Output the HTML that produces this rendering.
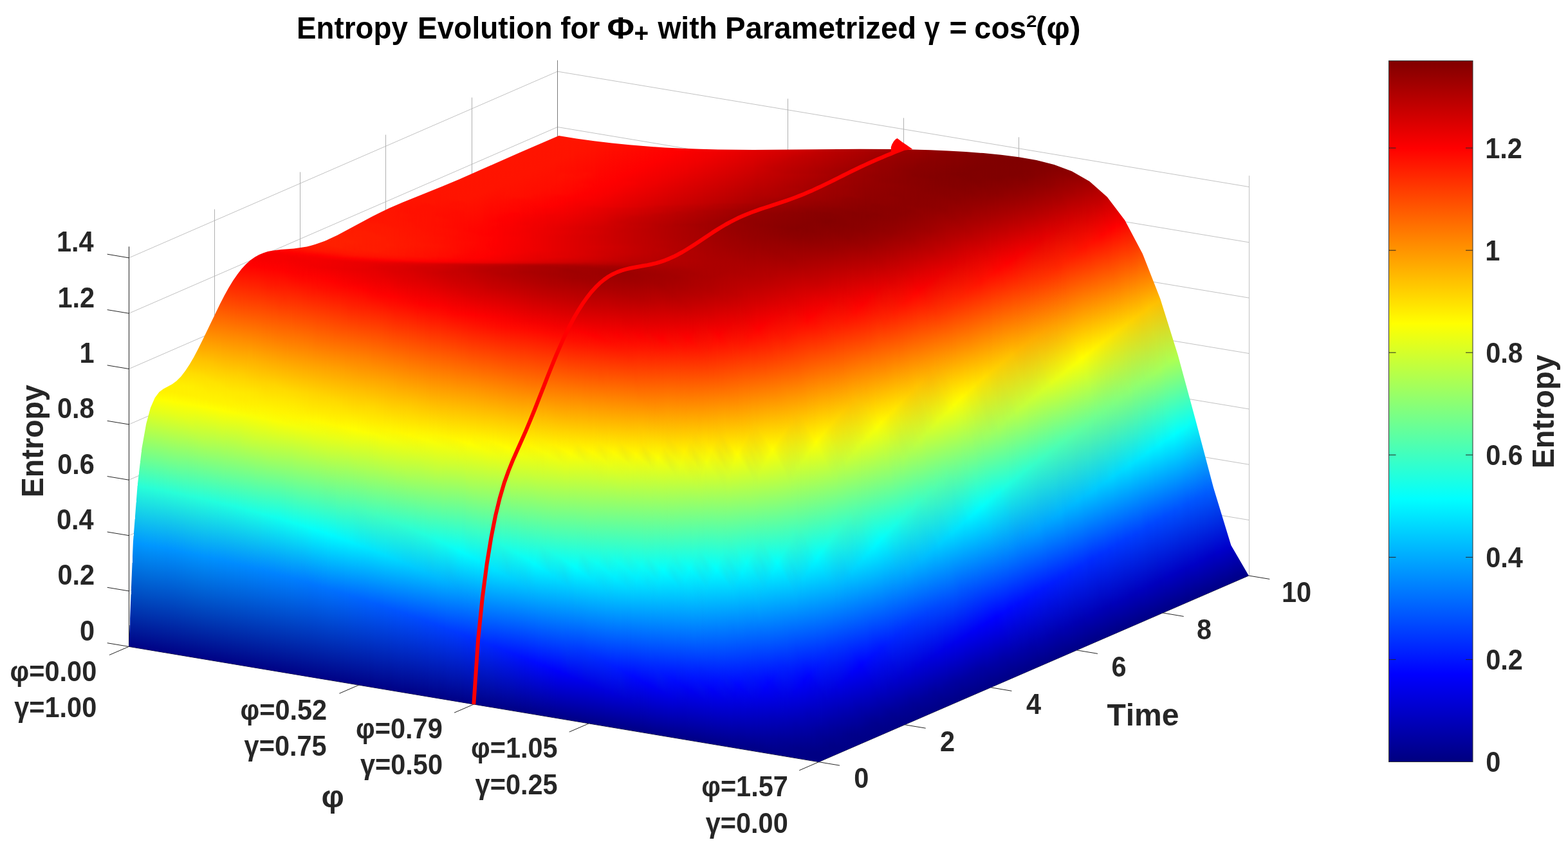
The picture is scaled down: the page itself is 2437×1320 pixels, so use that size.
<!DOCTYPE html>
<html lang="en"><head><meta charset="utf-8"><title>Entropy Evolution</title>
<style>
html,body{margin:0;padding:0;background:#fff;}
body{width:2437px;height:1320px;overflow:hidden;}
body{position:relative}
svg{position:absolute;left:0;top:0;font-family:"Liberation Sans",Arial,Helvetica,sans-serif;font-weight:bold;}
#surf{position:absolute;left:0;top:0;width:2437px;height:1320px}
#surf i{position:absolute;width:2px;background-repeat:no-repeat;background-position:0 .5px}
.g{stroke:#b0b0b0;stroke-width:1;fill:none}
.g2{stroke:#7a7a7a;stroke-width:1;fill:none}
.g3{stroke:#c2c2c2;stroke-width:1;fill:none}
.a{stroke:#262626;stroke-width:1;fill:none}
text{font-kerning:none}
.t{fill:#262626}
.ti{fill:#000}
</style></head>
<body>

<svg width="2437" height="1320" viewBox="0 0 2437 1320">
<rect width="2437" height="1320" fill="#fff"/>
<g><line x1="200.5" y1="918.9" x2="866.5" y2="629.2" class="g3"/><line x1="866.5" y1="629.2" x2="1941.5" y2="808.6" class="g3"/><line x1="200.5" y1="832.6" x2="866.5" y2="542.9" class="g3"/><line x1="866.5" y1="542.9" x2="1941.5" y2="722.3" class="g3"/><line x1="200.5" y1="746.2" x2="866.5" y2="456.5" class="g3"/><line x1="866.5" y1="456.5" x2="1941.5" y2="636" class="g3"/><line x1="200.5" y1="659.9" x2="866.5" y2="370.2" class="g3"/><line x1="866.5" y1="370.2" x2="1941.5" y2="549.6" class="g3"/><line x1="200.5" y1="573.5" x2="866.5" y2="283.8" class="g3"/><line x1="866.5" y1="283.8" x2="1941.5" y2="463.2" class="g3"/><line x1="200.5" y1="487.2" x2="866.5" y2="197.5" class="g3"/><line x1="866.5" y1="197.5" x2="1941.5" y2="376.9" class="g3"/><line x1="200.5" y1="400.9" x2="866.5" y2="111.1" class="g3"/><line x1="866.5" y1="111.1" x2="1941.5" y2="290.6" class="g3"/><line x1="333.5" y1="947.4" x2="333.5" y2="325.4" class="g"/><line x1="466.5" y1="889.4" x2="466.5" y2="267.5" class="g"/><line x1="599.5" y1="831.5" x2="599.5" y2="209.5" class="g"/><line x1="733.5" y1="773.5" x2="733.5" y2="151.6" class="g"/><line x1="866.5" y1="715.6" x2="866.5" y2="93.7" class="g2"/><line x1="1224.5" y1="775.4" x2="1224.5" y2="153.5" class="g"/><line x1="1404.5" y1="805.3" x2="1404.5" y2="183.4" class="g"/><line x1="1583.5" y1="835.2" x2="1583.5" y2="213.3" class="g"/><line x1="1941.5" y1="895" x2="1941.5" y2="273.1" class="g3"/></g>
<g><line x1="200.5" y1="1005.3" x2="200.5" y2="383.4" class="a"/><line x1="200.2" y1="1005.3" x2="1272.5" y2="1184.7" class="a"/><line x1="1272.5" y1="1184.7" x2="1940.8" y2="895" class="a"/><line x1="200.2" y1="1005.3" x2="166.7" y2="999.7" class="a"/><line x1="200.2" y1="918.9" x2="166.7" y2="913.3" class="a"/><line x1="200.2" y1="832.6" x2="166.7" y2="827" class="a"/><line x1="200.2" y1="746.2" x2="166.7" y2="740.6" class="a"/><line x1="200.2" y1="659.9" x2="166.7" y2="654.3" class="a"/><line x1="200.2" y1="573.5" x2="166.7" y2="567.9" class="a"/><line x1="200.2" y1="487.2" x2="166.7" y2="481.6" class="a"/><line x1="200.2" y1="400.9" x2="166.7" y2="395.2" class="a"/><line x1="200.2" y1="1005.3" x2="169.9" y2="1018.4" class="a"/><line x1="557.6" y1="1065.1" x2="527.4" y2="1078.2" class="a"/><line x1="736.3" y1="1095" x2="706.1" y2="1108.1" class="a"/><line x1="915.1" y1="1124.9" x2="884.8" y2="1138" class="a"/><line x1="1272.5" y1="1184.7" x2="1242.2" y2="1197.8" class="a"/><line x1="1272.5" y1="1184.7" x2="1305" y2="1190.1" class="a"/><line x1="1406.2" y1="1126.8" x2="1438.7" y2="1132.2" class="a"/><line x1="1539.8" y1="1068.8" x2="1572.4" y2="1074.3" class="a"/><line x1="1673.5" y1="1010.9" x2="1706" y2="1016.3" class="a"/><line x1="1807.1" y1="952.9" x2="1839.7" y2="958.4" class="a"/><line x1="1940.8" y1="895" x2="1973.3" y2="900.4" class="a"/></g>
</svg>
<div id="surf" style="clip-path:polygon(402.7px 396px,396px 399.7px,389.2px 404.6px,382.5px 410.6px,375.7px 417.8px,369px 426.4px,362.2px 436.2px,355.5px 447.3px,348.7px 459.4px,342px 472.4px,314.9px 528.6px,308.2px 542.1px,301.4px 554.9px,294.7px 566.6px,287.9px 576.8px,281.2px 585.4px,274.4px 592.2px,267.7px 597.2px,254.2px 604.5px,247.4px 609.5px,240.7px 618.5px,233.9px 633.9px,227.2px 658.9px,220.4px 697.2px,213.7px 754.6px,206.9px 842.4px,200.2px 1005.3px,1272.5px 1184.7px,1940.8px 895px,1913.3px 847.7px,1885.8px 757.6px,1858.3px 653.4px,1830.8px 552.2px,1803.3px 464.4px,1775.8px 394.4px,1748.3px 342.5px,1720.8px 306.2px,1693.4px 282px,1665.9px 266.2px,1638.4px 256px,1610.9px 249.1px,1583.4px 244.3px,1555.9px 240.8px,1528.4px 238.1px,1500.9px 236px,1473.4px 234.4px,1445.9px 233.3px,1418.4px 232.5px,1390.9px 232px,1335.9px 231.7px,1170.9px 233px,1116px 232.5px,1088.5px 231.8px,1061px 230.8px,1033.5px 229.4px,1006px 227.6px,978.5px 225.3px,951px 222.5px,923.5px 219.2px,896px 215.4px,868.5px 211.1px,807.7px 237.3px,713.2px 279px,686.2px 290.3px,625.5px 314.8px,605.2px 323.6px,591.7px 329.9px,578.2px 336.7px,524.2px 365.7px,510.7px 372.1px,504px 375px,490.5px 379.8px,483.7px 381.8px,477px 383.4px,463.5px 385.6px,456.7px 386.4px,436.5px 388px,423px 389.7px,416.2px 391.1px,409.5px 393.2px)"><i style="left:200px;top:971px;height:38px;background-image:linear-gradient(#001d9b,#001b99 5px,#000083 35px,#000083 37px)"></i><i style="left:202px;top:923px;height:86px;background-image:linear-gradient(#0049bf,#0047be 5px,#000084 83px,#000084 85px)"></i><i style="left:204px;top:874px;height:135px;background-image:linear-gradient(#0077e4,#0075e3 5px,#000184 132px,#000184 134px)"></i><i style="left:206px;top:832px;height:178px;background-image:linear-gradient(#03a0fc,#039efc 4px,#0096fe 11px,#000084 175px,#000084 177px)"></i><i style="left:208px;top:806px;height:204px;background-image:linear-gradient(#0fbef0,#0ebdf1 4px,#0097fe 37px,#000084 201px,#000084 203px)"></i><i style="left:210px;top:780px;height:230px;background-image:linear-gradient(#1bdde4,#1adce5 4px,#0097ff 63px,#000184 227px,#000184 229px)"></i><i style="left:212px;top:754px;height:257px;background-image:linear-gradient(#27fcd8,#26fad9 4px,#0097ff 89px,#000084 254px,#000084 256px)"></i><i style="left:214px;top:736px;height:275px;background-image:linear-gradient(#41ffbe,#41ffbe 3px,#28fed7 19px,#0097fe 108px,#000084 272px,#000084 274px)"></i><i style="left:216px;top:719px;height:292px;background-image:linear-gradient(#5dffa2,#5dffa2 3px,#28ffd7 36px,#0097ff 125px,#000184 289px,#000184 291px)"></i><i style="left:218px;top:702px;height:310px;background-image:linear-gradient(#7aff85,#7aff85 3px,#27fed8 54px,#0096fe 143px,#000084 307px,#000084 309px)"></i><i style="left:220px;top:688px;height:324px;background-image:linear-gradient(#90ff6f,#8fff70 4px,#28fed7 68px,#0097fe 157px,#000084 321px,#000084 323px)"></i><i style="left:222px;top:677px;height:335px;background-image:linear-gradient(#a2ff5d,#a0ff5f 4px,#52ffad 53px,#28ffd7 79px,#0097ff 168px,#000184 332px,#000184 334px)"></i><i style="left:224px;top:666px;height:347px;background-image:linear-gradient(#b3ff4c,#b1ff4e 4px,#6bff94 49px,#27fed8 91px,#0097fe 180px,#000084 344px,#000084 346px)"></i><i style="left:226px;top:655px;height:358px;background-image:linear-gradient(#c4ff3b,#c2ff3d 4px,#70ff8f 57px,#28fed7 102px,#0097ff 191px,#000084 355px,#000084 357px)"></i><i style="left:228px;top:647px;height:366px;background-image:linear-gradient(#d1ff2e,#cfff30 4px,#73ff8c 64px,#28ffd7 110px,#0097ff 199px,#000184 363px,#000184 365px)"></i><i style="left:230px;top:640px;height:374px;background-image:linear-gradient(#dcff23,#daff25 4px,#73ff8c 71px,#27fed8 118px,#0097fe 207px,#000084 371px,#000084 373px)"></i><i style="left:232px;top:633px;height:381px;background-image:linear-gradient(#e7ff18,#e5ff1a 4px,#74ff8b 78px,#28fed7 125px,#0097ff 214px,#000084 378px,#000084 380px)"></i><i style="left:234px;top:627px;height:387px;background-image:linear-gradient(#efff10,#ef1 4px,#76ff89 83px,#28ffd7 131px,#0097ff 220px,#000184 384px,#000184 386px)"></i><i style="left:236px;top:623px;height:392px;background-image:linear-gradient(#f5ff0a,#f4ff0b 4px,#df2 20px,#73ff8c 89px,#27fed8 136px,#0096fe 225px,#000084 389px,#000084 391px)"></i><i style="left:238px;top:618px;height:397px;background-image:linear-gradient(#fbff04,#faff05 4px,#e2ff1d 22px,#74ff8b 94px,#28fed7 141px,#0096ff 230px,#000084 394px,#000084 396px)"></i><i style="left:240px;top:614px;height:401px;background-image:linear-gradient(#fffe00,#feff01 5px,#e4ff1b 25px,#74ff8b 98px,#28ffd7 145px,#0096ff 234px,#000184 398px,#000184 400px)"></i><i style="left:242px;top:612px;height:404px;background-image:linear-gradient(#fffb00,#fffc00 4px,#fdff02 8px,#e3ff1c 28px,#73ff8c 101px,#28fed7 148px,#0095fe 237px,#000084 401px,#000084 403px)"></i><i style="left:244px;top:609px;height:407px;background-image:linear-gradient(#fff700,#fff800 4px,#fdff02 11px,#e4ff1b 31px,#74ff8b 104px,#28ffd7 151px,#0096ff 240px,#000084 404px,#000084 406px)"></i><i style="left:246px;top:607px;height:409px;background-image:linear-gradient(#fff400,#fff500 4px,#feff01 13px,#e4ff1b 33px,#74ff8b 106px,#27fed8 154px,#0095fe 243px,#000184 406px,#000184 408px)"></i><i style="left:248px;top:605px;height:412px;background-image:linear-gradient(#fff200,#fff400 5px,#feff01 15px,#e5ff1a 35px,#73ff8c 109px,#28fed7 156px,#0095ff 245px,#000084 409px,#000084 411px)"></i><i style="left:250px;top:604px;height:413px;background-image:linear-gradient(#fff100,#fff300 6px,#ff0 16px,#e4ff1b 37px,#74ff8b 110px,#28ffd7 157px,#0095ff 246px,#000084 410px,#000084 412px)"></i><i style="left:252px;top:602px;height:415px;background-image:linear-gradient(#fff000,#fff200 7px,#feff01 19px,#e5ff1a 39px,#73ff8c 113px,#27fed8 160px,#0094fe 249px,#000184 412px,#000184 414px)"></i><i style="left:254px;top:601px;height:417px;background-image:linear-gradient(#ffef00,#fff200 8px,#feff01 20px,#e5ff1a 40px,#74ff8b 114px,#28fed7 161px,#0094ff 250px,#000084 414px,#000084 416px)"></i><i style="left:256px;top:600px;height:418px;background-image:linear-gradient(#ffef00,#fff100 8px,#ff0 21px,#e4ff1b 42px,#74ff8b 115px,#28ffd7 162px,#0094ff 251px,#000084 415px,#000084 417px)"></i><i style="left:258px;top:599px;height:419px;background-image:linear-gradient(#ffef00,#fff000 8px,#fff900 17px,#feff01 23px,#e5ff1a 43px,#75ff8a 116px,#28fed7 164px,#0093fe 253px,#000184 416px,#000184 418px)"></i><i style="left:260px;top:598px;height:421px;background-image:linear-gradient(#ffef00,#fff000 9px,#fff900 18px,#feff01 24px,#e5ff1a 44px,#74ff8b 118px,#28ffd7 165px,#0093ff 254px,#000084 418px,#000084 420px)"></i><i style="left:262px;top:597px;height:422px;background-image:linear-gradient(#ffef00,#fff100 11px,#fffb00 21px,#feff01 26px,#e4ff1b 46px,#75ff8a 119px,#27fed8 167px,#0093fe 256px,#000084 419px,#000084 421px)"></i><i style="left:264px;top:595px;height:424px;background-image:linear-gradient(#ffef00,#fff000 13px,#fff900 22px,#feff01 28px,#e3ff1c 49px,#74ff8b 122px,#28fed7 169px,#0093ff 258px,#000184 421px,#000184 423px)"></i><i style="left:266px;top:594px;height:426px;background-image:linear-gradient(#ffef00,#fff000 14px,#fff900 23px,#feff01 29px,#e4ff1b 50px,#74ff8b 123px,#28ffd7 170px,#0093ff 259px,#000084 423px,#000084 425px)"></i><i style="left:268px;top:593px;height:427px;background-image:linear-gradient(#fe0,#fff000 15px,#fff800 24px,#feff01 31px,#e4ff1b 51px,#75ff8a 124px,#28fed7 172px,#0093fe 261px,#000084 424px,#000084 426px)"></i><i style="left:270px;top:591px;height:429px;background-image:linear-gradient(#ffed00,#fff000 18px,#fff900 27px,#feff01 33px,#e3ff1c 54px,#75ff8a 126px,#28ffd7 174px,#0093ff 263px,#000184 426px,#000184 428px)"></i><i style="left:272px;top:590px;height:431px;background-image:linear-gradient(#ffec00,#ffef00 13px,#fff100 20px,#fffc00 31px,#fcff03 36px,#e4ff1b 55px,#74ff8b 128px,#27fed8 176px,#0093ff 264px,#000084 428px,#000084 430px)"></i><i style="left:274px;top:588px;height:433px;background-image:linear-gradient(#ffea00,#ffed00 6px,#ffef00 13px,#fff100 22px,#fffa00 32px,#feff01 37px,#e4ff1b 57px,#75ff8a 130px,#28fed7 178px,#0093ff 267px,#000084 430px,#000084 432px)"></i><i style="left:276px;top:586px;height:435px;background-image:linear-gradient(#ffe800,#ffe900 4px,#ffef00 14px,#fff000 24px,#fff900 33px,#feff01 39px,#e5ff1a 59px,#71ff8e 135px,#28ffd7 180px,#0093ff 269px,#000184 432px,#000184 434px)"></i><i style="left:278px;top:584px;height:438px;background-image:linear-gradient(#ffe600,#ffe700 4px,#ffef00 15px,#fff000 26px,#fff800 35px,#feff01 41px,#e4ff1b 62px,#69ff96 142px,#28fed7 183px,#0093fe 272px,#000084 435px,#000084 437px)"></i><i style="left:280px;top:582px;height:440px;background-image:linear-gradient(#ffe300,#ffe400 4px,#ffef00 17px,#fff000 28px,#fff800 37px,#feff01 44px,#e5ff1a 64px,#64ff9b 148px,#28ffd7 185px,#0093ff 274px,#000084 437px,#000084 439px)"></i><i style="left:282px;top:580px;height:442px;background-image:linear-gradient(#ffe100,#ffe300 5px,#fe0 18px,#fff000 31px,#fff900 40px,#feff01 46px,#e5ff1a 66px,#5cffa3 155px,#27fed8 188px,#0093ff 276px,#000184 439px,#000184 441px)"></i><i style="left:284px;top:577px;height:446px;background-image:linear-gradient(#ffde00,#ffe000 5px,#ffef00 22px,#fff000 34px,#fffa00 44px,#fdff02 50px,#e4ff1b 70px,#5fa 163px,#28fed7 191px,#0093ff 280px,#000084 443px,#000084 445px)"></i><i style="left:286px;top:574px;height:449px;background-image:linear-gradient(#ffdc00,#fd0 5px,#ffef00 25px,#fff100 38px,#fffa00 48px,#feff01 53px,#e5ff1a 73px,#4dffb2 171px,#27fed8 195px,#0093ff 283px,#000084 446px,#000084 448px)"></i><i style="left:288px;top:571px;height:452px;background-image:linear-gradient(#ffd800,#ffd900 4px,#fe0 28px,#fff000 41px,#fff900 50px,#feff01 56px,#e4ff1b 77px,#42ffbd 181px,#28fed7 198px,#0093fe 287px,#000184 449px,#000184 451px)"></i><i style="left:290px;top:568px;height:456px;background-image:linear-gradient(#ffd300,#ffd400 4px,#ffde00 12px,#ffef00 32px,#fff000 44px,#fffa00 54px,#fdff02 60px,#e1ff1e 82px,#36ffc9 192px,#27fed8 202px,#0093ff 290px,#000084 453px,#000084 455px)"></i><i style="left:292px;top:565px;height:459px;background-image:linear-gradient(#ffce00,#ffd000 4px,#fd0 14px,#ffef00 35px,#fff100 48px,#fffa00 58px,#feff01 63px,#dfff20 87px,#27fed8 205px,#0093fe 294px,#000084 456px,#000084 458px)"></i><i style="left:294px;top:562px;height:462px;background-image:linear-gradient(#ffca00,#ffcb00 4px,#fd0 18px,#ffef00 39px,#fff000 51px,#fff900 60px,#feff01 66px,#dbff24 93px,#28ffd7 208px,#0093ff 297px,#000184 459px,#000184 461px)"></i><i style="left:296px;top:559px;height:466px;background-image:linear-gradient(#ffc700,#ffc900 5px,#fd0 21px,#ffef00 42px,#fff000 54px,#fff800 63px,#ff0 69px,#d9ff26 98px,#27fed8 212px,#0093ff 300px,#000084 463px,#000084 465px)"></i><i style="left:298px;top:555px;height:470px;background-image:linear-gradient(#ffc300,#ffc500 5px,#ffd100 16px,#ffde00 26px,#fe0 45px,#fff100 59px,#fffa00 69px,#feff01 74px,#d5ff2a 105px,#27fed8 216px,#0093fe 305px,#000084 467px,#000084 469px)"></i><i style="left:300px;top:552px;height:473px;background-image:linear-gradient(#ffc000,#ffc200 5px,#ffcf00 18px,#fd0 29px,#ffed00 47px,#fff100 63px,#feff01 77px,#ceff31 113px,#27ffd8 219px,#0093ff 308px,#000184 470px,#000184 472px)"></i><i style="left:302px;top:548px;height:478px;background-image:linear-gradient(#ffba00,#fb0 4px,#ffd000 23px,#fd0 33px,#ffec00 51px,#ffef00 60px,#fff100 67px,#fffc00 78px,#fdff02 82px,#c8ff37 121px,#27fed8 224px,#0093fe 313px,#000084 475px,#000084 477px)"></i><i style="left:304px;top:544px;height:482px;background-image:linear-gradient(#ffb400,#ffb500 4px,#ffc200 14px,#ffd000 27px,#fd0 37px,#ffec00 56px,#fff100 72px,#feff01 86px,#c1ff3e 130px,#26ffd9 228px,#0093ff 317px,#000084 479px,#000084 481px)"></i><i style="left:306px;top:540px;height:486px;background-image:linear-gradient(#ffad00,#ffaf00 4px,#ffc200 18px,#ffcf00 31px,#fd0 42px,#ffec00 60px,#ffef00 69px,#fff200 77px,#feff01 90px,#bdff42 137px,#26fed9 233px,#0093ff 321px,#000184 483px,#000184 485px)"></i><i style="left:308px;top:537px;height:490px;background-image:linear-gradient(#ffa900,#fa0 4px,#ffc100 21px,#ffcf00 34px,#fd0 45px,#ffec00 64px,#fff200 80px,#ff0 93px,#bf4 142px,#26ffd9 236px,#0093ff 325px,#000084 487px,#000084 489px)"></i><i style="left:310px;top:533px;height:494px;background-image:linear-gradient(#ffa500,#ffa600 4px,#ffc200 26px,#ffd000 39px,#fd0 49px,#ffec00 69px,#fff300 86px,#feff01 98px,#b8ff47 148px,#26ffd9 240px,#0093ff 329px,#000084 491px,#000084 493px)"></i><i style="left:312px;top:528px;height:499px;background-image:linear-gradient(#ff9f00,#ffa000 4px,#ffb300 20px,#ffc200 31px,#ffcf00 44px,#fd0 55px,#ffec00 74px,#fff200 91px,#feff01 103px,#b6ff49 155px,#25ffda 246px,#0093fe 335px,#000184 496px,#000184 498px)"></i><i style="left:314px;top:524px;height:504px;background-image:linear-gradient(#ff9a00,#ff9b00 4px,#ffb100 23px,#ffc200 36px,#ffd000 49px,#fd0 59px,#ffec00 79px,#fff300 96px,#ff0 107px,#b3ff4c 161px,#25ffda 250px,#0093ff 339px,#000084 501px,#000084 503px)"></i><i style="left:316px;top:520px;height:508px;background-image:linear-gradient(#ff9400,#ff9600 4px,#ffb200 28px,#ffc200 40px,#ffd000 53px,#ffde00 64px,#ffec00 85px,#fff300 101px,#feff01 112px,#b1ff4e 167px,#25feda 255px,#0093fe 344px,#000084 505px,#000084 507px)"></i><i style="left:318px;top:516px;height:512px;background-image:linear-gradient(#ff8f00,#ff9000 4px,#ffa900 25px,#ffc200 44px,#ffcf00 57px,#ffde00 69px,#ffef00 94px,#fff100 102px,#feff01 116px,#afff50 172px,#25ffda 259px,#0093ff 348px,#000184 509px,#000184 511px)"></i><i style="left:320px;top:512px;height:517px;background-image:linear-gradient(#ff8900,#ff8a00 4px,#ffa400 25px,#ffb600 39px,#ffc300 49px,#ffd000 62px,#ffe000 75px,#ffef00 99px,#fff200 107px,#ff0 120px,#aeff51 177px,#24fedb 264px,#0092fe 353px,#000084 514px,#000084 516px)"></i><i style="left:322px;top:508px;height:521px;background-image:linear-gradient(#ff8300,#ff8500 4px,#ffa300 28px,#ffb400 42px,#ffc200 53px,#ffd100 67px,#ffe000 80px,#ffef00 104px,#fff300 113px,#feff01 125px,#acff53 183px,#24ffdb 268px,#0092ff 357px,#000084 518px,#000084 520px)"></i><i style="left:324px;top:503px;height:526px;background-image:linear-gradient(#ff7c00,#ff7e00 4px,#ffa200 33px,#ffb400 47px,#ffc200 58px,#ffd200 73px,#ffe200 87px,#ffef00 110px,#fff300 119px,#ff0 130px,#af5 189px,#46ffb9 252px,#23fedc 274px,#0092ff 362px,#000184 523px,#000184 525px)"></i><i style="left:326px;top:499px;height:531px;background-image:linear-gradient(#f70,#ff7800 4px,#ffa200 37px,#ffb300 51px,#ffc300 63px,#ffd400 79px,#ffe300 93px,#ffef00 114px,#fff300 123px,#feff01 135px,#a8ff57 195px,#57ffa8 246px,#23ffdc 278px,#0091fe 367px,#000084 528px,#000084 530px)"></i><i style="left:328px;top:495px;height:535px;background-image:linear-gradient(#ff7100,#ff7200 4px,#ffa200 41px,#ffb300 55px,#ffc200 67px,#ffd400 84px,#ffe300 98px,#ffef00 118px,#fff300 127px,#feff01 139px,#a7ff58 200px,#63ff9c 243px,#23fedc 283px,#0091ff 371px,#000084 532px,#000084 534px)"></i><i style="left:330px;top:491px;height:539px;background-image:linear-gradient(#ff6b00,#ff6d00 4px,#ffa200 46px,#ffb400 60px,#ffc300 72px,#ffd600 90px,#ffe300 102px,#ffef00 123px,#fff300 132px,#ff0 143px,#a4ff5b 206px,#67ff98 245px,#23ffdc 287px,#0091fe 376px,#000184 536px,#000184 538px)"></i><i style="left:332px;top:487px;height:544px;background-image:linear-gradient(#f60,#ff6700 4px,#ffa200 50px,#ffb400 65px,#ffc500 79px,#ffd900 97px,#ffe400 108px,#ffef00 127px,#fff300 136px,#feff01 148px,#a4ff5b 210px,#69ff96 248px,#22fedd 292px,#0091ff 380px,#000084 541px,#000084 543px)"></i><i style="left:334px;top:483px;height:548px;background-image:linear-gradient(#ff6000,#ff6100 4px,#ffa200 54px,#ffb500 70px,#ffc600 84px,#ffe400 112px,#ffef00 131px,#fff300 140px,#feff01 152px,#afff50 207px,#6dff92 250px,#2fd 296px,#0090fe 385px,#000084 545px,#000084 547px)"></i><i style="left:336px;top:478px;height:553px;background-image:linear-gradient(#ff5a00,#ff5b00 4px,#ffa200 60px,#ffb700 77px,#ffc900 92px,#ffe400 118px,#ffef00 136px,#fff200 145px,#ff0 157px,#b9ff46 206px,#6fff90 254px,#22fedd 302px,#0090ff 390px,#000184 550px,#000184 552px)"></i><i style="left:338px;top:474px;height:558px;background-image:linear-gradient(#ff5600,#ff5700 4px,#ff7600 29px,#ffa200 64px,#ffc800 96px,#ffe400 122px,#ffef00 141px,#fff300 150px,#feff01 162px,#baff45 209px,#6fff90 258px,#21fede 306px,#008ffe 395px,#000084 555px,#000084 557px)"></i><i style="left:340px;top:470px;height:562px;background-image:linear-gradient(#ff5100,#ff5200 4px,#ff6c00 26px,#ffa200 68px,#ffca00 102px,#ffe500 127px,#ffef00 145px,#fff300 154px,#ff0 166px,#c2ff3d 208px,#70ff8f 262px,#21fede 311px,#008fff 399px,#000084 559px,#000084 561px)"></i><i style="left:342px;top:466px;height:566px;background-image:linear-gradient(#ff4b00,#ff4d00 4px,#ff6e00 32px,#ffa300 73px,#ffcd00 109px,#ffe500 132px,#ffef00 149px,#fff200 158px,#feff01 171px,#c7ff38 209px,#70ff8f 266px,#21fede 315px,#0090ff 403px,#000184 563px,#000184 565px)"></i><i style="left:344px;top:463px;height:570px;background-image:linear-gradient(#ff4600,#ff4800 4px,#f70 42px,#ffa500 79px,#ffd000 115px,#ffe500 136px,#ffef00 153px,#fff300 162px,#feff01 174px,#c8ff37 212px,#6fff90 270px,#20fedf 319px,#008ffe 407px,#000084 567px,#000084 569px)"></i><i style="left:346px;top:459px;height:574px;background-image:linear-gradient(#ff4000,#ff4200 4px,#ff5b00 24px,#ffa600 84px,#ffd400 123px,#ffe600 141px,#ffef00 158px,#fff400 168px,#ff0 178px,#bcff43 224px,#70ff8f 274px,#20fedf 323px,#008fff 411px,#000084 571px,#000084 573px)"></i><i style="left:348px;top:455px;height:578px;background-image:linear-gradient(#ff3b00,#ff3c00 4px,#ff5c00 29px,#ffa800 90px,#ffd700 130px,#ffe700 147px,#ffef00 163px,#fff500 173px,#feff01 183px,#a2ff5d 246px,#68ff97 283px,#20ffdf 327px,#008efe 416px,#000184 575px,#000184 577px)"></i><i style="left:350px;top:451px;height:583px;background-image:linear-gradient(#ff3500,#ff3700 4px,#fa0 96px,#ffd700 135px,#ffe700 153px,#ffef00 168px,#fff600 178px,#feff01 187px,#8f7 267px,#20fedf 332px,#008eff 420px,#000084 580px,#000084 582px)"></i><i style="left:352px;top:448px;height:586px;background-image:linear-gradient(#ff3100,#f30 4px,#ffab00 100px,#ffd700 138px,#ffe900 158px,#fff400 180px,#fdff02 191px,#81ff7e 275px,#20ffdf 335px,#008efe 424px,#000084 583px,#000084 585px)"></i><i style="left:354px;top:444px;height:590px;background-image:linear-gradient(#ff2c00,#ff2d00 4px,#ffac00 105px,#ffd700 142px,#ffea00 164px,#fff400 184px,#fdff02 195px,#8cff73 272px,#1ffee0 340px,#008eff 428px,#000184 587px,#000184 589px)"></i><i style="left:356px;top:441px;height:594px;background-image:linear-gradient(#ff2900,#ff2a00 4px,#ff5400 38px,#ffab00 108px,#ffd700 146px,#ffeb00 169px,#fff400 188px,#feff01 198px,#9aff65 266px,#63ff9c 301px,#1fffe0 343px,#008dfe 432px,#000084 591px,#000084 593px)"></i><i style="left:358px;top:438px;height:597px;background-image:linear-gradient(#ff2500,#ff2700 4px,#ff4f00 38px,#ff8d00 87px,#ffd200 144px,#ffea00 171px,#fff400 191px,#fdff02 202px,#97ff68 271px,#61ff9e 306px,#1ffee0 347px,#008dff 435px,#000084 594px,#000084 596px)"></i><i style="left:360px;top:434px;height:601px;background-image:linear-gradient(#ff2100,#f20 4px,#ff4500 35px,#ff8d00 91px,#ffd400 150px,#ffea00 176px,#fff400 195px,#fdff02 206px,#9fff60 270px,#68ff97 306px,#1fffe0 351px,#008cfe 440px,#000184 598px,#000184 600px)"></i><i style="left:362px;top:431px;height:605px;background-image:linear-gradient(#ff1e00,#ff1f00 4px,#ff3800 27px,#ff6400 62px,#ff8d00 95px,#ffd300 153px,#ffea00 179px,#fff200 195px,#fcff03 210px,#9bff64 276px,#67ff98 310px,#1efee1 355px,#008cff 443px,#000084 602px,#000084 604px)"></i><i style="left:364px;top:428px;height:608px;background-image:linear-gradient(#ff1a00,#ff1b00 4px,#ff3900 31px,#ff5e00 61px,#ff8d00 98px,#ffd300 156px,#ffea00 182px,#fff000 195px,#fef701 205px,#fcff03 213px,#9fff60 277px,#67ff98 313px,#1effe1 358px,#008cfe 447px,#000084 605px,#000084 607px)"></i><i style="left:366px;top:426px;height:610px;background-image:linear-gradient(#ff1800,#ff1900 4px,#ff3800 33px,#ff5900 60px,#ff8d00 100px,#ffa500 120px,#ffd400 159px,#ffea00 184px,#fe0 195px,#fef701 207px,#fcff03 215px,#a2ff5d 277px,#69ff96 314px,#1dfee2 361px,#008cff 449px,#000184 607px,#000184 609px)"></i><i style="left:368px;top:423px;height:614px;background-image:linear-gradient(#ff1400,#ff1500 4px,#ff3800 36px,#ff5800 62px,#ff8d00 103px,#ffa100 120px,#ffd200 160px,#ffea00 187px,#fe0 198px,#fef601 210px,#fbff04 219px,#a0ff5f 282px,#68ff97 318px,#1dffe2 364px,#008bfe 453px,#000084 611px,#000084 613px)"></i><i style="left:370px;top:420px;height:617px;background-image:linear-gradient(#ff1000,#f10 4px,#ff3a00 41px,#ff5700 65px,#ff8c00 106px,#ff9f00 122px,#ffcd00 159px,#ffe900 189px,#fe0 201px,#fef701 214px,#fbff04 222px,#abff54 278px,#6aff95 320px,#1dfee2 368px,#008bff 456px,#000084 614px,#000084 616px)"></i><i style="left:372px;top:418px;height:619px;background-image:linear-gradient(#ff0d00,#ff0e00 4px,#ff3f00 48px,#ff5b00 70px,#ff8d00 109px,#ffa000 125px,#ffd000 164px,#ffe900 192px,#ffed00 203px,#fef701 216px,#faff05 225px,#aeff51 278px,#68ff97 324px,#1dffe2 370px,#008afe 459px,#000184 616px,#000184 618px)"></i><i style="left:374px;top:415px;height:623px;background-image:linear-gradient(#ff0900,#ff0a00 4px,#ff4c00 62px,#ff8d00 112px,#ffa000 128px,#ffcf00 166px,#ffea00 196px,#ffed00 206px,#fef601 219px,#faff05 228px,#b5ff4a 277px,#65ff9a 329px,#1cfee3 374px,#008bff 462px,#000084 620px,#000084 622px)"></i><i style="left:376px;top:413px;height:625px;background-image:linear-gradient(#ff0600,#ff0700 4px,#ff2900 34px,#f50 71px,#ff8c00 114px,#ff9f00 130px,#ffcd00 167px,#ffea00 198px,#fe0 209px,#fef701 222px,#f9ff06 231px,#bf4 276px,#62ff9d 333px,#1cfee3 377px,#008afe 465px,#000084 622px,#000084 624px)"></i><i style="left:378px;top:411px;height:627px;background-image:linear-gradient(#ff0400,#ff0600 5px,#ff4500 61px,#ff8e00 118px,#ffa200 134px,#ffd000 172px,#ffea00 200px,#ffed00 211px,#fef701 224px,#faff05 233px,#beff41 276px,#63ff9c 335px,#1cfee3 379px,#008aff 467px,#000184 624px,#000184 626px)"></i><i style="left:380px;top:409px;height:630px;background-image:linear-gradient(#ff0200,#ff0400 5px,#ff3b00 54px,#ff5800 78px,#ff8f00 121px,#ffa300 137px,#ffd000 175px,#ffe900 202px,#ffed00 213px,#fef601 226px,#faff05 235px,#c1ff3e 277px,#62ff9d 338px,#1bfee4 382px,#0089fe 470px,#000084 627px,#000084 629px)"></i><i style="left:382px;top:407px;height:632px;background-image:linear-gradient(#f00,#ff0200 5px,#ff3800 54px,#ff5800 80px,#ff9000 124px,#ffa200 139px,#ffce00 176px,#ffe800 203px,#fe0 217px,#fef701 229px,#f9ff06 238px,#c0ff3f 280px,#5fffa0 342px,#1bffe4 384px,#0089ff 472px,#000084 629px,#000084 631px)"></i><i style="left:384px;top:405px;height:634px;background-image:linear-gradient(#fe0000,#ff0100 7px,#ff3900 57px,#ff5700 82px,#ff9300 129px,#fb0 161px,#ffd400 184px,#ffe800 205px,#fe0 219px,#fef701 231px,#faff05 240px,#c0ff3f 282px,#5bffa4 347px,#1bfee4 387px,#0089fe 475px,#000184 631px,#000184 633px)"></i><i style="left:386px;top:403px;height:637px;background-image:linear-gradient(#fc0000,#ff0100 9px,#ff3800 59px,#ff5800 85px,#ffa900 148px,#ffd000 183px,#ffe700 206px,#ffef00 222px,#fdf802 235px,#f9ff06 243px,#c1ff3e 284px,#58ffa7 351px,#1bffe4 389px,#0089ff 477px,#000084 634px,#000084 636px)"></i><i style="left:388px;top:401px;height:639px;background-image:linear-gradient(#fb0000,#fe0000 9px,#ff0c00 22px,#ff3c00 64px,#ff5800 87px,#ffa800 150px,#ffd100 186px,#ffe700 208px,#fff100 228px,#fcfd03 242px,#f7ff08 247px,#bcff43 290px,#48ffb7 363px,#1afee5 392px,#0088fe 480px,#000084 636px,#000084 638px)"></i><i style="left:390px;top:400px;height:640px;background-image:linear-gradient(#fa0000,#fe0000 9px,#ff0300 15px,#ff3a00 64px,#ff5700 88px,#ffa800 151px,#ffd100 188px,#ffe600 209px,#fff000 228px,#fcfd03 243px,#f8ff07 248px,#c0ff3f 289px,#4effb1 361px,#1affe5 393px,#08f 481px,#000184 637px,#000184 639px)"></i><i style="left:392px;top:399px;height:642px;background-image:linear-gradient(#f90000,#fc0000 8px,#ff0100 14px,#ff3a00 65px,#ff5800 90px,#ffb300 162px,#ffd200 190px,#ffe600 210px,#fff000 228px,#fdfa02 242px,#f9ff06 248px,#c5ff3a 287px,#5fa 358px,#1afee5 395px,#0087fe 483px,#000084 639px,#000084 641px)"></i><i style="left:394px;top:397px;height:644px;background-image:linear-gradient(#f80000,#fa0000 7px,#ff0100 16px,#ff3800 66px,#ff5c00 95px,#ffb200 164px,#ffd200 193px,#ffe500 212px,#fff000 231px,#fcfc03 246px,#f9ff06 251px,#c8ff37 287px,#5cffa3 356px,#19ffe6 397px,#08f 485px,#000084 641px,#000084 643px)"></i><i style="left:396px;top:396px;height:645px;background-image:linear-gradient(#f70000,#fa0000 8px,#ff0100 17px,#ff3900 68px,#ff6200 101px,#ffb200 165px,#ffd200 194px,#ffe500 213px,#fff000 232px,#fdfa02 246px,#f9ff06 252px,#cdff32 285px,#7dff82 337px,#19fee6 399px,#0087fe 487px,#000184 642px,#000184 644px)"></i><i style="left:398px;top:395px;height:647px;background-image:linear-gradient(#f70000,#f90000 7px,#ff0100 19px,#ff3a00 70px,#ff6200 103px,#ffb100 166px,#ffd300 197px,#ffe500 215px,#fff100 234px,#fcfc03 249px,#f8ff07 254px,#cfff30 285px,#8aff75 330px,#19ffe6 400px,#0087ff 488px,#000084 644px,#000084 646px)"></i><i style="left:400px;top:394px;height:648px;background-image:linear-gradient(#f70000,#f80000 8px,#ff0100 20px,#ff3500 67px,#ff6300 105px,#ffb200 168px,#ffd400 199px,#ffe500 216px,#fff000 235px,#fcfc03 250px,#f9ff06 255px,#cf3 288px,#79ff86 342px,#19fee6 402px,#0086fe 490px,#000084 645px,#000084 647px)"></i><i style="left:402px;top:393px;height:649px;background-image:linear-gradient(#f70000,#f80000 9px,#ff0100 21px,#ff3000 64px,#ff6400 107px,#ffb100 169px,#ffde00 210px,#ffe700 222px,#fef901 247px,#faff05 256px,#c7ff38 293px,#5effa1 360px,#18ffe7 403px,#0086ff 491px,#000184 646px,#000184 648px)"></i><i style="left:404px;top:392px;height:651px;background-image:linear-gradient(#f70000,#f90000 11px,#ff0100 23px,#ff2600 57px,#ff6200 107px,#ffb100 170px,#ffde00 211px,#ffe600 223px,#fef901 248px,#faff05 257px,#c0ff3f 299px,#52ffad 369px,#18fee7 405px,#0086fe 493px,#000084 648px,#000084 650px)"></i><i style="left:406px;top:391px;height:652px;background-image:linear-gradient(#f70000,#f80000 12px,#ff0100 24px,#ff2500 58px,#ff6500 111px,#ffb000 171px,#ffd500 204px,#ffe500 222px,#fff300 242px,#fbff04 258px,#b9ff46 305px,#42ffbd 380px,#17fee8 407px,#0086ff 494px,#000084 649px,#000084 651px)"></i><i style="left:408px;top:390px;height:653px;background-image:linear-gradient(#f70000,#f80000 13px,#ff0100 25px,#ff2400 58px,#ff6900 116px,#ffb100 173px,#ffd500 205px,#ffe500 224px,#fff300 243px,#fbff04 259px,#b7ff48 308px,#43ffbc 381px,#17ffe8 408px,#0085fe 496px,#000184 650px,#000184 652px)"></i><i style="left:410px;top:390px;height:654px;background-image:linear-gradient(#f70000,#f80000 13px,#ff0100 26px,#f20 57px,#ff6e00 120px,#ffb000 173px,#ffd500 205px,#ffe500 225px,#fff400 244px,#faff05 260px,#b1ff4e 312px,#46ffb9 379px,#16fee9 409px,#0085ff 496px,#000084 651px,#000084 653px)"></i><i style="left:412px;top:389px;height:655px;background-image:linear-gradient(#f70000,#f80000 15px,#ff0100 27px,#ff2000 57px,#ff7200 125px,#ffb000 174px,#ffd400 206px,#ffe600 228px,#fff400 246px,#f9ff06 262px,#adff52 316px,#4cffb3 377px,#16ffe9 410px,#0085fe 498px,#000084 652px,#000084 654px)"></i><i style="left:414px;top:388px;height:656px;background-image:linear-gradient(#f70000,#f80000 16px,#ff0100 28px,#ff1f00 58px,#ff7500 129px,#ffaf00 175px,#ffd500 208px,#ffe600 229px,#fff400 247px,#faff05 263px,#acff53 318px,#46ffb9 382px,#15feea 412px,#0395fc 487px,#0085ff 499px,#000184 653px,#000184 655px)"></i><i style="left:416px;top:388px;height:657px;background-image:linear-gradient(#f70000,#f80000 16px,#ff0100 28px,#ff1f00 58px,#ff7900 132px,#ffb000 176px,#ffd500 208px,#ffe600 229px,#fff400 247px,#fbff04 263px,#abff54 319px,#3affc5 389px,#15ffea 412px,#0290fd 491px,#0084fe 500px,#000084 654px,#000084 656px)"></i><i style="left:418px;top:387px;height:658px;background-image:linear-gradient(#f90000,#f90000 3px,#f70000 6px,#f80000 18px,#ff0100 30px,#ff1e00 59px,#f50 104px,#ffb000 178px,#ffd500 209px,#ffe600 230px,#fff400 249px,#faff05 265px,#af5 321px,#31ffce 396px,#14feeb 414px,#028cfd 495px,#0083fe 502px,#000084 655px,#000084 657px)"></i><i style="left:420px;top:387px;height:658px;background-image:linear-gradient(#f90000,#f70000 11px,#f90000 19px,#ff0100 30px,#ff1b00 57px,#ff5700 106px,#ffb000 178px,#ffd500 210px,#ffe600 230px,#fff400 249px,#faff05 265px,#a8ff57 322px,#2effd1 398px,#13feec 415px,#0084fe 502px,#000184 655px,#000184 657px)"></i><i style="left:422px;top:387px;height:659px;background-image:linear-gradient(#fa0000,#f70000 9px,#f90000 19px,#ff0100 30px,#ff1a00 56px,#ff5800 108px,#ffaf00 178px,#ffd500 210px,#ffe600 231px,#fff500 250px,#faff05 266px,#a7ff58 323px,#2effd1 398px,#13ffec 415px,#0084ff 502px,#000084 656px,#000084 658px)"></i><i style="left:424px;top:386px;height:660px;background-image:linear-gradient(#fc0000,#fc0000 3px,#f70000 7px,#f90000 20px,#ff0100 32px,#ff1900 56px,#ff4300 91px,#ff5c00 112px,#ffaf00 179px,#ffd600 212px,#ffe600 232px,#fff400 251px,#faff05 267px,#a4ff5b 326px,#28ffd7 403px,#12feed 417px,#0083fe 504px,#000084 657px,#000084 659px)"></i><i style="left:426px;top:386px;height:660px;background-image:linear-gradient(#fd0000,#fd0000 3px,#f70000 7px,#f80000 20px,#ff0100 32px,#ff1900 57px,#ff4100 90px,#ff5800 109px,#ff7c00 139px,#ffad00 178px,#ffd600 212px,#ffe600 232px,#fff400 251px,#fbff04 267px,#a1ff5e 328px,#24ffdb 406px,#12ffed 417px,#0083ff 504px,#000184 657px,#000184 659px)"></i><i style="left:428px;top:386px;height:661px;background-image:linear-gradient(#fd0000,#fd0000 3px,#f70000 7px,#f80000 20px,#ff0100 32px,#ff1900 57px,#ff3f00 89px,#ff5800 109px,#ff7800 136px,#ffae00 179px,#ffd600 213px,#ffe600 232px,#fff400 252px,#faff05 268px,#a0ff5f 329px,#26ffd9 405px,#11feee 418px,#0083fe 505px,#000084 658px,#000084 660px)"></i><i style="left:430px;top:385px;height:662px;background-image:linear-gradient(#ff0100,#fe0000 4px,#f70000 8px,#f80000 21px,#ff0100 33px,#ff1900 58px,#ff3d00 89px,#ff5900 111px,#f70 137px,#ffad00 180px,#ffd700 215px,#ffe600 234px,#fff400 253px,#fbff04 269px,#9cff63 333px,#19ffe6 414px,#11feee 420px,#0082fe 507px,#000084 659px,#000084 661px)"></i><i style="left:432px;top:385px;height:662px;background-image:linear-gradient(#ff0200,#fe0000 4px,#f70000 9px,#f80000 22px,#ff0100 34px,#ff1900 58px,#ff3b00 88px,#ff5900 112px,#ff7800 138px,#ffad00 180px,#ffd700 216px,#ffe600 234px,#fff400 253px,#faff05 270px,#9f6 335px,#16ffe9 416px,#10feef 420px,#0082fe 507px,#000184 659px,#000184 661px)"></i><i style="left:434px;top:385px;height:663px;background-image:linear-gradient(#ff0200,#ff0200 3px,#fd0000 5px,#f70000 9px,#f80000 22px,#ff0100 34px,#ff1a00 59px,#ff3900 87px,#ff5b00 114px,#ff7900 139px,#ffac00 180px,#ffd800 217px,#ffe600 234px,#fff400 254px,#faff05 270px,#96ff69 337px,#10ffef 420px,#0081fe 508px,#000084 660px,#000084 662px)"></i><i style="left:436px;top:385px;height:663px;background-image:linear-gradient(#ff0300,#ff0300 3px,#fe0000 5px,#f70000 9px,#f70000 21px,#ff0100 34px,#ff1900 59px,#ff3500 84px,#ff5d00 116px,#ff7b00 141px,#ffac00 180px,#ffd900 218px,#ffe600 234px,#fff400 254px,#faff05 270px,#96ff69 337px,#0ffff0 421px,#0082ff 508px,#000084 660px,#000084 662px)"></i><i style="left:438px;top:385px;height:663px;background-image:linear-gradient(#ff0400,#ff0400 3px,#fe0000 5px,#f70000 10px,#f70000 18px,#fb0000 27px,#ff0100 35px,#ff1b00 61px,#ff3400 83px,#ff5f00 118px,#ff7d00 143px,#ffac00 181px,#ffd900 219px,#ffe600 235px,#fff400 254px,#f9ff06 271px,#92ff6d 340px,#0ffef0 422px,#0081fe 509px,#000184 660px,#000184 662px)"></i><i style="left:440px;top:385px;height:664px;background-image:linear-gradient(#ff0400,#ff0400 3px,#f00 5px,#f70000 10px,#f70000 18px,#ff0100 35px,#ff2800 74px,#ff6000 119px,#ff7d00 144px,#ffac00 181px,#ffda00 220px,#ffe700 236px,#fff400 255px,#f8ff07 272px,#91ff6e 341px,#0ffff0 422px,#0081ff 509px,#000084 661px,#000084 663px)"></i><i style="left:442px;top:384px;height:665px;background-image:linear-gradient(#ff0800,#ff0800 3px,#ff0100 6px,#f70000 12px,#f60000 19px,#ff0100 37px,#ff2d00 79px,#ff6200 122px,#ff7f00 147px,#ffab00 182px,#ffdb00 222px,#ffe700 238px,#fff400 256px,#f9ff06 273px,#8eff71 344px,#0ffef0 424px,#0080fe 511px,#000084 662px,#000084 664px)"></i><i style="left:444px;top:384px;height:665px;background-image:linear-gradient(#ff0900,#ff0900 3px,#fe0000 7px,#f70000 12px,#f60000 19px,#ff0100 38px,#ff3000 82px,#ff6400 124px,#ff8100 149px,#ffab00 182px,#ffdc00 224px,#fff500 257px,#f8ff07 274px,#70ff8f 364px,#0efef1 425px,#0081ff 511px,#000184 662px,#000184 664px)"></i><i style="left:446px;top:384px;height:666px;background-image:linear-gradient(#ff0900,#ff0900 3px,#f00 7px,#f60000 12px,#f50000 19px,#ff0100 38px,#ff1600 58px,#ff3400 85px,#f60 126px,#ff8400 151px,#ffac00 183px,#ffdc00 224px,#ffe900 242px,#fef801 262px,#f8ff07 274px,#78ff87 359px,#0efff1 425px,#0080fe 512px,#000084 663px,#000084 665px)"></i><i style="left:448px;top:384px;height:666px;background-image:linear-gradient(#ff0a00,#ff0a00 3px,#f00 7px,#f60000 13px,#f50000 20px,#fe0100 38px,#ff0b00 49px,#ff3400 85px,#ff6800 128px,#ff8400 152px,#ffab00 183px,#ffdb00 224px,#ffe900 242px,#fef801 262px,#f7ff08 275px,#75ff8a 361px,#0efef1 426px,#0080ff 512px,#000084 663px,#000084 665px)"></i><i style="left:450px;top:384px;height:666px;background-image:linear-gradient(#ff0b00,#ff0b00 3px,#fe0000 8px,#f60000 13px,#f50000 20px,#fe0100 38px,#ff0a00 48px,#ff3600 87px,#ff6a00 130px,#ff8600 154px,#ffab00 183px,#ffdb00 224px,#ffea00 243px,#fef801 263px,#f7ff08 275px,#81ff7e 354px,#0efff1 426px,#007ffe 513px,#000184 663px,#000184 665px)"></i><i style="left:452px;top:384px;height:667px;background-image:linear-gradient(#ff0c00,#ff0c00 3px,#f00 8px,#f50000 14px,#f40000 20px,#fe0100 39px,#ff0900 48px,#ff3700 88px,#ff5b00 117px,#ff8400 153px,#fa0 183px,#ffdb00 225px,#ffea00 244px,#fef801 263px,#f6ff09 276px,#7eff81 356px,#0dfef2 427px,#007ffe 514px,#000084 664px,#000084 666px)"></i><i style="left:454px;top:383px;height:668px;background-image:linear-gradient(#ff0f00,#ff0f00 3px,#f00 9px,#f50000 15px,#f50000 22px,#fd0100 40px,#ff0700 48px,#ff4a00 106px,#ff6b00 132px,#ff8500 155px,#fa0 184px,#ffdb00 226px,#ffea00 245px,#fef801 265px,#f6ff09 277px,#8bff74 349px,#0dfef2 429px,#007ffe 515px,#000084 665px,#000084 667px)"></i><i style="left:456px;top:383px;height:668px;background-image:linear-gradient(#ff1000,#ff1000 3px,#fe0000 10px,#f40000 16px,#f40000 22px,#fd0100 40px,#ff0700 48px,#ff4f00 110px,#ff6e00 135px,#ff8900 158px,#ffa900 184px,#ffda00 226px,#ffea00 245px,#fef801 265px,#f5ff0a 278px,#91ff6e 346px,#3affc5 401px,#0dfff2 429px,#007efe 516px,#000184 665px,#000184 667px)"></i><i style="left:458px;top:383px;height:669px;background-image:linear-gradient(#ff1000,#ff1000 3px,#fe0000 10px,#f60000 15px,#f30000 21px,#fd0100 40px,#ff0600 48px,#ff4e00 110px,#ff6e00 136px,#f80 158px,#fa0 185px,#ffda00 226px,#ffe900 245px,#fef801 265px,#f6ff09 278px,#9aff65 340px,#47ffb8 393px,#0cfef3 430px,#007eff 516px,#000084 666px,#000084 668px)"></i><i style="left:460px;top:383px;height:669px;background-image:linear-gradient(#f10,#f10 3px,#fe0000 10px,#f90000 12px,#f30000 18px,#f50000 25px,#fd0100 41px,#ff0700 49px,#ff4d00 109px,#ff6f00 137px,#f80 158px,#ffa900 185px,#ffd900 226px,#ffe800 244px,#fef801 266px,#f5ff0a 279px,#9bff64 340px,#4affb5 392px,#0cfff3 430px,#007dfe 517px,#000084 666px,#000084 668px)"></i><i style="left:462px;top:383px;height:669px;background-image:linear-gradient(#ff1200,#ff1200 3px,#fe0100 10px,#f90000 13px,#f30000 19px,#f70000 29px,#fc0100 41px,#ff0800 50px,#ff4d00 110px,#ff7000 138px,#ff8600 157px,#ffa900 185px,#ffd900 226px,#ffe800 245px,#fef801 266px,#f5ff0a 279px,#9dff62 339px,#4cffb3 391px,#0bfef4 431px,#007dff 517px,#000184 666px,#000184 668px)"></i><i style="left:464px;top:382px;height:671px;background-image:linear-gradient(#ff1500,#ff1500 3px,#fe0100 11px,#f60000 17px,#f30000 20px,#f50000 28px,#fc0100 42px,#ff0800 52px,#ff2b00 82px,#ff5100 114px,#ff7100 140px,#ff8400 157px,#ffa800 186px,#ffd900 228px,#ffe800 246px,#fef801 267px,#f4ff0b 281px,#9dff62 340px,#4dffb2 392px,#0bfef4 433px,#007cfe 519px,#000084 668px,#000084 670px)"></i><i style="left:466px;top:382px;height:671px;background-image:linear-gradient(#ff1500,#ff1500 3px,#fe0200 11px,#fb0000 13px,#f30000 20px,#f50000 28px,#fd0200 43px,#ff0900 53px,#ff2600 78px,#ff5000 114px,#ff7100 141px,#ff8500 158px,#ffa800 186px,#ffd900 228px,#ffe700 246px,#fef801 268px,#f4ff0b 281px,#a1ff5e 338px,#52ffad 389px,#0afff5 433px,#0294fd 503px,#007bfe 520px,#000084 668px,#000084 670px)"></i><i style="left:468px;top:382px;height:671px;background-image:linear-gradient(#ff1600,#ff1600 3px,#fe0300 11px,#fb0000 13px,#f80000 15px,#f30000 21px,#f60000 30px,#fd0100 43px,#ff0700 52px,#ff2400 77px,#ff5100 115px,#ff7300 143px,#f80 161px,#ffa900 187px,#ffd800 228px,#ffe700 246px,#fff200 261px,#fdf802 269px,#f3ff0c 282px,#a2ff5d 338px,#52ffad 389px,#0afef5 434px,#039efc 496px,#007bfe 520px,#000184 668px,#000184 670px)"></i><i style="left:470px;top:381px;height:673px;background-image:linear-gradient(#ff1800,#ff1600 4px,#fe0300 12px,#f90000 15px,#f30000 22px,#f50000 30px,#fc0100 44px,#ff0800 54px,#f20 77px,#ff5000 116px,#ff7500 146px,#ff9700 174px,#ffd800 229px,#fef801 269px,#f4ff0b 283px,#a5ff5a 337px,#51ffae 391px,#09fff6 435px,#0293fd 505px,#007afe 522px,#000084 670px,#000084 672px)"></i><i style="left:472px;top:381px;height:673px;background-image:linear-gradient(#ff1800,#ff1700 4px,#ff0600 11px,#fd0200 13px,#f80000 16px,#f30000 22px,#f50000 31px,#fc0100 44px,#ff0800 54px,#ff2000 76px,#ff5100 117px,#ff7600 148px,#ffa900 189px,#ffd700 229px,#fff100 261px,#fef801 270px,#f3ff0c 284px,#a6ff59 337px,#50ffaf 392px,#09fff6 436px,#0291fd 506px,#007aff 522px,#000084 670px,#000084 672px)"></i><i style="left:474px;top:381px;height:673px;background-image:linear-gradient(#ff1800,#ff1800 4px,#ff0a00 10px,#ff0300 12px,#fa0000 15px,#f70000 17px,#f30000 22px,#f50000 32px,#fd0200 45px,#ff0900 55px,#ff2100 77px,#ff5100 117px,#ff8d00 167px,#ffa900 190px,#ffd700 229px,#ffe600 248px,#ffed00 257px,#fef901 270px,#f3ff0c 284px,#a9ff56 335px,#4fffb0 393px,#08fef7 437px,#0186fe 514px,#0079fe 523px,#000184 670px,#000184 672px)"></i><i style="left:476px;top:380px;height:675px;background-image:linear-gradient(#ff1800,#ff1800 5px,#ff0b00 11px,#fe0200 14px,#f70000 18px,#f30000 24px,#f50000 33px,#fd0200 46px,#ff0800 55px,#ff1e00 76px,#ff5000 118px,#ff8d00 168px,#ffa800 190px,#ffd700 230px,#ffe600 249px,#ffec00 258px,#fef901 271px,#f2ff0d 286px,#aeff51 333px,#4fffb0 394px,#08fff7 438px,#007aff 523px,#000084 672px,#000084 674px)"></i><i style="left:478px;top:380px;height:675px;background-image:linear-gradient(#ff1800,#ff1700 6px,#ff0c00 11px,#ff0200 14px,#f70000 18px,#f30000 25px,#f50000 34px,#fc0100 46px,#ff0700 55px,#ff1d00 76px,#ff5000 118px,#ff8c00 168px,#ffa700 190px,#ffd700 231px,#ffe600 250px,#ffed00 259px,#fef901 272px,#f1ff0e 287px,#b3ff4c 330px,#52ffad 393px,#07fff8 439px,#0079ff 524px,#000084 672px,#000084 674px)"></i><i style="left:480px;top:379px;height:676px;background-image:linear-gradient(#ff1a00,#ff1a00 3px,#ff1600 8px,#ff0c00 12px,#ff0200 15px,#f60000 19px,#f30000 26px,#f40000 35px,#fc0100 47px,#ff0800 57px,#ff1d00 77px,#ff8500 164px,#ffa600 190px,#ffd600 232px,#ffe500 251px,#ffec00 259px,#fef901 273px,#f1ff0e 288px,#baff45 327px,#52ffad 394px,#06fef9 441px,#0077fe 527px,#000184 673px,#000184 675px)"></i><i style="left:482px;top:379px;height:677px;background-image:linear-gradient(#ff1b00,#ff1900 4px,#ff1600 8px,#ff0d00 12px,#ff0300 15px,#f90000 18px,#f30000 24px,#f30000 34px,#fc0100 47px,#ff0800 57px,#ff1a00 75px,#ff8a00 168px,#ffa600 191px,#ffd600 232px,#ffe500 251px,#ffeb00 259px,#fefa01 273px,#f0ff0f 289px,#beff41 324px,#52ffad 394px,#06fff9 441px,#0077fe 527px,#000084 674px,#000084 676px)"></i><i style="left:484px;top:378px;height:678px;background-image:linear-gradient(#ff1c00,#ff1b00 4px,#ff1800 7px,#ff1500 10px,#ff0a00 14px,#fe0100 17px,#f60000 21px,#f20000 33px,#fc0100 48px,#ff0700 58px,#ff1900 76px,#ff5000 121px,#ff8b00 170px,#ffa600 192px,#ffd600 233px,#ffe500 253px,#fff000 265px,#fefa01 275px,#f1ff0e 290px,#c6ff39 320px,#53ffac 395px,#05fffa 443px,#0076fe 529px,#000084 675px,#000084 677px)"></i><i style="left:486px;top:378px;height:678px;background-image:linear-gradient(#ff1c00,#ff1a00 5px,#ff1600 10px,#ff0b00 14px,#ff0100 17px,#f50000 22px,#f20000 34px,#fd0200 49px,#ff0700 58px,#ff1900 76px,#ff4f00 121px,#ff8500 166px,#ffa500 192px,#ffd500 233px,#ffe600 255px,#fefa01 275px,#f0ff0f 291px,#caff35 318px,#53ffac 395px,#04fefb 444px,#0076ff 529px,#000184 675px,#000184 677px)"></i><i style="left:488px;top:377px;height:680px;background-image:linear-gradient(#ff1c00,#ff1b00 6px,#ff1800 9px,#ff1600 11px,#ff0c00 15px,#ff0100 18px,#f50000 23px,#f20000 36px,#fc0100 50px,#ff0700 59px,#ff1800 77px,#ff5000 123px,#ff7900 158px,#ffa400 192px,#ffd500 234px,#ffe600 256px,#fefb01 277px,#efff10 293px,#caff35 319px,#52ffad 397px,#04fffb 445px,#0076fe 531px,#000084 677px,#000084 679px)"></i><i style="left:490px;top:376px;height:681px;background-image:linear-gradient(#ff1c00,#ff1b00 7px,#ff1800 10px,#ff1500 13px,#fe0000 20px,#f50000 24px,#f20000 37px,#fd0200 52px,#ff0800 62px,#ff1c00 81px,#ff4e00 123px,#ff7600 157px,#ffa300 193px,#ffd500 236px,#ffe600 257px,#fefb01 278px,#efff10 294px,#cbff34 320px,#51ffae 399px,#04fefb 447px,#0075fe 533px,#000084 678px,#000084 680px)"></i><i style="left:492px;top:376px;height:681px;background-image:linear-gradient(#ff1d00,#ff1b00 7px,#ff1800 10px,#ff1500 13px,#fe0000 20px,#f40000 25px,#f10000 37px,#fd0200 53px,#ff0a00 66px,#f20 86px,#ff5c00 136px,#f70 158px,#ffa300 193px,#ffd500 236px,#ffe600 257px,#fff600 273px,#fefb01 279px,#ef1 295px,#caff35 321px,#50ffaf 400px,#03fdfc 448px,#0075fe 533px,#000184 678px,#000184 680px)"></i><i style="left:494px;top:375px;height:683px;background-image:linear-gradient(#ff1e00,#ff1c00 8px,#ff1600 14px,#f00 21px,#f40000 26px,#f20000 39px,#fe0200 55px,#ff0e00 71px,#ff5c00 137px,#ff7500 158px,#ffa400 195px,#ffd400 237px,#ffe500 258px,#fff300 272px,#fefb01 280px,#edff12 297px,#caff35 322px,#4affb5 405px,#03fefc 449px,#0075fe 535px,#000084 680px,#000084 682px)"></i><i style="left:496px;top:374px;height:684px;background-image:linear-gradient(#ff2000,#ff1f00 4px,#ff1900 11px,#ff1600 15px,#ff0100 22px,#f30000 28px,#f10000 40px,#fe0200 57px,#ff0f00 73px,#ff5c00 138px,#ff7500 159px,#ffa300 196px,#ffd400 238px,#ffe500 259px,#fff300 273px,#fefb01 281px,#ef1 298px,#c9ff36 324px,#43febc 411px,#03fdfc 451px,#0075ff 536px,#000084 681px,#000084 683px)"></i><i style="left:498px;top:374px;height:684px;background-image:linear-gradient(#ff2000,#ff1e00 5px,#ff1a00 11px,#ff1700 15px,#ff0100 22px,#f50000 27px,#f20000 32px,#f10000 41px,#fe0100 57px,#ff0e00 73px,#ff5b00 138px,#ff7400 159px,#ffa300 196px,#ffd300 238px,#ffef00 270px,#fefb01 282px,#edff12 299px,#caff35 324px,#3afec5 417px,#02fcfd 452px,#0074fe 537px,#000184 681px,#000184 683px)"></i><i style="left:500px;top:373px;height:686px;background-image:linear-gradient(#ff2000,#ff1e00 6px,#ff1a00 12px,#ff1700 16px,#fe0000 24px,#f30000 29px,#f00000 41px,#fe0100 59px,#ff0f00 75px,#ff5c00 140px,#f70 163px,#ffa200 197px,#ffd400 240px,#ffef00 272px,#fefb01 283px,#ecff13 301px,#c9ff36 326px,#33fecc 423px,#02fdfd 453px,#0074fe 539px,#000084 683px,#000084 685px)"></i><i style="left:502px;top:372px;height:687px;background-image:linear-gradient(#ff2000,#ff1f00 7px,#ff1900 14px,#ff1500 18px,#f00 25px,#f20000 31px,#f00000 42px,#f80000 52px,#ff0200 62px,#f10 79px,#ff4f00 130px,#ff6e00 157px,#ffa200 198px,#ffd400 242px,#ffe500 261px,#ffef00 273px,#fffb00 284px,#ecff13 302px,#caff35 327px,#2afdd5 430px,#02fcfd 455px,#0074fe 540px,#000084 684px,#000084 686px)"></i><i style="left:504px;top:371px;height:688px;background-image:linear-gradient(#ff2000,#ff1f00 8px,#ff1c00 12px,#ff1a00 15px,#ff1600 19px,#ff0100 26px,#f20000 32px,#f00000 44px,#ff0100 62px,#ff0f00 78px,#ff7300 162px,#ffa100 199px,#ffd500 244px,#ffe500 262px,#ffef00 274px,#fefb01 286px,#ebff14 304px,#caff35 328px,#3bfdc4 421px,#02fcfd 457px,#0073fe 542px,#000184 685px,#000184 687px)"></i><i style="left:506px;top:370px;height:690px;background-image:linear-gradient(#ff2000,#ff1f00 9px,#ff1c00 13px,#ff1a00 16px,#ff1600 20px,#ff0100 27px,#f20000 33px,#f00000 45px,#f80000 55px,#ff0100 64px,#ff0f00 80px,#ff7200 163px,#ffa100 200px,#ffd600 246px,#ffe500 264px,#fff000 277px,#fefb01 287px,#eaff15 306px,#c9ff36 330px,#3bfdc4 422px,#01fcfe 458px,#0073ff 543px,#000084 687px,#000084 689px)"></i><i style="left:508px;top:370px;height:690px;background-image:linear-gradient(#ff2000,#ff1f00 10px,#ff1900 17px,#ff1400 21px,#fe0000 28px,#f20000 33px,#ef0000 45px,#f80000 55px,#ff0100 64px,#ff0f00 80px,#ff7300 164px,#ffa100 200px,#ffd600 247px,#ffe500 264px,#ffef00 276px,#fefb01 288px,#e9ff16 307px,#caff35 330px,#3afdc5 423px,#01fcfe 459px,#0073fe 544px,#000084 687px,#000084 689px)"></i><i style="left:510px;top:369px;height:691px;background-image:linear-gradient(#ff2000,#ff1f00 11px,#ff1c00 15px,#ff1a00 18px,#ff1400 22px,#f00 29px,#f20000 34px,#ef0000 46px,#f70000 56px,#ff0100 66px,#ff1000 82px,#ff7400 166px,#ffa000 201px,#ffd700 249px,#ffe500 265px,#fe0 277px,#fefb01 289px,#e9ff16 309px,#c9ff36 332px,#39fdc6 425px,#01fbfe 461px,#0072fe 546px,#000184 688px,#000184 690px)"></i><i style="left:512px;top:368px;height:693px;background-image:linear-gradient(#ff2000,#ff1f00 12px,#ff1c00 16px,#ff1a00 19px,#ff1200 24px,#f00 30px,#f20000 35px,#ef0000 47px,#f70000 57px,#ff0100 67px,#ff1000 84px,#ff7300 167px,#ffa100 203px,#ffd800 251px,#ffe500 266px,#ffed00 277px,#fefb01 291px,#e9ff16 310px,#c7ff38 334px,#39fdc6 426px,#01fbfe 462px,#0072fe 547px,#000084 690px,#000084 692px)"></i><i style="left:514px;top:367px;height:694px;background-image:linear-gradient(#ff2000,#ff1f00 14px,#ff1900 21px,#ff1300 25px,#ff0100 31px,#f10000 37px,#e00 48px,#f60000 58px,#ff0100 69px,#f10 86px,#ff6f00 165px,#ffa000 204px,#ffd900 254px,#ffe500 268px,#ffef00 280px,#fefb01 292px,#e8ff17 312px,#c5ff3a 337px,#38fdc7 428px,#00fbff 464px,#0071fe 549px,#000084 691px,#000084 693px)"></i><i style="left:516px;top:366px;height:695px;background-image:linear-gradient(#ff2000,#ff1f00 15px,#ff1900 22px,#ff1300 26px,#fe0000 33px,#f20000 37px,#ef0000 41px,#e00 50px,#ff0100 70px,#ff1000 87px,#ff6a00 162px,#ffa000 205px,#ffda00 256px,#ffe500 270px,#fff300 285px,#fefb01 294px,#e8ff17 313px,#c5ff3a 338px,#37fdc8 430px,#00faff 466px,#0071ff 550px,#000184 692px,#000184 694px)"></i><i style="left:518px;top:365px;height:697px;background-image:linear-gradient(#ff2000,#ff1f00 16px,#ff1800 24px,#ff0e00 29px,#fe0000 34px,#f00000 39px,#e00 51px,#ff0100 72px,#f10 89px,#f60 161px,#ff9f00 206px,#ffdb00 258px,#ffe600 273px,#fefb01 295px,#e8ff17 314px,#c5ff3a 339px,#38fdc7 431px,#00faff 467px,#0070fe 552px,#000084 694px,#000084 696px)"></i><i style="left:520px;top:364px;height:698px;background-image:linear-gradient(#ff2000,#ff2000 17px,#ff1700 26px,#ff0c00 31px,#f00 35px,#f00000 40px,#e00 52px,#ff0100 74px,#ff1200 91px,#ff6200 159px,#ff9f00 207px,#ffdc00 261px,#ffef00 284px,#fefb01 296px,#e9ff16 315px,#c3ff3c 342px,#3bfdc4 430px,#00f9ff 469px,#006ffe 554px,#000084 695px,#000084 697px)"></i><i style="left:522px;top:363px;height:699px;background-image:linear-gradient(#ff2000,#ff1f00 19px,#ff1800 27px,#ff0a00 33px,#ff0100 36px,#f00000 41px,#ed0000 53px,#fe0100 75px,#ff0d00 88px,#ff5e00 157px,#ff9f00 208px,#ffdc00 262px,#fff000 287px,#fefb01 298px,#e8ff17 317px,#c1ff3e 344px,#46feb9 425px,#00f8ff 471px,#006ffe 555px,#000184 696px,#000184 698px)"></i><i style="left:524px;top:362px;height:701px;background-image:linear-gradient(#ff1f00,#ff1f00 20px,#ff1600 29px,#ff0800 35px,#fe0200 37px,#f30000 41px,#ef0000 44px,#ed0000 54px,#fe0100 76px,#ff0a00 87px,#ff5a00 155px,#ff9e00 209px,#ffdb00 263px,#fff100 289px,#fefb01 299px,#e8ff17 318px,#c0ff3f 346px,#51feae 419px,#00f7ff 473px,#006efe 557px,#000084 698px,#000084 700px)"></i><i style="left:526px;top:361px;height:702px;background-image:linear-gradient(#ff1e00,#ff1f00 21px,#ff1a00 27px,#ff1700 30px,#ff0900 36px,#fd0000 39px,#f10000 43px,#e00 47px,#ed0000 56px,#fd0100 77px,#ff0700 85px,#ff5700 154px,#ff9e00 210px,#ffdb00 264px,#fff200 291px,#fefc01 301px,#e7ff18 320px,#bdff42 349px,#52fead 420px,#00f8ff 474px,#006eff 558px,#000084 699px,#000084 701px)"></i><i style="left:528px;top:360px;height:703px;background-image:linear-gradient(#ff1d00,#ff2000 13px,#ff1f00 23px,#ff1900 29px,#ff1300 33px,#fe0300 39px,#fd0000 40px,#ef0000 45px,#ed0000 57px,#fc0100 77px,#ff0500 85px,#ff5400 153px,#ff9e00 212px,#ffda00 265px,#fff100 292px,#fefc01 302px,#e6ff19 322px,#bcff43 351px,#51feae 422px,#0cf8f3 468px,#00f7ff 476px,#006dfe 560px,#000184 700px,#000184 702px)"></i><i style="left:530px;top:359px;height:705px;background-image:linear-gradient(#ff1c00,#ff1f00 7px,#ff1f00 24px,#ff1900 30px,#ff1600 33px,#ff0700 39px,#fd0000 41px,#ef0000 46px,#ec0000 58px,#f70000 72px,#ff0300 84px,#ff1f00 110px,#ff5800 158px,#ff9f00 214px,#ffda00 266px,#fff200 294px,#fefc01 304px,#e5ff1a 324px,#b8ff47 355px,#4ffeb0 424px,#1cf9e3 459px,#00f6ff 478px,#006cfe 562px,#000084 702px,#000084 704px)"></i><i style="left:532px;top:358px;height:706px;background-image:linear-gradient(#ff1c00,#ff1e00 8px,#ff2000 19px,#ff1d00 27px,#ff1800 32px,#ff1200 36px,#ff0800 40px,#fd0100 42px,#ef0000 47px,#ec0000 59px,#f60000 73px,#fe0300 85px,#ff1b00 108px,#ff5900 160px,#ffa100 217px,#ffcd00 256px,#ffde00 273px,#fff400 297px,#fefd01 305px,#e4ff1b 326px,#b4ff4b 359px,#4efeb1 426px,#1af8e5 462px,#00f6ff 479px,#006cfe 563px,#000084 703px,#000084 705px)"></i><i style="left:534px;top:357px;height:707px;background-image:linear-gradient(#ff1c00,#ff1d00 8px,#ff2000 15px,#ff1d00 28px,#ff1500 36px,#ff0800 41px,#fd0200 43px,#f10000 47px,#ed0000 50px,#eb0000 60px,#f60000 74px,#fd0300 86px,#ff0a00 94px,#ff3200 129px,#ff5b00 163px,#ffa300 220px,#fc0 257px,#ffde00 274px,#fff500 299px,#fdfd02 307px,#e4ff1b 328px,#abff54 366px,#4efeb1 427px,#14f7eb 468px,#00f5ff 481px,#006bfe 565px,#000184 704px,#000184 706px)"></i><i style="left:536px;top:356px;height:709px;background-image:linear-gradient(#ff1c00,#ff1d00 10px,#ff2000 17px,#ff1c00 30px,#ff1700 35px,#f10 39px,#ff0900 42px,#fd0200 44px,#f70000 46px,#ed0000 50px,#eb0000 61px,#f60000 75px,#fe0300 88px,#ff2100 116px,#ff4600 147px,#ffa400 223px,#fc0 258px,#fd0 275px,#fff600 301px,#fefd01 308px,#e3ff1c 330px,#9aff65 378px,#4dfeb2 429px,#0df6f2 474px,#00f4ff 483px,#006bfe 567px,#000084 706px,#000084 708px)"></i><i style="left:538px;top:355px;height:710px;background-image:linear-gradient(#ff1c00,#ff1d00 12px,#ff2000 19px,#ff1d00 31px,#ff1400 39px,#ff0900 43px,#fe0200 45px,#f50000 48px,#ed0000 51px,#eb0000 62px,#f50000 76px,#fe0300 89px,#ff2000 117px,#ff6100 170px,#ffa500 225px,#fc0 259px,#fd0 276px,#fff700 303px,#fdfd02 310px,#e2ff1d 332px,#90ff6f 386px,#4cfeb3 431px,#05f5fa 481px,#00f3ff 485px,#006afe 568px,#000084 707px,#000084 709px)"></i><i style="left:540px;top:353px;height:712px;background-image:linear-gradient(#ff1c00,#ff1d00 14px,#ff2000 21px,#ff1c00 34px,#ff1700 39px,#ff1000 43px,#ff0200 47px,#ef0000 52px,#ed0000 54px,#eb0000 65px,#f50000 78px,#fa0100 87px,#ff0500 94px,#ff2900 128px,#ff4600 151px,#ffa200 225px,#ffcb00 261px,#fd0 279px,#fff900 307px,#fefe01 312px,#dfff20 336px,#81ff7e 398px,#4afeb5 434px,#00f4ff 487px,#006afe 571px,#000184 709px,#000184 711px)"></i><i style="left:542px;top:352px;height:714px;background-image:linear-gradient(#ff1c00,#ff1d00 16px,#ff2000 22px,#ff1b00 36px,#ff1300 43px,#ff0a00 46px,#ff0200 48px,#ed0000 54px,#eb0000 66px,#f50000 80px,#fb0100 89px,#ff0400 95px,#ff2900 129px,#ff4700 153px,#ffa200 226px,#fc0 263px,#fd0 280px,#fffa00 309px,#fdfe02 314px,#e0ff1f 337px,#83ff7c 398px,#49feb6 436px,#00f3ff 489px,#0069ff 572px,#000084 711px,#000084 713px)"></i><i style="left:544px;top:351px;height:715px;background-image:linear-gradient(#ff1b00,#ff1d00 18px,#ff1f00 24px,#ff1b00 37px,#ff1600 41px,#ff1300 44px,#ff0b00 47px,#ff0200 49px,#f20000 53px,#ec0000 56px,#ea0000 67px,#f50000 81px,#fa0100 89px,#ff0400 96px,#ff2600 128px,#ffa100 227px,#ffcb00 264px,#fff600 307px,#fefe01 315px,#df2 340px,#7dff82 403px,#48feb7 438px,#00f1ff 491px,#0069fe 574px,#000084 712px,#000084 714px)"></i><i style="left:546px;top:350px;height:716px;background-image:linear-gradient(#ff1a00,#ff1d00 20px,#ff1f00 25px,#ff1a00 39px,#ff1400 45px,#ff0b00 48px,#fd0000 51px,#f00000 55px,#eb0000 58px,#ea0000 68px,#f40000 82px,#f90000 89px,#ff0400 97px,#ff2300 127px,#ff8700 207px,#ffc700 261px,#ffde00 285px,#feff01 316px,#d8ff27 345px,#6fff90 413px,#45fdba 441px,#00f2ff 492px,#0068fe 576px,#000184 713px,#000184 715px)"></i><i style="left:548px;top:349px;height:718px;background-image:linear-gradient(#ff1900,#ff1c00 11px,#ff1d00 21px,#ff1f00 26px,#ff1a00 40px,#ff1500 44px,#ff1200 47px,#fe0000 52px,#f00000 56px,#eb0000 59px,#e90000 69px,#f40000 83px,#f90000 90px,#ff0300 98px,#f20 127px,#ff8700 208px,#ffc700 263px,#ffe100 289px,#feff01 318px,#cf3 354px,#48feb7 440px,#00f0ff 494px,#0068ff 577px,#000084 715px,#000084 717px)"></i><i style="left:550px;top:348px;height:719px;background-image:linear-gradient(#ff1800,#ff1a00 5px,#ff1c00 12px,#ff1d00 23px,#ff1e00 28px,#ff1900 42px,#ff1300 48px,#f00 53px,#f00000 57px,#eb0000 59px,#e90000 70px,#f40000 86px,#f90000 92px,#ff0300 99px,#ff2100 128px,#ff8600 209px,#ffc700 264px,#ffe100 290px,#feff01 319px,#c7ff38 359px,#4bfeb4 439px,#00efff 496px,#0067fe 579px,#000084 716px,#000084 718px)"></i><i style="left:552px;top:347px;height:720px;background-image:linear-gradient(#ff1800,#ff1a00 6px,#ff1c00 12px,#ff1d00 25px,#ff1e00 30px,#ff1a00 43px,#ff1300 49px,#f00 54px,#f00000 58px,#eb0000 60px,#e90000 71px,#f80000 92px,#ff0200 100px,#ff2100 129px,#f50 171px,#ff8600 210px,#ff9b00 228px,#ffc700 266px,#ffdf00 290px,#ffef00 305px,#ff0 320px,#c4ff3b 362px,#4cfeb3 440px,#0ef 498px,#0066fe 581px,#000184 717px,#000184 719px)"></i><i style="left:554px;top:346px;height:722px;background-image:linear-gradient(#ff1800,#ff1900 7px,#ff1c00 12px,#ff1d00 26px,#ff1e00 32px,#ff1900 45px,#ff1300 50px,#ff0100 55px,#f00000 59px,#eb0000 61px,#e80000 72px,#f70000 93px,#ff0200 101px,#f20 131px,#ff4d00 166px,#ff8500 211px,#ff9800 227px,#ffc200 262px,#ffde00 290px,#fe0 305px,#feff01 322px,#bdff42 368px,#4bfeb4 442px,#0cf0f3 490px,#00ecff 500px,#0066fe 582px,#000084 719px,#000084 721px)"></i><i style="left:556px;top:345px;height:723px;background-image:linear-gradient(#ff1800,#ff1900 8px,#ff1c00 14px,#ff1d00 28px,#ff1c00 41px,#ff1700 47px,#ff1300 51px,#ff0200 56px,#f00000 60px,#eb0000 62px,#e80000 73px,#f70000 94px,#ff0100 102px,#ff2100 132px,#ff4600 162px,#ff8500 212px,#ff9700 228px,#ffc000 262px,#fd0 290px,#ffed00 306px,#fdff02 324px,#b9ff46 372px,#4afeb5 444px,#1ef3e1 478px,#00edff 501px,#0065fe 584px,#000084 720px,#000084 722px)"></i><i style="left:558px;top:344px;height:724px;background-image:linear-gradient(#ff1800,#ff1900 9px,#ff1c00 15px,#ff1d00 30px,#ff1a00 44px,#ff1800 48px,#f10 53px,#ff0200 57px,#f80000 59px,#eb0000 63px,#e80000 74px,#f60000 95px,#ff0100 103px,#ff2100 133px,#ff4300 161px,#ff8500 213px,#ff9700 229px,#ffc000 263px,#fd0 291px,#ffed00 307px,#fdff02 325px,#b6ff49 375px,#49feb6 446px,#1df2e2 481px,#00ecff 503px,#0064fe 586px,#000184 721px,#000184 723px)"></i><i style="left:560px;top:343px;height:726px;background-image:linear-gradient(#ff1800,#ff1900 10px,#ff1c00 16px,#ff1d00 31px,#ff1b00 44px,#ff1700 50px,#f10 54px,#ff0300 58px,#fd0000 59px,#f10000 62px,#ea0000 65px,#e80000 76px,#f60000 96px,#ff0100 104px,#ff2100 135px,#ff3f00 160px,#ff8400 214px,#ff9600 230px,#ffc000 265px,#fd0 292px,#fe0 309px,#fcff03 327px,#b4ff4b 378px,#4afeb5 447px,#17f0e8 487px,#00eaff 505px,#0064fe 587px,#000084 723px,#000084 725px)"></i><i style="left:562px;top:341px;height:728px;background-image:linear-gradient(#ff1800,#ff1900 13px,#ff1c00 19px,#ff1c00 39px,#ff1b00 46px,#ff1700 52px,#f10 56px,#fd0000 61px,#e00 65px,#e90000 68px,#e70000 78px,#f40000 97px,#ff0100 107px,#f20 138px,#ff3f00 162px,#ff8400 216px,#ff9600 232px,#ffc000 267px,#ffdc00 293px,#ffed00 311px,#fdff02 329px,#aeff51 384px,#49feb6 450px,#1ee 494px,#00eaff 507px,#0063fe 590px,#000084 725px,#000084 727px)"></i><i style="left:564px;top:340px;height:729px;background-image:linear-gradient(#ff1800,#ff1900 14px,#ff1c00 20px,#ff1c00 47px,#ff1600 54px,#ff1200 57px,#ff0300 61px,#fd0000 62px,#e00 66px,#e90000 68px,#e70000 79px,#f40000 98px,#ff0100 109px,#ff2c00 148px,#ff8400 218px,#ff9700 234px,#ffc400 272px,#ffdb00 294px,#fe0 313px,#fcff03 331px,#af5 388px,#48feb7 452px,#0aecf5 501px,#00e9ff 509px,#0063ff 591px,#000184 726px,#000184 728px)"></i><i style="left:566px;top:339px;height:731px;background-image:linear-gradient(#ff1600,#ff1900 16px,#ff1c00 21px,#ff1c00 48px,#ff1600 55px,#ff0f00 59px,#ff0400 62px,#f90000 64px,#eb0000 68px,#e90000 70px,#e70000 80px,#f20000 97px,#ff0100 110px,#ff1d00 136px,#ff3e00 164px,#ff8400 219px,#ff9600 235px,#ffc600 275px,#ffdc00 296px,#ffed00 314px,#fcff03 332px,#a8ff57 391px,#47feb8 454px,#03eafc 508px,#00e6ff 512px,#0062fe 593px,#000084 728px,#000084 730px)"></i><i style="left:568px;top:338px;height:732px;background-image:linear-gradient(#ff1500,#ff1800 11px,#ff1900 17px,#ff1c00 23px,#ff1b00 50px,#ff1500 57px,#ff0f00 60px,#ff0400 63px,#fa0000 65px,#eb0000 69px,#e80000 71px,#e60000 81px,#f10000 97px,#ff0100 112px,#ff1b00 136px,#ff3e00 165px,#ff8500 221px,#ff9700 237px,#ffd800 292px,#ffed00 315px,#fcff03 333px,#a8ff57 392px,#47feb8 455px,#00e7ff 513px,#0061fe 595px,#000084 729px,#000084 731px)"></i><i style="left:570px;top:337px;height:733px;background-image:linear-gradient(#ff1400,#ff1600 5px,#ff1800 12px,#ff1a00 19px,#ff1c00 25px,#ff1b00 51px,#ff1500 58px,#ff0d00 62px,#fd0200 65px,#f60000 67px,#e90000 71px,#e60000 82px,#f00000 98px,#fe0100 113px,#ff0d00 125px,#ff3c00 165px,#ff8400 222px,#ff9700 238px,#ffd700 293px,#ffec00 316px,#fbff04 335px,#a3ff5c 397px,#47feb8 457px,#00e7ff 514px,#0061ff 596px,#000184 730px,#000184 732px)"></i><i style="left:572px;top:336px;height:735px;background-image:linear-gradient(#ff1400,#ff1600 6px,#ff1800 12px,#ff1900 20px,#ff1c00 26px,#ff1c00 52px,#ff1300 60px,#ff0d00 63px,#fe0200 66px,#f60000 68px,#e90000 72px,#e50000 82px,#ef0000 98px,#fe0100 115px,#ff0c00 126px,#ff3c00 166px,#ff7f00 219px,#f90 241px,#ffd800 295px,#ffed00 318px,#fcff03 336px,#a3ff5c 398px,#46feb9 459px,#00e6ff 516px,#0061fe 598px,#000084 732px,#000084 734px)"></i><i style="left:574px;top:335px;height:736px;background-image:linear-gradient(#ff1400,#ff1500 7px,#ff1800 12px,#ff1900 21px,#ff1c00 28px,#ff1b00 54px,#ff1400 61px,#ff0d00 64px,#ff0200 67px,#f20000 70px,#e90000 73px,#e50000 80px,#e80000 88px,#ef0000 100px,#fd0100 116px,#ff0800 124px,#ff3d00 168px,#ff7e00 220px,#ffaf00 261px,#ffd900 297px,#ffec00 319px,#fbfe04 337px,#a7ff58 397px,#45feba 461px,#00e5ff 518px,#0060fe 600px,#000084 732px,#000084 735px)"></i><i style="left:576px;top:334px;height:737px;background-image:linear-gradient(#ff1400,#ff1500 8px,#ff1800 14px,#ff1a00 23px,#ff1c00 31px,#ff1b00 55px,#ff1600 60px,#ff1000 64px,#ff0200 68px,#ec0000 73px,#e70000 76px,#e50000 81px,#e90000 93px,#fd0100 117px,#ff0600 124px,#ff3d00 170px,#f80 230px,#ffad00 261px,#ffd800 298px,#ffed00 321px,#fbff04 339px,#9eff61 404px,#45feba 462px,#00e4ff 520px,#0060ff 601px,#000184 733px,#000184 736px)"></i><i style="left:578px;top:333px;height:739px;background-image:linear-gradient(#ff1400,#ff1500 9px,#ff1800 15px,#ff1900 24px,#ff1c00 31px,#ff1b00 56px,#ff1300 64px,#ff0b00 67px,#ff0200 69px,#f30000 72px,#e90000 75px,#e40000 82px,#eb0000 98px,#fc0100 118px,#ff0600 126px,#ff3e00 172px,#fa0 259px,#ffd800 299px,#ffed00 322px,#fbfe04 340px,#a6ff59 400px,#46feb9 463px,#00e3ff 522px,#005ffe 603px,#000084 735px,#000084 738px)"></i><i style="left:580px;top:332px;height:740px;background-image:linear-gradient(#ff1400,#ff1500 10px,#ff1800 16px,#ff1900 26px,#ff1c00 33px,#ff1c00 57px,#ff1300 65px,#ff0700 69px,#ff0300 70px,#fd0000 71px,#ef0000 74px,#e70000 77px,#e30000 83px,#ec0000 101px,#fb0100 119px,#ff0600 127px,#ff3f00 174px,#ffa900 260px,#ffd800 300px,#ffed00 324px,#fbfe04 341px,#deff21 363px,#7cff83 429px,#45feba 465px,#00e4ff 523px,#005efe 605px,#000084 737px,#000084 739px)"></i><i style="left:582px;top:331px;height:741px;background-image:linear-gradient(#ff1400,#ff1500 12px,#ff1800 17px,#ff1900 28px,#ff1c00 35px,#ff1b00 59px,#f10 67px,#ff0300 71px,#fd0000 72px,#ef0000 75px,#e70000 78px,#e30000 84px,#ed0000 103px,#fb0100 120px,#ff0500 128px,#ff4000 176px,#ffa900 261px,#ffd500 299px,#fe0 326px,#fafe05 343px,#b9ff46 390px,#65ff9a 445px,#44febb 467px,#14ebeb 508px,#00e3ff 525px,#005eff 606px,#000184 738px,#000184 740px)"></i><i style="left:584px;top:330px;height:743px;background-image:linear-gradient(#ff1400,#ff1500 13px,#ff1800 19px,#ff1900 29px,#ff1c00 37px,#ff1b00 60px,#ff1200 68px,#fe0000 73px,#ef0000 76px,#e60000 79px,#e20000 85px,#ec0000 104px,#fb0200 122px,#ff0600 130px,#ffa700 261px,#ffd300 299px,#ffef00 328px,#faff05 345px,#b0ff4f 397px,#63ff9c 448px,#42febd 469px,#1aece5 505px,#00e2ff 527px,#005dfe 608px,#000084 740px,#000084 742px)"></i><i style="left:586px;top:329px;height:744px;background-image:linear-gradient(#ff1400,#ff1500 14px,#ff1800 20px,#ff1900 31px,#ff1c00 38px,#ff1b00 61px,#ff1200 69px,#fe0000 74px,#ef0000 77px,#e50000 81px,#e20000 87px,#ec0000 105px,#fa0100 123px,#ff0500 131px,#ffa700 262px,#ffd300 300px,#fe0 329px,#fafe05 346px,#d2ff2d 375px,#73ff8c 439px,#41febe 471px,#17ebe8 509px,#00e1ff 529px,#005cfe 610px,#000084 741px,#000084 743px)"></i><i style="left:588px;top:328px;height:745px;background-image:linear-gradient(#ff1400,#ff1500 16px,#ff1800 21px,#ff1900 33px,#ff1c00 40px,#ff1a00 62px,#ff1200 70px,#ff0500 74px,#f00 75px,#f00000 78px,#e40000 82px,#e10000 88px,#eb0000 105px,#fb0100 125px,#ff0500 132px,#ffa600 263px,#ffd300 302px,#fe0 330px,#fcf803 340px,#f9ff06 349px,#b0ff4f 400px,#54ffab 460px,#40febf 473px,#13e9ec 514px,#00e2ff 530px,#005cfe 611px,#000184 742px,#000184 744px)"></i><i style="left:590px;top:327px;height:747px;background-image:linear-gradient(#ff1400,#ff1500 17px,#ff1800 23px,#ff1900 34px,#ff1c00 41px,#ff1b00 62px,#ff1400 70px,#ff0c00 73px,#ff0100 76px,#ec0000 80px,#e30000 84px,#e10000 89px,#ea0000 106px,#fc0100 127px,#ff0500 134px,#ff2b00 165px,#ffa600 264px,#ffd300 303px,#fe0 331px,#fdf602 340px,#f8ff07 351px,#b8ff47 396px,#5affa5 457px,#3ffec0 475px,#0de6f2 521px,#00e1ff 532px,#005bfe 613px,#000084 744px,#000084 746px)"></i><i style="left:592px;top:326px;height:748px;background-image:linear-gradient(#ff1400,#ff1500 18px,#ff1800 24px,#ff1900 36px,#ff1b00 42px,#ff1b00 62px,#ff1800 67px,#ff1200 72px,#ff0500 76px,#fe0100 77px,#ec0000 81px,#e20000 85px,#e00000 90px,#e90000 106px,#fc0100 129px,#ff0600 136px,#ff2900 164px,#ff8e00 246px,#ffa600 266px,#ffd200 304px,#ffef00 333px,#fdf702 342px,#f7ff08 353px,#beff41 393px,#59ffa6 459px,#3ffec0 476px,#07e3f8 528px,#00e0ff 534px,#005afe 615px,#000084 745px,#000084 747px)"></i><i style="left:594px;top:325px;height:749px;background-image:linear-gradient(#ff1400,#ff1400 19px,#ff1800 26px,#ff1900 38px,#ff1b00 44px,#ff1b00 62px,#ff1800 68px,#ff1300 73px,#fe0200 78px,#f00000 81px,#e60000 84px,#e10000 87px,#e00000 92px,#e60000 103px,#fd0100 131px,#ff0600 138px,#ff1a00 153px,#ff4e00 196px,#ffa500 266px,#ffd200 305px,#fff100 336px,#f8ff07 353px,#c8ff37 388px,#5bffa4 459px,#3efec1 478px,#00dfff 536px,#005afe 616px,#000184 746px,#000184 748px)"></i><i style="left:596px;top:324px;height:751px;background-image:linear-gradient(#ff1400,#ff1500 21px,#ff1800 28px,#ff1900 40px,#ff1b00 45px,#ff1b00 62px,#ff1700 70px,#ff1300 73px,#ff1000 75px,#fe0200 79px,#fb0000 80px,#e80000 84px,#e10000 88px,#df0000 93px,#e60000 104px,#fe0100 133px,#ff0e00 146px,#ff2400 163px,#ff3d00 184px,#ffa500 267px,#ffd100 306px,#fef601 343px,#f6ff09 356px,#c7ff38 390px,#54ffab 465px,#3dfec2 480px,#00deff 538px,#005afe 618px,#000084 748px,#000084 750px)"></i><i style="left:598px;top:323px;height:752px;background-image:linear-gradient(#ff1400,#ff1500 23px,#ff1800 30px,#ff1900 41px,#ff1b00 46px,#ff1b00 61px,#ff1700 71px,#ff1300 74px,#ff1000 76px,#fe0300 80px,#fc0000 81px,#e80000 85px,#df0000 90px,#e00000 96px,#e50000 105px,#fe0100 135px,#ff1000 149px,#ff2400 164px,#ff3c00 185px,#ffa400 268px,#ffd100 308px,#fef601 344px,#f7ff08 357px,#c9ff36 390px,#4effb1 470px,#3cfec3 482px,#00dfff 539px,#0059fe 620px,#000084 749px,#000084 751px)"></i><i style="left:600px;top:322px;height:753px;background-image:linear-gradient(#ff1400,#ff1500 24px,#ff1800 32px,#ff1a00 50px,#ff1c00 57px,#ff1700 72px,#ff1300 75px,#ff0e00 78px,#fe0300 81px,#fc0000 82px,#e70000 86px,#df0000 91px,#e00000 98px,#e50000 107px,#fe0100 136px,#ff0f00 150px,#ff2300 165px,#ff3c00 186px,#ffa400 269px,#ffd100 309px,#fef701 346px,#f6ff09 359px,#c2ff3d 396px,#3cfec3 483px,#0df 541px,#0059ff 621px,#000184 749px,#000184 752px)"></i><i style="left:602px;top:321px;height:755px;background-image:linear-gradient(#ff1400,#ff1500 26px,#ff1800 34px,#ff1a00 52px,#ff1c00 59px,#ff1800 73px,#ff0e00 79px,#ff0300 82px,#fd0000 83px,#e70000 87px,#df0000 92px,#df0000 98px,#e40000 107px,#ff0100 138px,#ff1000 152px,#f20 166px,#ff3b00 187px,#ffa200 269px,#ffd000 310px,#fef701 347px,#f5ff0a 361px,#bf4 402px,#3bfec4 485px,#00dcff 543px,#0058fe 623px,#000084 751px,#000084 754px)"></i><i style="left:604px;top:321px;height:755px;background-image:linear-gradient(#ff1400,#ff1500 27px,#ff1800 34px,#ff1a00 53px,#ff1b00 59px,#ff1700 73px,#ff1200 77px,#ff0e00 79px,#ff0300 82px,#fd0000 83px,#e70000 87px,#df0000 92px,#de0000 99px,#e40000 108px,#ff0100 138px,#ff1000 153px,#f20 166px,#ff3b00 188px,#ffa300 270px,#ffd100 311px,#fef701 347px,#f5ff0a 361px,#b8ff47 404px,#3afec5 486px,#00dbff 544px,#0057fe 624px,#000084 751px,#000084 754px)"></i><i style="left:606px;top:320px;height:756px;background-image:linear-gradient(#ff1400,#ff1500 28px,#ff1800 36px,#ff1b00 60px,#ff1600 75px,#f10 78px,#ff0e00 80px,#ff0300 83px,#f80000 85px,#eb0000 87px,#e70000 88px,#de0000 93px,#de0000 100px,#e30000 109px,#f00 139px,#f10 155px,#ff2100 167px,#ff3b00 189px,#ffa300 272px,#ffe500 330px,#fef801 349px,#f4ff0b 363px,#b6ff49 407px,#3afec5 487px,#00daff 546px,#0057ff 625px,#000184 752px,#000184 755px)"></i><i style="left:608px;top:319px;height:758px;background-image:linear-gradient(#ff1400,#ff1500 30px,#ff1800 38px,#ff1a00 56px,#ff1b00 61px,#ff1600 76px,#f10 79px,#ff0e00 81px,#ff0400 84px,#f80000 86px,#eb0000 88px,#e40000 90px,#de0000 95px,#de0000 103px,#ec0000 121px,#ff0100 141px,#ff1200 157px,#ff2100 169px,#ff3d00 192px,#ffa400 274px,#ffe600 333px,#fef801 351px,#f3ff0c 365px,#b5ff4a 409px,#39fec6 489px,#00d9ff 548px,#0056fe 627px,#000084 754px,#000084 757px)"></i><i style="left:610px;top:318px;height:759px;background-image:linear-gradient(#ff1400,#ff1500 32px,#ff1800 39px,#ff1a00 57px,#ff1b00 62px,#ff1600 77px,#f10 80px,#ff0f00 82px,#ff0400 85px,#fd0100 86px,#f90000 87px,#eb0000 89px,#e40000 91px,#d00 96px,#d00 103px,#e40000 113px,#f70000 134px,#ff0100 142px,#ff1300 159px,#f20 171px,#ff3d00 194px,#ffa500 276px,#ffe700 335px,#fef801 352px,#f2ff0d 367px,#b5ff4a 410px,#38fec7 491px,#19e8e6 524px,#00d9ff 549px,#0055fe 629px,#000084 756px,#000084 758px)"></i><i style="left:612px;top:317px;height:760px;background-image:linear-gradient(#ff1400,#ff1500 33px,#ff1700 40px,#ff1900 58px,#ff1a00 64px,#ff1600 78px,#f10 81px,#ff0f00 83px,#fe0100 87px,#f90000 88px,#eb0000 90px,#e30000 92px,#d00 97px,#d00 105px,#eb0000 124px,#ff0100 144px,#ff1300 161px,#ff2300 174px,#ff4b00 206px,#ffa700 280px,#ffe200 332px,#fef801 353px,#f2ff0d 368px,#b6ff49 411px,#37fec8 493px,#18e7e7 527px,#00d8ff 551px,#05f 630px,#000184 757px,#000184 759px)"></i><i style="left:614px;top:316px;height:762px;background-image:linear-gradient(#ff1400,#ff1300 10px,#ff1500 35px,#ff1700 41px,#ff1a00 65px,#ff1600 79px,#ff0f00 84px,#fe0100 88px,#f90000 89px,#eb0000 91px,#e30000 93px,#d00 98px,#dc0000 106px,#eb0000 125px,#fe0100 145px,#ff1300 162px,#ff2300 176px,#ffa500 279px,#ffd800 324px,#fef801 354px,#f1ff0e 370px,#b5ff4a 413px,#37fec8 494px,#14e4eb 532px,#00d7ff 553px,#0054fe 632px,#000084 759px,#000084 761px)"></i><i style="left:616px;top:315px;height:763px;background-image:linear-gradient(#ff1400,#ff1300 11px,#ff1500 37px,#ff1700 43px,#ff1900 61px,#ff1900 67px,#ff1600 80px,#ff0f00 85px,#ff0100 89px,#e60000 93px,#e20000 94px,#d00 99px,#dc0000 107px,#e90000 125px,#fe0100 146px,#f10 162px,#f30 190px,#ff9500 268px,#ffd100 319px,#fff800 355px,#f0ff0f 372px,#b6ff49 414px,#36fec9 496px,#10e1ef 538px,#00d6ff 555px,#0054fe 634px,#000084 760px,#000084 762px)"></i><i style="left:618px;top:314px;height:764px;background-image:linear-gradient(#ff1400,#ff1200 12px,#ff1300 22px,#ff1500 39px,#ff1700 44px,#ff1900 63px,#ff1500 81px,#ff0c00 87px,#ff0100 90px,#e60000 94px,#e20000 95px,#dc0000 100px,#dc0000 108px,#e70000 125px,#fd0100 147px,#ff0a00 157px,#ff3200 191px,#ff8700 258px,#fc0 316px,#fef801 357px,#efff10 374px,#b6ff49 415px,#35feca 498px,#0bddf4 545px,#00d4ff 557px,#0054ff 635px,#000184 761px,#000184 763px)"></i><i style="left:620px;top:314px;height:765px;background-image:linear-gradient(#ff1400,#ff1300 13px,#ff1500 40px,#ff1800 58px,#ff1900 68px,#ff1400 82px,#ff0c00 87px,#ff0100 90px,#fa0000 91px,#eb0000 93px,#e20000 95px,#dc0000 100px,#db0000 108px,#e80000 126px,#fc0100 147px,#ff0800 156px,#ff3100 190px,#ff7e00 251px,#ffcd00 317px,#fff800 357px,#ef1 375px,#b9ff46 413px,#34fecb 499px,#06d9f9 551px,#00d3ff 558px,#0053fe 636px,#000084 762px,#000084 764px)"></i><i style="left:622px;top:313px;height:766px;background-image:linear-gradient(#ff1400,#ff1200 14px,#ff1400 20px,#ff1300 27px,#ff1500 41px,#ff1900 66px,#ff1400 83px,#ff0c00 88px,#ff0100 91px,#fa0000 92px,#eb0000 94px,#e20000 96px,#dc0000 101px,#db0000 109px,#e50000 125px,#fc0100 148px,#ff0900 158px,#ff3200 192px,#ff7800 248px,#ffcd00 318px,#fef901 359px,#ef1 376px,#bfff40 410px,#33fecc 501px,#00d4ff 559px,#0052fe 638px,#000084 763px,#000084 765px)"></i><i style="left:624px;top:312px;height:767px;background-image:linear-gradient(#ff1400,#ff1200 15px,#ff1400 20px,#ff1300 28px,#ff1500 43px,#ff1900 68px,#ff1400 84px,#ff0a00 90px,#ff0200 92px,#fa0000 93px,#eb0000 95px,#e20000 97px,#dc0000 101px,#db0000 110px,#e50000 126px,#fb0100 149px,#ff0900 159px,#ff3100 193px,#ff7300 245px,#ffcd00 319px,#fff900 360px,#edff12 378px,#c1ff3e 410px,#32fecd 503px,#00d2ff 561px,#0052ff 639px,#000184 764px,#000184 766px)"></i><i style="left:626px;top:311px;height:769px;background-image:linear-gradient(#ff1400,#ff1200 17px,#ff1300 22px,#ff1200 29px,#ff1800 62px,#ff1800 73px,#ff1400 85px,#ff0a00 91px,#ff0200 93px,#fa0000 94px,#eb0000 96px,#e20000 98px,#de0000 100px,#da0000 108px,#e10000 123px,#fb0100 150px,#ff0900 161px,#ff3100 194px,#ff6d00 242px,#fc0 320px,#fef901 362px,#ebff14 381px,#bdff42 414px,#31fece 505px,#00d1ff 563px,#0051fe 641px,#000084 766px,#000084 768px)"></i><i style="left:628px;top:310px;height:770px;background-image:linear-gradient(#ff1400,#f10 18px,#ff1300 23px,#ff1300 31px,#ff1500 50px,#ff1700 58px,#ff1800 73px,#ff1400 86px,#ff0a00 92px,#fe0300 94px,#fa0000 95px,#eb0000 97px,#e20000 99px,#d00 101px,#da0000 108px,#db0000 114px,#e30000 127px,#fa0100 151px,#ff0a00 163px,#ff3100 195px,#ff6900 240px,#fc0 321px,#fefa01 364px,#ebff14 382px,#b9ff46 418px,#31fece 506px,#00d0ff 565px,#0050fe 643px,#000084 766px,#000084 769px)"></i><i style="left:630px;top:309px;height:771px;background-image:linear-gradient(#ff1400,#f10 19px,#ff1300 24px,#ff1200 32px,#ff1500 48px,#ff1600 55px,#ff1800 73px,#ff1200 88px,#ff0700 94px,#fb0000 96px,#ec0000 98px,#e20000 100px,#d00 102px,#d90000 108px,#dc0000 117px,#e30000 128px,#f90100 152px,#ff0b00 165px,#ff3100 197px,#ff6800 241px,#ffa600 291px,#ffcd00 323px,#fefa01 365px,#eaff15 384px,#b2ff4d 424px,#30fecf 508px,#00cfff 567px,#0050ff 644px,#000184 767px,#000184 770px)"></i><i style="left:632px;top:309px;height:772px;background-image:linear-gradient(#ff1400,#ff1000 19px,#ff1300 24px,#ff1200 32px,#ff1400 37px,#ff1500 55px,#ff1800 72px,#ff1200 88px,#ff0700 94px,#fb0000 96px,#e60000 99px,#dc0000 102px,#d90000 109px,#d00 120px,#ea0000 137px,#f90100 152px,#ff0a00 165px,#ff3400 199px,#ff8000 261px,#ffca00 320px,#ffe600 346px,#fefa01 366px,#e9ff16 385px,#aeff51 427px,#2ffed0 509px,#00ceff 568px,#004ffe 645px,#000084 768px,#000084 771px)"></i><i style="left:634px;top:308px;height:773px;background-image:linear-gradient(#ff1400,#f10 21px,#ff1200 26px,#f10 33px,#ff1300 39px,#ff1500 56px,#ff1600 61px,#ff1700 73px,#ff1200 89px,#ff0700 95px,#ff0300 96px,#fb0000 97px,#e60000 100px,#dc0000 103px,#d80000 110px,#df0000 126px,#f80100 153px,#ff0800 165px,#ff3100 198px,#ffa100 289px,#ffcb00 323px,#ffe400 346px,#fefb01 367px,#e7ff18 387px,#abff54 430px,#2efed1 511px,#00ceff 569px,#004ffe 647px,#000084 769px,#000084 772px)"></i><i style="left:636px;top:307px;height:774px;background-image:linear-gradient(#ff1400,#ff1000 22px,#ff1200 27px,#f10 35px,#ff1300 40px,#ff1500 58px,#ff1800 72px,#ff1200 90px,#ff0800 95px,#ff0700 96px,#ff0300 97px,#fb0000 98px,#e60000 101px,#dc0000 104px,#d70000 110px,#e10000 129px,#f80100 155px,#ff0800 166px,#ff2c00 196px,#ff7900 259px,#ffc900 322px,#ffe500 348px,#fffb00 368px,#e6ff19 389px,#af5 432px,#2effd1 512px,#11dfee 549px,#00cdff 571px,#004efe 649px,#000184 770px,#000184 773px)"></i><i style="left:638px;top:306px;height:776px;background-image:linear-gradient(#ff1400,#ff1000 24px,#f10 30px,#f10 36px,#ff1300 41px,#ff1700 73px,#ff1200 91px,#ff0800 96px,#ff0300 98px,#f40000 100px,#e60000 102px,#dc0000 105px,#d60000 111px,#e10000 130px,#f90100 157px,#ff0800 168px,#ff2c00 197px,#ff9e00 289px,#ffc800 322px,#ffe400 349px,#fffb00 369px,#e6ff19 390px,#a6ff59 436px,#2dffd2 514px,#15e2ea 546px,#0cf 573px,#004eff 650px,#000084 773px,#000084 775px)"></i><i style="left:640px;top:305px;height:777px;background-image:linear-gradient(#ff1400,#ff1000 25px,#f10 30px,#ff1000 37px,#ff1200 42px,#ff1700 74px,#ff1200 92px,#ff0300 99px,#f40000 101px,#e60000 103px,#db0000 106px,#d70000 110px,#d70000 114px,#e00000 131px,#f50000 154px,#fe0500 166px,#ff1c00 186px,#ff6500 245px,#ffa800 298px,#ffca00 326px,#ffe400 350px,#fff700 367px,#fefb01 372px,#e4ff1b 393px,#a0ff5f 441px,#2cffd3 516px,#14e0eb 550px,#00cbff 575px,#004dfe 652px,#000084 774px,#000084 776px)"></i><i style="left:642px;top:304px;height:778px;background-image:linear-gradient(#ff1400,#ff1000 26px,#f10 32px,#f10 39px,#ff1500 64px,#ff1600 70px,#ff1700 76px,#ff1200 93px,#ff0400 100px,#f40000 102px,#e70000 104px,#db0000 107px,#d70000 110px,#d60000 114px,#e00000 132px,#f40000 154px,#fc0200 164px,#ff0800 171px,#ff2700 196px,#ff9e00 292px,#ffc300 321px,#ffe500 352px,#fff600 367px,#fdfc02 374px,#e3ff1c 395px,#9cff63 445px,#2bfed4 518px,#10dcef 556px,#00caff 577px,#004cfe 654px,#000184 775px,#000184 777px)"></i><i style="left:644px;top:304px;height:779px;background-image:linear-gradient(#ff1400,#ff1000 26px,#f10 40px,#ff1500 64px,#ff1600 70px,#ff1600 76px,#ff1000 94px,#ff0400 100px,#fb0100 101px,#e70000 104px,#db0000 107px,#d70000 110px,#d50000 114px,#df0000 131px,#f20000 153px,#fc0200 164px,#ff0700 171px,#ff2500 195px,#ff9f00 293px,#ffc000 319px,#ffe600 353px,#fff500 366px,#fdfc02 374px,#e2ff1d 396px,#9f6 447px,#2afed5 519px,#0cd7f3 562px,#00c9ff 578px,#004cff 654px,#000084 776px,#000084 778px)"></i><i style="left:646px;top:303px;height:780px;background-image:linear-gradient(#ff1400,#ff1300 8px,#ff1000 25px,#f10 48px,#ff1300 54px,#ff1500 71px,#ff1600 76px,#ff1000 95px,#ff0400 101px,#fc0100 102px,#e70000 105px,#de0000 107px,#d70000 110px,#d50000 115px,#d00 131px,#f20000 154px,#fd0200 166px,#ff0800 173px,#ffa300 298px,#ffc100 321px,#ffe500 354px,#fef501 367px,#fcfc03 376px,#e1ff1e 398px,#95ff6a 451px,#29fed6 521px,#08d2f7 569px,#00c8ff 580px,#004bfe 656px,#000084 777px,#000084 779px)"></i><i style="left:648px;top:302px;height:781px;background-image:linear-gradient(#ff1400,#ff1300 9px,#ff1000 23px,#ff1200 50px,#ff1300 55px,#ff1500 72px,#ff1600 77px,#ff1000 96px,#ff0300 102px,#fd0100 103px,#e70000 106px,#d00 108px,#d50000 112px,#d40000 117px,#d00 132px,#f20000 155px,#fe0200 168px,#f10 183px,#ff5300 235px,#fa0 304px,#ffc600 327px,#ffe500 355px,#fef301 367px,#fdfc02 377px,#deff21 401px,#94ff6b 453px,#28fed7 523px,#04cdfb 576px,#00c6ff 582px,#004bfe 658px,#000184 778px,#000184 780px)"></i><i style="left:650px;top:301px;height:783px;background-image:linear-gradient(#ff1400,#ff1300 11px,#ff1000 25px,#f10 51px,#ff1300 56px,#ff1500 74px,#ff1600 79px,#ff1000 97px,#fe0100 104px,#e70000 107px,#d00 109px,#d50000 113px,#d40000 118px,#da0000 129px,#f00000 155px,#fe0100 170px,#ff1900 190px,#ffa900 305px,#ffc400 327px,#ffe500 357px,#fef401 369px,#fcfd03 379px,#df2 403px,#91ff6e 456px,#27fed8 525px,#00c7ff 583px,#004aff 659px,#000084 780px,#000084 782px)"></i><i style="left:652px;top:300px;height:784px;background-image:linear-gradient(#ff1400,#ff1300 12px,#ff1000 22px,#f10 52px,#ff1300 57px,#ff1400 74px,#ff1600 79px,#ff1000 98px,#f00 105px,#e00 107px,#dc0000 110px,#d40000 115px,#d40000 120px,#d90000 130px,#f00000 156px,#ff0100 172px,#ff1d00 195px,#ffc000 325px,#ffe500 358px,#fef401 370px,#fcfd03 380px,#dcff23 405px,#90ff6f 458px,#26fed9 527px,#00c6ff 585px,#004afe 661px,#000084 781px,#000084 783px)"></i><i style="left:654px;top:300px;height:784px;background-image:linear-gradient(#ff1400,#ff1300 12px,#ff1000 19px,#f10 53px,#ff1400 69px,#ff1400 75px,#ff1500 81px,#ff1000 98px,#f00 105px,#e70000 108px,#dc0000 110px,#d30000 115px,#d40000 121px,#d90000 130px,#f00000 157px,#ff0100 172px,#ff1f00 197px,#ffbf00 325px,#ffe600 359px,#fef401 371px,#fcfd03 381px,#daff25 407px,#8fff70 459px,#25feda 528px,#00c5ff 586px,#0049fe 662px,#000184 780px,#000184 783px)"></i><i style="left:656px;top:299px;height:786px;background-image:linear-gradient(#ff1400,#ff1400 13px,#ff1000 18px,#f10 54px,#ff1200 59px,#ff1400 70px,#ff1400 76px,#ff1500 82px,#ff1000 99px,#f00 106px,#e00000 110px,#db0000 111px,#d30000 116px,#d30000 122px,#d80000 131px,#f10000 159px,#ff0100 174px,#ffa500 305px,#ffc000 327px,#ffe700 361px,#fef401 372px,#fbfe04 383px,#d5ff2a 412px,#8bff74 463px,#25ffda 529px,#00c4ff 588px,#0048fe 664px,#000084 782px,#000084 785px)"></i><i style="left:658px;top:298px;height:787px;background-image:linear-gradient(#ff1400,#ff1300 15px,#ff1000 20px,#f10 56px,#ff1400 70px,#ff1300 77px,#ff1500 82px,#ff0e00 101px,#f00 107px,#e00000 111px,#db0000 112px,#d30000 117px,#d30000 124px,#d80000 133px,#f20000 161px,#ff0100 175px,#ff7e00 276px,#ffbd00 326px,#ffe800 363px,#fef501 374px,#fbfe04 384px,#ceff31 418px,#85ff7a 468px,#24ffdb 531px,#00c3ff 590px,#0048ff 665px,#000084 783px,#000084 786px)"></i><i style="left:660px;top:297px;height:788px;background-image:linear-gradient(#ff1400,#ff1300 16px,#ff1000 20px,#f10 58px,#ff1300 71px,#ff1300 78px,#ff1400 83px,#ff0e00 102px,#ff0100 107px,#fe0000 108px,#e00000 112px,#db0000 113px,#d20000 118px,#d20000 125px,#d80000 134px,#f20000 162px,#ff0100 176px,#ff2700 208px,#ffb200 318px,#ffea00 366px,#fef601 376px,#fafe05 386px,#c8ff37 424px,#7bff84 476px,#23fedc 533px,#00c2ff 592px,#0047fe 667px,#000184 784px,#000184 787px)"></i><i style="left:662px;top:297px;height:789px;background-image:linear-gradient(#ff1400,#ff1300 16px,#ff1000 21px,#f10 64px,#ff1300 70px,#ff1300 78px,#ff1400 83px,#ff0e00 101px,#ff0a00 104px,#ff0100 107px,#fe0000 108px,#f00000 110px,#e00000 112px,#da0000 113px,#d20000 118px,#d20000 125px,#d70000 134px,#ef0000 160px,#fe0000 176px,#ff2400 206px,#ffbe00 329px,#ffeb00 367px,#fdf702 378px,#faff05 387px,#c4ff3b 427px,#74ff8b 481px,#22fedd 534px,#00c0ff 593px,#0046fe 668px,#000084 785px,#000084 788px)"></i><i style="left:664px;top:296px;height:790px;background-image:linear-gradient(#ff1400,#ff1300 18px,#ff1000 23px,#ff1000 59px,#ff1200 67px,#ff1300 73px,#ff1200 79px,#ff1400 84px,#ff0e00 102px,#ff0a00 105px,#ff0100 108px,#fd0000 109px,#f80000 110px,#df0000 113px,#da0000 114px,#d20000 119px,#d10000 127px,#d70000 136px,#ed0000 159px,#fe0100 178px,#ff2500 208px,#ffbe00 330px,#fe0 370px,#fbff04 387px,#c4ff3b 428px,#6aff95 489px,#21fede 536px,#13e1ec 563px,#00bfff 595px,#0046ff 669px,#000084 786px,#000084 789px)"></i><i style="left:666px;top:295px;height:791px;background-image:linear-gradient(#ff1400,#ff1300 19px,#ff1000 23px,#ff1000 60px,#f10 68px,#ff1200 74px,#ff1200 80px,#ff1400 85px,#ff0e00 102px,#ff0a00 106px,#ff0100 109px,#f90000 111px,#df0000 114px,#da0000 115px,#d20000 120px,#d10000 128px,#d70000 137px,#ea0000 158px,#fe0100 179px,#ff2500 210px,#ffbd00 331px,#fef601 379px,#f9ff06 390px,#bfff40 433px,#5effa1 498px,#20fedf 538px,#13e0ec 565px,#00beff 597px,#0046fe 671px,#000184 788px,#000184 790px)"></i><i style="left:668px;top:294px;height:793px;background-image:linear-gradient(#ff1400,#ff1300 20px,#ff1000 25px,#ff1000 40px,#ff1000 62px,#ff1200 75px,#ff1200 82px,#ff1300 87px,#ff0e00 103px,#ff0a00 107px,#fe0200 110px,#f90000 112px,#df0000 115px,#da0000 116px,#d10000 121px,#d10000 130px,#df0000 149px,#fd0000 179px,#ff2300 210px,#ffbc00 332px,#fef601 380px,#f9ff06 391px,#c0ff3f 434px,#59ffa6 502px,#1ffee0 540px,#0fdaf0 572px,#00bdff 599px,#0045fe 673px,#000084 790px,#000084 792px)"></i><i style="left:670px;top:293px;height:794px;background-image:linear-gradient(#ff1400,#ff1300 22px,#ff1000 27px,#ff1000 41px,#ff0f00 57px,#f10 70px,#ff1200 75px,#ff1200 83px,#ff1300 88px,#ff0e00 104px,#ff0700 109px,#fc0000 112px,#f90000 113px,#df0000 116px,#d90000 117px,#d20000 121px,#d00000 130px,#d50000 139px,#e40000 155px,#fd0100 181px,#ff1f00 208px,#ff7900 279px,#ffc100 337px,#fef701 382px,#f8ff07 393px,#bfff40 436px,#50ffaf 509px,#1dfee2 542px,#0dd5f2 578px,#00bcff 601px,#0044fe 675px,#000084 791px,#000084 793px)"></i><i style="left:672px;top:292px;height:795px;background-image:linear-gradient(#ff1400,#ff1300 23px,#ff1000 28px,#ff0f00 42px,#ff0f00 58px,#f10 72px,#ff1200 77px,#f10 84px,#ff1300 89px,#ff0e00 105px,#ff0700 110px,#fc0000 113px,#f90000 114px,#f10000 115px,#df0000 117px,#d90000 118px,#d50000 120px,#d00000 124px,#cf0000 132px,#d00 150px,#fd0100 182px,#ff1900 204px,#ffbe00 336px,#fef501 382px,#f7ff08 395px,#beff41 438px,#45ffba 517px,#1cfee3 544px,#0acff5 585px,#0bf 603px,#04f 676px,#000184 792px,#000184 794px)"></i><i style="left:674px;top:292px;height:796px;background-image:linear-gradient(#ff1400,#ff1300 23px,#ff1000 28px,#ff0f00 42px,#ff0f00 51px,#ff0f00 58px,#ff0f00 68px,#f10 77px,#f10 84px,#ff1200 89px,#ff0e00 105px,#ff0700 110px,#fc0000 113px,#f90000 114px,#f10000 115px,#de0000 117px,#d90000 118px,#d40000 120px,#d00000 125px,#cf0000 132px,#dc0000 150px,#fd0100 182px,#ff1700 203px,#ffc000 338px,#fef401 381px,#f8ff07 395px,#bfff40 438px,#2bffd4 534px,#1bfee4 545px,#07c9f8 591px,#00baff 604px,#0043fe 677px,#000084 793px,#000084 795px)"></i><i style="left:676px;top:291px;height:797px;background-image:linear-gradient(#ff1400,#ff1200 24px,#ff1000 32px,#ff0e00 43px,#ff1000 49px,#ff0e00 59px,#ff1000 66px,#ff0f00 72px,#f10 77px,#ff1000 85px,#ff1200 90px,#ff0e00 106px,#ff0700 111px,#fc0000 114px,#f90000 115px,#f10000 116px,#de0000 118px,#d80000 119px,#d40000 121px,#d00000 126px,#ce0000 133px,#dc0000 151px,#fc0100 183px,#ff1600 203px,#ffc100 340px,#fef401 382px,#f7ff08 397px,#beff41 440px,#1affe5 546px,#03c2fc 599px,#00b7ff 607px,#0042fe 679px,#000084 794px,#000084 796px)"></i><i style="left:678px;top:290px;height:798px;background-image:linear-gradient(#ff1400,#ff1200 24px,#ff0d00 43px,#ff1000 49px,#ff0e00 60px,#ff1000 66px,#ff0f00 73px,#f10 79px,#ff1000 86px,#ff1200 91px,#ff0d00 107px,#ff0400 113px,#fc0000 115px,#f80000 116px,#f10000 117px,#de0000 119px,#d80000 120px,#d30000 122px,#ce0000 129px,#ce0000 134px,#db0000 152px,#fc0100 184px,#ff1500 204px,#ffc000 341px,#fef501 384px,#f6ff09 399px,#beff41 441px,#19ffe6 548px,#00b8ff 608px,#0042ff 680px,#000184 795px,#000184 797px)"></i><i style="left:680px;top:289px;height:800px;background-image:linear-gradient(#ff1400,#ff1200 24px,#ff0d00 45px,#ff1000 50px,#ff0e00 62px,#ff1000 67px,#ff0f00 75px,#f10 80px,#ff1000 87px,#ff1200 92px,#ff0d00 108px,#fe0200 115px,#fc0000 116px,#f80000 117px,#f10000 118px,#de0000 120px,#d70000 121px,#d40000 122px,#ce0000 130px,#cd0000 136px,#df0000 157px,#fc0100 185px,#ff1400 204px,#ffad00 326px,#fef501 386px,#f5ff0a 401px,#bfff40 442px,#18ffe7 550px,#00b7ff 610px,#0042ff 682px,#000084 796px,#000084 799px)"></i><i style="left:682px;top:288px;height:801px;background-image:linear-gradient(#ff1400,#ff1200 24px,#ff0d00 47px,#ff0f00 52px,#ff0e00 63px,#ff0f00 68px,#ff0f00 76px,#ff1000 81px,#ff1000 89px,#f10 94px,#ff0b00 110px,#fe0200 116px,#f80000 118px,#f10000 119px,#de0000 121px,#d70000 122px,#d30000 123px,#c00 134px,#d10000 143px,#e10000 161px,#fc0100 186px,#ff0f00 201px,#ff2a00 223px,#ffab00 326px,#fef501 387px,#f5ff0a 402px,#c3ff3c 440px,#17ffe8 552px,#00b7ff 611px,#0041fe 684px,#000084 797px,#000084 800px)"></i><i style="left:684px;top:288px;height:801px;background-image:linear-gradient(#ff1400,#ff1200 24px,#ff0d00 47px,#ff0f00 51px,#ff0d00 63px,#ff0f00 68px,#ff0e00 76px,#ff1000 81px,#ff1000 89px,#f10 94px,#ff0b00 110px,#fe0200 116px,#f80000 118px,#f10000 119px,#d00 121px,#d70000 122px,#d30000 123px,#cb0000 134px,#d00000 143px,#e10000 161px,#f80000 183px,#fc0300 189px,#ff0e00 201px,#f30 230px,#ffa600 323px,#ffc100 345px,#fef601 388px,#f4ff0b 403px,#c9ff36 436px,#3fc 534px,#15ffea 553px,#00b7ff 611px,#0040fe 685px,#000184 797px,#000184 800px)"></i><i style="left:686px;top:287px;height:803px;background-image:linear-gradient(#ff1400,#ff1300 23px,#ff0d00 48px,#ff0f00 53px,#ff0d00 64px,#ff0f00 69px,#ff0e00 77px,#ff1000 82px,#ff0f00 90px,#f10 95px,#ff0b00 111px,#ff0100 117px,#f80000 119px,#f10000 120px,#d00 122px,#d60000 123px,#d20000 124px,#cb0000 135px,#d00000 144px,#e00000 162px,#f80000 184px,#fc0200 190px,#ff0c00 201px,#ffa700 325px,#ffc200 347px,#fef501 389px,#f3ff0c 405px,#cfff30 433px,#5effa1 508px,#14ffeb 555px,#00b3ff 615px,#0040ff 686px,#000084 799px,#000084 802px)"></i><i style="left:688px;top:286px;height:804px;background-image:linear-gradient(#ff1400,#ff1300 23px,#ff0c00 49px,#ff0e00 54px,#ff0c00 65px,#ff0e00 71px,#ff0e00 78px,#ff0f00 84px,#ff0f00 91px,#ff1000 96px,#ff0b00 112px,#ff0100 118px,#f80000 120px,#f10000 121px,#d00 123px,#d60000 124px,#d20000 125px,#ca0000 136px,#cf0000 145px,#df0000 163px,#f70000 185px,#fc0300 192px,#ff0d00 203px,#ff7d00 293px,#ffbc00 343px,#fef601 391px,#f2ff0d 407px,#cfff30 434px,#64ff9b 505px,#13feec 557px,#00b2ff 617px,#003ffe 688px,#000084 800px,#000084 803px)"></i><i style="left:690px;top:285px;height:805px;background-image:linear-gradient(#ff1400,#ff1300 23px,#ff0c00 51px,#ff0e00 56px,#ff0d00 67px,#ff0e00 72px,#ff0d00 79px,#ff0f00 85px,#ff0e00 92px,#ff1000 97px,#ff0b00 113px,#ff0100 119px,#f80000 121px,#f10000 122px,#dc0000 124px,#d50000 125px,#d10000 126px,#ca0000 137px,#ce0000 146px,#df0000 164px,#f60000 186px,#fd0300 194px,#ff0c00 204px,#ff7300 286px,#ffbd00 345px,#fff600 392px,#f2ff0d 408px,#d0ff2f 434px,#7f8 494px,#12feed 559px,#0adbf5 586px,#00b0ff 619px,#003efe 690px,#000184 801px,#000184 804px)"></i><i style="left:692px;top:284px;height:807px;background-image:linear-gradient(#ff1400,#ff1300 23px,#ff0c00 52px,#ff0e00 57px,#ff0c00 68px,#ff0e00 73px,#ff0d00 81px,#ff0e00 88px,#ff0f00 94px,#ff0f00 99px,#ff0b00 114px,#ff0100 120px,#fd0000 121px,#f10000 123px,#dc0000 125px,#d50000 126px,#d00000 127px,#c90000 138px,#ce0000 147px,#de0000 165px,#f70000 188px,#fd0400 197px,#ff0d00 206px,#ffbd00 346px,#fef701 394px,#f1ff0e 410px,#d1ff2e 434px,#83ff7c 487px,#11feee 561px,#0cdef3 584px,#00afff 621px,#003efe 692px,#000084 803px,#000084 806px)"></i><i style="left:694px;top:283px;height:808px;background-image:linear-gradient(#ff1400,#ff1300 24px,#ff0c00 53px,#ff0d00 58px,#ff0c00 69px,#ff0e00 74px,#ff0d00 83px,#ff0e00 90px,#ff0e00 95px,#ff0f00 99px,#ff0a00 115px,#ff0100 121px,#f70000 123px,#f00000 124px,#dc0000 126px,#d00000 128px,#c80000 139px,#ce0000 149px,#de0000 167px,#fc0100 195px,#ff0900 205px,#fb0 346px,#fef701 396px,#f0ff0f 412px,#d2ff2d 435px,#7f8 496px,#10feef 563px,#0ad8f5 590px,#00aeff 623px,#003eff 693px,#000084 805px,#000084 807px)"></i><i style="left:696px;top:283px;height:809px;background-image:linear-gradient(#ff1400,#ff1300 24px,#ff0c00 51px,#ff0d00 60px,#ff0b00 69px,#ff0d00 74px,#ff0d00 83px,#ff0e00 90px,#ff0e00 95px,#ff0f00 99px,#ff0a00 115px,#f00 121px,#f70000 123px,#f00000 124px,#db0000 126px,#cf0000 128px,#c80000 139px,#ce0000 150px,#de0000 167px,#fb0100 195px,#ff0900 205px,#ffab00 333px,#fef701 396px,#efff10 413px,#d1ff2e 436px,#54ffab 519px,#0ffef0 564px,#09d2f6 595px,#00acff 624px,#003dfe 694px,#000083 806px,#000083 808px)"></i><i style="left:698px;top:282px;height:810px;background-image:linear-gradient(#ff1400,#ff1400 25px,#ff1000 33px,#ff0f00 40px,#ff0c00 52px,#ff0c00 62px,#ff0b00 70px,#ff0d00 75px,#ff0c00 84px,#ff0d00 91px,#ff0e00 97px,#ff0b00 113px,#ff0700 118px,#f00 122px,#f70000 124px,#f00000 125px,#e70000 126px,#db0000 127px,#d40000 128px,#cf0000 129px,#c70000 140px,#ce0000 152px,#d00 168px,#fa0100 196px,#ff0700 205px,#ff6500 279px,#ffa800 332px,#fef801 398px,#ef1 415px,#cfff30 438px,#4affb5 527px,#0dfef2 566px,#07caf8 602px,#00abff 626px,#003cfe 696px,#000084 807px,#000084 809px)"></i><i style="left:700px;top:281px;height:811px;background-image:linear-gradient(#ff1400,#ff1300 27px,#ff1000 36px,#ff0f00 41px,#ff0c00 49px,#ff0c00 64px,#ff0b00 72px,#ff0d00 77px,#ff0c00 86px,#ff0d00 93px,#ff0d00 102px,#ff0b00 114px,#ff0700 119px,#fe0000 123px,#f60000 125px,#f00000 126px,#e70000 127px,#db0000 128px,#d30000 129px,#cf0000 130px,#c80000 139px,#c90000 145px,#d50000 162px,#fa0100 197px,#ff0600 206px,#ff6300 279px,#ff9d00 325px,#ffc400 356px,#fef701 399px,#ef1 416px,#cdff32 441px,#3fffc0 535px,#0cfef3 568px,#05c3fa 609px,#0af 628px,#003bfe 698px,#000084 808px,#000084 810px)"></i><i style="left:702px;top:280px;height:813px;background-image:linear-gradient(#ff1400,#ff1300 28px,#ff1000 34px,#ff0f00 42px,#ff0c00 48px,#ff0b00 65px,#ff0b00 73px,#ff0c00 78px,#ff0c00 88px,#ff0c00 95px,#ff0d00 108px,#ff0700 120px,#f00 123px,#fb0000 125px,#f00000 127px,#e60000 128px,#db0000 129px,#d30000 130px,#ce0000 131px,#c80000 138px,#c70000 144px,#d20000 160px,#f90100 198px,#ff0500 207px,#ff6200 280px,#ff8100 304px,#ffc300 357px,#fff800 400px,#edff12 418px,#caff35 444px,#3cffc3 538px,#0bfef4 570px,#04bbfb 616px,#00a7ff 631px,#003bff 699px,#000083 810px,#000083 812px)"></i><i style="left:704px;top:279px;height:814px;background-image:linear-gradient(#ff1400,#ff1300 29px,#ff1000 34px,#ff0f00 44px,#ff0c00 49px,#ff0b00 67px,#ff0a00 74px,#ff0c00 79px,#ff0b00 89px,#ff0c00 96px,#ff0c00 112px,#ff0400 122px,#f00 124px,#fb0000 126px,#f00000 128px,#da0000 130px,#d30000 131px,#c00 133px,#c60000 143px,#cf0000 158px,#d00 173px,#f80100 199px,#ff0500 208px,#ff4600 259px,#ff8000 305px,#ffc400 359px,#fef801 402px,#ecff13 420px,#c9ff36 446px,#3affc5 541px,#0afef5 572px,#00a1ff 636px,#003afe 701px,#000084 811px,#000084 813px)"></i><i style="left:706px;top:278px;height:815px;background-image:linear-gradient(#ff1400,#ff1300 31px,#ff1000 36px,#ff0f00 45px,#ff0c00 50px,#ff0a00 70px,#ff0a00 75px,#ff0c00 80px,#ff0b00 91px,#ff0c00 98px,#ff0c00 105px,#ff0b00 114px,#ff0400 123px,#fe0000 125px,#fa0000 127px,#f00000 129px,#da0000 131px,#d20000 132px,#cb0000 134px,#c60000 143px,#cd0000 157px,#dc0000 173px,#f70100 199px,#ff0500 210px,#ff4600 260px,#ff6700 287px,#ff8100 307px,#ffc700 362px,#fef901 404px,#ebff14 422px,#c6ff39 449px,#39ffc6 543px,#09fef6 574px,#009eff 639px,#0039fe 703px,#000084 812px,#000084 814px)"></i><i style="left:708px;top:278px;height:816px;background-image:linear-gradient(#ff1400,#ff1300 31px,#ff1000 35px,#ff0f00 45px,#ff0c00 49px,#ff0a00 69px,#ff0a00 75px,#ff0c00 80px,#ff0a00 91px,#ff0b00 98px,#ff0b00 109px,#ff0b00 114px,#ff0400 123px,#fe0000 125px,#fa0000 127px,#f00000 129px,#da0000 131px,#d20000 132px,#cb0000 134px,#c60000 142px,#c70000 148px,#d00000 162px,#f60100 199px,#ff0500 210px,#ff4500 260px,#ff6400 285px,#ff7f00 306px,#ffc800 363px,#fff900 404px,#f1fe0e 417px,#dcff23 434px,#4cffb3 531px,#08fef7 575px,#009dff 640px,#0039ff 703px,#000ea0 786px,#000083 813px,#000083 815px)"></i><i style="left:710px;top:277px;height:817px;background-image:linear-gradient(#ff1400,#ff1300 32px,#ff1000 36px,#ff0f00 46px,#ff0c00 50px,#ff0a00 69px,#ff0900 76px,#ff0b00 82px,#ff0a00 93px,#ff0b00 99px,#ff0a00 110px,#ff0b00 114px,#fe0200 125px,#fc0000 127px,#fa0000 128px,#ef0000 130px,#e60000 131px,#da0000 132px,#d10000 133px,#cb0000 135px,#c60000 142px,#c70000 149px,#d00000 163px,#df0000 178px,#f60100 200px,#ff0400 211px,#f40 261px,#ff6300 285px,#ff7e00 307px,#ffca00 366px,#fefa01 406px,#f0fe0f 419px,#caff35 448px,#36ffc9 546px,#06fef9 577px,#00a0ff 639px,#0038ff 705px,#000ea1 787px,#000084 814px,#000084 816px)"></i><i style="left:712px;top:276px;height:818px;background-image:linear-gradient(#ff1400,#ff1400 33px,#ff1000 37px,#ff0e00 48px,#ff0c00 52px,#ff0a00 71px,#ff0900 78px,#ff0a00 85px,#ff0900 94px,#ff0b00 100px,#ff0a00 116px,#fe0200 126px,#fa0000 129px,#ef0000 131px,#da0000 133px,#d10000 134px,#c90000 137px,#c50000 143px,#c70000 151px,#cf0000 163px,#d00 178px,#e00 193px,#ff0400 212px,#ff4300 262px,#ff6200 286px,#ff7e00 308px,#ffc500 363px,#fefb01 408px,#effe10 422px,#c1ff3e 455px,#30ffcf 551px,#05fefa 579px,#0095ff 647px,#0037fe 707px,#000b9b 794px,#000084 815px,#000084 817px)"></i><i style="left:714px;top:275px;height:820px;background-image:linear-gradient(#ff1400,#ff1300 35px,#ff1000 40px,#ff0f00 49px,#ff0c00 53px,#ff0900 72px,#ff0900 80px,#ff0a00 87px,#ff0900 95px,#ff0b00 100px,#ff0900 112px,#ff0900 117px,#fe0200 127px,#f90000 130px,#ef0000 132px,#e60000 133px,#d90000 134px,#d00000 135px,#c80000 138px,#c50000 144px,#c90000 156px,#d50000 172px,#ed0000 193px,#ff0300 212px,#f40 264px,#ff6300 288px,#ff7f00 310px,#ffc200 362px,#fffb00 409px,#e4ff1b 432px,#9eff61 480px,#2bffd4 556px,#04fefb 581px,#0090ff 652px,#0036fe 709px,#000792 803px,#000083 817px,#000083 819px)"></i><i style="left:716px;top:274px;height:821px;background-image:linear-gradient(#ff1400,#ff1300 36px,#ff1000 40px,#ff0f00 50px,#ff0c00 55px,#ff0800 76px,#ff0900 82px,#ff0900 92px,#ff0900 97px,#ff0a00 102px,#ff0800 118px,#fe0300 128px,#f90000 131px,#ef0000 133px,#e60000 134px,#d90000 135px,#d00000 136px,#c80000 139px,#c40000 146px,#cb0000 162px,#db0000 179px,#eb0000 193px,#ff0200 213px,#ff3f00 262px,#ff6200 289px,#ff7d00 310px,#ff9b00 333px,#ffd400 378px,#fefc01 411px,#e1ff1e 435px,#9bff64 483px,#29ffd6 558px,#04fdfb 583px,#008dff 655px,#0035ff 710px,#000287 814px,#000084 818px,#000084 820px)"></i><i style="left:718px;top:273px;height:822px;background-image:linear-gradient(#ff1400,#ff1300 37px,#ff1000 41px,#ff0f00 51px,#ff0c00 55px,#ff0900 75px,#ff0900 83px,#ff0900 90px,#ff0900 98px,#ff0a00 103px,#ff0800 119px,#fd0200 129px,#f90000 132px,#ef0000 134px,#e70000 135px,#d90000 136px,#d00000 137px,#c70000 140px,#c40000 147px,#cd0000 165px,#db0000 181px,#eb0000 194px,#ff0200 214px,#ff2100 240px,#ff4b00 272px,#ff6b00 298px,#ffa000 338px,#ffeb00 398px,#fefc01 413px,#dcff23 440px,#9f6 486px,#04fdfb 584px,#008fff 655px,#0034ff 712px,#000084 818px,#000084 821px)"></i><i style="left:720px;top:272px;height:824px;background-image:linear-gradient(#ff1400,#ff1300 38px,#ff1000 43px,#ff0e00 53px,#ff0c00 57px,#ff0700 83px,#ff0900 90px,#ff0800 99px,#ff0a00 104px,#ff0700 121px,#fe0300 129px,#fb0000 132px,#f40000 134px,#ef0000 135px,#e70000 136px,#d80000 137px,#cf0000 138px,#c60000 141px,#c30000 148px,#c00 166px,#da0000 182px,#eb0000 196px,#ff0200 215px,#ff1d00 238px,#ff4d00 275px,#ff7000 303px,#ff9800 333px,#ffef00 402px,#fffd00 414px,#d8ff27 444px,#98ff67 488px,#11fdee 577px,#03fcfc 587px,#08f 661px,#0033fe 714px,#000084 820px,#000084 823px)"></i><i style="left:722px;top:272px;height:824px;background-image:linear-gradient(#ff1400,#ff1300 38px,#ff1000 45px,#ff0c00 60px,#ff0700 84px,#ff0900 90px,#ff0800 99px,#ff0900 104px,#ff0600 121px,#fe0300 128px,#fb0000 132px,#ef0000 135px,#e70000 136px,#d80000 137px,#cf0000 138px,#c60000 141px,#c30000 148px,#cd0000 167px,#da0000 182px,#ec0000 197px,#fe0100 215px,#ff1b00 237px,#ff5000 278px,#ff7e00 314px,#ff9a00 335px,#fff000 403px,#fefe01 415px,#cfff30 451px,#8dff72 495px,#28fdd7 563px,#03fbfc 588px,#0087ff 662px,#0032fe 715px,#000084 821px,#000084 823px)"></i><i style="left:724px;top:271px;height:825px;background-image:linear-gradient(#ff1400,#ff1300 38px,#ff1000 46px,#ff0c00 61px,#ff0700 85px,#ff0800 92px,#ff0800 100px,#ff0900 105px,#ff0600 122px,#fe0300 129px,#fb0000 133px,#ef0000 136px,#e80000 137px,#d80000 138px,#ce0000 139px,#c50000 142px,#c20000 149px,#c00 168px,#da0000 184px,#ed0000 200px,#ff0200 217px,#ff2000 242px,#ff5200 281px,#ff7e00 315px,#ff9a00 336px,#fff200 406px,#fefe01 417px,#bcff43 466px,#41febe 548px,#03fafc 590px,#0084ff 665px,#0032ff 716px,#000084 822px,#000084 824px)"></i><i style="left:726px;top:270px;height:827px;background-image:linear-gradient(#ff1400,#ff1300 38px,#ff0900 73px,#ff0700 87px,#ff0800 94px,#ff0700 101px,#ff0900 106px,#ff0500 123px,#fe0200 130px,#fb0000 134px,#ef0000 137px,#e80000 138px,#d70000 139px,#ce0000 140px,#c50000 143px,#c10000 150px,#cb0000 168px,#da0000 185px,#e00 202px,#ff0100 218px,#ff1e00 242px,#ff7800 312px,#ff9600 334px,#fff400 409px,#feff01 419px,#afff50 476px,#40febf 550px,#02f9fd 592px,#0081ff 668px,#0031ff 718px,#000084 823px,#000084 826px)"></i><i style="left:728px;top:269px;height:828px;background-image:linear-gradient(#ff1400,#ff1300 39px,#ff0500 87px,#ff0800 95px,#ff0700 102px,#ff0900 107px,#ff0500 124px,#fe0200 131px,#fa0000 135px,#ef0000 138px,#e80000 139px,#d70000 140px,#ce0000 141px,#c40000 144px,#c10000 151px,#ca0000 168px,#da0000 187px,#ef0000 204px,#ff0100 219px,#ff1d00 243px,#ff5400 286px,#ff8300 321px,#ffd100 382px,#ff0 419px,#b1ff4e 476px,#3ffec0 552px,#18fae7 579px,#02f8fd 594px,#007fff 671px,#0030fe 720px,#000084 825px,#000084 827px)"></i><i style="left:730px;top:268px;height:829px;background-image:linear-gradient(#ff1400,#ff1300 39px,#ff0500 89px,#ff0700 96px,#ff0600 103px,#ff0800 108px,#ff0200 130px,#fa0000 136px,#ef0000 139px,#e80000 140px,#d70000 141px,#cd0000 142px,#c40000 145px,#c00000 152px,#c90000 168px,#db0000 189px,#fe0000 219px,#ff1800 240px,#f50 288px,#f90 339px,#ffd000 383px,#fffc00 418px,#fdff02 422px,#a9ff56 483px,#41ffbe 551px,#1bf9e4 579px,#02f8fd 596px,#007cff 674px,#002ffe 722px,#000084 826px,#000084 828px)"></i><i style="left:732px;top:267px;height:831px;background-image:linear-gradient(#ff1400,#ff1300 39px,#ff0500 91px,#ff0700 98px,#ff0600 104px,#ff0800 109px,#fe0100 133px,#fa0000 137px,#ef0000 140px,#e80000 141px,#d60000 142px,#cd0000 143px,#c30000 146px,#c00000 153px,#c60000 165px,#da0000 190px,#f00 221px,#ff1b00 244px,#ff5400 289px,#ff9800 340px,#ffd100 385px,#fff700 415px,#fcff03 424px,#a6ff59 486px,#40ffbf 553px,#16f8e9 584px,#01f7fe 598px,#007aff 677px,#002fff 723px,#000084 827px,#000084 830px)"></i><i style="left:734px;top:266px;height:832px;background-image:linear-gradient(#ff1400,#ff1300 39px,#ff0500 93px,#ff0600 99px,#ff0600 106px,#ff0700 111px,#fe0100 134px,#f90000 138px,#e00 141px,#e80000 142px,#d60000 143px,#c00 144px,#c30000 147px,#bf0000 154px,#c50000 166px,#db0000 192px,#f00 222px,#ff1800 243px,#f50 291px,#ff9800 341px,#ffd100 386px,#ffe800 404px,#fef801 418px,#fdff02 425px,#a4ff5b 489px,#41ffbe 554px,#10f7ef 590px,#01f6fe 600px,#0075ff 681px,#002eff 725px,#000084 828px,#000084 831px)"></i><i style="left:736px;top:265px;height:833px;background-image:linear-gradient(#ff1400,#ff1300 39px,#ff0400 94px,#ff0600 101px,#ff0600 107px,#ff0700 111px,#fe0100 135px,#f90000 139px,#e00 142px,#e70000 143px,#d60000 144px,#c00 145px,#c20000 148px,#be0000 155px,#c50000 167px,#dc0000 194px,#ff0100 224px,#ff1900 245px,#ff5700 294px,#ff9800 342px,#ffd200 388px,#fef101 413px,#fcff03 427px,#a3ff5c 491px,#40ffbf 556px,#09f6f6 596px,#01f5fe 602px,#006cff 688px,#002dfe 727px,#000084 829px,#000084 832px)"></i><i style="left:738px;top:265px;height:834px;background-image:linear-gradient(#ff1400,#ff1300 39px,#ff0400 95px,#ff0600 101px,#ff0600 107px,#ff0600 112px,#fe0100 135px,#f90000 139px,#e00 142px,#e70000 143px,#d60000 144px,#c00 145px,#c20000 148px,#be0000 155px,#c40000 167px,#dc0000 195px,#fe0000 224px,#ff1700 244px,#ff5a00 296px,#ff9600 341px,#ffd200 388px,#ffe600 404px,#fef101 413px,#fbff04 428px,#a1ff5e 492px,#3dffc2 558px,#03f5fc 601px,#01f3fe 604px,#0056ff 702px,#002dfe 728px,#000289 825px,#000084 831px,#000084 833px)"></i><i style="left:740px;top:264px;height:835px;background-image:linear-gradient(#ff1400,#ff1300 39px,#ff0400 96px,#ff0500 103px,#ff0600 109px,#ff0300 128px,#f00 136px,#f80000 140px,#e00 143px,#e60000 144px,#d50000 145px,#c00 146px,#c10000 149px,#bd0000 156px,#c30000 168px,#d00 197px,#fe0000 225px,#ff1500 244px,#ff5c00 299px,#ff9500 342px,#ffd100 389px,#ffe500 405px,#fff100 414px,#faff05 430px,#a0ff5f 494px,#3cffc3 560px,#00f3ff 605px,#0042ff 716px,#002cfe 730px,#000187 828px,#000084 832px,#000084 834px)"></i><i style="left:742px;top:263px;height:836px;background-image:linear-gradient(#ff1400,#ff1300 39px,#ff0300 98px,#ff0500 105px,#ff0500 114px,#ff0100 134px,#f00 137px,#f80000 141px,#e00 144px,#e60000 145px,#d50000 146px,#c00 147px,#c10000 150px,#bd0000 157px,#c30000 169px,#db0000 197px,#fe0100 227px,#ff1500 245px,#ff5e00 302px,#ff9400 342px,#ffd200 391px,#ffe600 407px,#fef201 416px,#faff05 431px,#9eff61 497px,#3affc5 563px,#00f3ff 607px,#002cff 731px,#000084 832px,#000084 835px)"></i><i style="left:744px;top:262px;height:838px;background-image:linear-gradient(#ff1400,#ff1300 39px,#ff0300 99px,#ff0400 106px,#ff0400 123px,#f00 138px,#f70000 142px,#e00 145px,#e60000 146px,#d50000 147px,#c00 148px,#c40000 150px,#bf0000 152px,#bc0000 158px,#c20000 170px,#da0000 197px,#fe0100 228px,#ff1200 244px,#ff6100 306px,#ff9300 343px,#ffd200 392px,#ffe700 409px,#fef301 418px,#fafd05 430px,#f8ff07 434px,#9bff64 500px,#39ffc6 565px,#00f1ff 609px,#002bfe 733px,#000084 834px,#000084 837px)"></i><i style="left:746px;top:261px;height:839px;background-image:linear-gradient(#ff1400,#ff1300 39px,#ff0200 100px,#ff0400 107px,#ff0300 127px,#fe0000 139px,#f30000 144px,#e00 146px,#e50000 147px,#d50000 148px,#cb0000 149px,#c30000 151px,#be0000 153px,#b00 159px,#c20000 172px,#d70000 196px,#fd0100 229px,#f10 245px,#ff6500 310px,#ff9300 344px,#ffd300 394px,#ffea00 412px,#fef401 420px,#fafd05 432px,#f8ff07 435px,#97ff68 504px,#36fec9 568px,#00f0ff 611px,#002afe 735px,#000084 835px,#000084 838px)"></i><i style="left:748px;top:260px;height:840px;background-image:linear-gradient(#ff1400,#ff1300 39px,#ff0200 101px,#ff0400 109px,#ff0300 128px,#fe0000 140px,#f30000 145px,#ed0000 147px,#e50000 148px,#d60000 149px,#cb0000 150px,#bf0000 153px,#b00 160px,#c30000 174px,#d60000 196px,#fd0100 230px,#ff1000 245px,#ff6700 313px,#ff9200 345px,#ffab00 364px,#ffd500 397px,#fef401 421px,#f7ff08 437px,#94ff6b 507px,#34fecb 571px,#00efff 613px,#002aff 736px,#000084 836px,#000084 839px)"></i><i style="left:750px;top:259px;height:842px;background-image:linear-gradient(#ff1400,#ff1300 40px,#ff0600 83px,#ff0200 104px,#ff0300 110px,#ff0300 123px,#fe0000 140px,#fa0000 143px,#ed0000 148px,#e50000 149px,#d60000 150px,#cb0000 151px,#bf0000 154px,#ba0000 161px,#c30000 176px,#d10000 192px,#e80000 213px,#fd0100 231px,#ff1000 247px,#ff6900 316px,#ff9200 346px,#ffab00 365px,#ffd600 399px,#fef501 423px,#f6ff09 439px,#91ff6e 510px,#36fec9 571px,#00edff 616px,#0029ff 738px,#000084 838px,#000084 841px)"></i><i style="left:752px;top:258px;height:843px;background-image:linear-gradient(#ff1400,#ff1300 40px,#ff0600 81px,#ff0200 106px,#ff0300 111px,#ff0300 124px,#fe0300 130px,#fe0000 140px,#fa0000 144px,#ec0000 149px,#e40000 150px,#d60000 151px,#ca0000 152px,#be0000 155px,#ba0000 162px,#c30000 178px,#d00000 193px,#e70000 214px,#fc0100 232px,#ff1000 248px,#ff6a00 318px,#ff9300 348px,#ffab00 367px,#ffd800 402px,#fff500 424px,#f7ff08 440px,#8fff70 513px,#34fecb 573px,#1ff6e0 592px,#00ecff 618px,#0029fe 740px,#000084 839px,#000084 842px)"></i><i style="left:754px;top:257px;height:844px;background-image:linear-gradient(#ff1400,#ff1300 40px,#ff0500 84px,#ff0100 107px,#ff0300 112px,#ff0200 124px,#fe0300 129px,#fe0000 140px,#f90000 145px,#ec0000 150px,#e40000 151px,#d60000 152px,#ca0000 153px,#be0000 156px,#b90000 163px,#c30000 180px,#d00000 195px,#e90000 217px,#fc0000 233px,#f10 250px,#ff6a00 319px,#ff9200 349px,#ffab00 368px,#ffd700 402px,#fef601 426px,#f6ff09 442px,#8cff73 516px,#32fecd 576px,#20f5df 593px,#00ebff 620px,#0028fe 742px,#000084 840px,#000084 843px)"></i><i style="left:756px;top:257px;height:845px;background-image:linear-gradient(#ff1400,#ff1300 39px,#ff0600 80px,#ff0500 85px,#ff0100 107px,#ff0300 112px,#ff0100 124px,#fe0200 129px,#fe0000 139px,#f90000 145px,#ec0000 150px,#e40000 151px,#c90000 153px,#be0000 156px,#b80000 163px,#c40000 182px,#d00000 195px,#e90000 217px,#fc0100 234px,#ff1000 250px,#ff6b00 320px,#ff9300 350px,#ffac00 369px,#ffd800 403px,#fef601 427px,#f5ff0a 443px,#8bff74 517px,#31fece 577px,#1df3e2 597px,#00eaff 621px,#0028ff 742px,#000084 841px,#000084 844px)"></i><i style="left:758px;top:256px;height:846px;background-image:linear-gradient(#ff1400,#ff1300 39px,#ff0600 80px,#ff0400 86px,#ff0200 97px,#f00 108px,#ff0200 113px,#fe0100 125px,#fd0200 130px,#fe0000 139px,#f90000 146px,#eb0000 151px,#e30000 152px,#c90000 154px,#bd0000 157px,#b80000 163px,#c30000 183px,#ce0000 195px,#e90000 218px,#fc0100 235px,#ff1000 251px,#ff6c00 322px,#ff9300 351px,#fa0 369px,#ffd000 398px,#fff300 425px,#fcfa03 433px,#f4ff0b 445px,#8aff75 519px,#2ffed0 579px,#19f1e6 602px,#00e9ff 623px,#0027ff 744px,#000084 842px,#000084 845px)"></i><i style="left:760px;top:255px;height:847px;background-image:linear-gradient(#ff1400,#ff1300 39px,#ff0300 87px,#ff0200 98px,#fe0100 110px,#ff0200 116px,#fe0000 126px,#fd0200 131px,#f00 139px,#f90000 147px,#eb0000 152px,#e30000 153px,#c80000 155px,#bd0000 158px,#b70000 164px,#c30000 184px,#cd0000 195px,#e90000 220px,#fb0100 236px,#ff0f00 252px,#ff3e00 288px,#ff6e00 325px,#ff9300 353px,#ffa900 370px,#ffcb00 395px,#fef701 430px,#f3ff0c 447px,#89ff76 521px,#2efed1 581px,#14eeeb 608px,#00e8ff 625px,#0026fe 746px,#000084 843px,#000084 846px)"></i><i style="left:762px;top:254px;height:849px;background-image:linear-gradient(#ff1400,#ff1300 40px,#ff0500 81px,#ff0300 88px,#fe0300 95px,#fe0000 110px,#ff0200 116px,#fe0100 128px,#fc0100 133px,#f00 139px,#f60000 149px,#ea0000 153px,#e30000 154px,#c70000 156px,#bc0000 159px,#b70000 164px,#b90000 171px,#c80000 192px,#e90000 221px,#fb0100 237px,#ff0d00 252px,#ff3d00 289px,#ff7000 328px,#ff9400 355px,#fa0 372px,#ffcd00 398px,#fff700 431px,#f2ff0d 449px,#89ff76 522px,#2dfed2 583px,#0fecf0 614px,#00e6ff 627px,#0025fe 748px,#000ba5 818px,#000084 845px,#000084 848px)"></i><i style="left:764px;top:253px;height:850px;background-image:linear-gradient(#ff1400,#ff1300 40px,#ff0500 81px,#ff0200 89px,#fe0300 95px,#fe0100 100px,#fe0000 110px,#fe0200 116px,#fe0000 128px,#fc0100 133px,#fe0000 140px,#f60000 150px,#ea0000 154px,#e20000 155px,#c70000 157px,#bc0000 160px,#b70000 164px,#b80000 171px,#c70000 193px,#e80000 222px,#fb0100 239px,#ff0e00 254px,#f60 322px,#ff9300 355px,#fa0 373px,#ffca00 397px,#fef801 433px,#f0ff0f 451px,#86ff79 525px,#2bfed4 585px,#09e9f6 621px,#00e5ff 629px,#0025ff 749px,#000aa3 821px,#000084 846px,#000084 849px)"></i><i style="left:766px;top:252px;height:851px;background-image:linear-gradient(#ff1400,#ff1300 40px,#ff0600 81px,#ff0200 90px,#fe0300 95px,#fd0100 101px,#fe0000 107px,#fe0100 117px,#fe0000 125px,#fc0100 135px,#fe0000 140px,#f60000 151px,#e90000 155px,#e20000 156px,#c60000 158px,#b00 161px,#b70000 164px,#b70000 171px,#be0000 183px,#ca0000 197px,#e80000 223px,#fb0100 240px,#ff0e00 255px,#ff6400 322px,#ff9300 357px,#ffac00 376px,#ffd000 403px,#fef801 435px,#efff10 453px,#85ff7a 527px,#2afed5 587px,#04e6fb 627px,#00e3ff 632px,#0023ff 751px,#000aa1 824px,#000084 848px,#000084 850px)"></i><i style="left:768px;top:251px;height:853px;background-image:linear-gradient(#ff1400,#ff1300 40px,#ff0600 81px,#ff0100 91px,#fe0300 96px,#fd0100 102px,#fe0000 107px,#fd0100 118px,#f00 123px,#fc0000 137px,#fd0000 141px,#f50000 152px,#e80000 156px,#e20000 157px,#c60000 159px,#b00 162px,#b70000 165px,#b70000 173px,#bd0000 182px,#c70000 195px,#e80000 224px,#fb0100 241px,#ff0d00 256px,#ff6200 322px,#ff9500 360px,#ffaf00 379px,#fff900 436px,#f5fc0a 447px,#ef1 455px,#82ff7d 530px,#29fed6 589px,#00e2ff 634px,#02f 753px,#00079a 831px,#000084 849px,#000084 852px)"></i><i style="left:770px;top:250px;height:854px;background-image:linear-gradient(#ff1400,#ff1300 40px,#ff0600 81px,#ff0100 92px,#fe0300 96px,#fd0100 103px,#fe0000 107px,#fd0100 119px,#f00 123px,#fc0000 139px,#fc0000 144px,#f50000 153px,#ed0000 156px,#e80000 157px,#e10000 158px,#c50000 160px,#ba0000 163px,#b70000 165px,#b60000 174px,#bd0000 183px,#c60000 196px,#e80000 226px,#fa0100 242px,#ff0c00 257px,#ff6100 322px,#ff9800 363px,#ffce00 404px,#fffa00 438px,#f4fc0b 449px,#edff12 457px,#7fff80 533px,#27fed8 591px,#00e2ff 635px,#02f 754px,#00028a 845px,#000084 851px,#000084 853px)"></i><i style="left:772px;top:249px;height:855px;background-image:linear-gradient(#ff1400,#ff1300 40px,#ff0600 81px,#fe0000 93px,#fd0200 97px,#fc0000 104px,#fe0000 108px,#fd0000 120px,#fe0000 124px,#fb0000 140px,#fb0000 145px,#f40000 154px,#ec0000 157px,#e80000 158px,#e10000 159px,#c50000 161px,#ba0000 164px,#b70000 166px,#b50000 175px,#bd0000 184px,#c60000 197px,#e80000 227px,#fa0100 244px,#ff0c00 258px,#ff6000 323px,#ff9a00 366px,#ffcb00 403px,#fefa01 440px,#f3fd0c 452px,#ecff13 459px,#7eff81 535px,#25feda 594px,#00e1ff 637px,#0021ff 756px,#000084 851px,#000084 854px)"></i><i style="left:774px;top:249px;height:856px;background-image:linear-gradient(#ff1400,#ff1300 40px,#ff0700 78px,#fe0000 92px,#fd0200 98px,#fc0000 104px,#fd0000 108px,#fc0000 120px,#fd0000 125px,#fb0000 145px,#f40000 154px,#ec0000 157px,#e80000 158px,#e00000 159px,#c50000 161px,#b90000 164px,#b60000 167px,#b50000 176px,#bd0000 185px,#c60000 198px,#e90000 228px,#fa0100 244px,#ff0a00 257px,#ff5e00 322px,#ffc900 402px,#fefb01 441px,#f1fd0e 454px,#ebff14 460px,#7bff84 537px,#24fedb 595px,#00deff 639px,#0020ff 757px,#000084 852px,#000084 855px)"></i><i style="left:776px;top:248px;height:857px;background-image:linear-gradient(#ff1400,#ff1300 40px,#ff0e00 56px,#ff0500 81px,#fe0000 92px,#fc0100 99px,#fc0000 106px,#fc0000 132px,#fb0000 142px,#fa0000 147px,#f30000 155px,#ec0000 158px,#e70000 159px,#e00000 160px,#c50000 162px,#b90000 165px,#b60000 168px,#b50000 177px,#bc0000 186px,#c60000 199px,#e80000 229px,#fa0100 245px,#ff0a00 258px,#ff5e00 323px,#ffca00 404px,#fffb00 442px,#effe10 457px,#e4ff1b 466px,#78ff87 540px,#23fedc 596px,#0df 641px,#001fff 759px,#000084 853px,#000084 856px)"></i><i style="left:778px;top:247px;height:858px;background-image:linear-gradient(#ff1400,#ff1300 40px,#ff0f00 56px,#ff0500 82px,#fe0000 93px,#fc0100 101px,#fc0000 108px,#fc0000 115px,#fb0000 136px,#f90000 148px,#f30000 156px,#eb0000 159px,#e70000 160px,#df0000 161px,#c40000 163px,#b90000 166px,#b60000 169px,#b40000 178px,#bc0000 188px,#c90000 203px,#e80000 230px,#f90100 246px,#ff0a00 260px,#ff5200 315px,#ffb500 389px,#fffc00 444px,#e7ff18 465px,#7f8 542px,#22fedd 598px,#00dcff 643px,#001efe 761px,#000084 854px,#000084 857px)"></i><i style="left:780px;top:246px;height:860px;background-image:linear-gradient(#ff1400,#ff1300 40px,#ff0f00 57px,#ff0500 82px,#fe0000 93px,#fb0000 103px,#fb0000 116px,#fb0000 137px,#f80000 149px,#f20000 157px,#eb0000 160px,#e60000 161px,#df0000 162px,#c40000 164px,#b00 166px,#b60000 168px,#b30000 179px,#bc0000 190px,#c90000 204px,#e70000 231px,#f90100 247px,#ff0a00 261px,#f50 319px,#ffcf00 410px,#fefc01 446px,#e6ff19 467px,#74ff8b 545px,#21ffde 600px,#17f0e8 616px,#00daff 645px,#001dfe 763px,#000084 856px,#000084 859px)"></i><i style="left:782px;top:245px;height:861px;background-image:linear-gradient(#ff1400,#ff1300 40px,#ff0e00 59px,#ff0600 81px,#f00 92px,#fb0000 110px,#fa0000 117px,#fa0000 138px,#f80000 150px,#f20000 158px,#ea0000 161px,#e60000 162px,#df0000 163px,#c40000 165px,#ba0000 167px,#b60000 169px,#b40000 181px,#bd0000 192px,#c90000 206px,#e50000 231px,#f80100 248px,#ff0a00 262px,#ff5900 323px,#ffd000 412px,#fefd01 448px,#e4ff1b 470px,#74ff8b 546px,#20ffdf 602px,#15edea 620px,#00d9ff 647px,#001cfe 765px,#000084 857px,#000084 860px)"></i><i style="left:784px;top:244px;height:862px;background-image:linear-gradient(#ff1400,#ff1300 40px,#ff0f00 60px,#ff0900 75px,#ff0500 83px,#fe0000 93px,#f90000 117px,#fa0000 124px,#fa0000 135px,#f80000 150px,#f10000 159px,#ea0000 162px,#e50000 163px,#de0000 164px,#c40000 166px,#ba0000 168px,#b50000 171px,#b30000 182px,#c80000 206px,#e50000 232px,#f90100 250px,#ff0900 263px,#ff5800 324px,#ffd200 415px,#fefe01 450px,#e2ff1d 472px,#79ff86 544px,#1efee1 605px,#13eaec 625px,#00d8ff 649px,#001cff 766px,#000084 858px,#000084 861px)"></i><i style="left:786px;top:243px;height:864px;background-image:linear-gradient(#ff1400,#ff1300 40px,#ff1000 59px,#ff0b00 68px,#ff0600 83px,#f00 91px,#f90000 118px,#fa0000 124px,#f90000 146px,#f50000 154px,#f10000 160px,#e90000 163px,#e50000 164px,#de0000 165px,#c40000 167px,#b90000 169px,#b50000 172px,#b30000 183px,#c80000 208px,#e40000 233px,#f80100 251px,#ff0a00 265px,#ff5600 324px,#ffd400 418px,#fffe00 451px,#deff21 476px,#7cff83 543px,#1cfee3 607px,#10e5ef 631px,#00d5ff 652px,#001bfe 768px,#000084 860px,#000084 863px)"></i><i style="left:788px;top:242px;height:865px;background-image:linear-gradient(#ff1400,#ff1300 41px,#ff1000 59px,#ff0a00 72px,#ff0500 85px,#fe0000 93px,#f80000 119px,#fa0000 125px,#f80000 150px,#f00000 161px,#e90000 164px,#e40000 165px,#d00 166px,#c30000 168px,#b90000 170px,#b50000 173px,#b30000 185px,#c80000 209px,#e50000 235px,#f80100 252px,#ff0a00 266px,#ff5700 326px,#ffd600 421px,#feff01 453px,#c9ff36 492px,#6dff92 554px,#1bfee4 609px,#0de1f2 637px,#00d4ff 654px,#001afe 770px,#000494 849px,#000084 861px,#000084 864px)"></i><i style="left:790px;top:241px;height:866px;background-image:linear-gradient(#ff1400,#ff1300 41px,#ff1000 59px,#ff0e00 64px,#ff0b00 69px,#ff0400 86px,#f00 92px,#f80000 121px,#f90000 128px,#f80000 138px,#f70000 152px,#f00000 162px,#e80000 165px,#e40000 166px,#d00 167px,#c30000 169px,#b90000 171px,#b40000 174px,#b30000 186px,#c70000 210px,#e50000 236px,#f80100 254px,#ff0a00 267px,#ff5800 328px,#ffda00 425px,#feff01 455px,#acff53 514px,#1afee5 611px,#09dcf6 644px,#00d2ff 656px,#0019fe 772px,#0009ac 832px,#000084 862px,#000084 865px)"></i><i style="left:792px;top:241px;height:867px;background-image:linear-gradient(#ff1400,#ff1300 40px,#ff0e00 64px,#ff0b00 68px,#ff0400 86px,#f00 91px,#f70000 121px,#f90000 127px,#f70000 144px,#f70000 151px,#ef0000 162px,#e80000 165px,#e30000 166px,#dc0000 167px,#c30000 169px,#b80000 171px,#b40000 174px,#b20000 185px,#c70000 210px,#e40000 236px,#f80100 254px,#ff0900 267px,#ff5a00 330px,#ffdc00 427px,#fdff02 455px,#beff41 501px,#1cffe3 609px,#17fce8 614px,#06d8f9 649px,#00d1ff 657px,#0018ff 772px,#0008a9 835px,#000084 863px,#000084 866px)"></i><i style="left:794px;top:240px;height:868px;background-image:linear-gradient(#ff1400,#ff1300 40px,#ff1000 58px,#ff0f00 65px,#ff0b00 69px,#ff0400 87px,#f00 91px,#f70000 122px,#f80000 129px,#f70000 146px,#f60000 152px,#ef0000 163px,#e70000 166px,#e30000 167px,#dc0000 168px,#c30000 170px,#b80000 172px,#b40000 176px,#b10000 185px,#ba0000 197px,#c90000 213px,#e40000 237px,#f80100 255px,#ff0a00 269px,#ff5e00 334px,#ffde00 430px,#fdfb02 454px,#fbff04 458px,#af5 517px,#17ffe8 614px,#02d3fd 655px,#00cdff 661px,#0017ff 774px,#0007a4 840px,#000084 864px,#000084 867px)"></i><i style="left:796px;top:239px;height:869px;background-image:linear-gradient(#ff1400,#ff1300 40px,#ff1000 59px,#ff0e00 66px,#ff0a00 70px,#ff0400 88px,#f00 92px,#f60000 123px,#f80000 130px,#f60000 147px,#f60000 152px,#e00 164px,#e60000 167px,#e20000 168px,#db0000 169px,#c20000 171px,#b70000 173px,#b30000 178px,#b10000 186px,#b70000 196px,#c90000 215px,#e30000 238px,#f70100 256px,#ff0a00 270px,#ff6200 339px,#ffe100 433px,#fbfd04 457px,#f8ff07 461px,#a5ff5a 521px,#15feea 617px,#00cdff 662px,#0016fe 776px,#00059a 849px,#000084 865px,#000084 868px)"></i><i style="left:798px;top:238px;height:871px;background-image:linear-gradient(#ff1400,#ff1300 40px,#ff1000 59px,#ff0e00 67px,#ff0a00 71px,#ff0400 89px,#fe0000 93px,#f80000 113px,#f60000 125px,#f80000 132px,#f60000 148px,#f60000 153px,#ed0000 165px,#e20000 169px,#db0000 170px,#c20000 172px,#b70000 174px,#b00000 182px,#b30000 192px,#c80000 215px,#e40000 240px,#f70100 258px,#ff0a00 271px,#f60 343px,#ffe200 435px,#feed01 445px,#f8ff07 462px,#af5 519px,#14feeb 619px,#00cdff 663px,#0015fe 778px,#00038f 858px,#000084 868px,#000084 870px)"></i><i style="left:800px;top:237px;height:872px;background-image:linear-gradient(#ff1400,#ff1300 40px,#ff1000 59px,#ff0e00 68px,#ff0a00 72px,#ff0400 90px,#fe0000 94px,#f90000 110px,#f60000 127px,#f70000 133px,#f50000 149px,#f50000 154px,#ed0000 166px,#e10000 170px,#da0000 171px,#c10000 173px,#b60000 175px,#b00000 182px,#b10000 191px,#c40000 213px,#e40000 242px,#f70100 259px,#ff0900 272px,#ff6b00 348px,#ffdb00 431px,#feed01 446px,#fafa05 458px,#f7ff08 464px,#adff52 518px,#12feed 621px,#0cf 665px,#0015ff 779px,#000084 868px,#000084 871px)"></i><i style="left:802px;top:236px;height:873px;background-image:linear-gradient(#ff1400,#ff1300 40px,#ff1000 59px,#ff0e00 69px,#ff0a00 73px,#ff0300 92px,#fe0000 95px,#f80000 111px,#f50000 128px,#f70000 134px,#f40000 150px,#f50000 155px,#ec0000 167px,#e10000 171px,#da0000 172px,#c10000 174px,#b60000 176px,#b00000 182px,#b00000 187px,#b50000 198px,#c90000 219px,#e50000 244px,#f60100 260px,#ff0900 273px,#ff6e00 352px,#ffb000 400px,#fe0 447px,#faf405 455px,#f7ff08 465px,#b4ff4b 514px,#11feee 623px,#00c8ff 669px,#0014ff 781px,#000084 869px,#000084 872px)"></i><i style="left:804px;top:235px;height:875px;background-image:linear-gradient(#ff1400,#ff1300 40px,#ff1000 59px,#ff0e00 70px,#ff0900 74px,#ff0300 93px,#fe0000 96px,#f70000 112px,#f50000 130px,#f70000 135px,#f40000 151px,#f40000 156px,#ec0000 168px,#e00000 172px,#d90000 173px,#c10000 175px,#ba0000 176px,#b30000 178px,#af0000 187px,#b50000 199px,#c90000 220px,#e30000 244px,#f60100 261px,#ff0a00 275px,#ff7000 355px,#ffaf00 401px,#ffef00 449px,#f8f507 458px,#f6ff09 467px,#b6ff49 514px,#38ffc7 598px,#10ffef 625px,#00c5ff 672px,#0013ff 783px,#000084 871px,#000084 874px)"></i><i style="left:806px;top:234px;height:876px;background-image:linear-gradient(#ff1400,#ff1300 41px,#ff1000 60px,#ff0e00 71px,#ff0900 75px,#fe0300 94px,#fd0000 97px,#f70000 113px,#f70000 119px,#f40000 129px,#f60000 136px,#f40000 153px,#f30000 158px,#eb0000 169px,#e00000 173px,#d90000 174px,#c00000 176px,#b90000 177px,#b30000 179px,#ae0000 188px,#b50000 201px,#c80000 221px,#e30000 245px,#f60100 263px,#ff0a00 276px,#ff7100 357px,#ffaf00 402px,#ffcf00 426px,#fff000 451px,#f7f808 462px,#f4ff0b 469px,#b8ff47 514px,#51ffae 583px,#0ffef0 627px,#00c4ff 674px,#0012fe 785px,#000084 872px,#000084 875px)"></i><i style="left:808px;top:234px;height:876px;background-image:linear-gradient(#ff1400,#ff1300 40px,#ff1000 59px,#ff0e00 71px,#ff0900 76px,#fe0200 95px,#fb0000 103px,#f60000 113px,#f70000 118px,#f40000 124px,#f50000 133px,#f30000 157px,#eb0000 169px,#df0000 173px,#d80000 174px,#c00000 176px,#b90000 177px,#b20000 179px,#ad0000 188px,#b50000 201px,#c80000 221px,#e20000 245px,#f60100 263px,#ff0900 276px,#f50 336px,#ffb200 404px,#fc0 424px,#fff000 451px,#f5f90a 464px,#f3ff0c 470px,#b8ff47 514px,#59ffa6 578px,#0dfdf2 629px,#09e5f6 647px,#00c2ff 675px,#0011fe 786px,#000084 872px,#000084 875px)"></i><i style="left:810px;top:233px;height:878px;background-image:linear-gradient(#ff1400,#ff1300 40px,#ff0e00 72px,#ff0800 77px,#fd0200 96px,#fc0000 102px,#f60000 114px,#f70000 118px,#f40000 125px,#f40000 138px,#f20000 158px,#ea0000 170px,#df0000 174px,#d80000 175px,#c00000 177px,#b90000 178px,#b20000 180px,#ad0000 189px,#b50000 203px,#c80000 223px,#e10000 246px,#f50100 264px,#ff0a00 278px,#f50 337px,#ff7f00 368px,#ffb100 405px,#ffca00 424px,#ffeb00 448px,#fdf202 455px,#f4fa0b 467px,#f2ff0d 472px,#bdff42 511px,#71ff8e 563px,#0cfdf3 631px,#09e3f6 650px,#00c1ff 677px,#0010ff 787px,#000084 874px,#000084 877px)"></i><i style="left:812px;top:232px;height:879px;background-image:linear-gradient(#ff1400,#ff1300 40px,#ff0e00 73px,#ff0800 78px,#fd0200 96px,#fc0000 101px,#f50000 115px,#f60000 119px,#f30000 126px,#f40000 139px,#f20000 159px,#ea0000 171px,#de0000 175px,#d70000 176px,#bf0000 178px,#b80000 179px,#b10000 181px,#ac0000 190px,#b50000 204px,#c80000 224px,#e10000 247px,#f50100 265px,#ff0a00 279px,#f50 338px,#ff7d00 368px,#ffb100 406px,#ffcb00 426px,#ffea00 449px,#fef301 456px,#f2fd0d 471px,#efff10 475px,#c3ff3c 508px,#78ff87 560px,#0bfdf4 633px,#07ddf8 656px,#00beff 680px,#0010ff 789px,#000084 875px,#000084 878px)"></i><i style="left:814px;top:231px;height:880px;background-image:linear-gradient(#ff1400,#ff1300 40px,#ff0d00 74px,#ff0800 79px,#fd0200 97px,#fb0000 103px,#f40000 116px,#f50000 120px,#f30000 127px,#f30000 140px,#f10000 160px,#e90000 172px,#de0000 176px,#d70000 177px,#bf0000 179px,#b80000 180px,#b10000 182px,#ac0000 191px,#b50000 206px,#c80000 226px,#e00000 248px,#f40100 266px,#ff0900 280px,#ff4000 322px,#ff7000 360px,#ffaf00 405px,#ffcd00 428px,#ffec00 451px,#fef401 458px,#ef1 477px,#caff35 504px,#7bff84 559px,#0afdf5 635px,#06d7f9 662px,#00bdff 682px,#000ffe 791px,#000084 876px,#000084 879px)"></i><i style="left:816px;top:230px;height:882px;background-image:linear-gradient(#ff1400,#ff1300 40px,#ff0d00 75px,#ff0700 81px,#fd0200 97px,#fa0000 105px,#f40000 117px,#f50000 121px,#f20000 128px,#f30000 133px,#f20000 150px,#f00000 162px,#e80000 173px,#d00 177px,#d60000 178px,#be0000 180px,#b70000 181px,#b00000 183px,#ab0000 192px,#b50000 207px,#c70000 226px,#e00000 249px,#f50100 268px,#ff0900 281px,#ff3f00 323px,#ff7200 363px,#ffac00 404px,#fc0 429px,#ffea00 451px,#fef501 460px,#edff12 479px,#ceff31 502px,#7dff82 559px,#09fdf6 637px,#05d0fa 668px,#00bcff 684px,#000efe 793px,#000086 876px,#000084 879px,#000084 881px)"></i><i style="left:818px;top:229px;height:883px;background-image:linear-gradient(#ff1400,#ff1300 40px,#ff0d00 75px,#ff0700 83px,#fd0200 98px,#f90000 107px,#f30000 118px,#f40000 122px,#f10000 129px,#f20000 134px,#f20000 151px,#f00000 163px,#e80000 174px,#d00 178px,#d60000 179px,#be0000 181px,#b70000 182px,#b00000 184px,#ab0000 193px,#b40000 208px,#c70000 228px,#e00000 251px,#f50100 269px,#ff0a00 283px,#ff4000 325px,#ff7400 366px,#ffa800 402px,#ffcf00 432px,#ffed00 454px,#fef601 462px,#edff12 480px,#cdff32 504px,#79ff86 563px,#08fdf7 639px,#03cafc 674px,#00b9ff 687px,#000eff 794px,#000294 868px,#000084 879px,#000084 882px)"></i><i style="left:820px;top:228px;height:884px;background-image:linear-gradient(#ff1400,#ff1300 40px,#ff1000 59px,#ff0d00 77px,#ff0700 83px,#fd0200 98px,#f80000 109px,#f30000 119px,#f40000 123px,#f10000 130px,#f20000 135px,#f10000 156px,#e00 166px,#e70000 175px,#dc0000 179px,#d50000 180px,#be0000 182px,#b70000 183px,#af0000 185px,#ab0000 194px,#b40000 209px,#c70000 229px,#e00000 252px,#f40100 270px,#ff0900 284px,#ff4200 328px,#ff7500 368px,#ffa400 400px,#ffd200 435px,#fff100 459px,#fdf702 465px,#eaff15 483px,#cf3 506px,#6fff90 571px,#07fdf8 641px,#01c3fe 681px,#00a7ff 700px,#000dff 796px,#00039e 862px,#000084 880px,#000084 883px)"></i><i style="left:822px;top:227px;height:886px;background-image:linear-gradient(#ff1400,#ff1300 41px,#ff0d00 75px,#ff0b00 80px,#ff0700 84px,#fd0200 99px,#f60000 113px,#f30000 121px,#f30000 125px,#f00000 131px,#f10000 136px,#f10000 158px,#ec0000 169px,#e70000 176px,#dc0000 180px,#d50000 181px,#bd0000 183px,#b20000 185px,#af0000 186px,#a00 195px,#b40000 210px,#c60000 230px,#df0000 253px,#f50100 272px,#ff0900 285px,#ff7800 371px,#ffa200 400px,#ffd400 438px,#fff600 464px,#e9ff16 485px,#cbff34 508px,#6f9 578px,#06fcf9 643px,#00adff 697px,#000dff 798px,#00039c 865px,#000084 882px,#000084 885px)"></i><i style="left:824px;top:227px;height:886px;background-image:linear-gradient(#ff1400,#ff1300 40px,#ff0d00 74px,#ff0b00 80px,#ff0600 84px,#fd0200 98px,#f50000 114px,#f10000 128px,#f00000 160px,#e60000 176px,#db0000 180px,#d40000 181px,#bd0000 183px,#b20000 185px,#ae0000 186px,#a00 195px,#b30000 210px,#c60000 230px,#df0000 253px,#f50100 272px,#ff0a00 286px,#ff7900 372px,#ffa200 400px,#ffd700 440px,#fff700 465px,#e7ff18 487px,#caff35 509px,#5fffa0 583px,#1cfde3 629px,#04fcfb 645px,#00a3ff 704px,#000cfe 799px,#000292 872px,#000084 882px,#000084 885px)"></i><i style="left:826px;top:226px;height:887px;background-image:linear-gradient(#ff1400,#ff1300 40px,#ff0d00 74px,#ff0900 82px,#ff0600 86px,#fd0200 98px,#f50000 114px,#ef0000 133px,#f00000 161px,#e60000 177px,#db0000 181px,#d40000 182px,#bd0000 184px,#b10000 186px,#ae0000 187px,#a00 196px,#b30000 211px,#c50000 231px,#d00 253px,#f40100 273px,#ff0a00 287px,#ff7800 373px,#ffa000 400px,#ffda00 443px,#fef801 467px,#e6ff19 489px,#c9ff36 511px,#5cffa3 586px,#1afde5 631px,#03fbfc 648px,#00a2ff 706px,#000bfe 801px,#000189 880px,#000084 884px,#000084 886px)"></i><i style="left:828px;top:225px;height:889px;background-image:linear-gradient(#ff1400,#ff1300 40px,#ff0d00 74px,#ff0900 83px,#ff0600 87px,#fd0200 97px,#f60000 112px,#f10000 124px,#e00 140px,#ef0000 146px,#e00 164px,#e50000 178px,#da0000 182px,#d30000 183px,#bc0000 185px,#b10000 187px,#ad0000 188px,#a00 198px,#b30000 213px,#c50000 232px,#db0000 253px,#f50100 275px,#ff0900 288px,#ff7800 374px,#ffa000 401px,#ffde00 447px,#fdf802 469px,#e3ff1c 492px,#c8ff37 513px,#5affa5 589px,#18fde7 634px,#02fbfd 650px,#008cff 721px,#000bff 802px,#000084 885px,#000084 888px)"></i><i style="left:830px;top:224px;height:890px;background-image:linear-gradient(#ff1400,#ff1300 40px,#ff0d00 75px,#ff0400 91px,#fb0000 104px,#f10000 122px,#ef0000 136px,#e00 164px,#e50000 179px,#da0000 183px,#d30000 184px,#bc0000 186px,#b00000 188px,#ad0000 189px,#a90000 199px,#b30000 214px,#c50000 234px,#dc0000 255px,#f50100 276px,#ff0a00 290px,#ff7600 374px,#ffa000 403px,#ffe000 450px,#fdf902 471px,#e2ff1d 494px,#c7ff38 515px,#57ffa8 592px,#16fde9 637px,#01fbfe 652px,#000aff 804px,#000084 886px,#000084 889px)"></i><i style="left:832px;top:223px;height:891px;background-image:linear-gradient(#ff1400,#ff1300 40px,#ff0d00 75px,#ff0300 94px,#f70000 110px,#f10000 124px,#ed0000 143px,#e00 148px,#e00 165px,#e40000 180px,#d90000 184px,#d20000 185px,#bc0000 187px,#b00000 189px,#ac0000 190px,#a00 201px,#b20000 215px,#c50000 235px,#dc0000 256px,#f50100 277px,#ff0a00 291px,#ff7000 371px,#ffa300 406px,#fee801 458px,#fcfa03 473px,#e0ff1f 497px,#c6ff39 517px,#5fa 595px,#13fdec 640px,#00faff 654px,#000aff 806px,#000084 887px,#000084 890px)"></i><i style="left:834px;top:222px;height:893px;background-image:linear-gradient(#ff1400,#ff1300 40px,#ff0d00 75px,#ff0700 87px,#ff0400 94px,#fb0000 106px,#f20000 121px,#ed0000 144px,#e00 149px,#ed0000 166px,#e30000 181px,#d90000 185px,#d20000 186px,#bc0000 188px,#b00000 190px,#ac0000 191px,#a90000 202px,#b20000 216px,#c40000 236px,#de0000 259px,#f50100 279px,#ff0900 292px,#ff6c00 369px,#ffa500 409px,#fee801 459px,#fcfa03 475px,#e8fe17 491px,#c6ff39 518px,#9aff65 549px,#20fedf 632px,#00f7ff 657px,#0009fe 808px,#000084 889px,#000084 892px)"></i><i style="left:836px;top:221px;height:894px;background-image:linear-gradient(#ff1400,#ff1300 40px,#ff1000 59px,#ff0d00 77px,#ff0300 96px,#f80000 110px,#f10000 124px,#ed0000 139px,#ed0000 167px,#e30000 182px,#d80000 186px,#d10000 187px,#b00 189px,#af0000 191px,#ac0000 192px,#a90000 203px,#b20000 218px,#c40000 237px,#df0000 261px,#f50100 280px,#ff0a00 294px,#ff6800 367px,#ff8d00 393px,#fee701 459px,#fbfb04 477px,#e6fe19 494px,#c5ff3a 520px,#9aff65 550px,#3fffc0 612px,#19fce6 639px,#00f6ff 659px,#0009fe 810px,#000084 890px,#000084 893px)"></i><i style="left:838px;top:221px;height:894px;background-image:linear-gradient(#ff1400,#ff1300 39px,#ff1000 58px,#ff0d00 76px,#ff0300 96px,#f90000 108px,#f20000 120px,#ed0000 139px,#ec0000 167px,#e30000 181px,#e00000 183px,#d80000 186px,#d10000 187px,#b00 189px,#af0000 191px,#ab0000 193px,#a80000 203px,#b20000 218px,#c30000 237px,#df0000 261px,#f50100 280px,#ff0a00 294px,#ff6500 365px,#ff8b00 392px,#ffb000 419px,#fee901 461px,#fafb05 478px,#dbff24 503px,#c2ff3d 522px,#9f6 551px,#3effc1 613px,#26fdd9 630px,#00f5ff 660px,#0008ff 810px,#000085 890px,#000085 893px)"></i><i style="left:840px;top:220px;height:896px;background-image:linear-gradient(#ff1400,#ff1300 40px,#ff0d00 74px,#ff0200 99px,#f30000 116px,#ed0000 135px,#eb0000 147px,#ec0000 168px,#e40000 180px,#e00000 184px,#d70000 187px,#d00000 188px,#b00 190px,#ae0000 192px,#a00 194px,#a80000 204px,#b10000 219px,#c20000 237px,#e00000 263px,#f40100 281px,#ff0900 295px,#ff6000 363px,#ff8a00 393px,#ffab00 416px,#feea01 463px,#fafc05 480px,#d4ff2b 510px,#bdff42 527px,#93ff6c 556px,#35ffca 620px,#2cfdd3 627px,#00f2ff 663px,#0008ff 812px,#000084 892px,#000084 895px)"></i><i style="left:842px;top:219px;height:897px;background-image:linear-gradient(#ff1400,#ff1300 40px,#ff0d00 74px,#ff0100 101px,#fb0000 106px,#f20000 121px,#ed0000 136px,#eb0000 148px,#eb0000 169px,#e60000 180px,#df0000 185px,#d70000 188px,#d00000 189px,#ba0000 191px,#b30000 192px,#ab0000 194px,#a70000 204px,#b10000 220px,#c10000 238px,#e00000 265px,#f50100 283px,#ff0a00 297px,#ff5d00 362px,#ff8a00 394px,#fa0 417px,#feeb01 465px,#f9fc06 482px,#cdff32 517px,#57ffa8 599px,#2bfed4 628px,#1ff8e0 640px,#00f1ff 665px,#0007fe 814px,#000084 893px,#000084 896px)"></i><i style="left:844px;top:218px;height:898px;background-image:linear-gradient(#ff1400,#ff1300 40px,#ff0d00 75px,#ff0100 102px,#fa0000 107px,#f70000 112px,#f10000 122px,#ec0000 137px,#ea0000 149px,#ea0000 170px,#e50000 181px,#df0000 186px,#d60000 189px,#cf0000 190px,#ba0000 192px,#b30000 193px,#ab0000 195px,#a80000 202px,#a80000 208px,#b00000 221px,#c10000 239px,#e00000 266px,#f50100 284px,#ff0900 298px,#ff5c00 362px,#ff8a00 395px,#ffab00 419px,#feec01 467px,#f8fd07 484px,#bcff43 530px,#94ff6b 558px,#41ffbe 615px,#29fed6 631px,#1df6e2 644px,#00efff 667px,#0006fd 816px,#000085 894px,#000085 897px)"></i><i style="left:846px;top:217px;height:900px;background-image:linear-gradient(#ff1400,#ff1300 40px,#ff0d00 75px,#ff0700 88px,#fe0000 104px,#fa0000 108px,#f70000 113px,#f20000 121px,#eb0000 138px,#ea0000 150px,#ea0000 171px,#e50000 182px,#de0000 187px,#d60000 190px,#cf0000 191px,#b90000 193px,#b20000 194px,#a90000 197px,#a80000 208px,#b10000 223px,#c20000 241px,#e00000 267px,#f50100 286px,#ff0a00 300px,#ff6000 366px,#ff8b00 397px,#ffad00 421px,#feed01 469px,#f8fe07 486px,#c9ff36 522px,#56ffa9 602px,#28fed7 633px,#19f3e6 649px,#0ef 669px,#0006fe 817px,#000084 896px,#000084 899px)"></i><i style="left:848px;top:216px;height:901px;background-image:linear-gradient(#ff1400,#ff1300 40px,#ff0d00 75px,#ff0800 86px,#f00 104px,#fa0000 108px,#f60000 114px,#f20000 119px,#eb0000 139px,#eb0000 145px,#e90000 151px,#e90000 172px,#e50000 183px,#de0000 188px,#d50000 191px,#ce0000 192px,#b90000 194px,#b20000 195px,#a90000 198px,#a70000 209px,#b00000 224px,#c30000 243px,#e10000 269px,#f50100 287px,#ff0900 301px,#ff6200 369px,#ff8c00 399px,#ffb200 426px,#feee01 471px,#f7fe08 488px,#c9ff36 523px,#5affa5 601px,#26fed9 635px,#15f1ea 655px,#00ebff 672px,#0005fe 819px,#000089 894px,#000084 898px,#000084 900px)"></i><i style="left:850px;top:215px;height:902px;background-image:linear-gradient(#ff1400,#ff1300 40px,#ff0d00 75px,#ff0a00 84px,#ff0200 99px,#fe0000 106px,#fa0000 109px,#f60000 115px,#f20000 119px,#ea0000 138px,#ea0000 146px,#e90000 152px,#e90000 173px,#e50000 184px,#de0000 189px,#d50000 192px,#ce0000 193px,#b90000 195px,#b20000 196px,#a90000 199px,#a70000 210px,#b00000 225px,#c20000 244px,#e00000 270px,#f40100 288px,#ff0900 302px,#ff2f00 331px,#ff6000 369px,#ff8b00 400px,#ffb400 429px,#feef01 473px,#f6ff09 490px,#b4ff4b 539px,#8f7 570px,#2fffd0 630px,#24fedb 638px,#10eeef 661px,#00eaff 674px,#0005fd 821px,#00018c 893px,#000085 898px,#000085 901px)"></i><i style="left:852px;top:215px;height:903px;background-image:linear-gradient(#ff1400,#ff1300 39px,#ff1000 58px,#ff0d00 77px,#ff0a00 84px,#ff0300 97px,#fe0000 106px,#fa0000 109px,#f60000 115px,#f30000 118px,#ea0000 137px,#ea0000 145px,#e80000 152px,#e80000 173px,#e40000 184px,#db0000 190px,#d40000 192px,#cd0000 193px,#b90000 195px,#b20000 196px,#a90000 199px,#a60000 210px,#af0000 225px,#c30000 245px,#e00000 270px,#f50100 289px,#ff0a00 303px,#ff3000 332px,#f60 373px,#ff8d00 401px,#ffbd00 436px,#fef001 474px,#f6ff09 491px,#b3ff4c 540px,#87ff78 571px,#2effd1 631px,#22fddd 640px,#0debf2 665px,#00e8ff 675px,#0019fd 808px,#0004fc 822px,#000087 897px,#000084 900px,#000084 902px)"></i><i style="left:854px;top:214px;height:904px;background-image:linear-gradient(#ff1400,#ff1300 39px,#ff1000 58px,#ff0d00 77px,#ff0a00 85px,#ff0300 95px,#fe0000 107px,#f90000 111px,#f60000 116px,#f20000 119px,#ea0000 137px,#e90000 141px,#ea0000 145px,#e70000 153px,#e80000 174px,#e40000 185px,#da0000 191px,#d40000 193px,#cd0000 194px,#b80000 196px,#b10000 197px,#a80000 200px,#a60000 211px,#ae0000 225px,#c40000 247px,#f50100 290px,#ff0900 304px,#ff2d00 331px,#ff8200 395px,#ffb200 429px,#fef101 476px,#f5ff0a 493px,#b0ff4f 543px,#57ffa8 605px,#21fede 641px,#08e9f7 671px,#00e6ff 678px,#003cfe 787px,#0003fc 824px,#000084 900px,#000084 903px)"></i><i style="left:856px;top:213px;height:905px;background-image:linear-gradient(#ff1400,#ff1300 39px,#ff1000 57px,#ff0d00 75px,#ff0800 87px,#ff0200 98px,#fe0000 107px,#f80000 113px,#f60000 117px,#f20000 120px,#ea0000 138px,#e80000 142px,#e90000 146px,#e70000 154px,#e70000 175px,#e50000 181px,#e40000 186px,#da0000 192px,#d30000 194px,#cd0000 195px,#b80000 197px,#b10000 198px,#a80000 201px,#a60000 213px,#ae0000 226px,#c40000 248px,#f40100 291px,#ff0a00 306px,#ff2e00 333px,#ff8700 400px,#ffba00 436px,#fef101 477px,#f2ff0d 496px,#adff52 546px,#56ffa9 607px,#1ffee0 644px,#03e6fc 677px,#00e3ff 681px,#003bfe 789px,#0003fb 826px,#000085 901px,#000085 904px)"></i><i style="left:858px;top:212px;height:907px;background-image:linear-gradient(#ff1400,#ff1300 40px,#ff1000 57px,#ff0d00 75px,#ff0800 88px,#ff0300 96px,#fe0000 107px,#f80000 114px,#f60000 118px,#f20000 121px,#e90000 139px,#e80000 143px,#e90000 147px,#e60000 155px,#e60000 176px,#e40000 182px,#e30000 187px,#da0000 193px,#d30000 195px,#c00 196px,#b80000 198px,#b10000 199px,#a80000 202px,#a60000 214px,#af0000 228px,#c30000 249px,#e20000 276px,#f50100 293px,#ff0900 307px,#ff2d00 334px,#ff8e00 406px,#ffc000 442px,#fef001 478px,#f1ff0e 498px,#acff53 548px,#54ffab 610px,#1dfee2 646px,#00e1ff 683px,#003afe 791px,#0002fc 827px,#000084 903px,#000084 906px)"></i><i style="left:860px;top:211px;height:908px;background-image:linear-gradient(#ff1400,#ff1300 40px,#ff1000 56px,#ff0e00 73px,#ff0800 89px,#ff0400 94px,#fe0000 107px,#f70000 116px,#f10000 123px,#e70000 144px,#e80000 148px,#e60000 156px,#e60000 169px,#e60000 177px,#e40000 183px,#e30000 188px,#dc0000 192px,#da0000 194px,#d20000 196px,#c00 197px,#b80000 199px,#b10000 200px,#a80000 203px,#a50000 214px,#ae0000 229px,#c40000 251px,#e10000 277px,#f50100 295px,#ff0a00 309px,#ff3100 338px,#ff9200 410px,#ffc500 447px,#fff000 479px,#f0ff0f 500px,#af5 551px,#51ffae 613px,#1cfee3 648px,#00e2ff 684px,#0039fe 793px,#0002fc 829px,#000084 904px,#000084 907px)"></i><i style="left:862px;top:210px;height:909px;background-image:linear-gradient(#ff1400,#ff1300 40px,#ff1000 55px,#ff0e00 73px,#ff0800 90px,#ff0300 95px,#fe0000 108px,#f30000 121px,#f00000 127px,#e70000 145px,#e80000 149px,#e50000 157px,#e50000 170px,#e50000 178px,#e30000 184px,#e30000 189px,#db0000 193px,#d90000 195px,#d20000 197px,#cb0000 198px,#b80000 200px,#b00000 201px,#a70000 205px,#a50000 216px,#af0000 231px,#c40000 252px,#e00000 277px,#f50100 296px,#ff0a00 310px,#ff3200 340px,#ff9500 414px,#ffca00 452px,#fff200 481px,#f7f608 490px,#efff10 502px,#a8ff57 553px,#50ffaf 615px,#1afee5 651px,#01e1fe 685px,#003cfe 792px,#0001fb 831px,#000085 905px,#000085 908px)"></i><i style="left:864px;top:209px;height:911px;background-image:linear-gradient(#ff1400,#ff1300 40px,#ff0f00 56px,#ff0e00 71px,#ff0800 91px,#ff0400 95px,#fe0000 108px,#f30000 122px,#ef0000 129px,#e60000 146px,#e70000 150px,#e40000 158px,#e50000 171px,#e50000 179px,#e30000 185px,#e30000 189px,#da0000 195px,#d60000 197px,#cb0000 199px,#b80000 201px,#b00000 202px,#a60000 206px,#a50000 217px,#af0000 232px,#c30000 253px,#df0000 278px,#f50100 297px,#ff0900 311px,#f30 342px,#f90 418px,#ffce00 456px,#fff300 483px,#f5f70a 493px,#ef1 504px,#a7ff58 555px,#4dffb2 618px,#18fee7 653px,#00dcff 690px,#0037fe 797px,#0001fa 833px,#000084 907px,#000084 910px)"></i><i style="left:866px;top:209px;height:911px;background-image:linear-gradient(#ff1400,#ff1300 39px,#ff0f00 56px,#ff0f00 69px,#ff0800 91px,#ff0300 95px,#fe0000 107px,#f30000 122px,#e50000 146px,#e60000 150px,#e40000 158px,#e40000 171px,#e40000 179px,#e20000 185px,#e20000 189px,#d90000 195px,#d50000 197px,#ca0000 199px,#b80000 201px,#b00000 202px,#a60000 206px,#a50000 209px,#a50000 218px,#af0000 233px,#c40000 254px,#e00000 279px,#f50100 298px,#ff0a00 312px,#ff3400 343px,#ff9d00 421px,#ffd300 460px,#fef401 485px,#f4f80b 495px,#ecff13 506px,#a4ff5b 557px,#4dffb2 618px,#17fee8 654px,#00daff 692px,#0034fe 799px,#0000fa 834px,#000084 907px,#000084 910px)"></i><i style="left:868px;top:208px;height:912px;background-image:linear-gradient(#ff1400,#ff1300 39px,#ff0f00 57px,#ff1000 66px,#ff0800 92px,#ff0300 96px,#fe0000 107px,#ef0000 128px,#e50000 147px,#e60000 151px,#e30000 159px,#e40000 172px,#e40000 180px,#e10000 186px,#e20000 190px,#d90000 196px,#d50000 198px,#ca0000 200px,#b00000 203px,#a50000 208px,#a40000 219px,#b00000 235px,#c60000 257px,#e00000 280px,#f50100 299px,#ff0a00 313px,#f30 344px,#ffa100 425px,#ffdb00 467px,#fef501 487px,#f1f90e 499px,#ebff14 508px,#a0ff5f 561px,#4dffb2 619px,#16fee9 656px,#10f1ef 668px,#00d8ff 694px,#0033fe 801px,#0000fa 835px,#000085 908px,#000085 911px)"></i><i style="left:870px;top:208px;height:913px;background-image:linear-gradient(#ff1400,#ff1300 38px,#ff0e00 57px,#ff1000 64px,#ff0800 92px,#ff0300 96px,#fd0000 107px,#eb0000 134px,#e40000 147px,#e50000 151px,#e30000 159px,#e30000 172px,#e30000 180px,#e10000 186px,#e10000 190px,#d40000 198px,#c90000 200px,#b00000 203px,#a60000 207px,#a30000 210px,#a50000 221px,#b30000 238px,#c60000 257px,#df0000 280px,#f40100 299px,#ff0b00 314px,#ff3600 346px,#ffa500 428px,#ffe300 473px,#fef601 488px,#f0fa0f 501px,#e9ff16 509px,#9cff63 564px,#4fffb0 618px,#14ffeb 657px,#10f0ef 669px,#00d7ff 695px,#0034fe 801px,#0000f9 836px,#000084 909px,#000084 912px)"></i><i style="left:872px;top:209px;height:912px;background-image:linear-gradient(#ff1400,#ff1200 37px,#ff0e00 57px,#ff1000 63px,#ff0700 91px,#ff0300 95px,#fe0000 105px,#e60000 140px,#e40000 146px,#e50000 150px,#e20000 158px,#e20000 171px,#e20000 179px,#e00000 185px,#e10000 189px,#d40000 197px,#c90000 199px,#af0000 202px,#ac0000 203px,#a30000 208px,#a50000 220px,#b50000 240px,#d30000 270px,#f40100 298px,#ff0b00 314px,#ff3500 345px,#fa0 431px,#ffe400 473px,#fef801 488px,#edfc12 503px,#e8ff17 509px,#98ff67 566px,#4fffb0 617px,#12feed 658px,#0eecf1 672px,#00d4ff 696px,#003efe 794px,#0000f8 836px,#000084 908px,#000084 911px)"></i><i style="left:874px;top:209px;height:912px;background-image:linear-gradient(#ff1400,#ff1300 36px,#ff0e00 57px,#ff1000 62px,#ff0600 92px,#ff0200 96px,#fe0000 104px,#e30000 145px,#e40000 150px,#e20000 158px,#e20000 171px,#e20000 179px,#e00000 185px,#e00000 189px,#d30000 197px,#c90000 199px,#af0000 202px,#ab0000 203px,#a20000 208px,#a40000 220px,#bc0000 248px,#df0000 280px,#f40100 298px,#ff0b00 314px,#ff3600 346px,#ffae00 434px,#ffda00 466px,#fef901 489px,#e3ff1c 513px,#4bffb4 620px,#10ffef 659px,#0ce6f3 677px,#00d3ff 697px,#0049fe 787px,#0000f7 837px,#000085 908px,#000085 911px)"></i><i style="left:876px;top:209px;height:913px;background-image:linear-gradient(#ff1400,#ff1300 35px,#ff0e00 57px,#ff1000 61px,#ff0600 92px,#ff0200 96px,#fd0000 104px,#e20000 145px,#e40000 150px,#e10000 158px,#e10000 171px,#e10000 179px,#df0000 185px,#df0000 189px,#d30000 197px,#c80000 199px,#af0000 202px,#ab0000 203px,#a10000 209px,#a30000 216px,#a70000 225px,#c20000 254px,#e00000 281px,#f50100 299px,#ff0c00 315px,#ff3700 347px,#ffb000 436px,#ffd900 465px,#fefa01 490px,#e1ff1e 515px,#4bffb4 620px,#0efef1 661px,#0ae2f5 681px,#00d2ff 698px,#0049fe 787px,#0000f5 838px,#000084 909px,#000084 912px)"></i><i style="left:878px;top:210px;height:912px;background-image:linear-gradient(#ff1400,#ff1300 33px,#ff0d00 56px,#ff0f00 60px,#ff0600 90px,#ff0100 96px,#fc0000 104px,#e20000 144px,#e30000 149px,#e00000 157px,#e10000 170px,#e10000 178px,#df0000 185px,#de0000 189px,#d70000 193px,#d20000 196px,#c80000 198px,#af0000 201px,#a00 202px,#a10000 208px,#a30000 214px,#a50000 222px,#c30000 254px,#de0000 279px,#f60000 298px,#ff0d00 315px,#ff3c00 350px,#ffb000 435px,#ffd600 462px,#fefb01 490px,#deff21 516px,#4dffb2 618px,#0dfef2 661px,#08ddf7 685px,#00cfff 699px,#0058ff 776px,#0043fd 791px,#0000f6 837px,#000084 908px,#000084 911px)"></i><i style="left:880px;top:210px;height:912px;background-image:linear-gradient(#ff1400,#ff1300 32px,#ff0d00 56px,#ff0f00 61px,#ff0500 90px,#ff0100 97px,#e10000 144px,#e20000 149px,#e00000 157px,#e00000 170px,#e00000 178px,#df0000 185px,#de0000 189px,#d60000 193px,#d20000 196px,#c70000 198px,#ae0000 201px,#a00 202px,#a00000 208px,#a20000 214px,#a40000 221px,#c20000 254px,#de0000 279px,#f60100 299px,#ff0c00 315px,#ff3500 345px,#ff8f00 411px,#ffb200 437px,#ffda00 465px,#fefc01 491px,#e1ff1e 514px,#4dffb2 618px,#0bfff4 662px,#05d8fa 690px,#00ceff 700px,#005fff 772px,#0044fd 790px,#0022f8 815px,#0000f5 838px,#000085 908px,#000085 911px)"></i><i style="left:882px;top:210px;height:913px;background-image:linear-gradient(#ff1400,#ff1300 31px,#ff0d00 57px,#ff0e00 62px,#ff0600 89px,#f00 97px,#e10000 144px,#e20000 149px,#df0000 157px,#e00000 170px,#e00000 178px,#d00 189px,#d60000 193px,#d10000 196px,#c70000 198px,#ae0000 201px,#a80000 203px,#a00000 208px,#a20000 214px,#a40000 221px,#c20000 254px,#de0000 279px,#f70000 299px,#ff0d00 316px,#ff3500 346px,#ff8c00 409px,#ffb400 438px,#ffda00 465px,#fefd01 492px,#e0ff1f 515px,#4cffb3 619px,#09fef6 664px,#03d3fc 695px,#00caff 703px,#05f 778px,#0040fd 793px,#001df7 819px,#0000f3 839px,#000084 909px,#000084 912px)"></i><i style="left:884px;top:211px;height:912px;background-image:linear-gradient(#ff1400,#ff1200 30px,#ff0d00 56px,#ff0e00 61px,#ff0600 87px,#f00 96px,#e00000 143px,#e10000 148px,#df0000 156px,#df0000 169px,#df0000 177px,#dc0000 188px,#d50000 192px,#d10000 195px,#c60000 197px,#af0000 200px,#a80000 202px,#a00000 208px,#a20000 213px,#a30000 220px,#c30000 254px,#dc0000 277px,#f70100 299px,#ff0e00 316px,#ff3500 345px,#f80 405px,#ffb500 438px,#ffd900 464px,#fefe01 492px,#4cffb3 618px,#08fff7 664px,#01cffe 698px,#07f 756px,#0042fe 790px,#0018f5 822px,#0000f2 839px,#000084 908px,#000084 911px)"></i><i style="left:886px;top:211px;height:912px;background-image:linear-gradient(#ff1400,#ff1200 29px,#ff0c00 56px,#ff0e00 60px,#ff0600 86px,#f00 96px,#df0000 143px,#e10000 148px,#de0000 156px,#de0000 169px,#de0000 177px,#dc0000 188px,#d40000 193px,#d00000 195px,#c60000 197px,#af0000 200px,#a70000 202px,#9f0000 208px,#a10000 214px,#a40000 222px,#c40000 256px,#de0000 279px,#f80000 299px,#ff0e00 316px,#ff5400 368px,#ff7e00 398px,#ffb400 438px,#ffd900 464px,#feff01 493px,#47ffb8 621px,#06fef9 666px,#00beff 710px,#0041fe 791px,#0012f4 827px,#0000f1 840px,#000085 908px,#000085 911px)"></i><i style="left:888px;top:211px;height:913px;background-image:linear-gradient(#ff1400,#ff1300 28px,#ff0c00 56px,#ff0e00 60px,#ff0600 85px,#f00 96px,#df0000 143px,#e00000 148px,#d00 156px,#de0000 169px,#de0000 177px,#db0000 188px,#d00000 195px,#c60000 197px,#af0000 200px,#a70000 202px,#9f0000 209px,#a10000 214px,#a30000 222px,#c40000 256px,#df0000 280px,#f90100 300px,#ff0f00 317px,#ff5b00 373px,#ff8400 402px,#ffb600 439px,#ffda00 465px,#fefb01 490px,#fbff04 495px,#46ffb9 622px,#04fefb 667px,#00c7ff 704px,#0040fe 792px,#000af2 833px,#0000f0 841px,#000084 909px,#000084 912px)"></i><i style="left:890px;top:212px;height:912px;background-image:linear-gradient(#ff1400,#ff1300 26px,#ff0c00 55px,#ff0d00 60px,#ff0500 84px,#fe0000 95px,#de0000 142px,#e00000 147px,#d00 155px,#d00 168px,#d00 180px,#db0000 187px,#cf0000 194px,#c50000 196px,#af0000 199px,#a70000 201px,#9f0000 208px,#a10000 213px,#a20000 220px,#c40000 255px,#e00000 280px,#f90000 299px,#ff0e00 316px,#ff5f00 375px,#ff8700 404px,#ffb700 439px,#fd0 466px,#fdf602 486px,#f9ff06 495px,#45ffba 622px,#03fffc 667px,#00d1ff 697px,#003efe 792px,#0003f1 838px,#0000ef 841px,#000084 908px,#000084 911px)"></i><i style="left:892px;top:212px;height:912px;background-image:linear-gradient(#ff1400,#ff1200 26px,#ff0c00 55px,#ff0d00 62px,#ff0500 83px,#fe0000 94px,#de0000 142px,#df0000 147px,#dc0000 155px,#d00 168px,#d00 181px,#d90000 188px,#cf0000 194px,#c50000 196px,#b50000 198px,#ab0000 200px,#a50000 202px,#9f0000 209px,#a20000 220px,#c30000 255px,#e10000 281px,#fa0100 300px,#ff0e00 316px,#ff5d00 374px,#ff8600 403px,#ffb800 440px,#ffde00 467px,#fcf103 483px,#f8ff07 496px,#43ffbc 623px,#01fefe 669px,#003dfe 793px,#0000ef 841px,#000085 908px,#000085 911px)"></i><i style="left:894px;top:212px;height:913px;background-image:linear-gradient(#ff1400,#ff1200 25px,#ff0c00 54px,#ff0c00 63px,#ff0900 70px,#ff0500 83px,#fe0000 93px,#d00 142px,#de0000 147px,#dc0000 155px,#dc0000 168px,#dc0000 182px,#d70000 189px,#ce0000 194px,#c40000 196px,#af0000 199px,#a40000 202px,#9f0000 209px,#a20000 220px,#c30000 255px,#e20000 282px,#fa0000 300px,#ff0f00 317px,#ff5f00 376px,#ff8a00 406px,#ffb900 441px,#ffe100 469px,#fee901 476px,#f6ff09 497px,#48ffb7 620px,#01fefe 669px,#003cfe 794px,#00e 842px,#000084 909px,#000084 912px)"></i><i style="left:896px;top:212px;height:913px;background-image:linear-gradient(#ff1400,#ff1200 24px,#ff0b00 52px,#ff0c00 62px,#ff0900 70px,#ff0500 81px,#fe0000 92px,#fc0000 96px,#de0000 140px,#d00 148px,#db0000 155px,#dc0000 168px,#db0000 183px,#d70000 189px,#ce0000 194px,#c40000 196px,#b00000 199px,#a40000 202px,#9f0000 210px,#a10000 219px,#c10000 254px,#e10000 282px,#fb0100 301px,#ff1000 318px,#ff6200 378px,#ff8e00 409px,#ffba00 442px,#ffe300 471px,#feea01 477px,#f9f006 484px,#f5ff0a 498px,#6fff90 593px,#0bfef4 662px,#00fbff 672px,#003afe 795px,#00e 842px,#000084 909px,#000084 912px)"></i><i style="left:898px;top:213px;height:912px;background-image:linear-gradient(#ff1400,#ff1200 22px,#ff0b00 51px,#ff0c00 61px,#ff0800 69px,#ff0700 76px,#fe0000 90px,#fc0000 95px,#f70000 102px,#dc0000 141px,#d00 146px,#db0000 154px,#db0000 168px,#db0000 175px,#da0000 183px,#d60000 188px,#cd0000 193px,#c40000 195px,#b00000 198px,#a40000 201px,#9f0000 209px,#a10000 218px,#c10000 253px,#e20000 282px,#fb0000 300px,#ff1000 317px,#ff6400 379px,#ff9200 411px,#ffbc00 442px,#ffe600 472px,#fdec02 478px,#f7f108 485px,#f2ff0d 499px,#6fff90 592px,#17fee8 653px,#00f9ff 672px,#0039fe 795px,#0000eb 843px,#000085 908px,#000085 911px)"></i><i style="left:900px;top:213px;height:913px;background-image:linear-gradient(#ff1400,#ff1200 22px,#ff0b00 51px,#ff0c00 60px,#ff0700 69px,#ff0800 74px,#f00 89px,#fc0000 95px,#f70000 100px,#db0000 141px,#d00 146px,#da0000 154px,#da0000 169px,#da0000 175px,#da0000 182px,#d40000 189px,#cd0000 193px,#c30000 195px,#b00000 198px,#a40000 201px,#9f0000 209px,#a10000 218px,#bf0000 251px,#e30000 283px,#fb0100 301px,#f10 318px,#ff6700 381px,#ff9600 414px,#ffbd00 443px,#ffe700 473px,#fdee02 479px,#f5f30a 488px,#f1ff0e 500px,#6fff90 592px,#24fedb 644px,#00f6ff 674px,#0039fe 795px,#0000ec 843px,#000084 909px,#000084 912px)"></i><i style="left:902px;top:213px;height:913px;background-image:linear-gradient(#ff1400,#ff1200 21px,#ff0b00 52px,#ff0b00 61px,#ff0700 69px,#ff0700 74px,#fe0000 89px,#fc0000 95px,#f70000 99px,#f40000 104px,#db0000 140px,#dc0000 147px,#d90000 154px,#da0000 164px,#da0000 175px,#da0000 182px,#d40000 189px,#c00 193px,#c30000 195px,#ab0000 199px,#a20000 202px,#9f0000 211px,#a10000 219px,#c20000 254px,#e40000 284px,#fc0000 301px,#ff1200 319px,#ff3900 348px,#ff9b00 418px,#ffc000 445px,#ffeb00 476px,#fdef02 481px,#f3f50c 491px,#efff10 501px,#70ff8f 592px,#25ffda 643px,#1bfae4 653px,#00f5ff 675px,#0039fe 795px,#0000eb 844px,#000084 909px,#000084 912px)"></i><i style="left:904px;top:214px;height:912px;background-image:linear-gradient(#ff1400,#ff1200 20px,#ff0b00 51px,#ff0b00 58px,#ff0600 68px,#ff0800 72px,#fe0000 87px,#fc0000 94px,#f70000 98px,#f40000 103px,#dc0000 136px,#db0000 141px,#db0000 146px,#d90000 153px,#da0000 173px,#d90000 182px,#d40000 188px,#c00 192px,#bc0000 195px,#ab0000 198px,#a20000 201px,#9f0000 211px,#a10000 219px,#c30000 254px,#e30000 282px,#fc0100 301px,#ff1300 319px,#ff3500 344px,#ff7300 389px,#ffa100 422px,#ffc400 447px,#fff000 479px,#f1f70e 493px,#ef1 501px,#70ff8f 591px,#23fedc 644px,#1bf8e4 653px,#00f2ff 676px,#0038fe 795px,#0011f0 829px,#0000e9 844px,#000085 908px,#000085 911px)"></i><i style="left:906px;top:214px;height:913px;background-image:linear-gradient(#ff1400,#ff1200 19px,#ff0a00 51px,#ff0c00 56px,#ff0600 69px,#ff0600 73px,#fe0000 86px,#fb0000 94px,#f60000 98px,#f40000 103px,#e80000 117px,#da0000 141px,#da0000 146px,#d80000 153px,#d90000 169px,#d90000 181px,#d30000 188px,#cb0000 192px,#bc0000 195px,#ab0000 198px,#a20000 201px,#9f0000 212px,#a10000 219px,#c30000 255px,#e40000 283px,#fc0100 302px,#ff1400 320px,#ff3400 343px,#ff6a00 383px,#ff9d00 419px,#ffc200 446px,#ffec00 476px,#fef201 481px,#eef911 496px,#ebff14 503px,#71ff8e 591px,#21ffde 645px,#18f6e7 657px,#00f1ff 677px,#0037fe 796px,#001cf2 821px,#0000e8 845px,#000084 909px,#000084 912px)"></i><i style="left:908px;top:214px;height:913px;background-image:linear-gradient(#ff1400,#ff1200 19px,#ff0a00 51px,#ff0c00 56px,#ff0500 69px,#ff0600 73px,#fe0000 85px,#fb0000 94px,#f60000 98px,#f40000 103px,#e00 109px,#d90000 140px,#da0000 145px,#d80000 153px,#d90000 169px,#d80000 182px,#d30000 188px,#c00 191px,#cb0000 192px,#ab0000 198px,#a20000 201px,#9f0000 211px,#a10000 219px,#c20000 254px,#e20000 282px,#fd0000 302px,#fe0f00 316px,#ff3700 346px,#ff6c00 385px,#ffa100 422px,#ffc600 449px,#fff200 481px,#ecfb13 499px,#e9ff16 504px,#71ff8e 591px,#1ffee0 647px,#15f3ea 661px,#0ef 679px,#0036fe 797px,#001af1 823px,#0000e7 846px,#000084 909px,#000084 912px)"></i><i style="left:910px;top:214px;height:913px;background-image:linear-gradient(#ff1400,#ff1200 18px,#ff0900 51px,#ff0c00 55px,#ff0500 69px,#ff0500 74px,#fe0000 84px,#fb0000 94px,#f60000 98px,#f40000 103px,#ef0000 107px,#d80000 140px,#da0000 145px,#d70000 153px,#d90000 169px,#d70000 177px,#d80000 181px,#d30000 188px,#c00 191px,#ca0000 192px,#ab0000 198px,#a20000 201px,#9f0000 211px,#a10000 220px,#c50000 257px,#e30000 283px,#fd0100 303px,#f10 318px,#ff3400 343px,#ff4b00 361px,#ffa900 428px,#ffcf00 455px,#fff400 483px,#e5ff1a 507px,#71ff8e 591px,#1cfee3 649px,#12f1ed 665px,#00edff 680px,#0034fe 799px,#0015ee 828px,#0000e7 846px,#000085 909px,#000085 912px)"></i><i style="left:912px;top:215px;height:913px;background-image:linear-gradient(#ff1400,#f10 19px,#ff0900 50px,#ff0b00 54px,#ff0400 68px,#ff0500 72px,#fe0000 83px,#fb0000 93px,#f60000 97px,#f30000 102px,#ed0000 107px,#d80000 139px,#d90000 144px,#d70000 152px,#d70000 162px,#d80000 168px,#d70000 176px,#d70000 180px,#d20000 187px,#cb0000 190px,#ca0000 191px,#ab0000 197px,#a20000 200px,#9f0000 208px,#a10000 218px,#ab0000 230px,#c60000 257px,#e30000 282px,#fd0100 303px,#ff1700 322px,#f30 342px,#ff4b00 360px,#ffad00 430px,#fe0 477px,#fef601 484px,#e4ff1b 507px,#70ff8f 591px,#1bfee4 649px,#0eeef1 669px,#00eaff 681px,#0033fe 799px,#0010ec 832px,#0000e6 846px,#000084 909px,#000084 912px)"></i><i style="left:914px;top:215px;height:913px;background-image:linear-gradient(#ff1400,#f10 20px,#ff0900 51px,#ff0a00 55px,#ff0400 68px,#ff0400 72px,#fe0000 82px,#f90000 94px,#f50000 97px,#f30000 102px,#ed0000 107px,#d70000 139px,#d90000 144px,#d60000 152px,#d70000 162px,#d80000 169px,#d60000 176px,#d70000 180px,#d20000 187px,#cb0000 190px,#c90000 191px,#b60000 195px,#a80000 198px,#a10000 201px,#9f0000 214px,#a50000 224px,#c80000 259px,#e40000 283px,#fd0000 303px,#ff1900 323px,#f30 342px,#ff4c00 361px,#ffb000 433px,#ffed00 476px,#fef801 485px,#e4ff1b 507px,#70ff8f 591px,#18fee7 651px,#0aebf5 673px,#00e9ff 682px,#0032fe 800px,#000bea 837px,#0000e5 847px,#000084 909px,#000084 912px)"></i><i style="left:916px;top:215px;height:913px;background-image:linear-gradient(#ff1400,#ff1000 23px,#ff0900 51px,#ff0a00 55px,#ff0300 68px,#ff0400 72px,#fe0000 81px,#f90000 94px,#f50000 97px,#f30000 102px,#ed0000 106px,#d70000 139px,#d80000 144px,#d50000 152px,#d60000 162px,#d80000 168px,#d60000 176px,#d60000 180px,#d10000 187px,#ca0000 190px,#c90000 191px,#b60000 195px,#a80000 198px,#a00000 201px,#9f0000 212px,#a10000 220px,#c70000 258px,#e50000 284px,#fe0100 304px,#ff1b00 325px,#ff3400 343px,#ff4b00 361px,#ffef00 478px,#fef901 486px,#e4ff1b 507px,#74ff8b 589px,#17fee8 652px,#06e9f9 678px,#00e6ff 684px,#0031fe 801px,#0006e7 842px,#0000e4 848px,#000085 909px,#000085 912px)"></i><i style="left:918px;top:216px;height:913px;background-image:linear-gradient(#ff1400,#ff0800 50px,#ff0900 54px,#ff0300 68px,#ff0300 72px,#fe0000 80px,#f90000 93px,#f50000 96px,#f30000 101px,#ec0000 105px,#d60000 138px,#d70000 143px,#d50000 151px,#d60000 161px,#d70000 168px,#d50000 175px,#d50000 179px,#d10000 186px,#ca0000 189px,#c90000 190px,#b60000 194px,#a90000 197px,#a00000 200px,#9f0000 207px,#a10000 218px,#a00 228px,#c80000 258px,#e60000 284px,#fe0100 304px,#ff1c00 325px,#ff3500 343px,#ff4c00 361px,#fff000 478px,#fefa01 486px,#d9ff26 514px,#76ff89 586px,#14feeb 653px,#00e3ff 685px,#0030fe 801px,#0000e3 848px,#000084 909px,#000084 912px)"></i><i style="left:920px;top:216px;height:913px;background-image:linear-gradient(#ff1400,#ff0800 51px,#ff0800 55px,#ff0200 68px,#ff0200 72px,#fe0000 80px,#f80000 93px,#f40000 97px,#f10000 102px,#ea0000 107px,#d50000 138px,#d70000 143px,#d40000 151px,#d50000 161px,#d70000 168px,#d40000 175px,#d50000 179px,#d00000 186px,#c90000 189px,#c80000 190px,#b60000 194px,#a90000 197px,#a00000 200px,#9e0000 207px,#a10000 219px,#c70000 258px,#e80000 286px,#fe0000 304px,#ff1f00 327px,#ff3600 344px,#ff4e00 362px,#ff7800 392px,#fff200 479px,#fefb01 487px,#d3ff2c 519px,#78ff87 585px,#13feec 654px,#00e2ff 686px,#002efe 802px,#0000e2 849px,#000084 909px,#000084 912px)"></i><i style="left:922px;top:216px;height:913px;background-image:linear-gradient(#ff1400,#ff0700 56px,#ff0200 69px,#fd0000 83px,#f70000 94px,#f00000 102px,#ea0000 106px,#d50000 138px,#d60000 143px,#d40000 151px,#d50000 161px,#d70000 167px,#d40000 175px,#d40000 179px,#cf0000 186px,#c90000 189px,#c70000 190px,#bc0000 193px,#ad0000 196px,#a00000 200px,#9f0000 208px,#a10000 219px,#c60000 257px,#e90000 287px,#ff0100 305px,#ff2400 331px,#ff3a00 347px,#ff4f00 363px,#ff7500 390px,#ffd800 460px,#fef801 485px,#fbfb04 489px,#d0ff2f 521px,#76ff89 586px,#10feef 656px,#00e2ff 686px,#002dfe 803px,#0000e2 849px,#000085 909px,#000085 912px)"></i><i style="left:924px;top:216px;height:914px;background-image:linear-gradient(#ff1400,#ff0600 57px,#fe0000 78px,#f80000 92px,#f00000 102px,#ea0000 106px,#d40000 138px,#d60000 143px,#d30000 151px,#d40000 161px,#d60000 167px,#d30000 175px,#d40000 179px,#cf0000 186px,#c80000 189px,#c70000 190px,#bc0000 193px,#ad0000 196px,#a00000 200px,#9e0000 208px,#a10000 219px,#c60000 257px,#e90000 287px,#ff0100 306px,#ff3800 346px,#ff5000 364px,#ff7500 390px,#ffd400 458px,#feef01 478px,#fbfc04 490px,#cf3 524px,#72ff8d 589px,#0ffef0 657px,#02e6fd 682px,#00d6ff 694px,#002cfe 804px,#0000e1 850px,#000084 910px,#000084 913px)"></i><i style="left:926px;top:217px;height:913px;background-image:linear-gradient(#ff1300,#ff0500 56px,#fe0000 77px,#f70000 91px,#f00000 101px,#e90000 106px,#d40000 137px,#d50000 142px,#d30000 150px,#d30000 160px,#d50000 166px,#d30000 174px,#d20000 179px,#ce0000 185px,#c70000 188px,#c60000 189px,#bc0000 192px,#ac0000 195px,#a00000 199px,#9e0000 207px,#a20000 219px,#c70000 257px,#ea0000 287px,#ff0100 305px,#ff3900 346px,#ff5100 364px,#ff7600 390px,#ffb200 433px,#fee701 471px,#fafc05 490px,#c8ff37 526px,#6eff91 591px,#0cfef3 658px,#00d9ff 691px,#002bfe 804px,#0000e0 850px,#000084 909px,#000084 912px)"></i><i style="left:928px;top:217px;height:913px;background-image:linear-gradient(#ff1300,#ff0500 56px,#fe0000 76px,#f70000 90px,#e00 102px,#e70000 107px,#d30000 137px,#d40000 142px,#d20000 150px,#d30000 160px,#d50000 166px,#d20000 174px,#d20000 179px,#ce0000 185px,#c60000 189px,#bc0000 192px,#ac0000 195px,#9f0000 200px,#9e0000 208px,#a20000 220px,#c80000 258px,#eb0000 288px,#ff0200 306px,#ff3b00 347px,#ff5200 365px,#ff7a00 393px,#ffb500 435px,#ffe500 469px,#f7fc08 492px,#c1ff3e 531px,#69ff96 594px,#0cfef3 658px,#00d7ff 693px,#002afe 805px,#0000df 851px,#000085 909px,#000085 912px)"></i><i style="left:930px;top:217px;height:914px;background-image:linear-gradient(#ff1300,#ff0300 60px,#fd0000 77px,#f60000 91px,#e00 102px,#e70000 106px,#d30000 137px,#d40000 142px,#d10000 150px,#d20000 160px,#d40000 166px,#d10000 174px,#d10000 179px,#cd0000 185px,#c20000 190px,#bc0000 192px,#ab0000 195px,#9f0000 200px,#9d0000 208px,#a30000 221px,#c90000 259px,#eb0000 288px,#ff0300 307px,#ff3a00 347px,#ff5100 365px,#ff7e00 396px,#ffb700 437px,#fee701 471px,#faef05 480px,#f6fd09 493px,#bf4 536px,#65ff9a 597px,#0dfef2 658px,#0afaf5 662px,#00d4ff 695px,#0029fe 806px,#0000de 852px,#000084 910px,#000084 913px)"></i><i style="left:932px;top:217px;height:914px;background-image:linear-gradient(#ff1300,#fe0000 73px,#f80000 88px,#ed0000 102px,#e70000 106px,#d20000 137px,#d30000 142px,#d10000 150px,#d20000 160px,#d40000 166px,#d10000 174px,#d10000 179px,#cd0000 185px,#c20000 190px,#bc0000 192px,#ab0000 195px,#9f0000 200px,#9d0000 208px,#a50000 224px,#cb0000 261px,#f70100 299px,#ff0400 308px,#ff3b00 348px,#ff5200 366px,#ff8200 399px,#ffb900 439px,#fee901 472px,#f9ef06 481px,#f5fd0a 494px,#afff50 545px,#59ffa6 605px,#15fdea 653px,#0afbf5 662px,#05e7fa 679px,#00d1ff 697px,#0028fe 807px,#000ce8 839px,#0000de 853px,#000084 910px,#000084 913px)"></i><i style="left:934px;top:218px;height:913px;background-image:linear-gradient(#ff1200,#fe0000 71px,#f80000 86px,#ed0000 101px,#e60000 106px,#d10000 136px,#d30000 141px,#d00000 149px,#d10000 159px,#d30000 165px,#d00000 173px,#d00000 178px,#c00 184px,#c10000 189px,#bc0000 191px,#ab0000 194px,#9e0000 200px,#9c0000 207px,#a60000 224px,#c00 261px,#f10100 293px,#ff0500 308px,#ff3c00 348px,#ff5600 368px,#f80 402px,#ffbd00 441px,#ffea00 472px,#f7f008 482px,#f3fd0c 495px,#a2ff5d 553px,#2fffd0 634px,#09faf6 663px,#05e4fa 680px,#00d0ff 697px,#0027fe 807px,#0012ec 832px,#0000de 852px,#000085 909px,#000085 912px)"></i><i style="left:936px;top:218px;height:914px;background-image:linear-gradient(#ff1200,#fe0000 71px,#f70000 86px,#eb0000 102px,#e50000 106px,#d10000 136px,#d20000 141px,#d00000 149px,#d10000 159px,#d30000 165px,#d00000 173px,#d00000 178px,#ca0000 185px,#b00 191px,#ac0000 194px,#9e0000 200px,#9d0000 208px,#a70000 225px,#cd0000 262px,#eb0000 288px,#f20100 294px,#ff0600 309px,#ff3e00 349px,#ff5a00 371px,#ff8c00 405px,#ffbd00 441px,#feec01 474px,#f5f30a 486px,#f2fd0d 496px,#b2ff4d 542px,#5fffa0 600px,#2cfed3 637px,#08f9f7 664px,#05e0fa 683px,#00cdff 699px,#0026fe 808px,#0011ea 834px,#00d 853px,#000084 910px,#000084 913px)"></i><i style="left:938px;top:218px;height:914px;background-image:linear-gradient(#ff1200,#fe0000 70px,#f70000 85px,#eb0000 102px,#e50000 105px,#d10000 134px,#d00000 143px,#cf0000 149px,#d00000 159px,#d20000 165px,#cf0000 173px,#cf0000 178px,#c90000 185px,#b00 191px,#ab0000 194px,#9d0000 200px,#9c0000 208px,#a80000 226px,#ce0000 263px,#eb0000 288px,#f30200 295px,#ff0700 310px,#ff4000 351px,#ff6000 375px,#ff9100 409px,#ffbe00 442px,#feee01 475px,#f3f50c 489px,#f1fe0e 497px,#afff50 544px,#63ff9c 597px,#2bffd4 637px,#1ffbe0 648px,#07f8f8 666px,#04dcfb 687px,#00caff 701px,#0025fe 809px,#000ee8 838px,#0000dc 854px,#000084 910px,#000084 913px)"></i><i style="left:940px;top:218px;height:914px;background-image:linear-gradient(#f10,#fe0000 69px,#f70000 84px,#ea0000 102px,#e50000 105px,#d20000 131px,#d00000 137px,#cf0000 144px,#ce0000 149px,#cf0000 159px,#d10000 165px,#cf0000 174px,#ce0000 179px,#c90000 185px,#b00 191px,#a80000 195px,#9d0000 201px,#9c0000 208px,#a90000 227px,#cf0000 264px,#ec0000 289px,#f40200 296px,#fa0600 305px,#ff0800 311px,#f40 354px,#f60 379px,#ff9500 412px,#ffbe00 442px,#ffef00 476px,#f1f70e 492px,#effe10 499px,#afff50 544px,#6cff93 591px,#3fc 631px,#26fed9 641px,#1afae5 652px,#06f7f9 667px,#03d7fc 691px,#00c8ff 703px,#0024fe 810px,#000ae4 843px,#0000dc 855px,#000085 910px,#000085 913px)"></i><i style="left:942px;top:218px;height:915px;background-image:linear-gradient(#f10,#fe0000 68px,#f70000 83px,#ea0000 102px,#e40000 105px,#d40000 128px,#cf0000 137px,#cf0000 143px,#ce0000 149px,#cf0000 159px,#d10000 165px,#ce0000 174px,#cd0000 179px,#c90000 185px,#ba0000 191px,#a70000 195px,#a20000 198px,#9d0000 201px,#9d0000 209px,#a00 228px,#cf0000 264px,#f40100 296px,#fb0700 306px,#ff0800 311px,#ff4800 357px,#ff6b00 383px,#ff9a00 416px,#ffc200 445px,#fef101 478px,#effa10 496px,#ecfe13 501px,#b3ff4c 541px,#7dff82 579px,#2fffd0 634px,#24fddb 643px,#18f8e7 655px,#05f6fa 669px,#02d2fd 695px,#00beff 710px,#0023fe 811px,#0007e2 847px,#0000db 856px,#000084 911px,#000084 914px)"></i><i style="left:944px;top:219px;height:914px;background-image:linear-gradient(#f10,#fe0000 66px,#f80000 81px,#e90000 101px,#e30000 104px,#d30000 126px,#ce0000 136px,#cf0000 142px,#cd0000 148px,#ce0000 158px,#d00000 164px,#cd0000 178px,#c70000 185px,#b60000 191px,#a70000 194px,#9c0000 200px,#9c0000 208px,#a00 228px,#c00 260px,#f00000 291px,#f50200 297px,#fc0800 307px,#ff0900 311px,#ff4c00 359px,#ff7100 386px,#ff9f00 419px,#ffcb00 450px,#fef301 478px,#eaff15 502px,#b6ff49 538px,#7eff81 578px,#2affd5 636px,#20fddf 645px,#14f7eb 658px,#05f4fa 670px,#0cf 699px,#006bff 763px,#0022fe 811px,#0000db 855px,#000084 910px,#000084 913px)"></i><i style="left:946px;top:219px;height:914px;background-image:linear-gradient(#ff1000,#fe0000 65px,#f70000 81px,#e90000 101px,#e30000 104px,#d20000 125px,#ce0000 137px,#cd0000 144px,#cd0000 157px,#d00000 164px,#c00 178px,#c60000 185px,#b60000 191px,#a70000 194px,#a20000 197px,#9c0000 200px,#9c0000 208px,#ab0000 229px,#c90000 258px,#f10000 292px,#f60200 298px,#fd0900 309px,#ff0c00 313px,#ff4f00 362px,#ff7b00 393px,#ffa600 424px,#fff100 476px,#fdf502 481px,#e9ff16 503px,#b9ff46 536px,#7cff83 579px,#25ffda 640px,#0ff5f0 662px,#04f4fb 671px,#00b3ff 716px,#0021fe 812px,#0000da 856px,#000085 910px,#000085 913px)"></i><i style="left:948px;top:219px;height:915px;background-image:linear-gradient(#ff1000,#fe0000 64px,#f70000 80px,#e80000 101px,#e20000 104px,#d10000 125px,#cf0000 132px,#cd0000 138px,#cd0000 144px,#cd0000 157px,#cf0000 164px,#c00 178px,#c60000 185px,#b60000 191px,#a70000 194px,#a30000 197px,#9c0000 200px,#9c0000 209px,#ac0000 230px,#c80000 257px,#f70100 297px,#ff0b00 313px,#ff5300 365px,#ff8700 402px,#ffca00 450px,#fef701 481px,#e9ff16 503px,#b7ff48 537px,#7aff85 581px,#21ffde 643px,#0bf4f4 666px,#03f2fc 673px,#00a6ff 725px,#0020fe 813px,#0000d9 857px,#000084 911px,#000084 914px)"></i><i style="left:950px;top:219px;height:915px;background-image:linear-gradient(#ff1000,#fe0000 63px,#f70000 79px,#e80000 101px,#e20000 104px,#d00000 125px,#cf0000 130px,#c00 138px,#c00 144px,#c00 157px,#cf0000 164px,#cb0000 178px,#c60000 185px,#b50000 191px,#a70000 194px,#a30000 197px,#9b0000 201px,#9d0000 210px,#ad0000 231px,#c30000 253px,#f20000 293px,#f80200 299px,#ff0e00 315px,#ff5700 368px,#ffac00 429px,#fef801 482px,#eaff15 502px,#afff50 543px,#7f8 583px,#1dffe2 646px,#07f2f8 670px,#02f0fd 675px,#0097ff 735px,#001eff 814px,#0000da 857px,#000084 911px,#000084 914px)"></i><i style="left:952px;top:220px;height:914px;background-image:linear-gradient(#ff0f00,#fe0000 61px,#f70000 77px,#e70000 100px,#e10000 103px,#d00000 124px,#ce0000 130px,#c00 137px,#cb0000 144px,#cb0000 156px,#ce0000 163px,#cb0000 177px,#c30000 185px,#b50000 190px,#a80000 193px,#a00000 197px,#9b0000 200px,#9d0000 209px,#ac0000 230px,#c40000 253px,#f80100 298px,#ff0f00 315px,#ffcb00 450px,#fffa00 482px,#e2ff1d 507px,#b2ff4d 540px,#76ff89 583px,#1affe5 647px,#01eefe 676px,#001dff 814px,#0000d9 857px,#000085 910px,#000085 913px)"></i><i style="left:954px;top:220px;height:915px;background-image:linear-gradient(#ff0f00,#fe0000 61px,#f70000 76px,#e60000 100px,#e10000 103px,#d00000 122px,#cb0000 134px,#ca0000 147px,#cb0000 157px,#cd0000 163px,#ca0000 177px,#c30000 185px,#b50000 190px,#a80000 193px,#9b0000 200px,#9c0000 209px,#ad0000 231px,#c40000 253px,#f90100 299px,#ff0f00 315px,#ffce00 452px,#fefb01 483px,#deff21 510px,#afff50 542px,#75ff8a 584px,#18ffe7 648px,#0ef 677px,#001cff 815px,#0000d6 859px,#000084 911px,#000084 914px)"></i><i style="left:956px;top:220px;height:915px;background-image:linear-gradient(#ff0f00,#fe0000 60px,#f70000 75px,#e60000 100px,#e00000 103px,#d00000 121px,#ce0000 125px,#c00 131px,#ca0000 138px,#ca0000 148px,#ca0000 156px,#cd0000 163px,#c90000 177px,#c30000 185px,#b50000 190px,#a80000 193px,#9c0000 200px,#9c0000 209px,#ae0000 232px,#c30000 253px,#fa0100 299px,#ff1000 316px,#ffce00 452px,#fef801 482px,#fafc05 487px,#df2 511px,#aeff51 543px,#73ff8c 585px,#52ffad 608px,#15feea 651px,#0ef 677px,#001bff 816px,#0000d5 860px,#000084 911px,#000084 914px)"></i><i style="left:958px;top:220px;height:915px;background-image:linear-gradient(#ff0f00,#fe0000 57px,#f90000 72px,#e50000 100px,#df0000 103px,#cf0000 121px,#cd0000 125px,#c00 131px,#c90000 138px,#c90000 144px,#ca0000 156px,#c00 163px,#c00 168px,#c90000 177px,#c30000 185px,#b50000 190px,#a50000 194px,#a10000 197px,#9b0000 201px,#9d0000 210px,#ae0000 233px,#c30000 253px,#f80000 297px,#fc0300 303px,#ff1500 320px,#ffcf00 453px,#fdf202 478px,#fafc05 487px,#daff25 513px,#acff53 545px,#70ff8f 587px,#4fffb0 610px,#13ffec 652px,#04f0fb 673px,#00e8ff 681px,#001aff 817px,#000de9 839px,#0000d5 860px,#000085 911px,#000085 914px)"></i><i style="left:960px;top:220px;height:916px;background-image:linear-gradient(#ff0f00,#fe0000 56px,#f80000 72px,#e50000 100px,#df0000 103px,#d00000 119px,#c00 124px,#c00 130px,#c80000 138px,#c90000 143px,#c90000 156px,#c00 163px,#cb0000 168px,#c90000 175px,#c20000 185px,#b40000 190px,#a50000 194px,#9b0000 201px,#9c0000 210px,#ae0000 233px,#c50000 255px,#f40000 294px,#fb0100 301px,#ff1500 320px,#ffcd00 452px,#fdea02 473px,#f9fc06 488px,#d7ff28 515px,#a9ff56 547px,#6eff91 589px,#4dffb2 612px,#10feef 654px,#00e7ff 682px,#0018ff 818px,#0010ed 835px,#0000d4 861px,#000084 912px,#000084 915px)"></i><i style="left:962px;top:221px;height:915px;background-image:linear-gradient(#ff0e00,#fe0000 54px,#f80000 70px,#e40000 99px,#de0000 102px,#d10000 117px,#cb0000 123px,#cb0000 129px,#c80000 137px,#c80000 142px,#c80000 155px,#cb0000 162px,#ca0000 167px,#ca0000 172px,#c20000 184px,#b40000 189px,#a60000 193px,#9b0000 201px,#9d0000 210px,#af0000 233px,#c80000 257px,#ef0000 289px,#fb0200 301px,#ff1600 320px,#fc0 450px,#fee201 466px,#f7fc08 489px,#d5ff2a 516px,#a8ff57 547px,#6bff94 590px,#4affb5 613px,#0ffef0 654px,#00e4ff 683px,#008eff 740px,#0017ff 818px,#000fea 837px,#0000d3 861px,#000084 911px,#000084 914px)"></i><i style="left:964px;top:221px;height:915px;background-image:linear-gradient(#ff0e00,#fe0000 53px,#fc0000 58px,#f80000 69px,#e40000 99px,#de0000 102px,#d20000 115px,#ca0000 123px,#cb0000 129px,#c70000 137px,#c80000 142px,#c80000 155px,#cb0000 162px,#ca0000 167px,#c90000 172px,#c10000 184px,#b40000 189px,#a60000 193px,#9b0000 201px,#9d0000 210px,#b00000 234px,#cf0000 263px,#fa0200 299px,#fc0500 304px,#ff1800 322px,#ffca00 449px,#fee301 467px,#faeb05 475px,#f5fd0a 490px,#d2ff2d 518px,#a4ff5b 550px,#6aff95 591px,#48ffb7 614px,#0ffdf0 655px,#00e1ff 685px,#0094ff 736px,#0016ff 819px,#000de6 841px,#0000d1 862px,#000085 911px,#000085 914px)"></i><i style="left:966px;top:221px;height:916px;background-image:linear-gradient(#ff0e00,#fe0000 52px,#fb0000 58px,#f90000 67px,#e30000 99px,#d00 102px,#d30000 113px,#ca0000 123px,#ca0000 129px,#c60000 137px,#c70000 142px,#c70000 155px,#ca0000 162px,#c90000 167px,#c90000 172px,#c10000 184px,#b40000 189px,#a40000 194px,#9b0000 202px,#9d0000 210px,#af0000 234px,#da0000 273px,#f70200 297px,#fc0400 303px,#ff1a00 323px,#ffc800 448px,#ffe500 468px,#f8ea07 476px,#f3fd0c 492px,#d1ff2e 519px,#a1ff5e 552px,#67ff98 593px,#46ffb9 616px,#14fdeb 652px,#0dfbf2 658px,#08eef7 670px,#00e0ff 686px,#0095ff 735px,#0014ff 820px,#000ae2 845px,#0000d0 863px,#000084 912px,#000084 915px)"></i><i style="left:968px;top:221px;height:916px;background-image:linear-gradient(#ff0d00,#fe0000 51px,#fb0000 58px,#fa0000 64px,#e20000 99px,#dc0000 102px,#d30000 112px,#c90000 123px,#c90000 130px,#c60000 137px,#c70000 142px,#c70000 155px,#c90000 162px,#c90000 167px,#c80000 172px,#c00000 184px,#b40000 189px,#a40000 194px,#9b0000 202px,#9d0000 211px,#b00000 235px,#dc0000 275px,#ee0100 290px,#fc0500 304px,#ff1c00 325px,#ffc800 448px,#fee701 470px,#f6ee09 480px,#f2fd0d 493px,#ceff31 521px,#9eff61 554px,#64ff9b 595px,#4fb 617px,#1bfde4 648px,#0cfbf3 659px,#08ecf7 672px,#0df 688px,#0095ff 735px,#0012fe 822px,#0008dd 850px,#0000cf 864px,#000084 912px,#000084 915px)"></i><i style="left:970px;top:221px;height:916px;background-image:linear-gradient(#ff0d00,#fe0000 50px,#fa0000 58px,#fa0000 63px,#e20000 99px,#dc0000 102px,#d30000 112px,#c90000 122px,#c80000 130px,#c50000 137px,#c60000 142px,#c60000 155px,#c90000 162px,#c80000 167px,#c80000 172px,#c00000 184px,#b40000 189px,#a40000 194px,#9b0000 202px,#9d0000 211px,#b00000 235px,#de0000 277px,#ee0100 290px,#fd0600 305px,#ff1d00 326px,#ff9600 413px,#ffe900 471px,#f4f00b 483px,#f0fd0f 495px,#cbff34 523px,#9bff64 556px,#61ff9e 597px,#41ffbe 619px,#2bfed4 637px,#0bf9f4 661px,#07e8f8 675px,#00daff 690px,#0095ff 735px,#0011fe 823px,#0005d9 855px,#0000ce 865px,#000085 912px,#000085 915px)"></i><i style="left:972px;top:222px;height:916px;background-image:linear-gradient(#ff0d00,#fe0000 48px,#fa0000 57px,#fa0000 61px,#e10000 98px,#db0000 101px,#d20000 111px,#c90000 120px,#c80000 125px,#c60000 132px,#c50000 137px,#c60000 154px,#c80000 161px,#c70000 166px,#c70000 171px,#bf0000 183px,#b40000 188px,#a40000 193px,#9f0000 198px,#9b0000 202px,#9e0000 211px,#b00000 234px,#df0000 277px,#ef0100 290px,#fd0700 305px,#ff2000 327px,#ff9800 413px,#feeb01 472px,#f1f30e 486px,#edfe12 496px,#c8ff37 524px,#9f6 557px,#60ff9f 597px,#3fffc0 620px,#29fed6 637px,#16fae9 652px,#0af8f5 662px,#06e4f9 678px,#00d8ff 691px,#0094ff 735px,#000ffe 823px,#0003d5 858px,#0000cd 865px,#000084 912px,#000084 915px)"></i><i style="left:974px;top:222px;height:916px;background-image:linear-gradient(#ff0c00,#fe0000 47px,#f90000 57px,#fa0000 61px,#e10000 98px,#db0000 101px,#d20000 111px,#c90000 119px,#c70000 125px,#c60000 131px,#c40000 136px,#c50000 141px,#c50000 154px,#c80000 161px,#c70000 166px,#c70000 171px,#bf0000 183px,#b10000 189px,#a40000 193px,#9b0000 202px,#9f0000 212px,#b10000 235px,#df0000 277px,#f00000 290px,#f70500 299px,#fd0800 306px,#ff2100 328px,#ff9a00 415px,#ffed00 473px,#eff610 490px,#ecfe13 497px,#c6ff39 526px,#96ff69 559px,#5dffa2 599px,#3affc5 623px,#26fed9 639px,#1bfae4 649px,#09f7f6 663px,#04dffb 683px,#00d6ff 692px,#0095ff 734px,#000efe 824px,#0000cb 866px,#000084 912px,#000084 915px)"></i><i style="left:976px;top:222px;height:916px;background-image:linear-gradient(#ff0c00,#fe0000 46px,#f80000 57px,#f90000 61px,#e00000 98px,#da0000 101px,#d10000 111px,#ca0000 117px,#c60000 125px,#c60000 130px,#c40000 136px,#c40000 141px,#c40000 154px,#c70000 161px,#c60000 166px,#c60000 171px,#be0000 183px,#b10000 189px,#a50000 193px,#9b0000 202px,#9e0000 212px,#b20000 236px,#e00000 278px,#f10000 291px,#f80600 301px,#fd0800 307px,#ff2300 330px,#ff9c00 416px,#feef01 475px,#edf812 493px,#eafe15 499px,#c1ff3e 529px,#92ff6d 562px,#5affa5 601px,#35ffca 627px,#24fddb 641px,#19f8e6 652px,#07f6f8 665px,#03dbfc 687px,#00d3ff 694px,#0094ff 735px,#000dfe 825px,#0000ca 867px,#000085 912px,#000085 915px)"></i><i style="left:978px;top:222px;height:917px;background-image:linear-gradient(#ff0c00,#fe0000 46px,#f80000 57px,#f90000 61px,#df0000 98px,#da0000 101px,#d00000 111px,#ca0000 116px,#c50000 125px,#c50000 130px,#c30000 136px,#c40000 141px,#c40000 154px,#c60000 161px,#c60000 166px,#c60000 171px,#bc0000 184px,#b60000 187px,#b10000 189px,#a50000 193px,#9b0000 202px,#9f0000 213px,#b20000 237px,#c90000 258px,#e40000 281px,#f30100 293px,#f90700 303px,#fe0900 308px,#ff2500 331px,#ffa500 423px,#fff100 476px,#eafc15 497px,#e8ff17 501px,#b9ff46 535px,#56ffa9 604px,#2dffd2 633px,#21fdde 643px,#14f7eb 656px,#06f4f9 667px,#02d6fd 691px,#00cdff 698px,#008bff 741px,#000bfe 826px,#00c 866px,#000084 913px,#000084 916px)"></i><i style="left:980px;top:222px;height:917px;background-image:linear-gradient(#ff0c00,#fe0000 45px,#f70000 57px,#f80000 61px,#df0000 98px,#d90000 101px,#d20000 110px,#cb0000 114px,#c40000 125px,#c50000 130px,#c30000 136px,#c30000 141px,#c30000 154px,#c50000 162px,#c50000 171px,#b00 184px,#b50000 187px,#b10000 189px,#a60000 193px,#a10000 196px,#9c0000 203px,#9f0000 213px,#b30000 238px,#c90000 258px,#e10000 279px,#f30100 293px,#fb0800 305px,#fe0b00 310px,#ff2600 332px,#ffd400 456px,#fef301 478px,#e4ff1b 504px,#53ffac 606px,#27ffd8 637px,#1efde1 645px,#11f6ee 659px,#05f3fa 669px,#00cbff 700px,#0081ff 748px,#000afe 827px,#0000cb 867px,#000084 913px,#000084 916px)"></i><i style="left:982px;top:223px;height:916px;background-image:linear-gradient(#ff0b00,#fe0000 43px,#f70000 56px,#f80000 60px,#de0000 97px,#d80000 100px,#d10000 109px,#ca0000 113px,#c40000 124px,#c50000 128px,#c20000 135px,#c30000 140px,#c30000 153px,#c50000 161px,#c40000 170px,#b00 183px,#b50000 186px,#ae0000 189px,#a40000 193px,#9c0000 202px,#a00000 213px,#b30000 237px,#cb0000 258px,#e30000 280px,#f50100 293px,#fe0c00 310px,#ff2a00 334px,#ff8200 397px,#ffea00 470px,#fef601 479px,#e5ff1a 502px,#4fffb0 608px,#21ffde 640px,#18fbe7 650px,#0cf4f3 663px,#04f1fb 670px,#00c8ff 701px,#0079ff 753px,#0008ff 827px,#0000c4 871px,#000085 912px,#000085 915px)"></i><i style="left:984px;top:223px;height:917px;background-image:linear-gradient(#ff0b00,#fe0000 42px,#f60000 57px,#f70000 60px,#de0000 97px,#d80000 100px,#d10000 109px,#ca0000 113px,#c30000 124px,#c40000 128px,#c10000 135px,#c20000 140px,#c20000 153px,#c40000 161px,#c40000 170px,#b00 183px,#ae0000 189px,#a40000 193px,#a00000 196px,#9c0000 203px,#a00000 213px,#b40000 238px,#c00 259px,#e60000 282px,#f60100 294px,#ff0d00 311px,#ff3100 339px,#ff8200 397px,#ffaf00 429px,#fef701 480px,#e8fe17 500px,#4affb5 612px,#1cffe3 644px,#07f2f8 667px,#03f0fc 672px,#00c7ff 702px,#01f 821px,#0008fe 828px,#0000c1 873px,#000084 913px,#000084 916px)"></i><i style="left:986px;top:223px;height:917px;background-image:linear-gradient(#ff0b00,#fe0000 41px,#f60000 57px,#f70000 60px,#d00 97px,#d70000 100px,#d00000 109px,#c90000 113px,#c30000 124px,#c30000 128px,#c10000 135px,#c10000 140px,#c10000 153px,#c40000 161px,#c30000 170px,#b00 183px,#ae0000 189px,#a50000 193px,#a00000 196px,#9d0000 204px,#a00000 214px,#b50000 239px,#cd0000 260px,#e70000 283px,#f70100 295px,#ff0f00 313px,#ff5400 365px,#ff8600 400px,#ffb400 432px,#fff200 476px,#fefa01 482px,#e0ff1f 506px,#4fb 616px,#19ffe6 646px,#01eefe 674px,#00bcff 709px,#000ffe 823px,#0007fe 829px,#0000c0 874px,#000084 913px,#000084 916px)"></i><i style="left:988px;top:223px;height:917px;background-image:linear-gradient(#ff0a00,#fe0000 40px,#f50000 57px,#f50000 61px,#d00 97px,#d70000 100px,#cf0000 109px,#c80000 113px,#c20000 124px,#c30000 128px,#c00000 135px,#c10000 140px,#c10000 153px,#c30000 161px,#c30000 170px,#b00 183px,#af0000 189px,#a60000 192px,#a00000 197px,#9d0000 205px,#a00000 214px,#b60000 240px,#cf0000 262px,#eb0000 286px,#f80100 296px,#ff0f00 313px,#f50 366px,#ff8700 401px,#ffb700 434px,#fff000 475px,#fefb01 483px,#d0ff2f 517px,#3effc1 620px,#15feea 649px,#00edff 676px,#00a2ff 726px,#0017fe 818px,#0006fd 830px,#0000bd 876px,#000085 913px,#000085 916px)"></i><i style="left:990px;top:223px;height:918px;background-image:linear-gradient(#ff0a00,#fe0000 39px,#f50000 57px,#f40000 62px,#dc0000 97px,#d60000 100px,#cf0000 109px,#c80000 113px,#c20000 124px,#c20000 129px,#c00000 135px,#c00000 140px,#c00000 153px,#c30000 161px,#c20000 170px,#ba0000 183px,#a50000 193px,#9f0000 197px,#9d0000 205px,#a10000 215px,#b70000 241px,#d10000 264px,#e00 288px,#fa0100 298px,#f10 314px,#ff6c00 383px,#ffb800 435px,#fef601 480px,#fbfb04 485px,#d1ff2e 516px,#39ffc6 624px,#12feed 651px,#0ef 675px,#009eff 729px,#0025fe 809px,#0006fd 831px,#0002d5 859px,#0000b0 885px,#000084 914px,#000084 917px)"></i><i style="left:992px;top:223px;height:918px;background-image:linear-gradient(#ff0a00,#fe0000 38px,#f50000 56px,#f20000 64px,#db0000 97px,#d50000 100px,#c00 110px,#c60000 114px,#c10000 124px,#c10000 129px,#bf0000 135px,#c00000 140px,#c00000 154px,#c20000 161px,#c20000 170px,#ba0000 183px,#b00000 188px,#a50000 193px,#9f0000 198px,#9e0000 207px,#a10000 215px,#b80000 242px,#d30000 266px,#f00000 290px,#fb0100 299px,#ff1500 317px,#ff7300 388px,#ffbd00 438px,#feef01 475px,#f9fc06 487px,#cfff30 518px,#32ffcd 629px,#10feef 653px,#03f1fc 671px,#00e5ff 681px,#0095ff 735px,#002dfe 804px,#0005fc 832px,#0002d4 860px,#0000b0 885px,#000084 914px,#000084 917px)"></i><i style="left:994px;top:224px;height:917px;background-image:linear-gradient(#ff0900,#fe0000 37px,#f50000 54px,#f10000 64px,#db0000 96px,#d50000 99px,#cb0000 109px,#c60000 113px,#c00000 123px,#c10000 128px,#bf0000 134px,#bf0000 139px,#c00000 154px,#c10000 160px,#c10000 169px,#ba0000 182px,#b00000 187px,#ac0000 189px,#a50000 192px,#9f0000 197px,#9e0000 206px,#a20000 215px,#b70000 241px,#d60000 267px,#f30000 291px,#fb0100 298px,#ff1600 317px,#ff7600 389px,#ffc100 440px,#fde702 469px,#f7fc08 487px,#cf3 519px,#29ffd6 634px,#0dfef2 654px,#00e8ff 678px,#008cff 740px,#002ffe 802px,#0005fc 832px,#0001d0 862px,#00008e 907px,#000085 913px,#000085 916px)"></i><i style="left:996px;top:224px;height:918px;background-image:linear-gradient(#ff0900,#fe0000 36px,#f50000 53px,#f00000 65px,#da0000 96px,#d40000 99px,#ca0000 109px,#c50000 113px,#c00000 123px,#c00000 128px,#be0000 134px,#be0000 139px,#bf0000 154px,#c10000 160px,#c00000 169px,#b80000 183px,#af0000 187px,#ad0000 189px,#a50000 192px,#9f0000 198px,#9f0000 209px,#a40000 217px,#b70000 241px,#d80000 269px,#fb0100 298px,#ff1800 319px,#ff7900 391px,#ffc500 443px,#fee101 465px,#f5fc0a 489px,#c9ff36 521px,#2fd 639px,#0bfef4 655px,#00e3ff 682px,#007dff 750px,#002dfe 804px,#0004fa 834px,#0001cd 865px,#000084 914px,#000084 917px)"></i><i style="left:998px;top:224px;height:918px;background-image:linear-gradient(#ff0900,#fe0000 35px,#f50000 52px,#ef0000 66px,#d90000 96px,#d40000 99px,#ca0000 109px,#c50000 113px,#bf0000 123px,#bf0000 128px,#bd0000 134px,#be0000 139px,#bf0000 155px,#c00000 161px,#c00000 169px,#b80000 183px,#af0000 187px,#a00 190px,#a50000 192px,#9f0000 198px,#9f0000 209px,#a50000 218px,#b70000 241px,#f70100 295px,#fc0400 301px,#ff1900 320px,#ff7d00 394px,#ffcb00 447px,#fee301 466px,#f9e806 473px,#f2fd0d 491px,#c6ff39 523px,#10feef 652px,#0bfcf4 657px,#00e0ff 684px,#0073ff 757px,#002cfe 805px,#0003f9 835px,#0000a8 890px,#000084 914px,#000084 917px)"></i><i style="left:1000px;top:224px;height:918px;background-image:linear-gradient(#ff0900,#fe0000 34px,#f50000 52px,#ed0000 68px,#d90000 96px,#d30000 99px,#ca0000 108px,#c30000 114px,#bf0000 123px,#bf0000 128px,#bd0000 134px,#bd0000 139px,#be0000 144px,#bf0000 155px,#bf0000 161px,#bf0000 169px,#b80000 183px,#af0000 187px,#a00 190px,#a40000 193px,#9f0000 198px,#a00000 210px,#a60000 219px,#b70000 241px,#f10100 291px,#fc0500 302px,#ff1c00 322px,#ff7f00 396px,#ffce00 449px,#fde602 468px,#f6ea09 476px,#effd10 493px,#c4ff3b 525px,#18fee7 647px,#0afaf5 659px,#02e4fd 680px,#00d8ff 689px,#0070ff 759px,#0029fe 807px,#0003f9 836px,#00009e 897px,#000085 914px,#000085 917px)"></i><i style="left:1002px;top:224px;height:919px;background-image:linear-gradient(#ff0800,#fe0000 33px,#f50000 51px,#ed0000 67px,#d90000 95px,#d20000 100px,#ca0000 107px,#c30000 114px,#be0000 123px,#be0000 128px,#bc0000 134px,#bd0000 139px,#bd0000 144px,#bf0000 168px,#b80000 183px,#af0000 187px,#ad0000 189px,#a40000 193px,#9f0000 199px,#a10000 211px,#a70000 220px,#b90000 242px,#ed0100 288px,#fc0600 303px,#ff1f00 324px,#ff8200 398px,#ffd000 451px,#fde802 470px,#f3ec0c 479px,#eefd11 494px,#c2ff3d 526px,#8cff73 564px,#20fedf 642px,#09f8f6 661px,#05e8fa 675px,#00daff 688px,#004aff 785px,#0027fe 809px,#0002f8 837px,#00008a 911px,#000084 916px,#000084 918px)"></i><i style="left:1004px;top:224px;height:919px;background-image:linear-gradient(#ff0800,#fe0000 32px,#f50000 50px,#ed0000 66px,#d90000 94px,#d10000 100px,#cb0000 106px,#c20000 114px,#be0000 123px,#be0000 128px,#bc0000 134px,#bc0000 139px,#bd0000 145px,#bf0000 168px,#b80000 183px,#ae0000 187px,#ad0000 189px,#a30000 193px,#a20000 196px,#9f0000 199px,#a10000 211px,#a70000 221px,#ba0000 243px,#ee0100 289px,#fd0700 304px,#ff2000 325px,#ff8500 400px,#fed301 453px,#fcea03 472px,#f0ef0f 483px,#ebfd14 496px,#c0ff3f 528px,#8bff74 565px,#25feda 638px,#08f7f7 662px,#05e5fa 677px,#00d7ff 690px,#003dff 794px,#0022fd 813px,#0002f8 838px,#000084 915px,#000084 918px)"></i><i style="left:1006px;top:225px;height:918px;background-image:linear-gradient(#ff0800,#fe0000 30px,#f50000 48px,#e00 63px,#da0000 92px,#d00000 99px,#ca0000 105px,#c20000 113px,#bd0000 122px,#bd0000 127px,#b00 133px,#bc0000 138px,#bc0000 144px,#be0000 161px,#bd0000 169px,#b80000 182px,#ae0000 186px,#ab0000 189px,#a30000 192px,#a10000 196px,#9f0000 201px,#a30000 213px,#ba0000 242px,#ef0100 289px,#f50500 296px,#fd0800 304px,#f20 326px,#ff8900 402px,#fed601 454px,#fdec02 472px,#edf212 486px,#e9fe16 497px,#bdff42 529px,#8f7 566px,#22fedd 639px,#1cfae3 646px,#07f5f8 663px,#04e0fb 680px,#00d4ff 691px,#0027fe 808px,#0001f7 838px,#000085 914px,#000085 917px)"></i><i style="left:1008px;top:225px;height:919px;background-image:linear-gradient(#ff0700,#fe0000 29px,#f50000 47px,#e00 62px,#d90000 92px,#d00000 99px,#ca0000 105px,#c10000 113px,#bc0000 122px,#bc0000 128px,#ba0000 133px,#b00 138px,#bc0000 144px,#bc0000 151px,#be0000 162px,#bd0000 169px,#b80000 182px,#ae0000 187px,#ab0000 189px,#a40000 192px,#9f0000 200px,#a20000 212px,#ad0000 227px,#bf0000 246px,#f10100 290px,#f50600 297px,#fd0a00 306px,#ff2500 328px,#ff8a00 403px,#fed801 456px,#fcef03 474px,#eaf515 490px,#e6fe19 499px,#bcff43 530px,#87ff78 567px,#1ffee0 641px,#1af8e5 649px,#06f3f9 665px,#03dcfc 684px,#00d1ff 693px,#0028fe 808px,#0001f7 839px,#000084 915px,#000084 918px)"></i><i style="left:1010px;top:225px;height:919px;background-image:linear-gradient(#ff0700,#fe0000 29px,#f50000 46px,#e00 61px,#d90000 92px,#cf0000 99px,#c90000 105px,#c10000 112px,#bc0000 122px,#b00 128px,#ba0000 133px,#ba0000 138px,#b00 144px,#bd0000 157px,#bd0000 168px,#b70000 182px,#ad0000 187px,#a90000 190px,#a30000 193px,#a20000 196px,#9f0000 199px,#a20000 212px,#b80000 240px,#df0000 274px,#f20100 291px,#f60800 299px,#fd0b00 307px,#ff2700 330px,#ff8f00 406px,#fed901 457px,#fcf103 476px,#e7f818 494px,#e3fe1c 501px,#b6ff49 534px,#73ff8c 581px,#1cfee3 643px,#16f6e9 653px,#06f2f9 667px,#02d7fd 688px,#00caff 698px,#0027ff 809px,#0000f6 840px,#000087 913px,#000084 916px,#000084 918px)"></i><i style="left:1012px;top:225px;height:919px;background-image:linear-gradient(#ff0700,#fe0000 28px,#f50000 45px,#e00 60px,#d80000 92px,#cf0000 99px,#c80000 105px,#c20000 110px,#b00 122px,#b00 128px,#b90000 133px,#ba0000 138px,#b00 144px,#bc0000 151px,#bd0000 163px,#b70000 182px,#ad0000 187px,#a90000 190px,#a30000 193px,#a10000 197px,#9f0000 202px,#a30000 213px,#bc0000 243px,#df0000 274px,#f40000 292px,#f80900 302px,#fe0c00 308px,#ff2800 331px,#ff9100 408px,#fedc01 459px,#fbf404 478px,#e4fc1b 499px,#dfff20 504px,#adff52 540px,#19fee6 645px,#13f3ec 657px,#05f0fa 669px,#01d2fe 692px,#0064ff 767px,#0020fe 814px,#0000f5 841px,#000085 915px,#000085 918px)"></i><i style="left:1014px;top:225px;height:920px;background-image:linear-gradient(#ff0700,#fe0000 27px,#f50000 44px,#e00 59px,#d80000 92px,#cf0000 98px,#ca0000 104px,#c30000 108px,#ba0000 122px,#ba0000 128px,#b90000 133px,#b90000 138px,#ba0000 144px,#b00 151px,#bc0000 158px,#ba0000 172px,#b50000 183px,#ad0000 187px,#ab0000 189px,#a40000 193px,#9f0000 201px,#a40000 214px,#bd0000 244px,#df0000 274px,#f50100 294px,#fa0b00 305px,#fe0e00 310px,#ff2a00 332px,#ff9300 409px,#fedf01 461px,#fcf603 479px,#daff25 508px,#16fee9 647px,#0ff1f0 661px,#04eefb 671px,#00c2ff 703px,#0034ff 800px,#0019fc 820px,#0000f4 842px,#000084 916px,#000084 919px)"></i><i style="left:1016px;top:225px;height:920px;background-image:linear-gradient(#ff0600,#fe0000 26px,#f50000 43px,#e00 59px,#d70000 92px,#d00000 96px,#c90000 104px,#c20000 108px,#b90000 123px,#b90000 129px,#b90000 134px,#b90000 143px,#b00 151px,#b00 157px,#bc0000 164px,#b50000 183px,#ad0000 187px,#ac0000 189px,#a30000 194px,#a20000 197px,#9f0000 200px,#a30000 214px,#bd0000 244px,#e00000 275px,#f70100 295px,#fb0c00 307px,#fe1000 312px,#ff2e00 335px,#ff9500 411px,#fee101 463px,#fbf804 481px,#dbff24 507px,#3affc5 621px,#14feeb 649px,#0ceff3 665px,#03ecfc 673px,#0bf 708px,#0031ff 802px,#001cfd 818px,#0000f3 843px,#000084 916px,#000084 919px)"></i><i style="left:1018px;top:225px;height:920px;background-image:linear-gradient(#ff0600,#fe0000 25px,#f50000 42px,#e00 58px,#d60000 92px,#cf0000 96px,#c90000 104px,#c20000 107px,#b80000 123px,#b80000 129px,#b80000 134px,#b80000 143px,#b00 150px,#ba0000 156px,#bc0000 163px,#b50000 183px,#ac0000 188px,#a30000 194px,#a10000 198px,#a00000 202px,#a40000 215px,#bf0000 245px,#e10000 276px,#f80100 296px,#ff1300 315px,#ff3e00 346px,#ff8e00 406px,#fee401 465px,#fbfb04 483px,#e1ff1e 503px,#1fe 650px,#08edf7 669px,#02eafd 675px,#00b4ff 713px,#0030ff 803px,#0022fe 814px,#0000f2 844px,#000085 916px,#000085 919px)"></i><i style="left:1020px;top:226px;height:920px;background-image:linear-gradient(#ff0600,#fe0000 23px,#f50000 41px,#ed0000 58px,#d60000 91px,#cf0000 95px,#c80000 103px,#c20000 106px,#b80000 122px,#b80000 128px,#b80000 133px,#b80000 142px,#ba0000 149px,#ba0000 155px,#bc0000 162px,#b50000 181px,#ac0000 187px,#a30000 194px,#a00000 200px,#a40000 214px,#ba0000 239px,#e10000 275px,#fa0100 296px,#ff1600 316px,#ff9300 408px,#fee701 466px,#fafd05 484px,#e0ff1f 503px,#0efff1 651px,#05eafa 672px,#01e7fe 677px,#0029ff 807px,#0020fd 815px,#0000f0 845px,#000084 916px,#000084 919px)"></i><i style="left:1022px;top:226px;height:920px;background-image:linear-gradient(#ff0500,#fe0000 22px,#f50000 40px,#ed0000 56px,#d50000 91px,#ce0000 95px,#c70000 103px,#c10000 106px,#b70000 123px,#b60000 130px,#b70000 137px,#b80000 143px,#ba0000 149px,#b90000 155px,#b00 163px,#b60000 180px,#b10000 184px,#ac0000 187px,#a90000 190px,#a30000 194px,#a20000 197px,#a00000 200px,#a40000 215px,#ba0000 239px,#e20000 276px,#fb0000 297px,#ff1600 316px,#ff9100 407px,#fee901 468px,#faff05 485px,#a9ff56 542px,#0bfff4 653px,#00e3ff 680px,#002dff 804px,#001ffe 815px,#0016f7 826px,#00e 846px,#000084 916px,#000084 919px)"></i><i style="left:1024px;top:226px;height:920px;background-image:linear-gradient(#ff0500,#fe0000 22px,#f50000 39px,#ed0000 55px,#d50000 91px,#cd0000 95px,#c70000 103px,#c00000 106px,#b60000 123px,#b60000 129px,#b70000 142px,#b90000 149px,#b90000 155px,#b00 162px,#b50000 180px,#b10000 184px,#ab0000 187px,#a30000 195px,#a00000 201px,#a40000 215px,#ba0000 239px,#e50000 278px,#fd0100 299px,#ff1300 314px,#ff9300 408px,#feec01 470px,#f9fd06 485px,#ecff13 495px,#8f7 565px,#08fef7 655px,#00e6ff 678px,#002bff 806px,#001dfe 817px,#0013f5 829px,#0000ed 847px,#000085 916px,#000085 919px)"></i><i style="left:1026px;top:226px;height:921px;background-image:linear-gradient(#ff0500,#fe0000 21px,#f50000 38px,#ed0000 54px,#d40000 91px,#ce0000 94px,#c60000 103px,#c00000 106px,#b50000 123px,#b60000 129px,#b60000 142px,#b80000 149px,#b80000 155px,#ba0000 163px,#b50000 180px,#af0000 185px,#ab0000 188px,#a80000 191px,#a30000 195px,#a10000 202px,#a50000 216px,#ba0000 239px,#e70000 280px,#fe0100 300px,#ff3f00 346px,#ff9700 411px,#feef01 472px,#f5ff0a 489px,#85ff7a 567px,#05fefa 657px,#00ecff 674px,#0026ff 809px,#001bfe 818px,#0011f3 832px,#0000ec 848px,#000084 917px,#000084 920px)"></i><i style="left:1028px;top:226px;height:921px;background-image:linear-gradient(#ff0500,#fe0000 20px,#f50000 37px,#ed0000 53px,#d40000 91px,#cd0000 94px,#c50000 103px,#be0000 107px,#b50000 124px,#b50000 129px,#b50000 142px,#b80000 149px,#b70000 155px,#ba0000 163px,#b50000 180px,#af0000 185px,#ab0000 188px,#a70000 192px,#a30000 195px,#a10000 203px,#a50000 216px,#b50000 234px,#e60000 279px,#f00 300px,#ff9a00 413px,#feeb01 470px,#f2ff0d 491px,#83ff7c 569px,#02fefd 659px,#00edff 673px,#005cff 772px,#001bff 817px,#000df1 837px,#0000eb 849px,#000084 917px,#000084 920px)"></i><i style="left:1030px;top:226px;height:921px;background-image:linear-gradient(#ff0400,#fe0000 19px,#f50000 36px,#ed0000 52px,#d30000 91px,#cd0000 94px,#c20000 104px,#bd0000 108px,#b40000 124px,#b40000 129px,#b50000 142px,#b70000 149px,#b70000 155px,#b90000 163px,#b50000 180px,#a00 189px,#a60000 193px,#a10000 201px,#a60000 217px,#b60000 235px,#e70000 280px,#fe0100 300px,#ff0c00 309px,#ff9e00 416px,#fee801 468px,#ef1 494px,#81ff7e 570px,#01fefe 660px,#009bff 730px,#0029ff 807px,#0018fe 820px,#000aef 840px,#0000ea 850px,#000085 917px,#000085 920px)"></i><i style="left:1032px;top:226px;height:922px;background-image:linear-gradient(#ff0400,#fe0000 18px,#f50000 35px,#e00 50px,#d20000 91px,#c00 94px,#c20000 104px,#bd0000 108px,#b30000 124px,#b40000 129px,#b40000 142px,#b60000 150px,#b60000 155px,#b90000 163px,#b60000 179px,#a30000 195px,#a20000 205px,#a70000 219px,#b70000 236px,#e90000 281px,#fa0200 297px,#ff0600 304px,#ffa300 419px,#fee701 467px,#faea05 472px,#ebff14 496px,#06fef9 656px,#00fbff 663px,#0079ff 753px,#0028ff 808px,#0016fe 822px,#0007ed 844px,#0000e9 851px,#000084 918px,#000084 921px)"></i><i style="left:1034px;top:226px;height:922px;background-image:linear-gradient(#ff0400,#fe0000 17px,#f50000 34px,#e00 49px,#d20000 91px,#cb0000 94px,#c20000 103px,#bc0000 108px,#b30000 124px,#b30000 129px,#b40000 142px,#b60000 150px,#b60000 155px,#b80000 163px,#b50000 179px,#a90000 190px,#a30000 196px,#a20000 205px,#a90000 221px,#b70000 237px,#e90000 281px,#f70200 294px,#ff0800 306px,#ffa600 421px,#fde002 463px,#fbec04 472px,#f2f00d 481px,#e9ff16 497px,#0cfef3 652px,#00f8ff 665px,#0075ff 756px,#0027ff 809px,#0014fe 823px,#0004ea 848px,#0000e6 853px,#000084 918px,#000084 921px)"></i><i style="left:1036px;top:227px;height:921px;background-image:linear-gradient(#ff0300,#fe0000 15px,#f50000 32px,#e00 48px,#d10000 90px,#cb0000 93px,#c20000 101px,#b00 108px,#b20000 123px,#b30000 128px,#b30000 141px,#b50000 149px,#b50000 154px,#b70000 162px,#b70000 167px,#b50000 179px,#a00 188px,#a30000 196px,#a30000 206px,#ac0000 223px,#b80000 237px,#e90000 280px,#f40200 291px,#ff0a00 306px,#ffa900 422px,#fdd702 456px,#faed05 473px,#eff110 483px,#e6ff19 498px,#14feeb 646px,#00f5ff 666px,#0072ff 757px,#0024ff 810px,#0013fe 823px,#0000e5 853px,#000085 917px,#000085 920px)"></i><i style="left:1038px;top:227px;height:922px;background-image:linear-gradient(#ff0300,#fe0000 15px,#f50000 32px,#ec0000 49px,#d00000 90px,#ca0000 93px,#c30000 100px,#b00 107px,#b20000 123px,#b20000 128px,#b30000 141px,#b50000 149px,#b40000 154px,#b70000 162px,#b70000 167px,#b40000 179px,#af0000 183px,#a30000 196px,#a30000 207px,#ad0000 225px,#b80000 237px,#e80000 279px,#f50300 292px,#ff0b00 307px,#ffa900 422px,#fed001 451px,#f9ef06 475px,#ebf314 487px,#e3ff1c 500px,#adff52 538px,#17fee8 644px,#00f2ff 668px,#006fff 759px,#0023ff 811px,#0010fe 825px,#0000e6 853px,#000084 918px,#000084 921px)"></i><i style="left:1040px;top:227px;height:922px;background-image:linear-gradient(#ff0300,#fe0000 14px,#f50000 31px,#ed0000 47px,#d00000 90px,#ca0000 93px,#c20000 100px,#ba0000 107px,#b10000 123px,#b20000 128px,#b20000 141px,#b40000 149px,#b40000 155px,#b60000 162px,#b60000 167px,#b50000 175px,#b30000 180px,#af0000 183px,#a40000 196px,#a30000 207px,#af0000 227px,#b80000 237px,#f00100 287px,#f60300 293px,#f90900 300px,#ff0e00 309px,#ffa300 418px,#fed301 453px,#fae405 467px,#f8f107 477px,#e6f619 492px,#dfff20 503px,#af5 540px,#1bfee4 641px,#15fcea 647px,#0df6f2 656px,#00efff 670px,#006bff 762px,#0020ff 813px,#000ffe 826px,#0000e6 853px,#000084 918px,#000084 921px)"></i><i style="left:1042px;top:227px;height:922px;background-image:linear-gradient(#ff0200,#fe0000 13px,#f50000 30px,#ed0000 46px,#cf0000 90px,#c90000 93px,#c20000 100px,#ba0000 107px,#b10000 123px,#b10000 128px,#b10000 141px,#b40000 149px,#b40000 156px,#b60000 162px,#b50000 167px,#b50000 174px,#b30000 180px,#ab0000 188px,#a30000 198px,#a50000 209px,#b10000 230px,#e30000 275px,#f60400 294px,#f90b00 302px,#ff0f00 310px,#ff9f00 415px,#fed601 455px,#f9e306 467px,#f7f308 479px,#e2f81d 496px,#dcff23 505px,#a9ff56 541px,#21fede 637px,#13fbec 649px,#0ef3f1 657px,#00ecff 672px,#0068ff 764px,#001dff 815px,#000dfe 827px,#0000e3 855px,#000085 918px,#000085 921px)"></i><i style="left:1044px;top:227px;height:923px;background-image:linear-gradient(#ff0200,#fe0000 12px,#f50000 29px,#ed0000 45px,#cf0000 90px,#c80000 93px,#c10000 100px,#ba0000 106px,#b00000 123px,#b00000 128px,#b10000 141px,#b30000 149px,#b30000 156px,#b50000 162px,#b50000 167px,#b60000 173px,#b30000 180px,#ae0000 185px,#a70000 191px,#a30000 201px,#a70000 214px,#b30000 233px,#e40000 276px,#f70400 295px,#fa0d00 304px,#ff1200 312px,#ff9500 408px,#fed901 457px,#f8e607 470px,#f5f40a 481px,#defa21 500px,#d9ff26 507px,#a5ff5a 544px,#2afed5 631px,#11f9ee 651px,#0df0f2 660px,#00e9ff 674px,#0067ff 765px,#001aff 817px,#000cfe 828px,#0000df 858px,#000084 919px,#000084 922px)"></i><i style="left:1046px;top:227px;height:923px;background-image:linear-gradient(#ff0200,#fe0000 11px,#f50000 28px,#e00 43px,#cf0000 89px,#c70000 94px,#c00000 100px,#ba0000 105px,#af0000 123px,#b00000 128px,#b00000 141px,#b30000 150px,#b30000 157px,#b50000 162px,#b40000 167px,#b50000 174px,#b10000 181px,#a00 189px,#a70000 192px,#a30000 202px,#a90000 216px,#b30000 232px,#e40000 276px,#ec0100 283px,#f80700 298px,#fb1000 307px,#ff1500 314px,#ff8700 398px,#fedc01 459px,#f7e908 473px,#f4f60b 483px,#dafc25 504px,#d5ff2a 510px,#9eff61 549px,#2bfed4 630px,#0ff8f0 653px,#0becf4 664px,#00e6ff 676px,#0068ff 764px,#0019ff 818px,#000bfd 829px,#00d 859px,#000084 919px,#000084 922px)"></i><i style="left:1048px;top:227px;height:923px;background-image:linear-gradient(#ff0200,#fd0000 11px,#ed0000 43px,#ce0000 89px,#c60000 94px,#c00000 100px,#ba0000 104px,#ae0000 122px,#b00000 127px,#af0000 132px,#b00000 142px,#b20000 150px,#b30000 157px,#b40000 162px,#b40000 168px,#b50000 174px,#b20000 181px,#a90000 190px,#a50000 197px,#a30000 203px,#a00 217px,#b30000 232px,#e20000 275px,#ed0100 284px,#f40500 293px,#f90700 299px,#fc1300 310px,#ff1800 316px,#ff8700 398px,#fede01 461px,#f5ee0a 477px,#f3f80c 485px,#ceff31 515px,#35ffca 622px,#28fed7 632px,#1ffbe0 641px,#0ef7f1 655px,#09e8f6 668px,#00e4ff 678px,#006cff 762px,#001bff 817px,#000afd 830px,#0000dc 860px,#000085 919px,#000085 922px)"></i><i style="left:1050px;top:227px;height:924px;background-image:linear-gradient(#ff0100,#fd0000 10px,#ed0000 43px,#ce0000 89px,#c70000 93px,#c10000 99px,#ba0000 103px,#ae0000 122px,#af0000 127px,#af0000 132px,#af0000 142px,#b20000 151px,#b30000 158px,#b30000 164px,#b40000 175px,#b10000 182px,#a70000 192px,#a50000 198px,#a30000 203px,#ab0000 218px,#b50000 234px,#e50000 277px,#ef0100 286px,#f50600 295px,#fa0900 301px,#fd1600 313px,#ff1d00 320px,#ff8500 397px,#ffe000 462px,#f3f30c 482px,#f1fa0e 488px,#cbff34 517px,#38ffc7 620px,#25feda 634px,#1cf9e3 644px,#0cf6f3 657px,#07e5f8 672px,#00e1ff 680px,#0076ff 755px,#0021fe 813px,#0009fb 832px,#0004e8 849px,#0000d9 862px,#000084 920px,#000084 923px)"></i><i style="left:1052px;top:227px;height:924px;background-image:linear-gradient(#ff0100,#fe0000 9px,#ed0000 42px,#cd0000 89px,#c60000 93px,#c10000 99px,#ba0000 102px,#ad0000 122px,#af0000 127px,#ae0000 132px,#af0000 142px,#b20000 151px,#b20000 158px,#b20000 165px,#b40000 174px,#b10000 182px,#a70000 192px,#a60000 198px,#a40000 203px,#ab0000 218px,#b80000 237px,#e70000 279px,#f10100 287px,#f60700 296px,#fb0900 302px,#ff2000 322px,#ff8500 397px,#ffe300 464px,#f2f80d 486px,#eefc11 491px,#cfff30 514px,#4fb 612px,#21fede 636px,#19f8e6 647px,#0af5f5 659px,#04e1fb 677px,#00dcff 683px,#0080ff 748px,#0025fe 810px,#0009fb 833px,#0004e7 849px,#0000d7 863px,#000084 920px,#000084 923px)"></i><i style="left:1054px;top:227px;height:924px;background-image:linear-gradient(#ff0100,#fd0000 9px,#ed0000 41px,#cd0000 89px,#c50000 93px,#c00000 99px,#ba0000 102px,#ad0000 122px,#ae0000 127px,#ae0000 132px,#ae0000 142px,#b10000 152px,#b20000 159px,#b30000 176px,#b00000 183px,#a70000 193px,#a60000 199px,#a40000 203px,#ab0000 219px,#ba0000 239px,#eb0000 282px,#f30100 289px,#f80800 299px,#fc0b00 304px,#ff2700 327px,#ff8500 397px,#ffe600 466px,#eefd11 492px,#c1ff3e 524px,#2fffd0 626px,#1efee1 639px,#15f6ea 651px,#09f4f6 661px,#02ddfd 681px,#00d7ff 687px,#0089ff 742px,#0027fe 809px,#0008fa 834px,#0004e5 851px,#0000d6 864px,#000085 920px,#000085 923px)"></i><i style="left:1056px;top:228px;height:924px;background-image:linear-gradient(#f00,#fd0000 8px,#f50000 24px,#ea0000 43px,#c00 88px,#c50000 92px,#c00000 98px,#b90000 101px,#ac0000 121px,#ad0000 126px,#ad0000 131px,#ae0000 141px,#b10000 151px,#b10000 158px,#b20000 164px,#b40000 171px,#b00000 182px,#ab0000 187px,#a70000 193px,#a50000 199px,#a50000 203px,#ac0000 219px,#bc0000 240px,#e00 283px,#f50200 290px,#fb0900 301px,#fe1100 309px,#ff5600 362px,#ff9b00 411px,#feea01 468px,#edff12 493px,#b4ff4b 532px,#25ffda 632px,#1bfee4 640px,#10f5ef 654px,#07f3f8 662px,#00d2ff 689px,#0087ff 742px,#0026fe 809px,#000afa 831px,#0007f8 835px,#0003e0 854px,#0000d3 865px,#000084 920px,#000084 923px)"></i><i style="left:1058px;top:228px;height:924px;background-image:linear-gradient(#f00,#fc0000 8px,#f40000 24px,#e30000 54px,#ca0000 89px,#c40000 92px,#bf0000 98px,#b90000 101px,#ab0000 121px,#ad0000 126px,#ac0000 131px,#ad0000 141px,#b00000 152px,#b10000 158px,#b20000 164px,#b20000 170px,#b20000 177px,#af0000 183px,#a70000 192px,#a60000 199px,#a60000 204px,#ac0000 219px,#be0000 242px,#f60100 290px,#fe0e00 307px,#ff6700 374px,#ff9d00 413px,#feed01 470px,#effe10 491px,#a5ff5a 543px,#17fee8 642px,#0bf3f4 659px,#05f1fa 665px,#00d1ff 690px,#0083ff 745px,#0024fe 811px,#0013fa 825px,#0006f8 836px,#0002dd 857px,#0000cf 868px,#000084 920px,#000084 923px)"></i><i style="left:1060px;top:228px;height:924px;background-image:linear-gradient(#f00,#fb0000 8px,#e00 36px,#cb0000 88px,#c40000 92px,#bc0000 99px,#b60000 103px,#ab0000 121px,#ac0000 126px,#ac0000 131px,#ac0000 141px,#b00000 152px,#b00000 158px,#b10000 164px,#b20000 170px,#b20000 176px,#af0000 183px,#ab0000 187px,#a00 190px,#a70000 193px,#a60000 204px,#ad0000 220px,#c10000 244px,#f80100 292px,#ff0f00 309px,#ff9000 404px,#ffef00 471px,#f4fa0b 486px,#e4ff1b 499px,#acff53 538px,#2fd 634px,#14feeb 644px,#07f2f8 663px,#03eefc 668px,#00d2ff 689px,#0082ff 746px,#0022fe 812px,#0011f9 827px,#0005f7 837px,#0000cd 869px,#000085 920px,#000085 923px)"></i><i style="left:1062px;top:228px;height:925px;background-image:linear-gradient(#fe0000,#fb0000 8px,#e00 34px,#ca0000 88px,#c30000 92px,#b00 99px,#b60000 103px,#a00 121px,#ac0000 126px,#ab0000 131px,#ac0000 142px,#b00000 153px,#b00000 158px,#b10000 164px,#b20000 171px,#b20000 176px,#b00000 183px,#ab0000 187px,#a70000 195px,#a70000 205px,#ae0000 221px,#c20000 245px,#f90100 293px,#ff0f00 309px,#ff9600 408px,#fff200 473px,#e9fe16 495px,#c9ff36 517px,#23ffdc 633px,#11feee 646px,#01edfe 670px,#007fff 748px,#0020fe 814px,#000ef8 830px,#0004f7 838px,#0000c9 872px,#000084 921px,#000084 924px)"></i><i style="left:1064px;top:228px;height:925px;background-image:linear-gradient(#fd0000,#fa0000 8px,#ef0000 33px,#ca0000 87px,#c60000 90px,#c10000 93px,#b00 99px,#b50000 103px,#a00 121px,#ab0000 126px,#ab0000 131px,#ac0000 142px,#af0000 153px,#b00000 159px,#b10000 171px,#b20000 176px,#ae0000 184px,#a70000 194px,#a80000 207px,#af0000 222px,#c40000 247px,#f80000 291px,#fc0300 297px,#ff0f00 309px,#ff9600 408px,#fff000 472px,#f9f506 479px,#dfff20 503px,#a6ff59 542px,#1dffe2 637px,#0efef1 648px,#00edff 671px,#0079ff 752px,#001ffe 815px,#000bf7 833px,#0003f5 840px,#0000bf 879px,#000084 921px,#000084 924px)"></i><i style="left:1066px;top:228px;height:925px;background-image:linear-gradient(#fd0000,#fa0000 8px,#ef0000 32px,#ca0000 87px,#c50000 90px,#c10000 93px,#b50000 103px,#a90000 121px,#ab0000 126px,#a00 131px,#ac0000 143px,#b10000 160px,#b00000 170px,#b20000 175px,#af0000 184px,#a70000 194px,#a80000 207px,#b00000 223px,#c50000 248px,#fd0100 296px,#ff0f00 309px,#ff9400 407px,#feeb01 468px,#faf405 478px,#dcff23 505px,#a4ff5b 543px,#1bffe4 639px,#0bfef4 650px,#01f0fe 668px,#007aff 752px,#001fff 815px,#0007f6 837px,#0002f4 841px,#0000b6 886px,#000085 921px,#000085 924px)"></i><i style="left:1068px;top:228px;height:926px;background-image:linear-gradient(#fc0000,#f90000 8px,#ef0000 31px,#c90000 87px,#c50000 90px,#c00000 93px,#b40000 103px,#a80000 121px,#a00 126px,#a00 131px,#ab0000 144px,#b10000 162px,#b00000 171px,#b10000 176px,#ae0000 185px,#ab0000 189px,#a70000 195px,#a90000 209px,#b10000 224px,#c70000 249px,#ff0100 297px,#ff2100 322px,#ff7200 382px,#ffb400 429px,#fee501 464px,#f8f507 480px,#e3fc1c 499px,#d6ff29 509px,#a0ff5f 546px,#15ffea 643px,#07fef8 653px,#02f3fd 665px,#00dcff 683px,#0075ff 755px,#03f 801px,#001afe 819px,#0003f5 840px,#0001ee 846px,#000084 922px,#000084 925px)"></i><i style="left:1070px;top:228px;height:926px;background-image:linear-gradient(#fc0000,#f90000 8px,#ef0000 29px,#c90000 87px,#c40000 90px,#c00000 93px,#b30000 103px,#a80000 121px,#a90000 126px,#a90000 131px,#ab0000 145px,#ae0000 155px,#b00000 163px,#b00000 171px,#b10000 176px,#ad0000 186px,#a80000 193px,#a00 209px,#b20000 225px,#c80000 250px,#fe0100 297px,#f20 323px,#ff7300 383px,#ffb700 431px,#fede01 459px,#f4f60b 483px,#e2fb1d 499px,#d3ff2c 511px,#9eff61 547px,#12ffed 645px,#04fefb 655px,#0df 682px,#0070ff 759px,#0032ff 802px,#0019fe 820px,#0001f2 844px,#000084 922px,#000084 925px)"></i><i style="left:1072px;top:228px;height:926px;background-image:linear-gradient(#fb0000,#f10000 25px,#c80000 87px,#c30000 90px,#bf0000 93px,#b30000 103px,#a70000 121px,#a90000 126px,#a80000 131px,#a90000 138px,#ab0000 146px,#b00000 163px,#af0000 171px,#b10000 176px,#ad0000 186px,#a90000 193px,#a80000 199px,#ab0000 212px,#b30000 226px,#c90000 251px,#fb0100 294px,#ff0600 301px,#ff2c00 330px,#ff7500 384px,#ffba00 433px,#fede01 459px,#f6ed09 475px,#f2f70d 485px,#dffb20 501px,#d0ff2f 513px,#9bff64 549px,#05fefa 654px,#0df 682px,#006dff 761px,#0031ff 802px,#0017fe 822px,#0000f1 845px,#000085 922px,#000085 925px)"></i><i style="left:1074px;top:228px;height:927px;background-image:linear-gradient(#fb0000,#f10000 24px,#c80000 87px,#c30000 90px,#be0000 93px,#b20000 103px,#a70000 121px,#a80000 126px,#a80000 132px,#a00 146px,#b00000 163px,#af0000 171px,#b10000 176px,#a00 192px,#a80000 195px,#ad0000 214px,#b40000 227px,#c00 253px,#f70100 291px,#ff0800 303px,#ff2f00 332px,#ff7900 387px,#fedd01 458px,#fae205 464px,#f2f40d 483px,#edf812 489px,#dafc25 505px,#cf3 516px,#97ff68 552px,#0dfef2 649px,#03f9fc 659px,#00d5ff 688px,#006cff 762px,#0030ff 803px,#0015fe 823px,#0000f1 845px,#000084 923px,#000084 926px)"></i><i style="left:1076px;top:228px;height:927px;background-image:linear-gradient(#fa0000,#f10000 24px,#c70000 87px,#c20000 90px,#be0000 93px,#b20000 103px,#a60000 121px,#a80000 126px,#a80000 132px,#a90000 139px,#a00 146px,#b00000 163px,#af0000 171px,#b00000 176px,#ab0000 192px,#a80000 196px,#ad0000 214px,#b50000 228px,#cf0000 255px,#f30000 288px,#ff0a00 304px,#ff3000 333px,#ff7d00 390px,#ffc000 437px,#fce303 464px,#f4e80b 473px,#edf912 489px,#d5fd2a 509px,#c6ff39 520px,#91ff6e 556px,#28ffd7 630px,#12fded 646px,#03f6fc 661px,#00cfff 692px,#006eff 761px,#0030ff 803px,#0013fe 825px,#0000ef 847px,#000084 923px,#000084 926px)"></i><i style="left:1078px;top:228px;height:927px;background-image:linear-gradient(#fa0000,#f00000 24px,#c60000 87px,#c10000 90px,#ba0000 96px,#b30000 101px,#a60000 121px,#a70000 127px,#a80000 134px,#a90000 145px,#af0000 164px,#ae0000 171px,#b00000 176px,#a00 193px,#a80000 197px,#ae0000 215px,#b60000 229px,#d00000 256px,#f20100 286px,#ff0d00 306px,#f30 335px,#ff8200 393px,#ffc100 438px,#fbe604 466px,#f0ec0f 478px,#eafa15 492px,#d0fe2f 513px,#b1ff4e 534px,#27ffd8 630px,#19fde6 642px,#03f3fc 663px,#00c9ff 696px,#006eff 761px,#002dff 805px,#0013fe 825px,#0000ec 849px,#000085 923px,#000085 926px)"></i><i style="left:1080px;top:229px;height:927px;background-image:linear-gradient(#f90000,#f00000 22px,#c60000 86px,#c10000 89px,#b90000 95px,#b30000 99px,#a50000 120px,#a70000 126px,#a70000 133px,#a90000 144px,#af0000 163px,#af0000 171px,#b00000 176px,#a90000 197px,#af0000 215px,#b70000 229px,#d30000 257px,#f00100 283px,#f50500 292px,#ff0f00 307px,#ff3600 336px,#ff8600 395px,#ffc100 437px,#f9e906 468px,#edef12 481px,#e8fb17 493px,#c1ff3e 523px,#8aff75 560px,#24ffdb 631px,#19fbe6 642px,#03f1fc 664px,#00c3ff 699px,#0063ff 768px,#002aff 806px,#0013fd 825px,#0000eb 849px,#000084 923px,#000084 926px)"></i><i style="left:1082px;top:229px;height:927px;background-image:linear-gradient(#f80000,#f10000 21px,#c60000 85px,#c30000 88px,#bd0000 91px,#b90000 95px,#b30000 98px,#a40000 120px,#a60000 127px,#a70000 134px,#a80000 144px,#af0000 163px,#ae0000 171px,#af0000 176px,#a90000 197px,#af0000 215px,#b80000 230px,#d50000 259px,#ee0100 281px,#f60600 293px,#ff1200 309px,#ff3800 338px,#ff8a00 398px,#ffc100 437px,#fdd002 448px,#f9eb06 470px,#e9f216 486px,#e4fb1b 496px,#beff41 525px,#85ff7a 563px,#28ffd7 628px,#17fae8 644px,#11f5ee 652px,#02eefd 666px,#0bf 705px,#0052ff 779px,#0026ff 809px,#0011fd 826px,#000af4 837px,#0000ea 850px,#000084 923px,#000084 926px)"></i><i style="left:1084px;top:229px;height:927px;background-image:linear-gradient(#f80000,#f10000 20px,#c50000 85px,#c20000 88px,#bc0000 91px,#b80000 95px,#b20000 98px,#a40000 120px,#a60000 127px,#a70000 134px,#a80000 144px,#ae0000 164px,#ae0000 171px,#af0000 176px,#a90000 198px,#b00000 216px,#b90000 231px,#d70000 260px,#ed0100 280px,#f70800 295px,#ff1500 311px,#ff3a00 339px,#ffae00 424px,#fed201 449px,#fae405 464px,#f7ee08 473px,#e6f519 490px,#e2fc1d 498px,#b9ff46 528px,#80ff7f 567px,#2bfed4 626px,#15f9ea 646px,#11f2ee 654px,#02eafd 669px,#00b2ff 711px,#004dff 783px,#0025ff 810px,#0010fc 828px,#000bf4 837px,#0000e9 851px,#00008a 919px,#000085 924px,#000085 926px)"></i><i style="left:1086px;top:229px;height:928px;background-image:linear-gradient(#f70000,#f10000 19px,#c50000 85px,#c20000 88px,#bc0000 91px,#b70000 95px,#b20000 98px,#a30000 120px,#a50000 128px,#a60000 135px,#a80000 144px,#ae0000 164px,#ad0000 171px,#af0000 176px,#a00 195px,#af0000 215px,#ba0000 232px,#d80000 261px,#ee0200 281px,#f80a00 297px,#fc1200 306px,#ff1700 313px,#ff3b00 340px,#ffaf00 425px,#fed601 452px,#f9e706 467px,#f7f108 475px,#e2f91d 495px,#defd21 501px,#b5ff4a 531px,#7aff85 571px,#2cfed3 625px,#13f8ec 648px,#0feef0 658px,#02e8fd 671px,#009fff 725px,#0047ff 787px,#0026fe 809px,#000efc 829px,#000af2 839px,#0000e7 853px,#00009a 908px,#000084 924px,#000084 927px)"></i><i style="left:1088px;top:229px;height:928px;background-image:linear-gradient(#f70000,#f10000 18px,#c40000 85px,#be0000 89px,#b70000 95px,#b10000 98px,#a30000 120px,#a50000 128px,#a60000 135px,#a90000 153px,#ad0000 165px,#ad0000 171px,#af0000 176px,#a00 199px,#b00000 217px,#ba0000 232px,#d70000 260px,#ee0200 281px,#f90b00 298px,#fc1400 308px,#ff1900 314px,#ff3b00 340px,#ffae00 424px,#fed901 454px,#f8eb07 470px,#f5f30a 478px,#dffd20 500px,#c2ff3d 522px,#70ff8f 578px,#29fed6 627px,#1ffae0 637px,#11f6ee 651px,#0beaf4 663px,#01e5fe 673px,#0083ff 745px,#0041ff 791px,#0025fe 810px,#000dfc 830px,#0009ef 842px,#0000e5 854px,#0000a8 898px,#000084 924px,#000084 927px)"></i><i style="left:1090px;top:229px;height:928px;background-image:linear-gradient(#f60000,#f10000 17px,#c40000 85px,#ba0000 92px,#b60000 95px,#b10000 98px,#a30000 119px,#a70000 144px,#a80000 149px,#ad0000 166px,#ad0000 172px,#ae0000 178px,#a00 200px,#b10000 218px,#b00 233px,#d70000 260px,#eb0200 278px,#f20600 287px,#fa0c00 300px,#ff1e00 318px,#ff3f00 343px,#ff9c00 411px,#fedd01 456px,#f5f60a 480px,#d6ff29 508px,#26fed9 629px,#1ff9e0 638px,#0ff5f0 653px,#09e6f6 667px,#01e1fe 676px,#0043ff 790px,#0024fe 811px,#000bfb 832px,#0007eb 846px,#0000e4 855px,#0000ab 896px,#000085 924px,#000085 927px)"></i><i style="left:1092px;top:229px;height:929px;background-image:linear-gradient(#f60000,#f10000 16px,#c30000 85px,#b90000 92px,#b50000 95px,#b00000 98px,#a30000 119px,#a70000 144px,#a80000 149px,#ad0000 166px,#ad0000 172px,#ae0000 177px,#ab0000 200px,#b20000 219px,#be0000 235px,#d40000 257px,#e70100 274px,#f30600 288px,#fb0e00 302px,#f20 321px,#ff9500 406px,#ffd800 452px,#fce403 462px,#f4f80b 482px,#dbff24 504px,#22fedd 632px,#1bf7e4 642px,#0df3f2 655px,#07e3f8 671px,#01dffe 678px,#003aff 796px,#0022fe 813px,#000afb 833px,#0005e9 849px,#0000e2 857px,#0000ad 895px,#000084 925px,#000084 928px)"></i><i style="left:1094px;top:229px;height:929px;background-image:linear-gradient(#f60000,#f10000 15px,#c20000 85px,#b90000 92px,#b50000 95px,#af0000 98px,#a30000 118px,#a30000 124px,#a40000 131px,#a70000 145px,#a90000 155px,#ac0000 167px,#ad0000 173px,#ad0000 179px,#ab0000 201px,#b30000 220px,#c10000 238px,#d60000 258px,#e90100 275px,#f40700 290px,#fc1000 304px,#ff2600 324px,#ff9700 407px,#ffdb00 454px,#fce703 464px,#f2fb0d 485px,#dfff20 501px,#1efee1 634px,#17f5e8 646px,#0bf1f4 658px,#05dffa 675px,#01dbfe 681px,#0036ff 799px,#0020fe 814px,#0009f9 835px,#0004e6 852px,#0000e1 858px,#00a 897px,#000084 925px,#000084 928px)"></i><i style="left:1096px;top:229px;height:929px;background-image:linear-gradient(#f60000,#f00000 15px,#c20000 85px,#b80000 92px,#b40000 95px,#af0000 98px,#a30000 117px,#a20000 124px,#a30000 131px,#a70000 146px,#a80000 154px,#ac0000 167px,#ad0000 173px,#ad0000 178px,#ab0000 200px,#b40000 221px,#c40000 241px,#d70000 259px,#ea0100 276px,#f00500 284px,#f60800 292px,#fc1200 306px,#ff2e00 330px,#ff9a00 409px,#ffde00 456px,#fdea02 466px,#f2fe0d 487px,#8dff72 558px,#1bffe4 636px,#13f3ec 650px,#09f0f6 660px,#00d4ff 686px,#004aff 785px,#001efe 816px,#0007f9 836px,#0001e3 856px,#0000d1 869px,#000085 925px,#000085 928px)"></i><i style="left:1098px;top:229px;height:930px;background-image:linear-gradient(#f50000,#f10000 14px,#c10000 85px,#b70000 92px,#b40000 95px,#ae0000 98px,#a20000 117px,#a30000 135px,#a70000 149px,#a80000 155px,#ab0000 169px,#ad0000 178px,#ab0000 200px,#b40000 222px,#cd0000 250px,#ed0100 278px,#f20600 286px,#f80900 294px,#fd1400 308px,#ff3e00 342px,#ffa300 415px,#ffe100 458px,#fded02 468px,#f3ff0c 487px,#2cffd3 624px,#17fee8 639px,#0ef1f1 655px,#07eef8 663px,#00d3ff 687px,#004aff 785px,#001cfe 818px,#0006f8 838px,#0000d9 864px,#000084 926px,#000084 929px)"></i><i style="left:1100px;top:229px;height:930px;background-image:linear-gradient(#f50000,#f10000 13px,#c10000 85px,#b70000 92px,#b30000 95px,#ae0000 98px,#a10000 117px,#a20000 133px,#ab0000 168px,#ad0000 179px,#ac0000 202px,#b40000 222px,#bf0000 234px,#d70000 259px,#e00 279px,#f40700 288px,#f90b00 296px,#fe1500 310px,#ff4900 350px,#ffaf00 424px,#feee01 468px,#f5fc0a 483px,#e9ff16 494px,#14feeb 641px,#0af0f5 659px,#05edfa 665px,#00d5ff 685px,#0048ff 786px,#0019fe 820px,#0004f8 839px,#0000d6 866px,#000084 926px,#000084 929px)"></i><i style="left:1102px;top:229px;height:930px;background-image:linear-gradient(#f50000,#f10000 12px,#c00000 85px,#b70000 91px,#b20000 95px,#ad0000 98px,#a10000 117px,#a30000 139px,#a70000 150px,#ad0000 178px,#ac0000 201px,#b50000 223px,#d70000 259px,#f10100 281px,#f70800 291px,#fc0f00 302px,#ff1800 312px,#ff5100 355px,#ffcd00 445px,#fef101 470px,#f5fa0a 482px,#e6ff19 496px,#1fe 643px,#05eefa 664px,#00e0ff 677px,#0048ff 786px,#0020ff 815px,#0003f8 840px,#0000db 863px,#000085 926px,#000085 929px)"></i><i style="left:1104px;top:229px;height:931px;background-image:linear-gradient(#f50000,#f10000 11px,#bf0000 85px,#b70000 90px,#b20000 95px,#ac0000 98px,#a00000 117px,#a30000 139px,#a90000 159px,#ac0000 178px,#ac0000 201px,#b50000 223px,#d80000 260px,#f30100 283px,#fa0900 294px,#ff1500 310px,#ff5200 356px,#ffd400 450px,#fef301 471px,#e3ff1c 498px,#15ffea 640px,#0dfdf2 647px,#00e7ff 672px,#0048ff 786px,#0015fe 823px,#0001f7 842px,#000084 927px,#000084 930px)"></i><i style="left:1106px;top:229px;height:931px;background-image:linear-gradient(#f40000,#f10000 10px,#bf0000 85px,#b80000 89px,#b10000 95px,#ac0000 98px,#a00000 117px,#a10000 134px,#a00 166px,#ac0000 179px,#ad0000 201px,#b60000 224px,#db0000 262px,#f50100 284px,#ff1000 305px,#ff4e00 353px,#ffdc00 455px,#fdf102 470px,#f4f60b 480px,#deff21 501px,#16ffe9 639px,#09fef6 649px,#00ebff 669px,#0048ff 786px,#0014fe 824px,#0000f7 843px,#000084 927px,#000084 930px)"></i><i style="left:1108px;top:229px;height:931px;background-image:linear-gradient(#f40000,#f00000 10px,#be0000 85px,#b80000 88px,#b00000 95px,#ab0000 98px,#9f0000 117px,#a20000 141px,#ab0000 173px,#ac0000 200px,#b70000 225px,#d00 264px,#f70100 286px,#ff1000 304px,#ff4800 349px,#fee801 464px,#f7f508 477px,#daff25 504px,#14ffeb 641px,#06fef9 651px,#00efff 666px,#0043ff 789px,#0011fe 826px,#0000f5 844px,#000085 927px,#000085 930px)"></i><i style="left:1110px;top:229px;height:932px;background-image:linear-gradient(#f40000,#f00000 9px,#be0000 85px,#b70000 88px,#b00000 95px,#ab0000 98px,#9e0000 117px,#9f0000 123px,#a10000 134px,#a20000 142px,#a70000 157px,#a90000 166px,#ab0000 174px,#ac0000 199px,#b80000 225px,#e00000 266px,#f90100 287px,#ff0f00 303px,#ff3000 330px,#ff5c00 363px,#fee101 459px,#f5f60a 479px,#e4fb1b 494px,#d6ff29 507px,#0ffff0 644px,#03fefc 653px,#00f2ff 664px,#003fff 792px,#000ffe 828px,#0000f3 846px,#000084 928px,#000084 931px)"></i><i style="left:1112px;top:229px;height:932px;background-image:linear-gradient(#f30000,#f10000 8px,#bd0000 85px,#b70000 88px,#b10000 94px,#a00 98px,#9e0000 117px,#9f0000 122px,#9f0000 128px,#a00000 135px,#a10000 141px,#ab0000 174px,#ad0000 199px,#b90000 226px,#e30000 268px,#fb0100 289px,#ff0d00 301px,#ff3600 334px,#ff5e00 364px,#ffb200 425px,#fedc01 456px,#f2f70d 482px,#e0fb1f 497px,#d3ff2c 509px,#0dfff2 646px,#00feff 655px,#007dff 747px,#000ffe 828px,#0000f0 848px,#000084 928px,#000084 931px)"></i><i style="left:1114px;top:229px;height:932px;background-image:linear-gradient(#f30000,#f00000 8px,#bd0000 85px,#b60000 88px,#b10000 94px,#a00 97px,#9d0000 117px,#9e0000 122px,#9e0000 127px,#a00000 135px,#a10000 141px,#a70000 162px,#ab0000 175px,#ad0000 198px,#b90000 226px,#e30000 268px,#fd0100 291px,#ff0f00 302px,#ff5400 357px,#ffb100 424px,#fddc02 456px,#f5eb0a 472px,#f0f70f 484px,#dcfb23 500px,#ceff31 512px,#06fef9 651px,#00faff 658px,#0075ff 753px,#000ffe 828px,#00e 850px,#000085 928px,#000085 931px)"></i><i style="left:1116px;top:230px;height:932px;background-image:linear-gradient(#f20000,#ef0000 7px,#bc0000 84px,#b50000 87px,#b00000 93px,#a00 96px,#9d0000 116px,#9e0000 121px,#9e0000 126px,#a00000 134px,#a10000 140px,#a70000 161px,#ab0000 175px,#ad0000 196px,#b90000 224px,#d20000 250px,#ea0000 273px,#ff0100 291px,#f20 317px,#ff5f00 364px,#ffb500 425px,#fdd802 452px,#fae205 462px,#f3e90c 471px,#ecf813 486px,#d7fc28 503px,#caff35 514px,#0ffff0 644px,#00f7ff 659px,#00a6ff 717px,#0053ff 777px,#0011fe 826px,#0000ed 850px,#000084 928px,#000084 931px)"></i><i style="left:1118px;top:230px;height:932px;background-image:linear-gradient(#f20000,#ef0000 7px,#b00 84px,#b50000 87px,#b00000 93px,#a90000 96px,#9c0000 116px,#9d0000 122px,#9e0000 129px,#a20000 147px,#a70000 162px,#ab0000 176px,#ac0000 195px,#b90000 221px,#c00000 232px,#eb0000 273px,#fe0100 291px,#ff2900 322px,#ff6400 367px,#ffb900 428px,#fdd202 448px,#f9e506 464px,#f0ea0f 474px,#e9f916 489px,#d0fd2f 508px,#c2ff3d 519px,#23ffdc 630px,#12fded 643px,#00f3ff 662px,#00a3ff 719px,#0050ff 779px,#0017fe 821px,#000dfb 831px,#0006f2 842px,#0000ea 852px,#000084 928px,#000084 931px)"></i><i style="left:1120px;top:230px;height:932px;background-image:linear-gradient(#f10000,#e00 7px,#b00 84px,#b40000 87px,#af0000 93px,#a90000 96px,#9b0000 116px,#9d0000 121px,#9c0000 126px,#9f0000 135px,#a00000 141px,#a50000 155px,#a70000 163px,#ab0000 176px,#ad0000 195px,#b90000 220px,#c10000 233px,#ed0000 275px,#fc0100 288px,#ff0900 297px,#ff2c00 324px,#f60 369px,#ffbd00 430px,#fecd01 443px,#f7e808 467px,#eded12 478px,#e7fa18 491px,#bf4 524px,#20ffdf 632px,#15fcea 642px,#00f0ff 664px,#00a1ff 720px,#004cff 782px,#001dfe 817px,#000cfa 832px,#0007f1 842px,#0000e9 853px,#000085 928px,#000085 931px)"></i><i style="left:1122px;top:230px;height:933px;background-image:linear-gradient(#f00000,#e00 7px,#ba0000 84px,#b40000 87px,#af0000 93px,#a80000 96px,#9b0000 116px,#9c0000 122px,#9d0000 128px,#a30000 153px,#a70000 163px,#ab0000 177px,#ad0000 194px,#b80000 219px,#c20000 234px,#f00000 277px,#fa0200 287px,#ff0a00 298px,#ff6900 371px,#ffab00 417px,#fed101 446px,#f9db06 456px,#f5ea0a 470px,#e9f016 483px,#e3fb1c 494px,#b5ff4a 528px,#21ffde 631px,#15f9ea 644px,#09f2f6 657px,#00ecff 667px,#009eff 722px,#0049ff 784px,#0020fe 814px,#000af9 834px,#0006ee 845px,#0000e6 855px,#000084 929px,#000084 932px)"></i><i style="left:1124px;top:230px;height:933px;background-image:linear-gradient(#f00000,#ed0000 7px,#ba0000 84px,#b30000 87px,#ae0000 93px,#a70000 96px,#9b0000 116px,#9b0000 122px,#9c0000 127px,#9e0000 136px,#a30000 153px,#a70000 163px,#a90000 170px,#ab0000 176px,#ad0000 193px,#b90000 219px,#c40000 235px,#f20000 279px,#f80300 286px,#ff0d00 300px,#ff6c00 373px,#ffae00 419px,#fed501 448px,#f8dd07 458px,#f4ed0b 472px,#e5f41a 488px,#e0fc1f 497px,#af5 536px,#25feda 628px,#13f8ec 646px,#0ff1f0 654px,#00e9ff 669px,#009bff 724px,#0045ff 787px,#001efe 816px,#0011fa 828px,#0009f7 836px,#0005ec 848px,#0000e5 856px,#000084 929px,#000084 932px)"></i><i style="left:1126px;top:230px;height:933px;background-image:linear-gradient(#ef0000,#ed0000 7px,#b90000 84px,#b30000 87px,#ad0000 93px,#a70000 96px,#9b0000 115px,#9b0000 126px,#a00000 145px,#a20000 152px,#a70000 164px,#a00 171px,#ab0000 180px,#ad0000 193px,#ba0000 220px,#c50000 236px,#f50100 282px,#ff1000 302px,#ff7100 376px,#ffb300 422px,#fed901 451px,#f6e109 462px,#f3ef0c 475px,#e1f71e 493px,#dcfd23 500px,#9fff60 543px,#2afed5 625px,#11f5ee 649px,#0dedf2 658px,#00e5ff 672px,#0097ff 727px,#0041ff 790px,#001cfe 817px,#0014f9 826px,#0008f6 837px,#0004e9 851px,#0000e2 858px,#000085 929px,#000085 932px)"></i><i style="left:1128px;top:230px;height:934px;background-image:linear-gradient(#ef0000,#ec0000 7px,#b80000 84px,#b20000 87px,#ad0000 93px,#a60000 96px,#9b0000 114px,#9a0000 126px,#a00000 145px,#a10000 151px,#a70000 164px,#a90000 171px,#ab0000 178px,#ad0000 192px,#ba0000 221px,#c60000 237px,#f30100 280px,#f90700 289px,#ff1300 304px,#ff7400 378px,#ffd100 444px,#fedd01 454px,#f4e60b 467px,#f1f20e 478px,#ddfb22 498px,#d8fe27 504px,#5cffa3 590px,#28fed7 626px,#1af7e5 641px,#0ff2f0 652px,#0ce8f3 662px,#00e2ff 674px,#0092ff 730px,#003cff 793px,#001afe 819px,#0013f8 828px,#0007f5 839px,#0002e6 854px,#0000de 861px,#000084 930px,#000084 933px)"></i><i style="left:1130px;top:230px;height:934px;background-image:linear-gradient(#e00,#ec0000 7px,#b80000 84px,#b10000 87px,#ac0000 93px,#a60000 96px,#9b0000 113px,#900 126px,#a00000 145px,#a10000 152px,#a70000 165px,#a90000 171px,#ab0000 177px,#ad0000 191px,#b00 222px,#c70000 238px,#ed0000 274px,#f90800 290px,#fd1100 300px,#ff1b00 310px,#ff7a00 382px,#ffd800 449px,#fee101 457px,#f3eb0c 471px,#f0f50f 480px,#d4ff2b 507px,#5affa5 591px,#26fdd9 628px,#1df6e2 639px,#0ef0f1 654px,#09e4f6 667px,#00deff 677px,#008eff 733px,#003bff 794px,#0017fe 821px,#000ff6 832px,#0006f4 840px,#00d 862px,#000084 930px,#000084 933px)"></i><i style="left:1132px;top:230px;height:934px;background-image:linear-gradient(#e00,#eb0000 7px,#b70000 84px,#b10000 87px,#ac0000 93px,#a50000 96px,#9a0000 113px,#900 126px,#9f0000 146px,#a20000 155px,#a70000 166px,#a00 172px,#ab0000 180px,#ae0000 192px,#bc0000 223px,#ca0000 240px,#e00 274px,#fa0a00 292px,#fd1300 301px,#ff1c00 310px,#ff7b00 383px,#ffdf00 454px,#fce603 461px,#f1f00e 476px,#eef711 483px,#d4ff2b 507px,#5bffa4 590px,#22fcdd 631px,#1bf4e4 642px,#0ceef3 657px,#06dff9 672px,#00d9ff 680px,#0089ff 736px,#0039ff 795px,#0015fe 823px,#000cf5 835px,#0005f3 842px,#0000db 864px,#000085 930px,#000085 933px)"></i><i style="left:1134px;top:230px;height:935px;background-image:linear-gradient(#ed0000,#ea0000 7px,#b70000 84px,#b00000 87px,#ab0000 93px,#a50000 96px,#9a0000 113px,#900 126px,#9f0000 147px,#a30000 157px,#a00 173px,#ae0000 191px,#bd0000 224px,#c00 242px,#e30000 263px,#ef0100 275px,#fa0c00 294px,#fd1700 304px,#f20 315px,#ff8100 387px,#ffe600 459px,#eff610 481px,#eafb15 488px,#d7ff28 505px,#54ffab 595px,#2ffdd0 622px,#1efae1 635px,#17f1e8 646px,#0aecf5 659px,#05dbfa 676px,#00d7ff 682px,#0085ff 739px,#0038ff 796px,#0013fe 824px,#0009f4 838px,#0003f1 844px,#0000d8 866px,#000086 929px,#000084 932px,#000084 934px)"></i><i style="left:1136px;top:230px;height:935px;background-image:linear-gradient(#ec0000,#ea0000 7px,#b60000 84px,#b00000 87px,#a00 93px,#a40000 96px,#900 113px,#980000 126px,#9f0000 147px,#a20000 155px,#a70000 167px,#a00 173px,#ae0000 191px,#be0000 225px,#d00000 245px,#e50000 264px,#ed0100 273px,#f30700 284px,#fb0f00 296px,#fd1a00 306px,#ff2600 318px,#ff8400 389px,#ffec00 463px,#e7fe18 492px,#c2ff3d 519px,#4effb1 599px,#39fec6 615px,#1af9e5 638px,#13eeec 651px,#08e9f7 662px,#02d6fd 681px,#00cfff 687px,#0080ff 742px,#0036ff 797px,#0010fe 826px,#0005f2 842px,#0001ec 849px,#0000d3 870px,#000087 929px,#000084 932px,#000084 934px)"></i><i style="left:1138px;top:230px;height:935px;background-image:linear-gradient(#ec0000,#e90000 7px,#b60000 84px,#af0000 87px,#a00 93px,#a30000 96px,#980000 113px,#980000 126px,#9f0000 148px,#a20000 156px,#a70000 168px,#ab0000 178px,#ae0000 191px,#bf0000 226px,#d30000 248px,#e70000 266px,#ef0300 275px,#f50900 286px,#fb1100 298px,#fe1e00 309px,#ff3800 332px,#ff8a00 393px,#fff000 466px,#e8ff17 492px,#86ff79 560px,#45ffba 605px,#34fecb 618px,#1ffae0 634px,#17f8e8 641px,#0febf0 656px,#07e6f8 665px,#00cdff 689px,#007dff 744px,#0035ff 798px,#000efe 828px,#0001ee 848px,#0000cd 874px,#008 928px,#000085 932px,#000085 934px)"></i><i style="left:1140px;top:230px;height:936px;background-image:linear-gradient(#eb0000,#e90000 7px,#b50000 84px,#ae0000 87px,#a90000 93px,#a30000 96px,#980000 113px,#970000 122px,#9c0000 140px,#9f0000 149px,#a30000 158px,#ab0000 178px,#ae0000 192px,#c00000 227px,#e10000 261px,#ee0200 273px,#f60a00 288px,#fc1400 301px,#ff2e00 323px,#ff8b00 394px,#fff500 469px,#ef1 488px,#b4ff4b 528px,#3cffc3 611px,#2ffdd0 622px,#1ff9e0 635px,#14f7eb 644px,#0ae8f5 661px,#05e4fa 668px,#00cbff 690px,#07f 748px,#0032ff 800px,#000bfe 830px,#0000ed 849px,#0000c5 880px,#000084 932px,#000084 935px)"></i><i style="left:1142px;top:230px;height:936px;background-image:linear-gradient(#eb0000,#e80000 7px,#b40000 84px,#ae0000 87px,#a90000 93px,#a20000 96px,#970000 113px,#970000 121px,#980000 127px,#9d0000 142px,#a20000 158px,#ab0000 178px,#ae0000 192px,#c10000 228px,#e40000 264px,#ef0300 275px,#f70c00 290px,#fd1600 303px,#ff3800 331px,#ff9000 397px,#fef901 472px,#f2ff0d 485px,#b1ff4e 530px,#36ffc9 615px,#2afdd5 625px,#1bf9e4 638px,#11f7ee 646px,#07e5f8 665px,#03e0fc 672px,#00c9ff 691px,#0072ff 752px,#002eff 803px,#0009fe 831px,#00e 848px,#0000c5 880px,#00008e 924px,#000084 933px,#000084 935px)"></i><i style="left:1144px;top:230px;height:936px;background-image:linear-gradient(#ea0000,#e80000 7px,#b40000 84px,#ad0000 87px,#a80000 93px,#a10000 97px,#960000 113px,#970000 119px,#970000 126px,#980000 132px,#9f0000 150px,#a20000 158px,#ab0000 178px,#af0000 193px,#c10000 228px,#cf0000 243px,#e90200 269px,#f10500 278px,#f80d00 292px,#fd1900 305px,#ff4e00 347px,#ff9100 398px,#fefd01 475px,#e6ff19 493px,#abff54 534px,#2fffd0 620px,#21fade 633px,#0df5f2 649px,#00dbff 677px,#00b2ff 707px,#005bff 768px,#0007fe 833px,#0001f1 846px,#0000c4 881px,#000095 918px,#000085 933px,#000085 935px)"></i><i style="left:1146px;top:230px;height:937px;background-image:linear-gradient(#ea0000,#e70000 7px,#b30000 84px,#ad0000 87px,#a50000 94px,#a00000 97px,#960000 113px,#970000 119px,#960000 126px,#980000 132px,#9d0000 143px,#9f0000 152px,#a00 175px,#af0000 193px,#b80000 209px,#c30000 229px,#e70100 267px,#f20500 279px,#fa1000 295px,#fe1b00 307px,#ff8d00 395px,#fefe01 475px,#e9ff16 491px,#a8ff57 536px,#28ffd7 624px,#11f7ee 646px,#0af4f5 652px,#00dcff 676px,#00acff 711px,#0059ff 770px,#0005ff 834px,#0000e3 857px,#000097 916px,#000084 934px,#000084 936px)"></i><i style="left:1148px;top:230px;height:937px;background-image:linear-gradient(#e90000,#e60000 7px,#b30000 84px,#ac0000 87px,#a50000 94px,#a00000 97px,#950000 113px,#970000 119px,#960000 126px,#980000 132px,#9b0000 140px,#9f0000 151px,#a10000 158px,#ac0000 181px,#b00000 194px,#ba0000 213px,#c50000 231px,#e80100 267px,#f40600 281px,#fb1200 298px,#ff1e00 310px,#ff3f00 335px,#ffa000 408px,#fef801 471px,#f6ff09 481px,#a3ff5c 539px,#76ff89 570px,#2fd 628px,#0cf5f3 650px,#06f2f9 656px,#00e1ff 672px,#00a2ff 717px,#004fff 777px,#0026ff 809px,#0004fe 835px,#0000df 860px,#009 915px,#000084 934px,#000084 936px)"></i><i style="left:1150px;top:230px;height:937px;background-image:linear-gradient(#e80000,#e60000 7px,#b20000 84px,#ac0000 87px,#a40000 94px,#9f0000 97px,#950000 113px,#960000 119px,#960000 126px,#980000 132px,#9a0000 139px,#9f0000 151px,#a10000 158px,#ac0000 181px,#af0000 194px,#b50000 202px,#c40000 229px,#e80200 267px,#f50700 283px,#fd1500 301px,#ff2100 312px,#ff4200 337px,#ffa800 413px,#fef201 467px,#f2ff0d 484px,#a0ff5f 541px,#73ff8c 572px,#1dffe2 632px,#03f2fc 658px,#00e4ff 670px,#0057ff 771px,#0024ff 810px,#0008fe 833px,#0003f9 839px,#0000db 863px,#00009a 914px,#000085 934px,#000085 936px)"></i><i style="left:1152px;top:230px;height:938px;background-image:linear-gradient(#e80000,#e50000 7px,#b20000 84px,#ab0000 87px,#a40000 94px,#9f0000 97px,#940000 113px,#960000 120px,#960000 127px,#970000 132px,#900 138px,#9f0000 152px,#a20000 159px,#ad0000 182px,#b00000 195px,#b50000 202px,#c40000 228px,#d90000 251px,#ed0400 273px,#f70900 285px,#ff1900 306px,#ffad00 417px,#feec01 463px,#edff12 487px,#9cff63 544px,#38ffc7 612px,#16fee9 637px,#00f2ff 660px,#005aff 769px,#0021ff 812px,#000cfd 830px,#0003f8 840px,#0000d8 866px,#009 915px,#000084 935px,#000084 937px)"></i><i style="left:1154px;top:230px;height:938px;background-image:linear-gradient(#e70000,#e50000 7px,#b10000 84px,#a00 87px,#a30000 94px,#9e0000 97px,#940000 114px,#960000 120px,#960000 127px,#970000 132px,#980000 138px,#9f0000 152px,#a10000 159px,#ad0000 183px,#b00000 195px,#b60000 203px,#c50000 228px,#d30000 244px,#e50100 263px,#f00500 277px,#f80a00 287px,#ff1a00 306px,#ffb600 423px,#fee801 460px,#e8ff17 490px,#9f6 546px,#6aff95 578px,#13ffec 638px,#01f3fe 659px,#0058ff 770px,#001eff 814px,#0010fd 827px,#0003f7 841px,#0000d4 869px,#009 915px,#000084 935px,#000084 937px)"></i><i style="left:1156px;top:230px;height:938px;background-image:linear-gradient(#e70000,#e40000 7px,#b00000 84px,#a00 87px,#a30000 94px,#9e0000 97px,#930000 114px,#950000 121px,#950000 127px,#970000 132px,#980000 138px,#9f0000 153px,#a20000 160px,#a80000 174px,#ad0000 184px,#b10000 196px,#b60000 203px,#c70000 229px,#d50000 246px,#e70100 264px,#f30600 279px,#fa0b00 290px,#ff1900 305px,#ffbc00 427px,#fee301 456px,#f7ee08 469px,#eff410 478px,#e4ff1b 493px,#94ff6b 549px,#65ff9a 581px,#0efef1 642px,#03f6fc 655px,#00e4ff 670px,#0064ff 761px,#001bff 816px,#0011fc 827px,#0003f5 843px,#0000cf 873px,#000097 917px,#000085 935px,#000085 937px)"></i><i style="left:1158px;top:230px;height:939px;background-image:linear-gradient(#e60000,#e30000 7px,#b00000 84px,#a90000 87px,#a20000 94px,#9d0000 97px,#930000 114px,#950000 121px,#950000 127px,#960000 133px,#9a0000 142px,#9f0000 154px,#a20000 161px,#a70000 172px,#ae0000 184px,#b10000 196px,#b60000 203px,#c60000 228px,#da0000 251px,#e90100 266px,#fb0b00 290px,#ff1800 304px,#ffbc00 427px,#fede01 452px,#f4f00b 472px,#eaf415 481px,#dfff20 496px,#91ff6e 551px,#5fffa0 585px,#09fef6 645px,#04f4fb 656px,#00e1ff 672px,#006dff 754px,#001bff 816px,#0010fb 828px,#0002f2 845px,#0000cf 873px,#000093 921px,#000084 936px,#000084 938px)"></i><i style="left:1160px;top:230px;height:939px;background-image:linear-gradient(#e60000,#e30000 7px,#af0000 84px,#a90000 87px,#a20000 94px,#9c0000 97px,#930000 113px,#940000 123px,#960000 129px,#980000 139px,#a30000 163px,#a60000 171px,#ae0000 185px,#b20000 197px,#b70000 204px,#c70000 229px,#dc0000 252px,#eb0100 267px,#fc0b00 291px,#ff1700 303px,#ff9000 394px,#fedc01 450px,#f1f10e 475px,#e4f51b 486px,#daff25 499px,#93ff6c 550px,#5bffa4 587px,#08fef7 645px,#00dfff 673px,#006bff 755px,#0026ff 807px,#0016fd 821px,#000ffa 830px,#0008f4 839px,#0002f0 847px,#0000ce 873px,#000091 923px,#000084 936px,#000084 938px)"></i><i style="left:1162px;top:230px;height:939px;background-image:linear-gradient(#e50000,#e20000 7px,#af0000 84px,#a80000 87px,#a10000 94px,#9c0000 97px,#920000 113px,#940000 123px,#950000 129px,#970000 139px,#a30000 164px,#a50000 170px,#ae0000 186px,#b20000 198px,#bf0000 216px,#c00 233px,#db0000 251px,#ee0100 269px,#fd0b00 292px,#ff1a00 305px,#ff9500 397px,#fed801 447px,#f9e106 457px,#edf312 478px,#def721 491px,#d6ff29 502px,#94ff6b 549px,#5fa 591px,#0efef1 641px,#07f8f8 650px,#00dbff 676px,#006bff 755px,#0023ff 809px,#000efa 830px,#0009f3 840px,#0002ef 848px,#0000cf 872px,#000090 924px,#000084 936px,#000084 938px)"></i><i style="left:1164px;top:230px;height:940px;background-image:linear-gradient(#e40000,#e20000 7px,#ae0000 84px,#a80000 87px,#a10000 94px,#9b0000 97px,#920000 112px,#930000 118px,#950000 134px,#a30000 165px,#a60000 171px,#af0000 187px,#b30000 199px,#b80000 206px,#cb0000 232px,#d00 252px,#f00100 271px,#ff0c00 293px,#ff5b00 354px,#fed001 441px,#f8e307 459px,#f0ec0f 471px,#eaf415 481px,#d8f927 496px,#d1ff2e 505px,#97ff68 547px,#4bffb4 598px,#14feeb 637px,#07f4f8 653px,#00d7ff 679px,#006fff 752px,#001cfe 815px,#000cf7 834px,#0007f0 843px,#0001ec 850px,#0000ce 873px,#00008e 926px,#000084 937px,#000084 939px)"></i><i style="left:1166px;top:230px;height:940px;background-image:linear-gradient(#e40000,#e10000 7px,#ae0000 84px,#a60000 88px,#a00000 94px,#9b0000 97px,#920000 111px,#920000 118px,#930000 125px,#950000 133px,#970000 139px,#a30000 166px,#a70000 173px,#af0000 189px,#b40000 200px,#b90000 207px,#be0000 214px,#db0000 250px,#f20100 272px,#ff0b00 292px,#ff5d00 355px,#ffc900 435px,#f6e609 462px,#edec12 473px,#e7f618 484px,#d2fb2d 501px,#cf3 508px,#9f6 545px,#42ffbd 604px,#19fee6 633px,#06f2f9 655px,#00d1ff 683px,#0081ff 739px,#0041ff 787px,#0019fd 818px,#000af6 836px,#0006ed 846px,#0001ea 852px,#0000ce 873px,#00008d 927px,#000084 937px,#000084 939px)"></i><i style="left:1168px;top:230px;height:940px;background-image:linear-gradient(#e30000,#e10000 7px,#ad0000 84px,#a60000 88px,#a00000 94px,#9a0000 97px,#920000 110px,#920000 118px,#930000 125px,#950000 134px,#980000 143px,#a70000 173px,#b00000 191px,#b50000 201px,#ba0000 208px,#bf0000 215px,#d00000 236px,#e30000 257px,#f50100 274px,#ff0b00 291px,#ff2800 315px,#ff7400 372px,#fa0 411px,#fecf01 440px,#f4e80b 465px,#e9ef16 477px,#e4f71b 487px,#ccfc33 506px,#c5ff3a 513px,#93ff6c 549px,#30ffcf 616px,#1bfde4 632px,#05eefa 658px,#00cbff 687px,#0082ff 738px,#0041ff 786px,#0016fd 820px,#000ff8 830px,#0009f4 838px,#0004eb 849px,#0001e7 854px,#0000ce 873px,#00008d 927px,#000084 937px,#000084 939px)"></i><i style="left:1170px;top:230px;height:941px;background-image:linear-gradient(#e30000,#e00000 7px,#c40000 49px,#ac0000 84px,#a50000 88px,#9f0000 94px,#9a0000 97px,#920000 110px,#910000 119px,#920000 125px,#950000 134px,#980000 143px,#a40000 168px,#b10000 193px,#b60000 202px,#be0000 214px,#c50000 222px,#d20000 238px,#e60000 259px,#f70100 276px,#ff0b00 290px,#ff2600 313px,#ff4900 340px,#ffad00 413px,#fec901 434px,#fbd504 446px,#f2eb0d 468px,#e5f21a 482px,#dff920 491px,#c6fe39 511px,#98ff67 545px,#27ffd8 622px,#18f9e7 637px,#0df0f2 651px,#05eafa 661px,#00c5ff 691px,#009bff 720px,#004aff 779px,#0015fd 821px,#000ef7 831px,#0008f4 839px,#0002e8 852px,#0000e2 858px,#0000cb 875px,#00008e 926px,#000084 938px,#000084 940px)"></i><i style="left:1172px;top:230px;height:941px;background-image:linear-gradient(#e20000,#df0000 7px,#c00 35px,#ac0000 84px,#a50000 88px,#9f0000 94px,#980000 98px,#920000 110px,#910000 119px,#920000 124px,#940000 130px,#950000 139px,#a40000 168px,#b20000 195px,#b70000 203px,#c00000 216px,#d10000 237px,#ec0000 264px,#f90100 277px,#ff0900 288px,#ff2600 313px,#ff4c00 342px,#ffb000 415px,#fec601 431px,#fad905 449px,#f4e20b 460px,#f0ed0f 471px,#e1f51e 487px,#dcfa23 494px,#b8ff47 522px,#8bff74 554px,#2cffd3 619px,#16f6e9 640px,#10eeef 650px,#04e6fb 664px,#00c0ff 695px,#09f 722px,#0047ff 781px,#0012fd 823px,#000cf6 834px,#0006f3 841px,#0000e2 858px,#0000cb 875px,#00008e 926px,#000084 938px,#000084 940px)"></i><i style="left:1174px;top:230px;height:941px;background-image:linear-gradient(#e20000,#df0000 7px,#cf0000 29px,#ac0000 83px,#a20000 90px,#9c0000 95px,#970000 99px,#910000 111px,#900000 119px,#920000 124px,#940000 130px,#950000 139px,#a50000 169px,#b30000 195px,#b70000 203px,#c10000 217px,#d30000 238px,#fc0100 279px,#ff0800 287px,#ff2e00 319px,#ff4d00 342px,#ffae00 414px,#fec601 431px,#fadd05 452px,#f2e50d 463px,#eef011 474px,#ddf822 492px,#d6fc29 499px,#b4ff4b 524px,#89ff76 555px,#2ffed0 617px,#14f4eb 643px,#0feaf0 653px,#04e2fb 667px,#00b9ff 700px,#0091ff 727px,#0042ff 785px,#0011fd 824px,#0009f4 837px,#0004f0 844px,#0000e0 860px,#0000ca 876px,#00008f 926px,#000084 938px,#000084 940px)"></i><i style="left:1176px;top:230px;height:942px;background-image:linear-gradient(#e10000,#de0000 7px,#ce0000 29px,#ad0000 81px,#a70000 86px,#a20000 90px,#9c0000 95px,#960000 99px,#910000 113px,#900000 119px,#920000 125px,#940000 135px,#a30000 164px,#b80000 204px,#c30000 219px,#d10000 236px,#fe0100 280px,#ff1500 297px,#ff3100 321px,#ff5000 344px,#ffb100 416px,#fec901 433px,#f9e006 455px,#f0ea0f 468px,#ecf313 477px,#d3fd2c 502px,#9dff62 541px,#31fece 615px,#12f1ed 646px,#0de5f2 658px,#03defc 670px,#00b0ff 706px,#007dff 741px,#003dff 788px,#001ffe 813px,#000dfb 828px,#0006f3 841px,#0000e4 857px,#0000c8 878px,#00008f 926px,#000084 939px,#000084 941px)"></i><i style="left:1178px;top:230px;height:942px;background-image:linear-gradient(#e00000,#de0000 7px,#cd0000 29px,#af0000 78px,#a90000 85px,#a20000 89px,#9c0000 95px,#960000 99px,#900000 116px,#930000 130px,#950000 139px,#b00000 189px,#b80000 204px,#d20000 237px,#f00 280px,#ff3a00 327px,#ff5700 349px,#ffba00 422px,#fece01 436px,#fadd05 451px,#f7e508 459px,#edef12 473px,#e9f616 481px,#d0ff2f 505px,#a3ff5c 536px,#78ff87 566px,#37fec8 611px,#26fad9 625px,#1ef4e1 635px,#10eeef 649px,#0ae1f5 663px,#02dafd 673px,#00a4ff 715px,#007aff 743px,#003cff 789px,#001bfe 815px,#000bfb 830px,#0001ec 850px,#0000cd 873px,#0000a8 904px,#00008a 932px,#000084 939px,#000084 941px)"></i><i style="left:1180px;top:230px;height:942px;background-image:linear-gradient(#e00000,#d00 7px,#ce0000 26px,#cd0000 29px,#c40000 44px,#b00000 76px,#a70000 86px,#a10000 90px,#9c0000 95px,#950000 99px,#8f0000 119px,#910000 125px,#950000 140px,#a80000 174px,#b50000 199px,#b90000 206px,#cb0000 228px,#d30000 238px,#fe0000 279px,#ff0e00 291px,#ff3e00 330px,#ff5d00 353px,#ffbf00 425px,#fed301 439px,#fadf05 452px,#f7e808 461px,#ebf214 477px,#e6f919 485px,#d0ff2f 505px,#9eff61 539px,#76ff89 567px,#3cfec3 607px,#23f9dc 628px,#1cf2e3 638px,#0eecf1 652px,#08dcf7 668px,#02d6fd 676px,#009bff 721px,#0076ff 746px,#0039ff 791px,#0018fe 817px,#0008fb 832px,#0000eb 851px,#0000c4 881px,#00008d 928px,#000084 939px,#000084 941px)"></i><i style="left:1182px;top:230px;height:943px;background-image:linear-gradient(#df0000,#dc0000 7px,#cf0000 25px,#c00 29px,#c90000 36px,#b00000 75px,#a70000 86px,#a00000 90px,#900 96px,#940000 100px,#8f0000 119px,#910000 125px,#950000 140px,#a00000 162px,#ac0000 182px,#b90000 206px,#c00 229px,#d30000 237px,#fc0000 276px,#ff0b00 289px,#ff4300 333px,#ff6400 358px,#ffc500 429px,#fed701 442px,#f9e406 456px,#f5ec0a 465px,#e2fc1d 490px,#d2ff2d 503px,#97ff68 544px,#6cff93 574px,#3dfec2 606px,#1ff8e0 631px,#19efe6 642px,#0ce9f3 655px,#05d7fa 673px,#01d1fe 680px,#008fff 729px,#0072ff 749px,#0035ff 794px,#0015fe 819px,#0006fa 834px,#0000ed 849px,#0000c2 883px,#00008d 929px,#000084 940px,#000084 942px)"></i><i style="left:1184px;top:230px;height:943px;background-image:linear-gradient(#df0000,#dc0000 7px,#ce0000 25px,#cb0000 29px,#cb0000 32px,#b00000 75px,#a60000 86px,#a00000 90px,#900 96px,#940000 100px,#8e0000 119px,#910000 125px,#920000 131px,#900 151px,#ad0000 183px,#b70000 202px,#c20000 216px,#cd0000 230px,#d30000 237px,#fb0000 275px,#ff0f00 292px,#ff4700 336px,#ff6a00 362px,#ffc900 432px,#fedc01 445px,#f8e807 460px,#f5f00a 468px,#deff21 494px,#8eff71 550px,#39fec6 609px,#2dfbd2 620px,#1cf7e3 634px,#14ebeb 647px,#0ae6f5 658px,#03d2fc 678px,#00c4ff 690px,#0086ff 735px,#006bff 754px,#002fff 798px,#0012fe 821px,#0004fa 836px,#0000f0 847px,#0000c0 884px,#00008d 929px,#000084 940px,#000084 942px)"></i><i style="left:1186px;top:230px;height:943px;background-image:linear-gradient(#de0000,#db0000 7px,#ce0000 24px,#ca0000 29px,#ca0000 32px,#b20000 73px,#a40000 87px,#9f0000 90px,#900 96px,#930000 100px,#8f0000 120px,#900000 125px,#920000 131px,#9b0000 155px,#ae0000 184px,#ba0000 206px,#c20000 215px,#cf0000 232px,#fb0100 275px,#ff1400 295px,#ff4b00 339px,#ffcd00 434px,#fee001 448px,#f3f40c 472px,#e1ff1e 492px,#8f7 554px,#34fecb 612px,#2bfad4 622px,#19f6e6 637px,#10e8ef 652px,#07e4f8 661px,#00c5ff 689px,#0081ff 738px,#0067ff 757px,#0017ff 816px,#0001fa 838px,#0000e5 855px,#0000be 886px,#000092 925px,#000084 940px,#000084 942px)"></i><i style="left:1188px;top:230px;height:944px;background-image:linear-gradient(#d00,#db0000 7px,#ce0000 23px,#c90000 29px,#c90000 32px,#b20000 72px,#af0000 75px,#a40000 87px,#9e0000 90px,#900 96px,#930000 100px,#8e0000 120px,#900000 125px,#910000 131px,#970000 147px,#a10000 164px,#ae0000 185px,#b40000 195px,#bd0000 209px,#d70000 240px,#f90000 272px,#ff1500 296px,#ff4f00 342px,#ffd300 438px,#fee501 451px,#f2f80d 475px,#e5ff1a 489px,#59ffa6 586px,#2ffed0 615px,#25f8da 627px,#15f5ea 640px,#0be4f4 658px,#05e0fa 665px,#00c6ff 688px,#007dff 741px,#0061ff 761px,#000fff 822px,#0000fa 839px,#0000be 886px,#000094 923px,#000084 941px,#000084 943px)"></i><i style="left:1190px;top:230px;height:944px;background-image:linear-gradient(#d00,#da0000 7px,#ce0000 22px,#c80000 29px,#c80000 32px,#b20000 72px,#af0000 75px,#a40000 87px,#9d0000 91px,#970000 97px,#930000 100px,#8e0000 120px,#900000 126px,#970000 147px,#9c0000 156px,#af0000 186px,#b40000 196px,#be0000 210px,#d80000 241px,#f80100 271px,#ff1400 294px,#ff4e00 341px,#ffd700 441px,#feea01 454px,#f0fc0f 479px,#e6ff19 488px,#4fffb0 593px,#2afed5 619px,#1ff7e0 632px,#12f4ed 643px,#07e1f8 663px,#02dafd 671px,#00c4ff 689px,#007aff 743px,#005dff 764px,#000bff 825px,#0001fb 837px,#0000e1 858px,#0000b9 890px,#0000a0 912px,#000084 940px,#000084 943px)"></i><i style="left:1192px;top:230px;height:944px;background-image:linear-gradient(#dc0000,#da0000 7px,#cd0000 22px,#c70000 29px,#c70000 32px,#c60000 35px,#af0000 75px,#a90000 81px,#a30000 87px,#9d0000 91px,#960000 97px,#920000 100px,#8d0000 120px,#8f0000 126px,#940000 140px,#970000 147px,#9c0000 157px,#b00000 187px,#b50000 197px,#c00000 212px,#ce0000 228px,#df0000 246px,#f70100 270px,#fc0d00 285px,#ff2000 304px,#ff6100 354px,#ffdc00 444px,#feee01 457px,#f1ff0e 480px,#79ff86 564px,#25feda 622px,#19f5e6 637px,#0ef3f1 646px,#00d8ff 674px,#0078ff 744px,#0056ff 769px,#0006fe 828px,#0001fb 836px,#0000ef 847px,#0000c5 880px,#00009f 913px,#000084 940px,#000084 943px)"></i><i style="left:1194px;top:230px;height:945px;background-image:linear-gradient(#dc0000,#d90000 7px,#cd0000 21px,#c70000 29px,#c60000 32px,#c50000 35px,#af0000 75px,#a00 79px,#a10000 88px,#9c0000 91px,#960000 97px,#920000 100px,#8d0000 120px,#8f0000 126px,#910000 133px,#980000 148px,#9d0000 159px,#b00000 188px,#b50000 198px,#c70000 220px,#d00000 230px,#e10000 248px,#f70100 269px,#fd1000 287px,#ff2500 308px,#ff6900 360px,#ffe000 447px,#fef301 460px,#f3ff0c 478px,#73ff8c 568px,#20fedf 625px,#13f4ec 642px,#0af1f5 650px,#00d9ff 673px,#0074ff 747px,#004bff 777px,#0004fe 830px,#0000ef 847px,#0000c2 882px,#00009e 914px,#000084 941px,#000084 944px)"></i><i style="left:1196px;top:230px;height:945px;background-image:linear-gradient(#db0000,#d80000 7px,#cb0000 22px,#c60000 29px,#c50000 32px,#c40000 35px,#bf0000 45px,#b20000 69px,#ae0000 75px,#a80000 80px,#a10000 88px,#9b0000 92px,#920000 100px,#8d0000 120px,#8f0000 126px,#900000 132px,#980000 148px,#9c0000 158px,#b10000 189px,#b50000 198px,#c80000 221px,#d00000 230px,#e60000 252px,#f50100 267px,#fd1000 287px,#ff2d00 314px,#ff7600 369px,#ffe500 450px,#fef801 464px,#f7ff08 475px,#3effc1 604px,#1bfee4 628px,#0cf2f3 648px,#06eef9 655px,#0df 670px,#006eff 751px,#04f 782px,#0005fe 829px,#0000ec 849px,#0000c0 883px,#00009d 915px,#000084 941px,#000084 944px)"></i><i style="left:1198px;top:230px;height:945px;background-image:linear-gradient(#db0000,#d80000 7px,#c00 21px,#c50000 29px,#c40000 32px,#c30000 35px,#c10000 41px,#b20000 68px,#ae0000 75px,#a80000 80px,#a10000 88px,#9a0000 92px,#910000 101px,#8d0000 121px,#8f0000 126px,#900000 132px,#980000 149px,#9d0000 159px,#b20000 191px,#b60000 199px,#ca0000 222px,#d10000 231px,#e00 259px,#f50300 268px,#f90a00 278px,#fd1600 292px,#ff3500 320px,#ff8400 379px,#ffeb00 454px,#fefd01 467px,#f6ff09 475px,#c3ff3c 511px,#37ffc8 609px,#16fee9 631px,#02edfd 658px,#00deff 669px,#0069ff 754px,#003fff 785px,#0008fe 827px,#0003f8 835px,#0000e9 851px,#0000be 884px,#00009b 916px,#000084 941px,#000084 944px)"></i><i style="left:1200px;top:230px;height:946px;background-image:linear-gradient(#da0000,#d70000 7px,#ca0000 22px,#c20000 34px,#c20000 39px,#b20000 67px,#ae0000 75px,#a80000 79px,#a00000 88px,#9a0000 92px,#910000 101px,#8d0000 121px,#8e0000 127px,#910000 135px,#900 150px,#9d0000 160px,#b30000 192px,#b90000 202px,#cb0000 223px,#d60000 235px,#f30100 264px,#fa0c00 280px,#fe1900 294px,#ff3800 322px,#ff8900 383px,#ffef00 457px,#feff01 468px,#d3ff2c 500px,#2fffd0 614px,#11feee 635px,#00ecff 660px,#00c5ff 687px,#0065ff 757px,#003bff 788px,#000bfe 824px,#0003f8 835px,#0000e5 854px,#0000bf 883px,#00009a 917px,#000084 943px,#000084 945px)"></i><i style="left:1202px;top:230px;height:946px;background-image:linear-gradient(#d90000,#d70000 7px,#c30000 29px,#c10000 35px,#c00000 41px,#b20000 66px,#ae0000 75px,#a70000 79px,#9e0000 89px,#900 92px,#900000 102px,#8c0000 121px,#8e0000 127px,#900000 134px,#900 151px,#9d0000 161px,#b40000 194px,#bd0000 206px,#d40000 233px,#f20100 263px,#fb0e00 282px,#fe1d00 297px,#ff3c00 324px,#ff8b00 384px,#fefa01 465px,#f5ff0a 474px,#c9ff36 506px,#29ffd6 618px,#0cfef3 638px,#00f0ff 657px,#00c0ff 690px,#0060ff 760px,#0036ff 791px,#000ffe 821px,#0003f5 837px,#0000e1 857px,#0000bf 883px,#00009f 912px,#000084 942px,#000084 945px)"></i><i style="left:1204px;top:230px;height:946px;background-image:linear-gradient(#d90000,#d60000 7px,#c30000 29px,#c00000 35px,#c00000 40px,#b20000 65px,#ae0000 75px,#a60000 80px,#9e0000 89px,#980000 93px,#900000 102px,#8c0000 121px,#8e0000 127px,#8f0000 133px,#900 151px,#9d0000 161px,#b70000 198px,#d60000 235px,#f10100 261px,#fb0f00 283px,#fe2200 301px,#ff3f00 326px,#ff8e00 386px,#fef501 461px,#f1ff0e 477px,#c5ff3a 509px,#56ffa9 587px,#07fef8 641px,#00f5ff 653px,#00baff 694px,#0034ff 792px,#0011fe 820px,#0003f3 839px,#00d 860px,#0000be 884px,#000098 919px,#000084 943px,#000084 945px)"></i><i style="left:1206px;top:230px;height:947px;background-image:linear-gradient(#d80000,#d50000 7px,#c40000 27px,#c00000 35px,#bf0000 40px,#b20000 64px,#ad0000 75px,#a60000 80px,#9e0000 89px,#970000 93px,#900000 102px,#8b0000 121px,#8e0000 127px,#8f0000 133px,#9a0000 152px,#9d0000 162px,#b80000 199px,#d70000 235px,#f00100 260px,#fb1000 284px,#ff2800 306px,#ff4300 329px,#ff9100 388px,#fef001 458px,#ecff13 480px,#c0ff3f 512px,#57ffa8 586px,#17ffe8 630px,#02fefd 644px,#00f4ff 653px,#00b4ff 698px,#0030ff 795px,#0015fe 817px,#000df9 827px,#0002f1 841px,#0000d9 863px,#0000bd 885px,#000097 920px,#000084 944px,#000084 946px)"></i><i style="left:1208px;top:230px;height:947px;background-image:linear-gradient(#d80000,#d50000 7px,#c40000 26px,#bf0000 35px,#bf0000 40px,#b20000 63px,#ad0000 75px,#a50000 80px,#9e0000 89px,#970000 92px,#8f0000 103px,#8b0000 122px,#8d0000 128px,#910000 137px,#9a0000 153px,#9e0000 163px,#c20000 211px,#dc0000 240px,#ef0100 259px,#f90d00 278px,#fc1400 288px,#ff2e00 310px,#ff4800 332px,#ff9600 391px,#feed01 455px,#e7ff18 483px,#baff45 516px,#53ffac 588px,#12ffed 633px,#01fefe 645px,#00cbff 682px,#00afff 702px,#002bff 798px,#0018fe 815px,#000cf8 828px,#0002ed 844px,#0000d4 867px,#0000bc 886px,#000096 920px,#000084 944px,#000084 946px)"></i><i style="left:1210px;top:230px;height:947px;background-image:linear-gradient(#d70000,#d40000 7px,#c40000 25px,#be0000 35px,#be0000 40px,#b20000 62px,#ac0000 75px,#a40000 81px,#9b0000 90px,#970000 93px,#8f0000 102px,#8b0000 122px,#8d0000 128px,#8f0000 135px,#9a0000 154px,#9e0000 163px,#b00 201px,#c50000 214px,#df0000 242px,#ee0100 258px,#f90e00 279px,#fd1700 291px,#ff4000 325px,#ff4f00 337px,#ff9a00 394px,#fee901 452px,#f3f20c 466px,#e1ff1e 487px,#b5ff4a 519px,#53ffac 588px,#07fef8 641px,#00f6ff 651px,#0af 705px,#0027ff 801px,#0019fd 814px,#000bf6 830px,#0002eb 846px,#00c 873px,#0000ba 887px,#000096 920px,#000084 944px,#000084 946px)"></i><i style="left:1212px;top:230px;height:948px;background-image:linear-gradient(#d60000,#d40000 7px,#c40000 24px,#bd0000 36px,#bd0000 41px,#b20000 61px,#ac0000 75px,#a30000 81px,#9b0000 90px,#960000 93px,#8f0000 102px,#8b0000 122px,#8d0000 128px,#8e0000 134px,#9b0000 155px,#9f0000 165px,#b70000 195px,#c40000 213px,#e40000 247px,#ee0200 258px,#fa0f00 280px,#fe1900 293px,#ff4f00 337px,#ff7b00 370px,#ffa200 399px,#fee601 449px,#f0f30f 469px,#e4fa1b 482px,#dbff24 491px,#afff50 523px,#62ff9d 577px,#0dfef2 637px,#00f2ff 654px,#00a5ff 708px,#007fff 736px,#0047ff 777px,#0021ff 805px,#0012f9 822px,#0009f5 832px,#0001e8 848px,#0000c6 878px,#0000b8 889px,#000095 921px,#000084 945px,#000084 947px)"></i><i style="left:1214px;top:230px;height:948px;background-image:linear-gradient(#d60000,#d30000 7px,#c50000 22px,#bc0000 36px,#bc0000 41px,#b20000 60px,#ac0000 73px,#a70000 78px,#a30000 81px,#9b0000 90px,#960000 93px,#8f0000 102px,#8a0000 122px,#8c0000 128px,#8d0000 133px,#9b0000 155px,#a00000 166px,#b60000 194px,#c60000 215px,#ec0100 255px,#fa0e00 279px,#fe1b00 295px,#ff4b00 334px,#ff7600 365px,#ffa200 399px,#fee301 447px,#ecf413 472px,#e0f91f 483px,#d7ff28 494px,#a9ff56 527px,#64ff9b 575px,#12feed 634px,#00edff 657px,#00a1ff 711px,#007fff 736px,#003eff 783px,#0021ff 805px,#0015fa 819px,#0008f2 835px,#0001e5 851px,#0000b6 891px,#000095 921px,#000084 945px,#000084 947px)"></i><i style="left:1216px;top:230px;height:948px;background-image:linear-gradient(#d50000,#d30000 6px,#c40000 22px,#bc0000 36px,#bc0000 41px,#b10000 60px,#ad0000 72px,#a70000 78px,#a30000 81px,#900 91px,#8f0000 100px,#8a0000 122px,#8c0000 128px,#8d0000 133px,#9c0000 157px,#a10000 168px,#b60000 194px,#c00000 207px,#ca0000 219px,#ec0100 254px,#f70b00 273px,#fe1a00 294px,#ff5800 343px,#ff7a00 368px,#ffa700 402px,#fee001 444px,#e8f517 475px,#dbf924 487px,#d2ff2d 497px,#a4ff5b 530px,#65ff9a 574px,#17fee8 630px,#00e8ff 660px,#009cff 714px,#007aff 739px,#0022fe 804px,#0013f8 822px,#0007f0 837px,#0001e3 853px,#0000b3 893px,#000094 922px,#000084 945px,#000084 947px)"></i><i style="left:1218px;top:230px;height:949px;background-image:linear-gradient(#d50000,#d30000 6px,#c40000 21px,#b00 36px,#ba0000 42px,#b00000 60px,#ad0000 70px,#a70000 78px,#a20000 81px,#900 91px,#8f0000 99px,#8a0000 123px,#8c0000 129px,#8f0000 136px,#9d0000 159px,#a30000 170px,#b90000 197px,#c70000 216px,#ea0100 252px,#f80c00 274px,#ff1c00 296px,#ff5e00 347px,#ff7f00 371px,#ffab00 405px,#fedc01 441px,#f4e90b 457px,#e3f61c 479px,#d4fa2b 492px,#cf3 501px,#9eff61 534px,#60ff9f 577px,#1bfee4 627px,#11f5ee 641px,#00e3ff 664px,#0098ff 717px,#0071ff 745px,#003aff 786px,#0020fe 806px,#0011f7 824px,#0006ee 840px,#0000df 856px,#0000b2 894px,#000093 923px,#000084 946px,#000084 948px)"></i><i style="left:1220px;top:230px;height:949px;background-image:linear-gradient(#d40000,#d20000 6px,#c50000 19px,#ba0000 37px,#ba0000 42px,#b00000 60px,#ae0000 68px,#a60000 78px,#a20000 81px,#900 91px,#8f0000 99px,#8a0000 123px,#8b0000 129px,#8e0000 135px,#9e0000 160px,#a30000 171px,#c20000 208px,#cb0000 220px,#e90100 251px,#f80b00 273px,#ff1e00 297px,#ff6100 349px,#ff8200 373px,#ffb000 408px,#fed901 438px,#f1eb0e 460px,#e5f31a 474px,#ddf822 484px,#cdfc32 498px,#c5ff3a 506px,#96ff69 539px,#5bffa4 580px,#20fedf 623px,#0ff1f0 644px,#0ae8f5 654px,#00deff 667px,#0092ff 721px,#005cff 760px,#001efe 807px,#000ff6 826px,#0004ec 842px,#0000da 860px,#0000b0 896px,#000092 924px,#000084 946px,#000084 948px)"></i><i style="left:1222px;top:230px;height:950px;background-image:linear-gradient(#d30000,#d10000 6px,#c50000 18px,#b90000 37px,#ba0000 41px,#af0000 60px,#af0000 66px,#a60000 78px,#a20000 81px,#920000 96px,#8f0000 99px,#890000 123px,#8b0000 130px,#920000 142px,#9e0000 161px,#a40000 172px,#c30000 209px,#cf0000 223px,#ea0100 251px,#f50900 268px,#fc1300 283px,#ff1e00 296px,#ff6400 351px,#ff8700 376px,#ffb400 411px,#fed601 436px,#eded12 464px,#e1f41e 478px,#d7f928 488px,#c6fd39 503px,#b9ff46 514px,#80ff7f 554px,#53ffac 586px,#24fedb 620px,#0eedf1 647px,#0ae3f5 657px,#00d9ff 670px,#008cff 725px,#0058ff 763px,#001dfd 808px,#000df4 829px,#0003e9 845px,#0000d8 862px,#0000ae 897px,#009 917px,#000091 925px,#000083 947px,#000083 949px)"></i><i style="left:1224px;top:230px;height:950px;background-image:linear-gradient(#d30000,#d10000 6px,#c50000 17px,#b80000 37px,#b90000 41px,#af0000 60px,#af0000 65px,#a40000 79px,#900 90px,#920000 96px,#8f0000 99px,#890000 123px,#8b0000 130px,#8f0000 138px,#9f0000 162px,#a50000 173px,#c70000 213px,#d60000 230px,#ea0200 251px,#f60a00 269px,#ff1800 290px,#ff3600 315px,#ff6800 354px,#ff8e00 381px,#ffb900 414px,#fed301 434px,#f6df09 447px,#e9ef16 468px,#dcf623 482px,#d2fa2d 492px,#b6ff49 516px,#78ff87 559px,#4dffb2 590px,#28fed7 617px,#1ef7e1 628px,#0ce9f3 651px,#08dcf7 663px,#00d4ff 674px,#0086ff 729px,#0053ff 766px,#0023fd 803px,#0017fb 814px,#000af3 832px,#0002e7 848px,#0000c7 875px,#0000ab 900px,#000090 926px,#000084 948px,#000084 949px)"></i><i style="left:1226px;top:230px;height:950px;background-image:linear-gradient(#d20000,#d00000 6px,#c60000 15px,#b80000 37px,#b90000 41px,#ae0000 60px,#af0000 64px,#a40000 79px,#900 89px,#920000 96px,#8e0000 99px,#890000 124px,#8b0000 131px,#970000 150px,#a00000 163px,#a50000 174px,#c90000 215px,#d70000 231px,#e80200 249px,#f70b00 270px,#ff1800 290px,#ff4100 323px,#ff6d00 357px,#ff9500 386px,#ffbd00 417px,#fdd102 432px,#f5e10a 449px,#eaed15 465px,#e0f31f 476px,#cffb30 495px,#adff52 522px,#49ffb6 592px,#2cfed3 614px,#1df6e2 630px,#15edea 641px,#0be5f4 654px,#06d6f9 668px,#00cfff 677px,#0080ff 733px,#004eff 769px,#0027fe 800px,#0015fb 816px,#0008f1 835px,#0000e4 851px,#0000b3 892px,#00009b 915px,#00008f 927px,#000084 948px,#000084 949px)"></i><i style="left:1228px;top:230px;height:951px;background-image:linear-gradient(#d20000,#d00000 6px,#c00 9px,#c50000 16px,#b70000 37px,#b80000 41px,#ad0000 60px,#ae0000 64px,#a40000 79px,#980000 90px,#920000 96px,#8e0000 99px,#800 124px,#8b0000 130px,#8e0000 137px,#a10000 164px,#a50000 174px,#cb0000 217px,#d90000 233px,#e80200 249px,#f70a00 269px,#ff1900 290px,#ff4600 327px,#ff7400 362px,#ff9c00 391px,#ffc300 421px,#fbd204 434px,#f2e40d 453px,#e8ee17 467px,#e0f41f 477px,#d1fa2e 492px,#b0ff4f 519px,#6fff90 565px,#4fb 595px,#31fdce 611px,#1af3e5 634px,#13e9ec 645px,#09e0f6 658px,#05d0fa 673px,#00c9ff 681px,#0078ff 738px,#004aff 772px,#0024fe 802px,#0012fa 819px,#0006f0 837px,#0000e3 852px,#0000b1 893px,#00009a 916px,#00008e 928px,#000083 949px,#000083 950px)"></i><i style="left:1230px;top:230px;height:951px;background-image:linear-gradient(#d10000,#cf0000 6px,#cb0000 9px,#c50000 14px,#b60000 37px,#b80000 41px,#ad0000 60px,#ae0000 64px,#a40000 79px,#940000 93px,#900000 97px,#8d0000 102px,#800 124px,#8b0000 130px,#8e0000 137px,#a10000 165px,#a50000 174px,#cd0000 218px,#d90000 233px,#e90200 249px,#f40800 264px,#fe1300 283px,#ff3b00 318px,#ff7b00 367px,#ffa300 396px,#fecb01 427px,#f0e70f 456px,#e5f01a 470px,#ddf622 480px,#c2fe3d 505px,#6fff90 565px,#3fffc0 598px,#2ffcd0 613px,#17f0e8 637px,#11e4ee 649px,#08ddf7 661px,#03c9fc 679px,#00c2ff 686px,#0072ff 742px,#0045ff 775px,#0020fd 805px,#000ff9 822px,#0003ed 841px,#0000e2 852px,#0000b0 894px,#009 917px,#00008e 929px,#000084 949px,#000084 950px)"></i><i style="left:1232px;top:230px;height:951px;background-image:linear-gradient(#d10000,#ce0000 6px,#ca0000 9px,#c50000 13px,#b60000 37px,#b70000 41px,#ac0000 60px,#ad0000 64px,#a00000 83px,#9a0000 87px,#8d0000 100px,#800 124px,#8b0000 131px,#8e0000 138px,#a20000 166px,#a60000 175px,#cf0000 220px,#db0000 235px,#eb0200 251px,#fa0c00 272px,#ff1700 287px,#ff5100 335px,#ff8700 375px,#ffad00 403px,#fdc802 425px,#f8d707 439px,#edea12 460px,#e0f31f 475px,#d6f929 486px,#bdff42 509px,#63ff9c 573px,#3cffc3 600px,#2af9d5 618px,#15edea 641px,#0edff1 654px,#06d8f9 665px,#00bcff 690px,#006cff 746px,#0041ff 778px,#001dfd 807px,#000cf8 825px,#0000eb 845px,#0000ae 895px,#009 917px,#00008d 929px,#000084 949px,#000084 950px)"></i><i style="left:1234px;top:230px;height:952px;background-image:linear-gradient(#d00000,#ce0000 6px,#c50000 13px,#b50000 37px,#b60000 41px,#ac0000 60px,#ad0000 64px,#a00000 83px,#9a0000 87px,#8d0000 100px,#800 124px,#8b0000 131px,#8e0000 138px,#a30000 167px,#a70000 176px,#d10000 222px,#de0000 237px,#ed0300 253px,#fb0d00 274px,#ff1700 286px,#ff5800 340px,#ffb100 406px,#fdc602 423px,#f7db08 442px,#eee711 456px,#e7ee18 466px,#dcf623 480px,#c1ff3e 505px,#5bffa4 578px,#3dfec2 599px,#27f7d8 621px,#1cefe3 634px,#12e9ed 645px,#0bdaf4 660px,#05d3fa 669px,#00b7ff 693px,#0065ff 751px,#003dff 780px,#0019fc 810px,#0009f7 827px,#0000ec 844px,#0000ad 895px,#000097 918px,#00008c 930px,#000083 950px,#000083 951px)"></i><i style="left:1236px;top:230px;height:952px;background-image:linear-gradient(#cf0000,#cd0000 6px,#c40000 13px,#b50000 37px,#b60000 41px,#ab0000 60px,#ac0000 64px,#9e0000 84px,#9a0000 87px,#8d0000 100px,#870000 124px,#8b0000 131px,#8e0000 138px,#a30000 168px,#a90000 178px,#d40000 224px,#de0000 237px,#ef0300 255px,#fd0f00 277px,#ff1b00 289px,#ff5b00 342px,#ffb700 410px,#fcc803 425px,#f5de0a 445px,#ece813 458px,#e6f019 468px,#cffd30 493px,#bf4 509px,#52ffad 584px,#3afdc5 601px,#23f5dc 625px,#1aede5 637px,#0fe7f0 648px,#08d5f7 665px,#03cefc 673px,#00b4ff 695px,#04f 774px,#0016fd 811px,#000bf9 824px,#0000ef 841px,#0000ad 895px,#000095 920px,#00008b 931px,#000084 951px)"></i><i style="left:1238px;top:230px;height:952px;background-image:linear-gradient(#cf0000,#cd0000 6px,#c40000 13px,#b40000 37px,#b50000 41px,#ab0000 60px,#ac0000 64px,#9d0000 84px,#9a0000 87px,#8d0000 100px,#870000 124px,#8f0000 140px,#a50000 170px,#ab0000 180px,#d60000 226px,#e00000 238px,#f10300 256px,#ff1000 279px,#ff5a00 341px,#ffa200 394px,#fec001 417px,#fbcc04 428px,#f3e20c 449px,#e9ed16 463px,#e2f41d 473px,#cbff34 497px,#3ffec0 597px,#34facb 607px,#1ff2e0 629px,#15e9ea 642px,#0de4f2 652px,#04cffb 671px,#00baff 690px,#003aff 781px,#0013fc 813px,#0004f6 832px,#0000ef 841px,#0000ad 895px,#00008b 931px,#000084 950px,#000084 951px)"></i><i style="left:1240px;top:230px;height:953px;background-image:linear-gradient(#ce0000,#c00 6px,#c30000 13px,#b40000 37px,#b50000 41px,#a00 60px,#ab0000 64px,#9d0000 84px,#900 87px,#8d0000 99px,#870000 123px,#8e0000 139px,#a60000 172px,#b10000 186px,#d70000 227px,#e10000 239px,#f30300 258px,#ff1000 278px,#ff5c00 342px,#fa0 399px,#fec101 417px,#fbd004 431px,#f5df0a 445px,#efe810 455px,#e6f219 469px,#cf3 496px,#44febb 594px,#31face 609px,#1bf0e4 633px,#11e6ee 647px,#0ae0f5 656px,#00c4ff 682px,#0093ff 717px,#002fff 789px,#000efb 818px,#0001f5 835px,#0000c0 879px,#0000a9 899px,#00008a 932px,#000083 952px)"></i><i style="left:1242px;top:230px;height:953px;background-image:linear-gradient(#ce0000,#cb0000 6px,#c30000 12px,#b30000 37px,#b40000 41px,#a00 61px,#a00 65px,#9b0000 85px,#950000 90px,#8c0000 101px,#870000 122px,#8a0000 128px,#8e0000 139px,#a70000 173px,#b40000 189px,#da0000 229px,#e50000 242px,#f50400 260px,#ff0f00 277px,#ff5d00 342px,#ffb200 405px,#fdc402 419px,#f9d506 435px,#f3e20c 448px,#eeeb11 458px,#e3f61c 473px,#ceff31 494px,#48feb7 591px,#2df9d2 612px,#21f3de 626px,#17eee8 637px,#0ce2f3 653px,#07dbf8 661px,#00c3ff 682px,#008eff 720px,#002bff 792px,#000bfb 820px,#0000f5 835px,#0000c4 875px,#0000a6 902px,#00008a 932px,#000084 951px,#000084 952px)"></i><i style="left:1244px;top:230px;height:953px;background-image:linear-gradient(#cd0000,#cb0000 6px,#c20000 13px,#b20000 37px,#b30000 41px,#a00 60px,#a90000 65px,#9b0000 85px,#950000 90px,#8c0000 101px,#870000 122px,#8a0000 129px,#8d0000 138px,#a80000 174px,#ba0000 196px,#d00 232px,#ea0000 246px,#f80400 262px,#ff0f00 276px,#ff4200 319px,#ff6c00 353px,#ffb500 407px,#fec401 418px,#f9da06 438px,#f1e60e 452px,#ecef13 462px,#d7fe28 487px,#46feb9 592px,#28f8d7 616px,#1cf0e3 630px,#13ebec 641px,#08def7 658px,#01d1fe 671px,#0af 700px,#003eff 778px,#001cff 804px,#0007fb 823px,#0000f6 834px,#0000c2 876px,#0000a3 905px,#000089 932px,#000084 951px,#000084 952px)"></i><i style="left:1246px;top:230px;height:954px;background-image:linear-gradient(#c00,#cb0000 5px,#c10000 13px,#b20000 37px,#b30000 41px,#a00 60px,#a80000 66px,#9b0000 85px,#950000 90px,#8b0000 101px,#870000 121px,#890000 128px,#8b0000 134px,#930000 145px,#a90000 176px,#c40000 205px,#e00000 235px,#f30200 255px,#fa0600 265px,#ff0e00 275px,#ff4500 321px,#ff7500 359px,#ffb800 409px,#fec901 421px,#f8df07 442px,#efeb10 456px,#e9f316 466px,#d7ff28 487px,#41febe 595px,#30facf 609px,#23f7dc 620px,#17eee8 635px,#0fe9f0 645px,#01d5fe 669px,#0040ff 776px,#0018ff 806px,#0003fa 826px,#0000f6 833px,#0000d7 858px,#0000b5 888px,#0000a0 908px,#000089 933px,#000083 951px,#000083 953px)"></i><i style="left:1248px;top:229px;height:955px;background-image:linear-gradient(#c00,#cb0000 5px,#c10000 14px,#b10000 38px,#b20000 42px,#a00 59px,#a70000 68px,#970000 90px,#920000 93px,#8b0000 103px,#870000 121px,#890000 129px,#8c0000 136px,#b30000 188px,#c50000 207px,#e30000 238px,#f40100 257px,#fd0600 268px,#ff0f00 276px,#ff4900 325px,#ff7e00 366px,#ffbe00 414px,#fdce02 426px,#f9dd06 440px,#f4e60b 450px,#e7f718 471px,#d9ff26 486px,#3bfec4 600px,#2df9d2 613px,#1ef5e1 625px,#12eced 641px,#0ae6f5 651px,#00d5ff 670px,#00a2ff 706px,#001cff 803px,#0000fa 828px,#0000e4 849px,#0000c2 876px,#000097 918px,#008 936px,#000083 953px,#000083 954px)"></i><i style="left:1250px;top:229px;height:955px;background-image:linear-gradient(#c00,#ca0000 5px,#bf0000 15px,#b10000 38px,#b20000 42px,#a00 58px,#a50000 70px,#970000 90px,#920000 93px,#8f0000 96px,#8b0000 103px,#870000 121px,#890000 129px,#900000 143px,#b50000 191px,#c70000 209px,#f60100 257px,#ff0700 270px,#ff1c00 287px,#ff4e00 328px,#ff9500 383px,#ffca00 422px,#fdd502 431px,#f8e207 444px,#f2ec0d 455px,#e5fb1a 475px,#dcff23 484px,#37fec8 602px,#28f7d7 617px,#1af5e5 628px,#06e2f9 656px,#00d6ff 669px,#0098ff 713px,#003eff 778px,#000efe 814px,#0000fa 828px,#0000df 853px,#0000c0 877px,#000091 924px,#000087 938px,#000083 953px,#000083 954px)"></i><i style="left:1252px;top:229px;height:956px;background-image:linear-gradient(#cb0000,#ca0000 4px,#bf0000 15px,#b00000 38px,#b10000 42px,#a00 57px,#a40000 71px,#950000 91px,#8b0000 100px,#870000 119px,#800 129px,#8c0000 136px,#910000 144px,#b70000 193px,#c80000 210px,#f70000 258px,#ff0500 269px,#ff1c00 286px,#ff5100 330px,#ffc000 415px,#fed801 432px,#f8e507 446px,#f3ee0c 456px,#e3ff1c 478px,#38fec7 601px,#2cfbd3 611px,#1ef6e1 624px,#14f2eb 633px,#00deff 662px,#00b3ff 693px,#003cff 779px,#0015ff 808px,#0002fc 824px,#0000ea 843px,#0000bc 880px,#00008f 927px,#000086 939px,#000083 954px,#000083 955px)"></i><i style="left:1254px;top:229px;height:956px;background-image:linear-gradient(#ca0000,#c90000 4px,#be0000 16px,#b00000 38px,#b10000 42px,#a00 55px,#a40000 70px,#960000 90px,#8b0000 99px,#870000 117px,#800 129px,#8c0000 136px,#910000 144px,#b90000 195px,#c90000 211px,#f90000 259px,#ff0500 269px,#ff1f00 288px,#ff5400 332px,#ffcf00 425px,#fede01 436px,#f6eb09 451px,#f1f50e 462px,#e5ff1a 477px,#3dfec2 597px,#28fcd7 613px,#19f4e6 628px,#10f1ef 637px,#00dfff 661px,#0048ff 770px,#0013ff 809px,#0003fe 822px,#0000ec 840px,#0000d2 862px,#0000bc 879px,#00008f 926px,#000086 939px,#000083 954px,#000083 955px)"></i><i style="left:1256px;top:229px;height:956px;background-image:linear-gradient(#ca0000,#c80000 4px,#bd0000 16px,#af0000 38px,#b00000 42px,#a90000 55px,#a40000 69px,#900 86px,#8f0000 96px,#8b0000 99px,#870000 117px,#890000 130px,#8d0000 137px,#920000 146px,#bc0000 198px,#ca0000 212px,#ec0000 245px,#fe0100 264px,#ff0f00 276px,#ff2300 291px,#ff5a00 336px,#ffdb00 433px,#fce503 442px,#f0f90f 465px,#e9ff16 474px,#3afec5 598px,#22fbdd 617px,#12f3ed 634px,#09eef6 643px,#00e3ff 658px,#0046ff 771px,#01f 811px,#0004ff 820px,#0000ea 841px,#0000cf 864px,#0000bc 879px,#000090 925px,#000085 940px,#000083 955px)"></i><i style="left:1258px;top:229px;height:957px;background-image:linear-gradient(#c90000,#c80000 4px,#bc0000 17px,#ae0000 38px,#af0000 42px,#a90000 55px,#a50000 67px,#9d0000 80px,#8f0000 96px,#8b0000 99px,#870000 116px,#890000 130px,#8d0000 137px,#910000 145px,#be0000 200px,#c00 214px,#f00000 248px,#ff0100 264px,#ff1800 282px,#ff6000 340px,#fee701 442px,#effe10 469px,#34fecb 602px,#1cfbe3 621px,#05edfa 647px,#00e5ff 656px,#009fff 706px,#003bff 779px,#0006fe 819px,#00e 836px,#00c 866px,#0000b9 881px,#000090 925px,#000084 941px,#000083 956px)"></i><i style="left:1260px;top:229px;height:957px;background-image:linear-gradient(#c80000,#c70000 4px,#b00 17px,#ae0000 38px,#af0000 42px,#a80000 55px,#a50000 66px,#9d0000 80px,#8a0000 100px,#870000 115px,#890000 130px,#8d0000 137px,#910000 145px,#bf0000 201px,#cd0000 215px,#e40000 236px,#ff0100 263px,#ff1900 283px,#ff2b00 297px,#ff6700 345px,#feed01 446px,#f0ff0f 468px,#2efed1 606px,#16fae9 625px,#00ecff 650px,#009dff 707px,#003cff 778px,#000afe 816px,#0003f7 826px,#0000e1 847px,#0000c7 870px,#0000b5 885px,#000095 918px,#000084 941px,#000083 956px)"></i><i style="left:1262px;top:229px;height:957px;background-image:linear-gradient(#c70000,#c60000 4px,#ba0000 17px,#ad0000 38px,#ae0000 42px,#a80000 55px,#a70000 62px,#9d0000 80px,#970000 86px,#8d0000 97px,#8a0000 101px,#870000 114px,#800 130px,#8d0000 137px,#900000 144px,#c00000 201px,#cd0000 215px,#de0000 229px,#fe0100 262px,#ff1900 283px,#ff2c00 298px,#ff6d00 349px,#fef201 449px,#f3ff0c 466px,#27fed8 610px,#10faef 629px,#00edff 649px,#003dff 777px,#000efe 814px,#0003f4 828px,#0000dc 851px,#0000c0 875px,#0000a3 902px,#000084 940px,#000083 956px)"></i><i style="left:1264px;top:229px;height:958px;background-image:linear-gradient(#c60000,#c50000 4px,#b80000 19px,#ad0000 38px,#ae0000 42px,#a70000 55px,#a70000 60px,#9d0000 80px,#980000 84px,#920000 92px,#8a0000 100px,#870000 113px,#890000 131px,#8e0000 138px,#920000 146px,#c20000 203px,#ce0000 216px,#de0000 229px,#fd0100 260px,#f10 276px,#ff2f00 300px,#ff4700 319px,#ff7900 358px,#fef701 453px,#f7ff08 463px,#22fedd 613px,#0afaf5 633px,#00f1ff 646px,#003aff 779px,#0010fe 812px,#0003f0 831px,#0000d8 854px,#0000ae 891px,#00009f 907px,#000084 940px,#000083 957px)"></i><i style="left:1266px;top:229px;height:958px;background-image:linear-gradient(#c50000,#c40000 4px,#b60000 21px,#ac0000 38px,#ad0000 42px,#a60000 55px,#a70000 60px,#9d0000 79px,#970000 85px,#940000 89px,#890000 101px,#870000 113px,#8a0000 132px,#8e0000 139px,#930000 147px,#c80000 210px,#d20000 219px,#e10000 231px,#fb0100 258px,#f10 276px,#f30 303px,#ff4b00 322px,#ff9600 379px,#fefc01 456px,#f8ff07 462px,#1cfee3 617px,#04f9fb 637px,#00f3ff 644px,#003fff 775px,#0012fe 810px,#0002ed 833px,#0000d2 859px,#0000a2 902px,#00008b 931px,#000083 942px,#000083 957px)"></i><i style="left:1268px;top:229px;height:958px;background-image:linear-gradient(#c40000,#c30000 4px,#b00000 30px,#ab0000 38px,#ad0000 42px,#a60000 55px,#a70000 59px,#9d0000 78px,#9b0000 81px,#970000 85px,#940000 89px,#890000 101px,#860000 113px,#8a0000 132px,#8e0000 139px,#930000 147px,#ca0000 212px,#e20000 232px,#fa0100 257px,#ff1300 277px,#ff3700 306px,#ff9100 375px,#feff01 457px,#16fee9 621px,#00f9ff 639px,#003fff 774px,#0015fe 808px,#000cf5 821px,#0002eb 835px,#0000c9 866px,#00009d 906px,#000083 941px,#000083 957px)"></i><i style="left:1270px;top:229px;height:959px;background-image:linear-gradient(#c30000,#c20000 4px,#ab0000 37px,#ac0000 42px,#a50000 55px,#a60000 59px,#9d0000 78px,#9b0000 81px,#970000 84px,#940000 89px,#890000 101px,#860000 113px,#8b0000 133px,#8f0000 140px,#930000 147px,#c90000 211px,#da0000 225px,#f90100 255px,#ff1600 279px,#ff5700 330px,#ffb600 402px,#fffb00 453px,#f4ff0b 464px,#12feed 623px,#01fbfe 637px,#00a4ff 701px,#003dff 775px,#0017fe 805px,#000bf3 823px,#0002e7 838px,#0000be 876px,#00009a 909px,#000084 941px,#000083 958px)"></i><i style="left:1272px;top:229px;height:959px;background-image:linear-gradient(#c20000,#c10000 4px,#a00 38px,#ab0000 42px,#a50000 55px,#a60000 59px,#9d0000 77px,#9b0000 81px,#970000 84px,#940000 89px,#8f0000 93px,#8d0000 97px,#890000 101px,#860000 114px,#8b0000 133px,#8f0000 140px,#930000 147px,#ca0000 211px,#da0000 225px,#ec0000 241px,#f80100 254px,#ff1800 280px,#ff5a00 332px,#ffc200 410px,#fefa01 452px,#ef1 468px,#c3ff3c 498px,#09fef6 629px,#03fbfc 635px,#00eaff 649px,#0039ff 778px,#0019fe 804px,#000af1 825px,#0001e3 841px,#00009c 906px,#008 934px,#000083 944px,#000083 958px)"></i><i style="left:1274px;top:229px;height:958px;background-image:linear-gradient(#c20000,#c00000 4px,#a00 38px,#ab0000 42px,#a40000 55px,#a50000 59px,#9d0000 77px,#9b0000 81px,#960000 84px,#940000 89px,#900000 92px,#8d0000 97px,#800 101px,#860000 114px,#8b0000 134px,#8f0000 141px,#950000 150px,#c90000 210px,#da0000 225px,#e90000 237px,#f70100 252px,#ff1800 279px,#ff2f00 298px,#ff8b00 369px,#fc0 417px,#fef801 450px,#e8ff17 472px,#bdff42 502px,#07fef8 630px,#00e7ff 651px,#0036ff 780px,#001bfe 802px,#0009ee 828px,#0001df 844px,#000098 911px,#000087 935px,#000083 945px,#000083 957px)"></i><i style="left:1276px;top:229px;height:957px;background-image:linear-gradient(#c10000,#bf0000 5px,#a90000 38px,#a00 42px,#a30000 55px,#a50000 59px,#9d0000 77px,#9a0000 81px,#960000 85px,#920000 90px,#800 102px,#850000 114px,#870000 121px,#8c0000 135px,#940000 149px,#ca0000 210px,#d00 227px,#ec0000 240px,#f60100 251px,#fd1400 273px,#ff2600 291px,#ff5100 324px,#ffba00 404px,#fff400 446px,#e3ff1c 475px,#b8ff47 505px,#09fef6 628px,#00e1ff 655px,#007eff 727px,#0029ff 789px,#001dfd 800px,#0011f5 816px,#0008eb 831px,#0001db 847px,#000096 913px,#000087 935px,#000083 946px,#000083 956px)"></i><i style="left:1278px;top:229px;height:956px;background-image:linear-gradient(#c00000,#bd0000 6px,#a90000 38px,#a00 42px,#a30000 55px,#a40000 59px,#9c0000 77px,#900 82px,#920000 90px,#8e0000 94px,#8c0000 98px,#800 101px,#850000 115px,#870000 121px,#8c0000 135px,#960000 151px,#cb0000 211px,#de0000 228px,#ed0000 240px,#f50200 250px,#fd1300 271px,#ff2e00 297px,#ff5200 324px,#ff8500 364px,#ffd700 424px,#fef301 445px,#df2 479px,#b2ff4d 509px,#0cfef3 626px,#05effa 641px,#00dbff 659px,#007dff 727px,#0029ff 789px,#001dfd 800px,#000ff2 819px,#0007e9 833px,#0000d7 850px,#000094 914px,#000087 934px,#000083 947px,#000083 955px)"></i><i style="left:1280px;top:229px;height:955px;background-image:linear-gradient(#bf0000,#bd0000 6px,#a80000 38px,#a90000 42px,#a30000 56px,#a30000 60px,#9a0000 81px,#950000 85px,#940000 89px,#8e0000 93px,#8c0000 98px,#800 101px,#850000 115px,#870000 121px,#8d0000 136px,#960000 151px,#c00 211px,#e00000 229px,#ef0000 242px,#f50300 250px,#fa0c00 262px,#f20 286px,#ff3800 304px,#ff5a00 330px,#ff8b00 368px,#ffdb00 427px,#fef101 442px,#ebf914 463px,#d5ff2a 484px,#abff54 513px,#10feef 623px,#06eff9 640px,#00d5ff 663px,#0084ff 722px,#002bff 787px,#001cfc 801px,#000ef0 821px,#0005e5 836px,#0000d2 854px,#00009d 905px,#00008f 921px,#000087 934px,#000083 949px,#000083 954px)"></i><i style="left:1282px;top:229px;height:954px;background-image:linear-gradient(#be0000,#bc0000 6px,#a70000 38px,#a90000 42px,#a20000 56px,#a20000 60px,#9a0000 81px,#950000 85px,#920000 90px,#8e0000 93px,#8c0000 98px,#800 101px,#860000 108px,#840000 115px,#870000 121px,#8d0000 136px,#980000 153px,#cb0000 210px,#e10000 230px,#f10000 243px,#fa0d00 263px,#ff2600 289px,#ff3e00 308px,#ff6000 334px,#ff8900 366px,#ffe100 431px,#fdef02 441px,#e5fa1a 467px,#cfff30 488px,#a5ff5a 517px,#72ff8d 553px,#13feec 620px,#06e9f9 644px,#00ceff 668px,#0083ff 722px,#0031ff 782px,#0022fd 795px,#0018f7 807px,#000cee 824px,#0004e2 839px,#0000ce 857px,#00a 892px,#00008e 921px,#000087 933px,#000083 950px,#000083 953px)"></i><i style="left:1284px;top:229px;height:953px;background-image:linear-gradient(#be0000,#bc0000 6px,#a70000 38px,#a80000 42px,#a20000 56px,#a10000 61px,#980000 82px,#940000 86px,#920000 90px,#8e0000 93px,#8c0000 98px,#870000 101px,#860000 108px,#840000 115px,#870000 121px,#8e0000 137px,#920000 144px,#900 154px,#cb0000 209px,#e40000 232px,#f10000 243px,#fb0f00 265px,#ff2a00 292px,#f40 312px,#ff6500 338px,#ff8900 366px,#feeb01 438px,#f3f20c 450px,#e0fa1f 471px,#c8ff37 492px,#a0ff5f 520px,#6aff95 558px,#3cffc3 591px,#16fee9 618px,#05e4fa 648px,#00c8ff 672px,#009eff 702px,#0032ff 780px,#0024fd 793px,#0016f6 809px,#0009ea 828px,#0003df 842px,#0000cb 860px,#0000a8 893px,#00008b 924px,#000087 934px,#000083 951px,#000083 952px)"></i><i style="left:1286px;top:229px;height:953px;background-image:linear-gradient(#bd0000,#b00 6px,#a70000 38px,#a70000 42px,#a10000 56px,#a00000 62px,#900 81px,#940000 86px,#920000 90px,#8e0000 93px,#8a0000 99px,#870000 102px,#870000 108px,#840000 114px,#870000 122px,#8e0000 137px,#900 155px,#c90000 207px,#e50000 233px,#f00100 242px,#fb1100 267px,#ff2f00 295px,#ff4900 316px,#ff6b00 342px,#ff8a00 366px,#fee701 435px,#f0f20f 452px,#d9fb26 476px,#c2ff3d 496px,#98ff67 525px,#5effa1 566px,#1bffe4 614px,#10f2ef 630px,#05defa 652px,#00c2ff 676px,#0098ff 706px,#002fff 782px,#001bf9 803px,#0013f3 813px,#0007e8 831px,#0001dc 845px,#0000c6 864px,#0000a6 894px,#000089 927px,#000083 950px,#000083 952px)"></i><i style="left:1288px;top:229px;height:952px;background-image:linear-gradient(#bd0000,#ba0000 6px,#a70000 37px,#a60000 43px,#a10000 57px,#900 80px,#940000 87px,#8d0000 95px,#8a0000 99px,#870000 102px,#860000 109px,#840000 114px,#8e0000 138px,#930000 145px,#900 154px,#c90000 206px,#e70000 234px,#f00200 243px,#fc1200 268px,#ff3200 297px,#ff4e00 319px,#ff7000 345px,#ff8a00 366px,#fee401 433px,#ebf414 456px,#d3fb2c 480px,#baff45 501px,#8dff72 533px,#30ffcf 598px,#1dfee2 613px,#0feef0 633px,#04d9fb 656px,#00bcff 680px,#002eff 782px,#0013f5 811px,#0006e5 834px,#0000d8 848px,#0000c9 861px,#0000a3 896px,#000087 928px,#000083 951px)"></i><i style="left:1290px;top:229px;height:951px;background-image:linear-gradient(#bc0000,#ba0000 6px,#a60000 37px,#a60000 43px,#900 79px,#900000 91px,#8d0000 95px,#870000 103px,#860000 109px,#840000 113px,#870000 124px,#8f0000 139px,#940000 146px,#9a0000 156px,#c90000 206px,#e90000 236px,#f20500 246px,#fc1500 270px,#ff3600 300px,#ff5200 322px,#ff7600 349px,#ff9500 373px,#fee201 431px,#e6f519 460px,#ccfc33 485px,#b4ff4b 505px,#87ff78 536px,#29ffd6 603px,#20fddf 611px,#0ee9f1 637px,#07dbf8 652px,#03d1fc 662px,#00b4ff 685px,#0030ff 780px,#001bf8 802px,#000ef0 818px,#0003e1 839px,#0000d7 849px,#0000c7 862px,#0000a2 896px,#000087 928px,#000083 950px)"></i><i style="left:1292px;top:229px;height:950px;background-image:linear-gradient(#b00,#b90000 6px,#a60000 36px,#a50000 44px,#900 78px,#900000 91px,#8c0000 95px,#870000 104px,#870000 109px,#840000 113px,#8a0000 129px,#900000 140px,#9a0000 156px,#ca0000 206px,#eb0100 238px,#f30600 248px,#fd1700 272px,#ff3c00 304px,#ff5800 326px,#ff7d00 354px,#ffa600 385px,#fedf01 428px,#f3e80c 443px,#e1f61e 464px,#c5fd3a 490px,#acff53 510px,#81ff7e 540px,#48ffb7 580px,#24ffdb 606px,#0ce4f3 641px,#06d5f9 656px,#03cbfc 666px,#00aeff 689px,#0083ff 720px,#0030ff 780px,#0018f6 805px,#000cef 820px,#0000dc 844px,#0000c4 864px,#0000a1 897px,#00008c 922px,#000087 928px,#000084 949px)"></i><i style="left:1294px;top:229px;height:949px;background-image:linear-gradient(#b00,#b90000 6px,#a60000 35px,#a30000 45px,#900 77px,#900000 91px,#8c0000 94px,#8a0000 100px,#870000 104px,#860000 110px,#850000 115px,#8a0000 129px,#920000 142px,#900 155px,#ca0000 206px,#e90100 237px,#f40800 250px,#fd1a00 275px,#ff5000 320px,#ff8100 357px,#fa0 388px,#fedd01 426px,#f0ea0f 446px,#dcf723 468px,#bdfe42 496px,#a4ff5b 515px,#79ff86 545px,#40ffbf 585px,#26ffd9 604px,#18efe7 625px,#0bdef4 646px,#05cffa 661px,#02c3fd 672px,#00a7ff 694px,#007cff 724px,#0031fe 779px,#0016f5 807px,#000aec 824px,#0000dc 844px,#0000c1 866px,#00009e 899px,#00008a 924px,#000086 931px,#000084 948px)"></i><i style="left:1296px;top:229px;height:948px;background-image:linear-gradient(#ba0000,#b80000 6px,#a50000 35px,#a00000 57px,#900 77px,#900000 91px,#8c0000 94px,#890000 101px,#850000 111px,#860000 119px,#8a0000 130px,#960000 148px,#9b0000 156px,#cd0000 208px,#e90100 236px,#f50900 252px,#fe1d00 277px,#ff5b00 328px,#fedb01 424px,#ecec13 450px,#def421 464px,#d4f92b 474px,#b5fe4a 502px,#9bff64 521px,#70ff8f 551px,#37ffc8 591px,#27fed8 603px,#16ece9 628px,#09d9f6 650px,#01bffe 675px,#00a2ff 697px,#0076ff 728px,#0033fe 777px,#0016f6 806px,#0007ea 827px,#0000dc 843px,#0000be 868px,#00009d 900px,#000086 929px,#000084 947px)"></i><i style="left:1298px;top:229px;height:947px;background-image:linear-gradient(#ba0000,#b70000 6px,#a50000 35px,#9c0000 69px,#900000 91px,#8c0000 94px,#890000 101px,#850000 112px,#890000 129px,#960000 149px,#9b0000 156px,#ce0000 209px,#e80200 235px,#f60b00 254px,#ff2000 280px,#ff4300 308px,#ff6000 331px,#fed801 421px,#e8ee17 454px,#d9f526 468px,#cffa30 478px,#adff52 508px,#6bff94 554px,#32ffcd 594px,#27fcd8 604px,#14e7eb 633px,#07d3f8 655px,#01b6fe 681px,#0095ff 705px,#0036ff 774px,#001ff9 796px,#000ff1 815px,#0005e8 830px,#0000dc 842px,#0000c2 864px,#00009b 902px,#000086 930px,#000084 946px)"></i><i style="left:1300px;top:229px;height:947px;background-image:linear-gradient(#b90000,#b70000 6px,#a40000 35px,#a20000 45px,#900 74px,#900000 91px,#8c0000 94px,#870000 106px,#860000 117px,#8a0000 130px,#970000 149px,#9b0000 156px,#d00000 211px,#e70100 233px,#f80c00 256px,#ff2100 281px,#ff4600 309px,#ff6300 333px,#fed601 419px,#f1e40e 439px,#e3f01c 458px,#d3f72c 473px,#c8fb37 484px,#a8ff57 511px,#63ff9c 559px,#2dfed2 598px,#20f5df 613px,#11e2ee 637px,#09d5f6 652px,#01b9fe 678px,#008fff 709px,#0037ff 773px,#001cf7 799px,#000bef 819px,#0002e6 833px,#0000d9 844px,#0000b8 873px,#000098 904px,#000086 931px,#000083 946px)"></i><i style="left:1302px;top:229px;height:946px;background-image:linear-gradient(#b80000,#b60000 6px,#a40000 35px,#a30000 42px,#a00000 49px,#9a0000 73px,#920000 88px,#8b0000 96px,#870000 106px,#860000 117px,#8a0000 131px,#970000 150px,#9f0000 160px,#d20000 212px,#e50100 230px,#f90d00 257px,#f20 281px,#ff4b00 313px,#ff6700 336px,#fed401 417px,#efe610 442px,#dff220 462px,#cef931 478px,#b9fe46 497px,#8aff75 531px,#5dffa2 562px,#31fece 595px,#1df1e2 617px,#14e6eb 632px,#0dd8f2 647px,#04c8fb 664px,#00abff 689px,#003bff 769px,#002afc 784px,#0017f6 803px,#0008ed 823px,#0000e4 836px,#0000b7 872px,#0000a7 889px,#000096 906px,#000086 931px,#000084 945px)"></i><i style="left:1304px;top:229px;height:945px;background-image:linear-gradient(#b80000,#b60000 6px,#a30000 35px,#a30000 40px,#9f0000 49px,#9f0000 55px,#9a0000 73px,#920000 86px,#8e0000 92px,#8b0000 96px,#870000 107px,#860000 118px,#8b0000 132px,#900 152px,#d00000 211px,#e20000 226px,#f10800 247px,#fa1000 261px,#ff2300 281px,#ff5300 319px,#ff6c00 339px,#fed201 415px,#ebe914 446px,#daf525 467px,#befe41 492px,#8aff75 531px,#5bffa4 563px,#33fecc 593px,#1beee4 621px,#12e2ed 635px,#0bd6f4 649px,#03c2fc 669px,#00a7ff 691px,#003bfe 769px,#0026fb 787px,#0013f4 807px,#0003ea 828px,#0000e4 836px,#0000c8 858px,#0000b2 877px,#000095 907px,#00008a 923px,#000085 934px,#000084 944px)"></i><i style="left:1306px;top:229px;height:944px;background-image:linear-gradient(#b70000,#b50000 6px,#a20000 35px,#a30000 40px,#9f0000 49px,#9f0000 55px,#9d0000 60px,#9a0000 73px,#920000 85px,#900000 91px,#8b0000 95px,#870000 108px,#870000 119px,#8d0000 134px,#a10000 161px,#d50000 215px,#e30100 227px,#eb0400 237px,#fb0f00 261px,#ff2300 280px,#ff4500 307px,#ff6e00 340px,#fecf01 413px,#ece913 445px,#d6f729 471px,#b8ff47 497px,#7cff83 540px,#4fffb0 571px,#35feca 591px,#18ebe7 625px,#10deef 639px,#09d1f6 653px,#01bafe 676px,#0076ff 725px,#0039fe 770px,#0022fb 790px,#000ff2 811px,#0000e8 832px,#0000b1 877px,#0000a2 892px,#000092 910px,#00008a 923px,#000085 935px,#000084 943px)"></i><i style="left:1308px;top:229px;height:943px;background-image:linear-gradient(#b70000,#b50000 6px,#a20000 35px,#a30000 39px,#9e0000 49px,#9f0000 54px,#9c0000 60px,#9a0000 73px,#940000 80px,#8e0000 92px,#8a0000 97px,#870000 110px,#870000 119px,#8d0000 135px,#a20000 162px,#d70000 216px,#e40100 228px,#ed0400 239px,#fc1200 264px,#ff2400 280px,#f40 306px,#ff7100 342px,#fecc01 410px,#f2e00d 433px,#e3ef1c 455px,#d1f92e 475px,#b5ff4a 498px,#76ff89 544px,#4affb5 574px,#37fdc8 589px,#26f3d9 609px,#15e7ea 629px,#0dd9f2 644px,#06cbf9 659px,#00b7ff 678px,#006cff 732px,#0034fe 773px,#001efa 793px,#000bf1 815px,#0000e8 831px,#0000ad 880px,#0000a2 892px,#000090 911px,#000089 924px,#000084 938px,#000084 942px)"></i><i style="left:1310px;top:229px;height:942px;background-image:linear-gradient(#b60000,#b40000 6px,#a10000 35px,#a20000 39px,#9e0000 49px,#9f0000 53px,#9c0000 60px,#900 73px,#940000 79px,#8f0000 92px,#8a0000 97px,#870000 111px,#870000 121px,#8f0000 137px,#a40000 164px,#d90000 218px,#e50100 229px,#ee0400 240px,#fe1400 267px,#ff7000 341px,#ffa100 377px,#fecc01 410px,#efe310 437px,#def221 460px,#ccfb33 480px,#b6ff49 497px,#6eff91 549px,#4fb 578px,#37fcc8 589px,#23f1dc 612px,#12e3ed 634px,#0ad3f5 650px,#00b9ff 676px,#0064ff 737px,#0031fe 775px,#001af9 797px,#0006ef 820px,#0000e8 830px,#00a 882px,#0000a2 892px,#00008f 911px,#000089 924px,#000084 938px,#000084 941px)"></i><i style="left:1312px;top:229px;height:941px;background-image:linear-gradient(#b60000,#b30000 6px,#a10000 35px,#a20000 39px,#9d0000 49px,#9e0000 53px,#9b0000 60px,#9b0000 66px,#980000 74px,#930000 80px,#8d0000 93px,#890000 98px,#870000 119px,#8f0000 138px,#a70000 167px,#da0000 219px,#e70200 230px,#f10600 243px,#ff1500 268px,#ff3a00 297px,#ff7f00 351px,#fec901 407px,#eee511 439px,#daf525 465px,#c6fe39 485px,#8dff72 526px,#63ff9c 556px,#3fffc0 581px,#20efdf 616px,#14e5eb 631px,#0ddcf2 641px,#00beff 671px,#0039fe 768px,#0027fc 784px,#0016f8 800px,#0001ed 825px,#0000ca 855px,#0000a9 883px,#0000a0 893px,#00008f 911px,#000084 934px,#000084 940px)"></i><i style="left:1314px;top:229px;height:940px;background-image:linear-gradient(#b50000,#b30000 6px,#a00000 35px,#a10000 39px,#9c0000 49px,#9e0000 53px,#9a0000 60px,#9b0000 65px,#900 71px,#980000 74px,#930000 79px,#8e0000 93px,#890000 98px,#870000 119px,#900000 139px,#ac0000 172px,#d00 221px,#e90200 232px,#f30600 245px,#ff1500 268px,#ff3b00 297px,#ff5e00 325px,#ff8500 355px,#fec701 405px,#f5d90a 424px,#e9ea16 445px,#d5f82a 470px,#c3ff3c 488px,#9f6 517px,#5fffa0 558px,#41ffbe 579px,#2df6d2 600px,#1cebe3 621px,#10e1ef 636px,#09d6f6 648px,#00beff 671px,#0039fe 768px,#0022fc 787px,#0012f8 803px,#0000ec 825px,#0000a7 884px,#00009e 895px,#00008e 911px,#000084 938px,#000084 939px)"></i><i style="left:1316px;top:229px;height:940px;background-image:linear-gradient(#b40000,#b20000 6px,#a00000 35px,#a10000 39px,#9c0000 49px,#9d0000 53px,#9a0000 60px,#9b0000 64px,#980000 71px,#980000 74px,#930000 78px,#8d0000 94px,#800 99px,#800 121px,#900000 140px,#b20000 178px,#e10100 224px,#ec0200 234px,#f50700 247px,#ff1400 267px,#ff4200 302px,#ff6400 329px,#fec501 403px,#f3dd0c 428px,#e5ed1a 450px,#d0fb2f 476px,#c3ff3c 488px,#92ff6d 521px,#59ffa6 562px,#41febe 578px,#2af4d5 603px,#17e7e8 626px,#08d7f7 648px,#00bfff 669px,#0035fe 770px,#001efc 790px,#000df7 807px,#0000ed 824px,#0000a6 885px,#00009c 896px,#00008e 910px,#000086 928px,#000084 939px)"></i><i style="left:1318px;top:229px;height:939px;background-image:linear-gradient(#b40000,#b20000 6px,#9f0000 35px,#a00000 39px,#9c0000 50px,#9c0000 54px,#9a0000 61px,#9a0000 65px,#980000 71px,#980000 74px,#930000 78px,#8d0000 94px,#800 99px,#800 122px,#910000 141px,#b50000 180px,#e40100 227px,#ee0300 236px,#f70800 249px,#ff1400 266px,#f60 330px,#ffa800 380px,#fec501 403px,#f1e00e 431px,#e1f11e 455px,#caff35 482px,#86ff79 529px,#51ffae 567px,#3efdc1 581px,#26f2d9 607px,#13e3ec 632px,#05d2fa 653px,#00c2ff 667px,#0030fe 773px,#0018fb 795px,#0008f6 811px,#00e 822px,#0000a3 887px,#00009a 898px,#00008d 911px,#000084 938px)"></i><i style="left:1320px;top:229px;height:938px;background-image:linear-gradient(#b30000,#b10000 6px,#9f0000 35px,#9f0000 40px,#9b0000 50px,#9b0000 55px,#900 61px,#900 65px,#970000 71px,#970000 74px,#930000 78px,#8c0000 95px,#800 100px,#890000 122px,#920000 142px,#b70000 182px,#e50100 228px,#f00300 237px,#f90800 251px,#ff1300 264px,#ff2b00 284px,#ff4d00 310px,#ff6800 331px,#ffad00 383px,#fdc402 402px,#f0e20f 433px,#ddf522 461px,#cbff34 481px,#7cff83 536px,#44febb 576px,#36f9c9 589px,#21efde 612px,#0ee0f1 637px,#02cffd 657px,#00c0ff 668px,#002afe 777px,#0012fa 799px,#0004f5 814px,#0000ef 821px,#0000ac 878px,#00009e 893px,#00008c 911px,#000084 937px)"></i><i style="left:1322px;top:229px;height:937px;background-image:linear-gradient(#b30000,#b00000 6px,#9e0000 35px,#9f0000 40px,#9a0000 50px,#9a0000 55px,#900 61px,#980000 66px,#960000 71px,#970000 74px,#920000 78px,#8c0000 95px,#800 100px,#890000 123px,#930000 143px,#b90000 184px,#e60100 228px,#f30300 240px,#fb0900 253px,#ff1200 263px,#ff2e00 286px,#ff5100 313px,#ff6b00 333px,#ffb000 385px,#fdc402 402px,#f6d509 419px,#ece813 440px,#d9f926 466px,#cbff34 480px,#73ff8c 542px,#47feb8 574px,#32f8cd 592px,#1cece3 617px,#0adcf5 642px,#0cf 660px,#0af 683px,#0026fe 780px,#000cfa 804px,#0000f5 817px,#0000c9 852px,#00009e 892px,#000094 902px,#00008b 911px,#000084 936px)"></i><i style="left:1324px;top:229px;height:936px;background-image:linear-gradient(#b20000,#b00000 6px,#9e0000 34px,#9d0000 41px,#980000 61px,#980000 66px,#960000 72px,#970000 74px,#920000 78px,#8b0000 96px,#870000 100px,#890000 123px,#900000 137px,#970000 147px,#bc0000 186px,#e90100 230px,#f50400 242px,#fe0a00 256px,#f30 289px,#ff5700 317px,#ff7400 339px,#ffb700 389px,#f7d608 418px,#e8ed17 446px,#d4fd2b 472px,#c5ff3a 484px,#68ff97 549px,#49fdb6 573px,#2ef6d1 596px,#17e9e8 622px,#05d7fa 649px,#0cf 660px,#00a4ff 687px,#0020fe 784px,#0006f9 809px,#0000f6 816px,#0000d5 841px,#0000b9 866px,#00009b 894px,#000092 904px,#00008b 911px,#000084 935px)"></i><i style="left:1326px;top:229px;height:935px;background-image:linear-gradient(#b10000,#af0000 6px,#9e0000 33px,#9c0000 42px,#980000 57px,#970000 66px,#960000 72px,#960000 75px,#920000 79px,#8c0000 96px,#870000 100px,#890000 124px,#8f0000 134px,#950000 145px,#bd0000 187px,#eb0100 232px,#f80400 244px,#ff0a00 256px,#ff2300 276px,#ff4600 303px,#f70 341px,#ffb900 390px,#f6da09 422px,#e5f11a 450px,#d3ff2c 473px,#5affa5 559px,#42fbbd 579px,#28f4d7 601px,#12e7ed 627px,#00d2ff 655px,#009dff 692px,#001bfe 787px,#0000f8 813px,#00b 862px,#000098 897px,#00008e 907px,#00008a 914px,#000084 934px)"></i><i style="left:1328px;top:229px;height:934px;background-image:linear-gradient(#b10000,#af0000 6px,#9e0000 32px,#970000 62px,#960000 67px,#950000 72px,#960000 75px,#910000 79px,#8b0000 97px,#870000 101px,#8a0000 124px,#900000 136px,#960000 146px,#bf0000 189px,#ee0100 234px,#fa0400 246px,#ff0a00 256px,#ff2400 276px,#ff3e00 297px,#ff6500 327px,#febb01 391px,#f9ce06 410px,#f1e30e 431px,#e1f61e 456px,#d4ff2b 472px,#56ffa9 561px,#3cf9c3 584px,#24f3db 605px,#0de3f2 633px,#00d3ff 654px,#0096ff 696px,#0016fe 790px,#0000f9 812px,#0000b6 866px,#00008a 911px,#000084 933px)"></i><i style="left:1330px;top:229px;height:934px;background-image:linear-gradient(#b00000,#ae0000 6px,#9e0000 31px,#970000 62px,#960000 67px,#940000 72px,#950000 75px,#910000 80px,#8b0000 97px,#870000 101px,#8a0000 125px,#900000 135px,#970000 147px,#c00000 190px,#f10100 236px,#fc0500 248px,#ff0900 255px,#ff2900 280px,#ff4700 303px,#ff6a00 330px,#febd01 392px,#f8d307 414px,#eee811 436px,#ddfb22 462px,#d5ff2a 471px,#54ffab 562px,#36f8c9 588px,#1ef0e1 610px,#07dff8 639px,#00d5ff 652px,#0090ff 700px,#0010fe 794px,#0000f9 811px,#0000da 836px,#0000b2 869px,#00008a 912px,#000084 933px)"></i><i style="left:1332px;top:229px;height:933px;background-image:linear-gradient(#b00000,#ae0000 6px,#9e0000 30px,#950000 68px,#940000 73px,#940000 76px,#910000 80px,#870000 104px,#8b0000 126px,#910000 136px,#980000 148px,#c10000 191px,#f40100 238px,#ff0500 250px,#ff1b00 268px,#ff4700 303px,#ff6b00 330px,#ff8c00 355px,#fdc002 394px,#f7d808 418px,#eced13 441px,#dbff24 466px,#52fead 563px,#31f8ce 592px,#19eee6 615px,#01dbfe 646px,#0bf 670px,#008aff 704px,#02f 780px,#000bfe 797px,#0000fb 809px,#0000d8 837px,#0000b0 870px,#000089 912px,#000084 932px)"></i><i style="left:1334px;top:229px;height:932px;background-image:linear-gradient(#af0000,#ad0000 6px,#9e0000 29px,#940000 68px,#940000 76px,#900000 80px,#870000 104px,#8b0000 127px,#930000 138px,#900 149px,#c40000 193px,#ea0000 228px,#fa0300 244px,#ff0600 250px,#ff1f00 271px,#ff4a00 305px,#ff7000 333px,#ff9000 358px,#fdc102 394px,#f6dd09 422px,#e9f216 446px,#dbff24 465px,#53feac 562px,#2bf6d4 597px,#13ecec 620px,#00dcff 646px,#008fff 699px,#0058ff 740px,#0006fe 800px,#0000fc 807px,#0000d4 840px,#0000ae 871px,#00008f 905px,#008 916px,#000084 931px)"></i><i style="left:1336px;top:229px;height:931px;background-image:linear-gradient(#ae0000,#ac0000 6px,#9e0000 29px,#920000 77px,#8c0000 92px,#890000 100px,#890000 115px,#8d0000 129px,#940000 139px,#9a0000 150px,#c50000 194px,#d00 215px,#f90100 242px,#fe0500 249px,#f20 273px,#ff4e00 308px,#ff7300 335px,#ff9200 359px,#fdbe02 392px,#facf05 406px,#f4e30b 427px,#e6f819 452px,#deff21 463px,#54feab 561px,#3efbc1 579px,#24f5db 602px,#0de9f2 626px,#00dcff 645px,#007cff 713px,#0056ff 741px,#0000fe 804px,#0000d2 841px,#0000ab 873px,#00008f 905px,#000087 918px,#000084 930px)"></i><i style="left:1338px;top:229px;height:930px;background-image:linear-gradient(#ae0000,#ac0000 6px,#9d0000 29px,#930000 74px,#890000 100px,#870000 109px,#8d0000 129px,#950000 140px,#9b0000 151px,#c60000 195px,#d00 214px,#fc0100 244px,#ff1200 259px,#ff4f00 308px,#ff7800 338px,#ff9700 362px,#fdbc02 390px,#fad305 409px,#f3e80c 431px,#e3fe1c 458px,#54feab 560px,#38fbc7 583px,#1df3e2 608px,#08e7f7 631px,#00deff 643px,#0074ff 718px,#004eff 746px,#0005ff 800px,#0000fe 804px,#0000cb 846px,#0000a7 876px,#00008e 905px,#000086 919px,#000084 929px)"></i><i style="left:1340px;top:229px;height:929px;background-image:linear-gradient(#ad0000,#ab0000 6px,#9d0000 29px,#900 43px,#920000 74px,#800 101px,#890000 116px,#8d0000 130px,#950000 141px,#9b0000 151px,#c70000 196px,#e00000 216px,#fb0100 243px,#ff1600 262px,#ff3f00 295px,#ff5900 315px,#ff7e00 342px,#ff9d00 366px,#fdc102 393px,#f8d907 414px,#f1ed0e 435px,#e3ff1c 458px,#50feaf 562px,#32facd 587px,#17f1e8 613px,#01e4fe 638px,#0085ff 705px,#006aff 725px,#0002fe 802px,#0000f2 813px,#0000a5 878px,#00008e 904px,#000085 921px,#000084 928px)"></i><i style="left:1342px;top:229px;height:928px;background-image:linear-gradient(#ad0000,#ab0000 6px,#9c0000 29px,#9a0000 38px,#980000 43px,#910000 78px,#890000 101px,#890000 113px,#8d0000 130px,#960000 142px,#9c0000 152px,#c80000 197px,#e30000 218px,#fb0100 242px,#ff1900 264px,#ff4300 298px,#ff6c00 328px,#ff8600 348px,#ffaf00 379px,#fdc702 397px,#f8df07 418px,#f0f20f 439px,#e5ff1a 456px,#4afeb5 566px,#2bf9d4 592px,#10efef 619px,#00e5ff 637px,#0075ff 716px,#002eff 769px,#0005fe 800px,#0000f1 813px,#0000c3 852px,#0000a1 881px,#00008e 903px,#000084 923px,#000084 927px)"></i><i style="left:1344px;top:229px;height:927px;background-image:linear-gradient(#ac0000,#a00 6px,#9b0000 29px,#9b0000 35px,#980000 43px,#960000 55px,#890000 100px,#800 107px,#8e0000 131px,#980000 144px,#9d0000 153px,#cb0000 199px,#e60000 221px,#f90100 240px,#fd0f00 254px,#ff2700 275px,#ff4300 297px,#ff5d00 317px,#ff8700 348px,#ffa400 371px,#fccd03 401px,#f6e509 423px,#eef811 444px,#e7ff18 454px,#45feba 569px,#24f9db 597px,#07ecf8 626px,#00e6ff 636px,#0061ff 730px,#0007ff 798px,#00e 815px,#00009f 882px,#00008e 902px,#000084 923px,#000084 926px)"></i><i style="left:1346px;top:229px;height:927px;background-image:linear-gradient(#ac0000,#a90000 6px,#9b0000 29px,#9b0000 34px,#970000 43px,#970000 51px,#8d0000 88px,#870000 106px,#8e0000 130px,#900 146px,#9e0000 154px,#cd0000 200px,#ea0000 224px,#f90100 239px,#fc0e00 252px,#ff2300 271px,#ff6000 319px,#ff8c00 351px,#ffa600 372px,#fcd203 404px,#f5eb0a 428px,#ecfe13 449px,#ceff31 471px,#40febf 572px,#1df8e2 602px,#00eaff 632px,#0075ff 715px,#0052ff 741px,#0009ff 796px,#0000e9 818px,#00009c 884px,#00008e 901px,#000084 924px,#000084 926px)"></i><i style="left:1348px;top:229px;height:926px;background-image:linear-gradient(#ab0000,#a90000 6px,#9a0000 29px,#9b0000 34px,#960000 43px,#970000 48px,#8b0000 96px,#870000 105px,#8e0000 129px,#9a0000 148px,#a40000 159px,#cb0000 198px,#ef0000 228px,#f70100 237px,#fc1100 254px,#ff2900 275px,#f60 323px,#ff9000 354px,#fa0 374px,#fcd803 408px,#f4f10b 433px,#edff12 449px,#46feb9 567px,#2ffcd0 585px,#16f7e9 607px,#00ebff 631px,#0069ff 723px,#000aff 794px,#0000e4 822px,#00009a 886px,#00008e 900px,#000084 923px,#000084 925px)"></i><i style="left:1350px;top:229px;height:925px;background-image:linear-gradient(#a00,#a80000 6px,#9a0000 29px,#9b0000 33px,#960000 43px,#970000 47px,#8b0000 97px,#800 106px,#8e0000 128px,#960000 140px,#a30000 158px,#c90000 196px,#f40000 232px,#f90800 243px,#fd1400 256px,#ff3000 281px,#ff6f00 329px,#ff9600 358px,#ffb200 379px,#fcdd03 412px,#f2f90d 439px,#ef1 448px,#44febb 568px,#2afcd5 588px,#0ff6f0 612px,#00edff 629px,#00a0ff 684px,#004bff 744px,#000bfe 793px,#0000e2 823px,#000098 887px,#00008e 899px,#000084 923px,#000084 924px)"></i><i style="left:1352px;top:229px;height:924px;background-image:linear-gradient(#a00,#a80000 6px,#900 29px,#9a0000 33px,#950000 43px,#960000 48px,#8e0000 84px,#8b0000 93px,#8a0000 98px,#800 106px,#8e0000 127px,#960000 141px,#a70000 162px,#c90000 195px,#e40000 218px,#f40000 232px,#fd1400 256px,#ff3700 286px,#ff5e00 316px,#ff9b00 361px,#fb0 385px,#fbe304 416px,#f1ff0e 444px,#cfff30 469px,#3dfec2 572px,#22fbdd 593px,#08f5f7 617px,#00f0ff 627px,#009bff 687px,#04f 749px,#000cfe 792px,#0005e9 814px,#0000db 828px,#0000af 866px,#000093 891px,#00008c 903px,#000084 922px,#000084 923px)"></i><i style="left:1354px;top:229px;height:923px;background-image:linear-gradient(#a90000,#a70000 6px,#980000 29px,#9a0000 33px,#950000 43px,#950000 48px,#8f0000 84px,#8b0000 89px,#8a0000 98px,#800 104px,#8e0000 126px,#970000 142px,#ab0000 166px,#ca0000 195px,#e80000 221px,#f40100 231px,#f90c00 246px,#fd1c00 262px,#ff4500 296px,#ff7d00 338px,#ffa500 368px,#fed501 404px,#faeb05 422px,#f1ff0e 443px,#cbff34 471px,#36fec9 576px,#1bfbe4 598px,#02f4fd 622px,#00e9ff 631px,#0093ff 692px,#003cff 754px,#000dfe 790px,#0005e6 816px,#0000d6 831px,#0000bf 851px,#000090 893px,#000084 921px,#000084 922px)"></i><i style="left:1356px;top:229px;height:922px;background-image:linear-gradient(#a90000,#a70000 6px,#980000 29px,#900 33px,#940000 43px,#950000 48px,#8f0000 84px,#8b0000 89px,#8b0000 98px,#800 103px,#8e0000 125px,#980000 143px,#b10000 171px,#e10000 216px,#f30100 230px,#fa0f00 248px,#fe2000 265px,#ff4b00 300px,#ff8600 344px,#ffca00 395px,#faf005 425px,#f2ff0d 441px,#c8ff37 473px,#2ffed0 581px,#13fbec 603px,#00f5ff 622px,#008eff 695px,#0034ff 759px,#000ffe 788px,#0004e2 819px,#0000d1 835px,#0000bd 852px,#000090 893px,#000084 920px,#000084 921px)"></i><i style="left:1358px;top:229px;height:921px;background-image:linear-gradient(#a80000,#a60000 6px,#970000 29px,#900 33px,#940000 44px,#930000 58px,#8f0000 79px,#8e0000 85px,#8b0000 89px,#8b0000 98px,#800 102px,#8e0000 124px,#900 144px,#a50000 157px,#b50000 175px,#f00100 228px,#f70900 240px,#fb1300 252px,#fe2400 268px,#f50 307px,#ff9000 351px,#ffd200 400px,#faf605 429px,#f4ff0b 439px,#bdff42 480px,#28fed7 585px,#0cfaf3 608px,#00f7ff 620px,#0086ff 700px,#002dff 764px,#000ffe 787px,#0003de 822px,#0000ca 840px,#0000ba 854px,#000097 886px,#00008f 894px,#000084 919px,#000084 920px)"></i><i style="left:1360px;top:229px;height:921px;background-image:linear-gradient(#a80000,#a50000 6px,#970000 29px,#970000 34px,#930000 44px,#930000 58px,#8f0000 79px,#8e0000 85px,#8b0000 89px,#8a0000 99px,#800 103px,#8e0000 125px,#9a0000 145px,#a60000 158px,#b40000 174px,#ee0100 226px,#f60a00 239px,#fb1600 254px,#fe2900 271px,#ff5e00 313px,#ffd900 404px,#f9fc06 433px,#f5ff0a 438px,#b2ff4d 487px,#20fedf 590px,#03fafc 614px,#00f7ff 619px,#007eff 705px,#0025ff 769px,#0011fe 785px,#0003de 822px,#0000c3 845px,#000094 888px,#00008e 894px,#000084 919px,#000084 920px)"></i><i style="left:1362px;top:229px;height:920px;background-image:linear-gradient(#a70000,#a50000 6px,#970000 29px,#970000 34px,#930000 44px,#930000 58px,#8f0000 78px,#8e0000 85px,#8b0000 90px,#8a0000 99px,#800 103px,#8f0000 126px,#9b0000 146px,#a90000 160px,#b60000 176px,#eb0100 224px,#f70c00 241px,#fc1800 256px,#ff3000 276px,#ff6700 320px,#feec01 418px,#faff05 434px,#a7ff58 494px,#1afee5 594px,#00faff 615px,#00d9ff 640px,#007aff 707px,#004fff 739px,#0023ff 770px,#0012fe 784px,#0006e3 815px,#0002d3 831px,#0000b6 855px,#00008d 895px,#000084 918px,#000084 919px)"></i><i style="left:1364px;top:229px;height:919px;background-image:linear-gradient(#a60000,#a40000 6px,#960000 29px,#960000 35px,#930000 45px,#920000 60px,#8f0000 79px,#8f0000 85px,#8b0000 89px,#8b0000 99px,#890000 104px,#900000 127px,#9c0000 147px,#ab0000 162px,#b70000 176px,#ea0100 222px,#f80f00 244px,#fc1c00 259px,#ff3700 281px,#ff7000 326px,#fef201 422px,#fafe05 433px,#a1ff5e 498px,#12feed 599px,#00faff 614px,#00d2ff 644px,#0074ff 711px,#0048ff 743px,#001eff 773px,#0013fe 782px,#0005e0 817px,#0001cf 834px,#0000b0 860px,#00008c 896px,#000084 917px,#000084 918px)"></i><i style="left:1366px;top:229px;height:918px;background-image:linear-gradient(#a60000,#a40000 6px,#960000 28px,#950000 36px,#910000 51px,#930000 57px,#8f0000 77px,#8f0000 85px,#8b0000 89px,#8b0000 100px,#890000 105px,#910000 128px,#9f0000 149px,#ad0000 164px,#b80000 177px,#e90000 220px,#f80f00 243px,#fd2000 262px,#ff3e00 286px,#f70 331px,#fef901 426px,#fbfd04 431px,#cdff32 465px,#95ff6a 506px,#0bfef4 603px,#01fbfe 612px,#00cdff 647px,#006eff 715px,#0041ff 748px,#0017ff 777px,#0011fa 786px,#0004dc 820px,#0001cb 837px,#0000ad 862px,#00008c 897px,#000084 917px)"></i><i style="left:1368px;top:229px;height:917px;background-image:linear-gradient(#a50000,#a30000 6px,#960000 27px,#910000 52px,#920000 57px,#8f0000 74px,#8e0000 86px,#8b0000 91px,#8a0000 101px,#890000 106px,#920000 129px,#a00000 150px,#af0000 165px,#b90000 177px,#d30000 200px,#e90100 220px,#f10900 234px,#fa1500 249px,#fd2200 264px,#ff4600 292px,#ff7d00 335px,#fefb01 427px,#deff21 453px,#84ff7b 517px,#03fefc 608px,#00e0ff 632px,#00c1ff 655px,#0065ff 721px,#0037ff 754px,#0016ff 777px,#0009e8 806px,#0000c9 838px,#00a 864px,#00008b 897px,#000084 916px)"></i><i style="left:1370px;top:229px;height:916px;background-image:linear-gradient(#a50000,#a30000 6px,#960000 26px,#900000 52px,#920000 57px,#8f0000 73px,#8e0000 86px,#8b0000 91px,#8a0000 107px,#920000 129px,#a20000 152px,#b10000 167px,#bc0000 180px,#d50000 201px,#e80100 218px,#f20b00 236px,#fb1800 252px,#fe2600 267px,#ff6300 314px,#ff8b00 345px,#ffda00 402px,#fefa01 426px,#d6ff29 458px,#48ffb7 559px,#04fefb 607px,#00d7ff 638px,#00b9ff 660px,#005cff 727px,#0030ff 759px,#0017ff 776px,#0008e5 808px,#0000c5 841px,#0000a6 867px,#000092 889px,#008 902px,#000084 915px)"></i><i style="left:1372px;top:229px;height:915px;background-image:linear-gradient(#a40000,#a20000 6px,#960000 26px,#900000 52px,#920000 57px,#8f0000 71px,#8e0000 86px,#8b0000 91px,#8a0000 108px,#920000 130px,#a40000 153px,#b40000 170px,#c20000 185px,#d70000 203px,#e60100 216px,#f40e00 239px,#fc1b00 255px,#ff2a00 271px,#ff6500 315px,#ff8900 343px,#fb0 379px,#fef801 424px,#e0fe1f 449px,#9bff64 500px,#4dffb2 555px,#06fef9 605px,#00d3ff 640px,#00b2ff 664px,#0054ff 732px,#0028ff 764px,#0017fe 776px,#0008e5 808px,#0000c6 840px,#0000a3 869px,#000092 888px,#000087 905px,#000084 914px)"></i><i style="left:1374px;top:229px;height:914px;background-image:linear-gradient(#a40000,#a10000 6px,#960000 25px,#900000 52px,#920000 57px,#8f0000 72px,#8e0000 87px,#8b0000 92px,#8b0000 109px,#930000 131px,#a60000 155px,#c50000 187px,#da0000 205px,#e50100 214px,#f51000 241px,#fd1f00 259px,#ff2c00 272px,#ff6c00 320px,#ff8c00 345px,#ffc000 382px,#fef601 422px,#e9fc16 441px,#c3ff3c 471px,#08fef7 603px,#03eafc 621px,#00c4ff 650px,#00a4ff 673px,#0049ff 740px,#001dff 771px,#0014f8 782px,#000be9 801px,#0004d8 820px,#0000c2 843px,#0000a0 871px,#000092 887px,#000085 907px,#000084 913px)"></i><i style="left:1376px;top:229px;height:914px;background-image:linear-gradient(#a30000,#a10000 6px,#960000 24px,#8f0000 52px,#910000 57px,#8f0000 72px,#8e0000 86px,#8b0000 93px,#8b0000 109px,#940000 132px,#9f0000 145px,#a70000 156px,#ca0000 191px,#d00 207px,#e60200 216px,#f61000 242px,#fe2300 263px,#ff2f00 274px,#ff7200 324px,#ff8e00 346px,#ffc600 386px,#fef401 420px,#e3fc1c 445px,#baff45 477px,#41ffbe 562px,#0afef5 601px,#03e6fc 623px,#0bf 656px,#007fff 699px,#001cfe 772px,#0012f4 787px,#000ae5 805px,#0003d2 825px,#0000c0 844px,#00009c 874px,#000091 887px,#000084 909px,#000084 913px)"></i><i style="left:1378px;top:229px;height:913px;background-image:linear-gradient(#a20000,#a00000 6px,#960000 23px,#8f0000 52px,#910000 57px,#8e0000 72px,#8e0000 83px,#8b0000 94px,#8c0000 111px,#950000 133px,#9f0000 145px,#a90000 157px,#d20000 198px,#e60200 215px,#f30d00 236px,#f91500 247px,#ff2700 267px,#ff7b00 330px,#f90 353px,#ffcd00 390px,#fef101 418px,#defc21 448px,#aeff51 485px,#3affc5 566px,#0dfef2 599px,#03e0fc 627px,#00b1ff 663px,#007dff 700px,#001ffe 770px,#0011f1 789px,#0008e2 808px,#0000c5 837px,#0000af 858px,#009 876px,#000091 887px,#000084 909px,#000084 912px)"></i><i style="left:1380px;top:229px;height:912px;background-image:linear-gradient(#a20000,#a00000 6px,#960000 22px,#8f0000 52px,#910000 57px,#8e0000 72px,#8f0000 79px,#8b0000 95px,#8b0000 110px,#950000 133px,#a00000 145px,#a00 158px,#d90000 204px,#ea0500 220px,#f91400 246px,#ff2800 267px,#ff4700 291px,#ff8100 334px,#ffa200 359px,#ffd300 394px,#feef01 416px,#d9fd26 451px,#a1ff5e 494px,#34ffcb 570px,#0ffef0 597px,#02d8fd 632px,#00a5ff 671px,#0076ff 704px,#0020fe 769px,#000fed 793px,#0007de 812px,#0000c4 837px,#0000ac 860px,#000097 877px,#00008d 892px,#000084 909px,#000084 911px)"></i><i style="left:1382px;top:229px;height:911px;background-image:linear-gradient(#a10000,#9f0000 6px,#960000 22px,#8e0000 52px,#910000 57px,#8d0000 72px,#8f0000 78px,#8b0000 96px,#8c0000 111px,#960000 134px,#a20000 147px,#ab0000 159px,#de0100 209px,#ec0600 222px,#fb1600 249px,#ff2900 267px,#ff4600 290px,#ff8d00 343px,#ffc200 381px,#ffeb00 412px,#e9f616 435px,#cdfd32 459px,#8eff71 507px,#2dffd2 574px,#11feee 595px,#09e7f6 617px,#02d1fd 637px,#0093ff 683px,#0069ff 713px,#0021fe 767px,#000de9 797px,#0005da 816px,#0000c3 837px,#0000a8 863px,#000094 879px,#000084 908px,#000084 910px)"></i><i style="left:1384px;top:229px;height:910px;background-image:linear-gradient(#a10000,#9e0000 7px,#960000 22px,#8e0000 51px,#900000 58px,#8d0000 72px,#8f0000 77px,#8b0000 97px,#8d0000 111px,#960000 134px,#a40000 149px,#ad0000 160px,#df0100 209px,#ee0800 225px,#fc1900 252px,#ff2b00 267px,#ff4a00 292px,#ff9600 349px,#ffe000 402px,#feeb01 412px,#e2f71d 440px,#c6fd39 464px,#86ff79 512px,#26ffd9 578px,#14feeb 593px,#08e2f7 620px,#02c9fd 642px,#0084ff 693px,#0023ff 765px,#000be6 800px,#0004d6 819px,#0000c4 836px,#0000a2 867px,#000093 879px,#000084 908px,#000084 909px)"></i><i style="left:1386px;top:229px;height:909px;background-image:linear-gradient(#a00000,#9d0000 7px,#960000 21px,#910000 34px,#8e0000 53px,#900000 58px,#8d0000 73px,#8f0000 78px,#8b0000 98px,#8d0000 112px,#960000 133px,#a70000 152px,#af0000 162px,#de0100 208px,#f00800 227px,#fe1c00 255px,#ff5200 298px,#ff9e00 354px,#ffe600 406px,#fceb03 412px,#ddf822 444px,#bdfe42 470px,#78ff87 521px,#1effe1 583px,#15feea 591px,#07dbf8 625px,#02c2fd 647px,#0079ff 700px,#0024fe 764px,#0014ed 789px,#0009e2 804px,#0002d2 823px,#0000c0 839px,#00009e 870px,#000092 880px,#000084 907px,#000084 908px)"></i><i style="left:1388px;top:229px;height:908px;background-image:linear-gradient(#a00000,#9d0000 7px,#960000 20px,#910000 34px,#8e0000 53px,#900000 58px,#8d0000 73px,#8f0000 78px,#8b0000 98px,#8d0000 111px,#960000 132px,#a20000 145px,#b00000 163px,#dd0100 206px,#f20900 229px,#ff1c00 256px,#ff3b00 279px,#ff5b00 304px,#ffc300 380px,#ffe800 407px,#d7f928 448px,#b5fe4a 475px,#6aff95 530px,#18ffe7 587px,#10edef 606px,#07d5f8 629px,#01bafe 652px,#006dff 708px,#0024fe 763px,#0012eb 791px,#0007de 808px,#0000ce 827px,#0000b0 853px,#00009a 873px,#000091 881px,#000084 906px,#000084 907px)"></i><i style="left:1390px;top:229px;height:908px;background-image:linear-gradient(#9f0000,#9d0000 6px,#960000 19px,#900000 34px,#8d0000 53px,#8f0000 58px,#8c0000 73px,#8e0000 78px,#8b0000 97px,#8d0000 110px,#960000 131px,#a20000 145px,#b50000 167px,#dc0100 205px,#f30900 230px,#ff1d00 256px,#ff3f00 282px,#ff6000 307px,#ffcb00 385px,#ffe700 405px,#d4f92b 450px,#acfe53 481px,#5cffa3 539px,#18ffe7 586px,#0fe8f0 610px,#06cdf9 635px,#01b3fe 657px,#0027ff 759px,#0011eb 791px,#0005da 813px,#0000cd 828px,#0000ac 855px,#000090 882px,#000084 906px,#000084 907px)"></i><i style="left:1392px;top:229px;height:907px;background-image:linear-gradient(#9f0000,#9d0000 6px,#960000 17px,#900000 34px,#8e0000 44px,#8d0000 53px,#8f0000 58px,#8c0000 73px,#8e0000 78px,#8b0000 97px,#8d0000 110px,#960000 131px,#b40000 166px,#dd0100 205px,#f50b00 233px,#ff1d00 255px,#ff4500 286px,#ff6a00 314px,#ffd700 393px,#fee501 404px,#e0f31f 436px,#c8fb37 459px,#a1ff5e 489px,#4fffb0 548px,#19fee6 585px,#0de2f2 615px,#05c5fa 641px,#01aafe 663px,#0029ff 757px,#0017f0 782px,#000ce2 801px,#0003d6 817px,#00c 828px,#0000a9 857px,#00008e 884px,#000084 905px,#000084 906px)"></i><i style="left:1394px;top:229px;height:906px;background-image:linear-gradient(#9f0000,#9d0000 6px,#960000 16px,#8f0000 34px,#8f0000 42px,#8d0000 53px,#8f0000 58px,#8c0000 74px,#8e0000 79px,#8b0000 100px,#900000 116px,#900 133px,#a70000 150px,#bd0000 174px,#e00200 207px,#f70c00 235px,#ff1b00 253px,#ff4c00 291px,#ff8400 333px,#fee201 401px,#eeed11 420px,#c7fb38 459px,#9f6 494px,#42ffbd 556px,#1bfee4 583px,#11ebee 604px,#0cdaf3 621px,#04befb 646px,#00a3ff 668px,#0040ff 739px,#0028fe 758px,#0015ed 785px,#0002d2 820px,#0000c6 832px,#0000a4 861px,#00008d 886px,#000084 904px,#000084 905px)"></i><i style="left:1396px;top:229px;height:905px;background-image:linear-gradient(#9e0000,#9c0000 6px,#970000 14px,#8e0000 34px,#8f0000 39px,#8c0000 53px,#8e0000 59px,#8c0000 74px,#8d0000 79px,#8b0000 100px,#940000 125px,#a50000 148px,#c60000 182px,#e30300 210px,#f90d00 237px,#ff1b00 252px,#ff3a00 276px,#ff6d00 316px,#fee001 399px,#eaee15 423px,#bffc40 465px,#90ff6f 500px,#37ffc8 563px,#1efee1 581px,#12eaed 603px,#0ad5f5 625px,#02b5fd 653px,#009aff 674px,#006eff 705px,#0029fe 756px,#0013eb 788px,#0000cf 823px,#00009f 865px,#00008c 887px,#000084 903px,#000084 904px)"></i><i style="left:1398px;top:229px;height:904px;background-image:linear-gradient(#9e0000,#9c0000 6px,#970000 11px,#8f0000 31px,#8d0000 45px,#8c0000 54px,#8e0000 59px,#8c0000 75px,#8d0000 80px,#8c0000 103px,#900 132px,#a00 153px,#c00 187px,#e70400 214px,#fc0f00 240px,#ff1900 250px,#ff6f00 317px,#fede01 397px,#e5ef1a 427px,#b7fd48 471px,#7fff80 511px,#2effd1 569px,#20fedf 579px,#10e5ef 607px,#09cef6 630px,#01abfe 660px,#0093ff 678px,#0067ff 710px,#002afe 755px,#0010e8 792px,#0000ce 823px,#00009a 869px,#000089 890px,#000084 902px,#000084 903px)"></i><i style="left:1400px;top:229px;height:903px;background-image:linear-gradient(#9e0000,#9c0000 6px,#970000 10px,#8f0000 29px,#8e0000 35px,#8d0000 44px,#8c0000 54px,#8e0000 59px,#8c0000 75px,#8d0000 80px,#8c0000 104px,#900 131px,#ab0000 153px,#ba0000 168px,#d00000 191px,#eb0500 217px,#fd1000 242px,#ff1c00 252px,#ff7000 317px,#fedc01 395px,#e1f11e 430px,#affe50 477px,#52ffad 543px,#22fedd 577px,#0fdff0 612px,#07c8f8 635px,#00a2ff 667px,#005cff 717px,#002cfe 753px,#000ee6 794px,#0000cf 821px,#000097 871px,#000086 895px,#000084 902px)"></i><i style="left:1402px;top:229px;height:902px;background-image:linear-gradient(#9e0000,#9c0000 6px,#970000 10px,#8f0000 29px,#8d0000 35px,#8c0000 47px,#8c0000 54px,#8e0000 59px,#8c0000 76px,#8c0000 82px,#8d0000 104px,#900 130px,#a00 152px,#b00 169px,#cd0000 188px,#eb0400 216px,#ff1000 243px,#ff2f00 266px,#ff5e00 303px,#ff7600 321px,#fed901 393px,#eee711 414px,#d9f326 437px,#a9ff56 481px,#4bffb4 547px,#25feda 575px,#0fdef0 612px,#05c0fa 641px,#009cff 670px,#0030ff 748px,#0018ef 778px,#000ae0 801px,#0000cf 821px,#000098 869px,#000084 897px,#000084 901px)"></i><i style="left:1404px;top:229px;height:901px;background-image:linear-gradient(#9d0000,#9c0000 6px,#970000 10px,#8e0000 29px,#8c0000 35px,#8c0000 48px,#8b0000 54px,#8d0000 59px,#8b0000 76px,#8c0000 82px,#8c0000 92px,#8d0000 104px,#900 129px,#a00000 140px,#b00000 157px,#c00000 173px,#d00000 190px,#e60300 210px,#f40800 227px,#f10 243px,#ff3500 270px,#f70 321px,#fed701 391px,#e9ea16 419px,#d3f52c 442px,#a9ff56 481px,#40ffbf 554px,#27fed8 573px,#17e8e8 599px,#0bd2f4 623px,#04bafb 646px,#009aff 671px,#002fff 749px,#0011e8 789px,#0005db 808px,#0000d0 820px,#0000a2 859px,#000095 872px,#000084 897px,#000084 900px)"></i><i style="left:1406px;top:229px;height:901px;background-image:linear-gradient(#9d0000,#9b0000 6px,#970000 10px,#8e0000 29px,#8c0000 35px,#8c0000 47px,#8c0000 55px,#8d0000 60px,#8c0000 87px,#8c0000 92px,#8c0000 102px,#980000 128px,#a20000 141px,#b20000 159px,#c20000 175px,#d10000 190px,#e80300 211px,#fc0b00 235px,#ff1000 242px,#ff3b00 274px,#ff7f00 326px,#fed501 389px,#e4ec1b 423px,#ccf733 448px,#a7ff58 481px,#32ffcd 563px,#28fed7 572px,#14e3eb 604px,#09cbf6 629px,#02b2fd 652px,#0093ff 675px,#002ffe 748px,#0011e9 787px,#0004da 809px,#0000cf 820px,#0000b2 844px,#000096 869px,#000084 897px,#000084 900px)"></i><i style="left:1408px;top:229px;height:900px;background-image:linear-gradient(#9d0000,#9b0000 6px,#960000 10px,#8e0000 28px,#8b0000 35px,#8b0000 40px,#8b0000 55px,#8d0000 60px,#8c0000 88px,#8d0000 92px,#8c0000 100px,#980000 126px,#a30000 142px,#b60000 162px,#c60000 178px,#d10000 190px,#ec0300 214px,#fe0c00 237px,#ff2600 258px,#ff3f00 277px,#ff8500 330px,#fed201 387px,#f0e10f 407px,#dfee20 428px,#c6f939 453px,#a7ff58 480px,#2affd5 568px,#15e3ea 603px,#07c4f8 635px,#01acfe 657px,#0032ff 745px,#0019ee 776px,#0002d8 811px,#0000cf 820px,#0000ad 848px,#000096 869px,#000084 897px,#000084 899px)"></i><i style="left:1410px;top:229px;height:899px;background-image:linear-gradient(#9c0000,#9b0000 6px,#960000 10px,#8b0000 35px,#8b0000 40px,#8a0000 52px,#8c0000 60px,#8c0000 88px,#8e0000 92px,#8c0000 98px,#980000 125px,#a40000 143px,#ba0000 165px,#c90000 181px,#d90000 196px,#ef0400 216px,#ff0c00 237px,#ff2e00 263px,#ff8a00 333px,#fed001 385px,#ede312 410px,#daf125 433px,#bffb40 459px,#a7ff58 479px,#80ff7f 507px,#2bfed4 567px,#1eede1 590px,#0fd6f0 615px,#05bdfa 641px,#00a8ff 660px,#007bff 691px,#0031fe 745px,#0016ec 780px,#0000d6 814px,#0000a9 850px,#000096 868px,#000084 896px,#000084 898px)"></i><i style="left:1412px;top:229px;height:898px;background-image:linear-gradient(#9c0000,#9b0000 6px,#960000 10px,#8a0000 35px,#8a0000 40px,#8a0000 51px,#8b0000 56px,#8c0000 61px,#8c0000 88px,#8e0000 92px,#8c0000 98px,#980000 124px,#a40000 143px,#af0000 154px,#cb0000 182px,#d00 199px,#f20400 219px,#ff0c00 236px,#ff3200 266px,#ff8b00 333px,#ffad00 358px,#fece01 383px,#e9e616 414px,#d4f42b 439px,#b6fe49 467px,#7eff81 508px,#2cfed3 566px,#1be7e4 595px,#0cd0f3 621px,#02b4fd 649px,#00a4ff 662px,#0073ff 696px,#0032fe 744px,#0013ea 783px,#0000d5 814px,#0000a2 855px,#000096 867px,#000084 895px,#000084 897px)"></i><i style="left:1414px;top:229px;height:897px;background-image:linear-gradient(#9c0000,#9a0000 6px,#950000 10px,#8a0000 36px,#8a0000 44px,#8a0000 51px,#8b0000 56px,#8b0000 62px,#8c0000 89px,#8e0000 93px,#8c0000 98px,#980000 123px,#a50000 144px,#b10000 155px,#c00000 170px,#de0000 199px,#f50400 221px,#ff0a00 234px,#ff3600 268px,#ff4e00 287px,#ff9d00 345px,#fecc01 381px,#e8e717 416px,#cdf732 445px,#b2ff4d 470px,#70ff8f 517px,#2efed1 564px,#1eece1 589px,#16dee9 604px,#0acaf5 626px,#00adff 655px,#0062ff 708px,#0033fe 743px,#0011e8 785px,#0000d6 813px,#00009a 861px,#000084 894px,#000084 896px)"></i><i style="left:1416px;top:229px;height:896px;background-image:linear-gradient(#9c0000,#9a0000 6px,#950000 10px,#8a0000 35px,#890000 44px,#8a0000 49px,#8a0000 56px,#8b0000 64px,#8c0000 89px,#8f0000 93px,#8d0000 98px,#980000 122px,#a70000 145px,#b20000 156px,#c00000 170px,#e30000 203px,#f80500 223px,#ff0a00 233px,#ff3a00 271px,#ff5300 290px,#ff7500 315px,#fb0 367px,#fdca02 380px,#f1dc0e 401px,#e0ec1f 424px,#c8f937 450px,#b1ff4e 470px,#65ff9a 524px,#31fece 562px,#21efde 583px,#15ddea 605px,#07c2f8 633px,#0af 656px,#0037ff 738px,#0017ed 776px,#0009e0 796px,#0000d5 812px,#000097 863px,#000084 893px,#000084 895px)"></i><i style="left:1418px;top:229px;height:895px;background-image:linear-gradient(#9b0000,#900 6px,#950000 11px,#8a0000 33px,#800 43px,#8a0000 48px,#8a0000 56px,#8b0000 64px,#8d0000 90px,#8e0000 94px,#8e0000 100px,#980000 122px,#a80000 146px,#b40000 157px,#c00000 170px,#e90000 208px,#fc0500 226px,#ff0a00 232px,#ff3f00 274px,#ff5800 293px,#ffae00 356px,#fec901 378px,#ece013 406px,#dcef23 428px,#c0fc3f 457px,#afff50 471px,#5bffa4 530px,#33fecc 560px,#1febe0 587px,#12d7ed 611px,#04bbfb 640px,#00a9ff 656px,#0037ff 738px,#0014ea 780px,#0006dd 800px,#0000d5 811px,#0000a9 848px,#000096 863px,#000084 892px,#000084 894px)"></i><i style="left:1420px;top:230px;height:894px;background-image:linear-gradient(#9a0000,#980000 6px,#940000 10px,#8a0000 31px,#800 42px,#8a0000 47px,#890000 55px,#8b0000 60px,#8c0000 89px,#8f0000 93px,#8e0000 99px,#980000 120px,#a90000 146px,#b60000 157px,#c20000 170px,#f10100 213px,#ff0600 227px,#f40 276px,#ff7c00 318px,#ffc400 371px,#f1d90e 396px,#e7e418 411px,#d8f227 432px,#baff45 462px,#51ffae 535px,#34fecb 557px,#1be5e4 592px,#0fd2f0 615px,#01b2fe 647px,#0074ff 692px,#0036fe 737px,#001ff1 764px,#0006de 798px,#0000d5 809px,#0000a6 849px,#000096 862px,#000084 891px,#000084 893px)"></i><i style="left:1422px;top:230px;height:893px;background-image:linear-gradient(#900,#970000 6px,#940000 11px,#8a0000 30px,#870000 42px,#8a0000 47px,#890000 55px,#8b0000 60px,#8c0000 89px,#8f0000 94px,#8f0000 100px,#980000 120px,#ab0000 147px,#b80000 159px,#c40000 172px,#f40100 215px,#ff0500 226px,#ff4800 279px,#ff8200 322px,#fec501 371px,#f3d50c 392px,#e5e71a 414px,#d3f52c 437px,#bf4 461px,#36ffc9 554px,#18e1e7 597px,#0ccdf3 620px,#00b0ff 648px,#0038fe 735px,#001df0 766px,#0002db 802px,#0000d1 811px,#00009f 854px,#000094 864px,#000084 890px,#000084 892px)"></i><i style="left:1424px;top:230px;height:892px;background-image:linear-gradient(#900,#970000 6px,#8b0000 25px,#870000 42px,#890000 47px,#890000 55px,#8a0000 60px,#8c0000 90px,#900000 95px,#900000 101px,#900 121px,#ad0000 148px,#ba0000 161px,#c70000 174px,#f70100 217px,#fe0500 225px,#ff4d00 282px,#ff8900 327px,#fec501 370px,#f0d90f 396px,#e0eb1f 420px,#cff830 442px,#bf4 460px,#3effc1 547px,#36fdc9 554px,#15deea 600px,#08c7f7 626px,#00afff 648px,#0039fe 734px,#0019ed 770px,#0000da 804px,#0000c2 824px,#000093 864px,#000084 889px,#000084 891px)"></i><i style="left:1426px;top:230px;height:891px;background-image:linear-gradient(#980000,#960000 7px,#8a0000 27px,#870000 43px,#890000 48px,#800 55px,#8a0000 61px,#8b0000 85px,#8d0000 91px,#900000 96px,#900000 102px,#9a0000 122px,#af0000 150px,#bc0000 162px,#c80000 174px,#fb0100 220px,#ff0c00 230px,#ff5200 285px,#ff7000 308px,#fec201 368px,#eddd12 400px,#dcef23 425px,#c9fc36 448px,#bcff43 459px,#39fec6 551px,#1ee5e1 589px,#11d7ee 608px,#05c1fa 632px,#00afff 647px,#003afe 732px,#0015eb 774px,#0000da 804px,#0000be 826px,#000091 866px,#000084 888px,#000084 890px)"></i><i style="left:1428px;top:230px;height:890px;background-image:linear-gradient(#980000,#950000 7px,#8a0000 26px,#870000 43px,#890000 48px,#800 56px,#8a0000 61px,#8b0000 80px,#8d0000 91px,#910000 96px,#910000 103px,#9b0000 123px,#b10000 151px,#bf0000 164px,#c90000 175px,#fb0100 220px,#ff1900 240px,#ff5800 289px,#ff7600 312px,#fec001 366px,#f5d10a 384px,#e9e116 405px,#d7f328 431px,#c4ff3b 453px,#7dff82 503px,#3bfec4 549px,#2af1d5 570px,#0ed3f1 612px,#02bcfd 637px,#0af 650px,#003bfe 731px,#0013eb 775px,#0000da 803px,#0000b7 831px,#000091 866px,#000084 888px,#000084 889px)"></i><i style="left:1430px;top:230px;height:889px;background-image:linear-gradient(#970000,#950000 7px,#8a0000 25px,#860000 43px,#800 48px,#890000 57px,#8b0000 74px,#8d0000 91px,#910000 97px,#920000 104px,#9c0000 124px,#b20000 152px,#c00000 165px,#c00 177px,#fb0100 219px,#ff1c00 242px,#ff5d00 292px,#ff7b00 315px,#febe01 364px,#f3d40c 387px,#e5e61a 411px,#d2f72d 437px,#c5ff3a 452px,#78ff87 506px,#3dfec2 547px,#29efd6 571px,#16dae9 601px,#09cbf6 620px,#00b9ff 640px,#008bff 672px,#003bfe 730px,#0012ea 776px,#0000d9 802px,#0000a0 850px,#00008d 871px,#000084 887px,#000084 888px)"></i><i style="left:1432px;top:230px;height:888px;background-image:linear-gradient(#970000,#940000 7px,#8a0000 24px,#860000 43px,#800 48px,#890000 64px,#8b0000 71px,#8d0000 90px,#920000 98px,#930000 106px,#9d0000 125px,#b20000 150px,#c30000 168px,#d90000 188px,#fa0100 218px,#ff2000 245px,#ff6300 296px,#ff8100 319px,#febd01 363px,#f0d90f 392px,#e1ea1e 416px,#ccfc33 444px,#c3ff3c 453px,#70ff8f 511px,#3ffec0 546px,#26ecd9 575px,#09cdf6 618px,#00b9ff 640px,#0084ff 676px,#003dfe 728px,#0016ec 771px,#0005e0 792px,#0000d9 801px,#00009b 854px,#000089 876px,#000084 886px,#000084 887px)"></i><i style="left:1434px;top:230px;height:887px;background-image:linear-gradient(#960000,#930000 7px,#8a0000 24px,#860000 43px,#800 49px,#8a0000 66px,#8b0000 77px,#8d0000 90px,#920000 99px,#960000 111px,#9e0000 126px,#b30000 151px,#d50000 184px,#f80100 216px,#fc0f00 230px,#ff2700 250px,#ff6a00 301px,#ff8900 324px,#febb01 361px,#ed1 396px,#ddef22 422px,#c9ff36 447px,#94ff6b 485px,#64ff9b 519px,#41febe 544px,#22e8dd 580px,#06c7f9 624px,#00b9ff 639px,#07f 685px,#003efe 727px,#0015eb 771px,#0003df 793px,#0000d9 800px,#00009b 853px,#000087 879px,#000084 886px)"></i><i style="left:1436px;top:230px;height:887px;background-image:linear-gradient(#960000,#930000 7px,#8a0000 23px,#850000 43px,#800 48px,#890000 66px,#8b0000 73px,#8d0000 89px,#920000 100px,#9c0000 124px,#a00 140px,#b50000 153px,#d90000 187px,#f70100 215px,#fc1200 232px,#ff2e00 255px,#ff7300 307px,#fa0 348px,#fcbe03 364px,#ede012 398px,#d8f427 428px,#c9ff36 446px,#92ff6d 486px,#5effa1 522px,#44febb 542px,#30f2cf 563px,#1de3e2 586px,#03c3fc 629px,#00b8ff 639px,#005eff 702px,#003efe 726px,#0020f1 758px,#0001de 795px,#00009b 852px,#000084 882px,#000084 886px)"></i><i style="left:1438px;top:230px;height:886px;background-image:linear-gradient(#950000,#920000 7px,#8a0000 23px,#860000 44px,#870000 49px,#890000 66px,#8b0000 71px,#8d0000 88px,#930000 101px,#a00000 128px,#a00 138px,#b60000 153px,#c00 174px,#e40000 196px,#f60100 213px,#fc1600 235px,#ff3500 260px,#ff9000 328px,#feb701 358px,#f4d20b 383px,#e7e718 407px,#d4fa2b 434px,#c9ff36 445px,#8f7 492px,#56ffa9 527px,#45feba 541px,#2df0d2 566px,#18dee7 592px,#00bfff 633px,#0042ff 722px,#001df0 760px,#00d 796px,#0000bd 822px,#00009a 852px,#000084 882px,#000084 885px)"></i><i style="left:1440px;top:230px;height:885px;background-image:linear-gradient(#950000,#920000 7px,#8a0000 22px,#850000 44px,#870000 49px,#890000 66px,#8b0000 72px,#8c0000 88px,#930000 102px,#a00000 128px,#a00 138px,#b80000 155px,#ce0000 175px,#e00000 192px,#f50100 212px,#fd1900 237px,#ff3e00 267px,#ff6300 294px,#ff9600 332px,#fdb702 357px,#f3d60c 387px,#e4ed1b 413px,#cfff30 440px,#7aff85 501px,#4dffb2 533px,#3cf8c3 550px,#28ecd7 572px,#14daeb 598px,#00bfff 632px,#0042fe 721px,#001cf0 760px,#0000de 795px,#0000b9 825px,#00009a 852px,#000084 881px,#000084 884px)"></i><i style="left:1442px;top:230px;height:884px;background-image:linear-gradient(#940000,#910000 7px,#8a0000 21px,#850000 44px,#870000 49px,#800 66px,#8b0000 72px,#8d0000 89px,#a10000 129px,#ac0000 139px,#b90000 156px,#d00000 176px,#e10000 193px,#f40100 210px,#fd1d00 240px,#ff4a00 275px,#ff6800 297px,#ff9c00 336px,#fdb502 356px,#f2da0d 390px,#e0f21f 419px,#cfff30 440px,#6bff94 511px,#49ffb6 535px,#24e9db 576px,#0ed4f1 605px,#00bfff 631px,#0042fe 721px,#0023f3 752px,#0001df 792px,#0000c9 811px,#00009c 848px,#000084 881px,#000084 883px)"></i><i style="left:1444px;top:230px;height:883px;background-image:linear-gradient(#940000,#910000 7px,#8a0000 21px,#840000 44px,#860000 50px,#890000 67px,#8b0000 72px,#8d0000 89px,#a20000 130px,#ad0000 140px,#ba0000 157px,#d30000 178px,#e40000 195px,#f30100 209px,#fd1f00 241px,#ff5000 279px,#ff6e00 301px,#ffa200 340px,#fcb903 359px,#f6cc09 376px,#eee111 397px,#dcf723 425px,#d1ff2e 438px,#92ff6d 483px,#57ffa8 524px,#49feb6 535px,#20e7df 580px,#09cff6 612px,#00c1ff 629px,#006bff 690px,#0043fe 720px,#001ff1 756px,#0000df 792px,#0000c3 815px,#00009c 847px,#000084 880px,#000084 882px)"></i><i style="left:1446px;top:230px;height:882px;background-image:linear-gradient(#930000,#900000 7px,#890000 21px,#840000 44px,#860000 50px,#890000 67px,#8b0000 73px,#8e0000 90px,#a30000 130px,#af0000 142px,#bd0000 159px,#d60000 180px,#e70000 197px,#f20100 207px,#fb1900 234px,#fe2700 247px,#ff5800 284px,#ff7600 306px,#ffa700 343px,#f6cf09 378px,#ebe614 402px,#d7fd28 432px,#cf3 441px,#85ff7a 491px,#4afeb5 533px,#1ee5e1 582px,#05cafa 618px,#00c1ff 628px,#0044fe 718px,#001af0 760px,#0000df 790px,#0000c0 817px,#0000a0 843px,#000093 858px,#000084 879px,#000084 881px)"></i><i style="left:1448px;top:230px;height:881px;background-image:linear-gradient(#930000,#900000 6px,#890000 20px,#840000 45px,#860000 50px,#800 67px,#8b0000 73px,#8e0000 91px,#a40000 130px,#b10000 143px,#bd0000 159px,#d90000 182px,#f10100 206px,#fb1c00 236px,#fe2d00 251px,#ff6000 289px,#ff7e00 312px,#ffab00 345px,#f4d40b 382px,#e9ec16 407px,#d7ff28 433px,#7fff80 495px,#4dfeb2 531px,#33f2cc 558px,#16dee9 592px,#00c5ff 624px,#0045fe 717px,#0016ee 763px,#0000df 790px,#0000b8 823px,#00009b 846px,#000084 878px,#000084 880px)"></i><i style="left:1450px;top:230px;height:881px;background-image:linear-gradient(#930000,#910000 4px,#8a0000 18px,#840000 45px,#860000 50px,#890000 68px,#8b0000 73px,#8f0000 92px,#a40000 129px,#b40000 146px,#bf0000 160px,#db0000 184px,#ef0100 204px,#fb1c00 235px,#fe3100 254px,#ff6900 295px,#fead01 346px,#f9c306 366px,#f1dc0e 389px,#e7f118 412px,#d9ff26 431px,#74ff8b 502px,#4ffeb0 529px,#38f4c7 552px,#14deeb 593px,#00c5ff 623px,#0045fe 716px,#0015ee 764px,#0000e0 789px,#0000b0 828px,#00009a 846px,#000084 878px,#000084 880px)"></i><i style="left:1452px;top:231px;height:879px;background-image:linear-gradient(#910000,#8e0000 7px,#860000 30px,#840000 45px,#870000 61px,#8a0000 68px,#8b0000 75px,#8f0000 91px,#970000 104px,#a40000 127px,#ae0000 138px,#b70000 148px,#c30000 162px,#de0000 185px,#ee0100 202px,#f81700 227px,#fe3100 253px,#ff7200 300px,#ffa400 337px,#fac605 366px,#efe310 394px,#e4f61b 416px,#daff25 429px,#6aff95 507px,#50feaf 527px,#33f1cc 555px,#0fdaf0 597px,#00c5ff 621px,#0047fe 713px,#001af0 757px,#0003e5 782px,#0000df 788px,#0000c6 809px,#0000a9 832px,#00009a 844px,#000084 876px,#000084 878px)"></i><i style="left:1454px;top:231px;height:878px;background-image:linear-gradient(#910000,#8f0000 5px,#800 20px,#830000 44px,#850000 51px,#870000 61px,#890000 68px,#8b0000 74px,#900000 92px,#980000 106px,#a40000 126px,#af0000 139px,#b80000 148px,#c70000 165px,#e10000 187px,#ed0100 200px,#f91900 229px,#ff3500 256px,#ff5900 282px,#ff8c00 319px,#fdb502 350px,#f7cf08 374px,#ede912 399px,#e1fd1e 422px,#d9ff26 429px,#67ff98 508px,#51feae 526px,#2deed2 561px,#0bd7f4 602px,#00c8ff 619px,#0048fe 712px,#0018ef 758px,#0004e6 780px,#0000e1 786px,#0000c3 810px,#0000a6 834px,#00009a 844px,#000084 875px,#000084 877px)"></i><i style="left:1456px;top:231px;height:877px;background-image:linear-gradient(#910000,#8f0000 4px,#800 19px,#830000 43px,#860000 55px,#890000 68px,#8b0000 73px,#900000 92px,#970000 102px,#a40000 125px,#af0000 139px,#b80000 148px,#ca0000 167px,#e40000 189px,#ec0100 199px,#f91900 228px,#ff3a00 259px,#ff5c00 283px,#ff9200 323px,#fcbc03 355px,#f5d60a 379px,#eaf015 405px,#e1ff1e 423px,#95ff6a 476px,#5fa 521px,#3ff6c0 543px,#28ebd7 566px,#06d3f9 608px,#00c9ff 618px,#0092ff 657px,#0048fe 711px,#0026f4 743px,#0003e7 780px,#0000e1 786px,#0000bf 813px,#000098 846px,#000084 874px,#000084 876px)"></i><i style="left:1458px;top:231px;height:876px;background-image:linear-gradient(#900000,#900000 3px,#8b0000 11px,#830000 41px,#850000 54px,#870000 59px,#890000 68px,#8c0000 74px,#900000 93px,#980000 103px,#a40000 124px,#b10000 140px,#b00 150px,#ce0000 170px,#e70000 191px,#ec0200 199px,#fa1d00 231px,#ff3c00 260px,#ff6100 286px,#ff9800 327px,#fbc304 360px,#f3dd0c 385px,#e8f617 411px,#e2ff1d 422px,#8eff71 480px,#55feaa 520px,#3bf4c4 546px,#22e8dd 572px,#01d0fe 613px,#008fff 659px,#004afe 709px,#0021f3 747px,#0000e6 782px,#00b 815px,#000095 848px,#000084 873px,#000084 875px)"></i><i style="left:1460px;top:231px;height:875px;background-image:linear-gradient(#900000,#900000 3px,#8b0000 8px,#830000 40px,#850000 54px,#870000 60px,#800 68px,#8c0000 76px,#900000 93px,#980000 103px,#a40000 123px,#b30000 142px,#d10000 172px,#ea0000 193px,#f51000 216px,#fe2e00 248px,#ff4600 267px,#ff6700 290px,#ffa000 332px,#fbca04 365px,#f2e40d 390px,#e5fe1a 418px,#cdff32 436px,#86ff79 485px,#55feaa 520px,#36f2c9 551px,#1be4e4 578px,#00cfff 613px,#008fff 658px,#004afe 708px,#001cf1 751px,#0000e6 781px,#0000b7 818px,#000093 850px,#000084 872px,#000084 874px)"></i><i style="left:1462px;top:231px;height:874px;background-image:linear-gradient(#900000,#900000 3px,#8b0000 7px,#830000 39px,#840000 54px,#870000 60px,#890000 69px,#8d0000 77px,#910000 94px,#9a0000 105px,#a40000 123px,#b50000 143px,#d50000 175px,#eb0100 194px,#f81a00 226px,#ff3500 253px,#ff5700 278px,#ffa600 336px,#fad105 370px,#f0eb0f 396px,#e4ff1b 418px,#bf4 448px,#7cff83 491px,#56fda9 519px,#35f3ca 550px,#14e0eb 585px,#00d0ff 612px,#0075ff 676px,#004afe 708px,#0017f0 755px,#0000e6 780px,#0000b0 823px,#000091 852px,#000084 871px,#000084 873px)"></i><i style="left:1464px;top:231px;height:873px;background-image:linear-gradient(#900000,#900000 3px,#8b0000 7px,#830000 38px,#840000 54px,#870000 60px,#890000 69px,#8d0000 77px,#920000 95px,#9b0000 106px,#a40000 122px,#b60000 144px,#c40000 158px,#dc0000 180px,#ec0100 194px,#f81a00 226px,#ff3700 254px,#ff5c00 281px,#feae01 341px,#f9d706 374px,#eef311 402px,#e6ff19 416px,#baff45 448px,#75ff8a 495px,#58fea7 517px,#3ff6c0 539px,#29edd6 562px,#0ddcf2 592px,#00d1ff 610px,#0051ff 701px,#0021f4 745px,#0000e7 778px,#0000a8 829px,#00008f 854px,#000084 870px,#000084 872px)"></i><i style="left:1466px;top:231px;height:873px;background-image:linear-gradient(#900000,#900000 3px,#8b0000 7px,#830000 37px,#850000 55px,#870000 61px,#800 69px,#8d0000 78px,#920000 95px,#9c0000 107px,#a60000 123px,#b70000 145px,#c40000 157px,#d00 180px,#ea0100 192px,#f91b00 226px,#ff3700 253px,#ff6100 284px,#ff7f00 306px,#feb401 345px,#f9dd06 379px,#ebfc14 410px,#e5ff1a 416px,#b0ff4f 454px,#6dff92 500px,#57fda8 518px,#3af5c5 543px,#22eadd 568px,#05d7fa 601px,#00d1ff 609px,#0050fe 702px,#001cf3 748px,#0004e9 772px,#0000e6 778px,#0000a1 834px,#00008b 859px,#000084 870px,#000084 872px)"></i><i style="left:1468px;top:231px;height:872px;background-image:linear-gradient(#900000,#900000 3px,#8b0000 7px,#830000 37px,#840000 55px,#870000 61px,#890000 70px,#8e0000 79px,#920000 95px,#9d0000 109px,#a70000 124px,#b90000 146px,#c60000 158px,#de0000 181px,#e90100 191px,#f20d00 208px,#fd2800 239px,#ff3900 254px,#ff6500 287px,#ff8400 309px,#feba01 349px,#f8e307 383px,#ebff14 411px,#a4ff5b 462px,#65ff9a 505px,#34f3cb 548px,#1ce8e3 573px,#00d5ff 605px,#0090ff 655px,#004dfe 704px,#0018f1 751px,#0001e9 774px,#0000d8 788px,#00009f 835px,#000086 864px,#000084 870px,#000084 871px)"></i><i style="left:1470px;top:231px;height:871px;background-image:linear-gradient(#900000,#900000 3px,#8a0000 7px,#820000 37px,#850000 56px,#870000 61px,#890000 71px,#8e0000 80px,#930000 96px,#9f0000 111px,#a00 126px,#bc0000 148px,#c90000 160px,#df0000 181px,#e80200 190px,#f20e00 208px,#fc2600 236px,#ff3700 252px,#ff6a00 290px,#ff8900 312px,#fdc202 354px,#f7ea08 388px,#ecff13 410px,#beff41 443px,#8bff74 478px,#61ff9e 507px,#2cf0d3 555px,#16e5e9 579px,#00d6ff 604px,#0083ff 663px,#004dfe 703px,#0028f6 735px,#0001ea 773px,#00009f 834px,#000084 866px,#000084 870px)"></i><i style="left:1472px;top:231px;height:870px;background-image:linear-gradient(#8f0000,#8f0000 3px,#8a0000 7px,#820000 38px,#850000 56px,#870000 62px,#8a0000 72px,#8e0000 81px,#950000 99px,#a00000 112px,#a00 126px,#bd0000 149px,#cb0000 162px,#e00000 182px,#e80200 190px,#f41100 211px,#fe2a00 240px,#ff4700 263px,#ff7200 295px,#ff9000 317px,#fdc702 357px,#f7ef08 391px,#efff10 408px,#baff45 445px,#92ff6d 473px,#5ffea0 508px,#28efd7 558px,#0fe2f0 585px,#00d6ff 603px,#0050fe 700px,#0023f5 739px,#0000ea 773px,#0000c5 802px,#00009e 834px,#000084 866px,#000084 869px)"></i><i style="left:1474px;top:232px;height:868px;background-image:linear-gradient(#8e0000,#8e0000 3px,#8a0000 6px,#820000 37px,#830000 51px,#850000 56px,#870000 62px,#8a0000 72px,#8f0000 81px,#900 102px,#a40000 117px,#c00000 150px,#cd0000 162px,#dc0000 177px,#e70200 187px,#f51300 212px,#ff2d00 242px,#ff7500 296px,#f90 322px,#fdcb02 358px,#f8f407 393px,#f1ff0e 405px,#b3ff4c 448px,#8cff73 476px,#5cfda3 509px,#23eedc 561px,#08e0f7 590px,#00d7ff 601px,#0051fe 698px,#001ef4 742px,#0000eb 771px,#0000ad 819px,#00009c 835px,#000084 864px,#000084 867px)"></i><i style="left:1476px;top:232px;height:867px;background-image:linear-gradient(#8e0000,#8e0000 3px,#8a0000 6px,#820000 37px,#830000 45px,#840000 55px,#870000 61px,#8a0000 73px,#8f0000 82px,#9a0000 103px,#a60000 118px,#c10000 151px,#d00000 164px,#df0000 179px,#e70300 188px,#f61600 215px,#ff2e00 242px,#ff7c00 300px,#fecf01 360px,#f9ef06 387px,#f5ff0a 402px,#abff54 453px,#84ff7b 481px,#5dfda2 508px,#34f4cb 544px,#15e8ea 574px,#00dcff 597px,#00a4ff 636px,#0068ff 680px,#0046fc 706px,#0018f3 746px,#0000eb 770px,#0000a1 828px,#000084 864px,#000084 866px)"></i><i style="left:1478px;top:232px;height:866px;background-image:linear-gradient(#8d0000,#8c0000 4px,#800 10px,#810000 37px,#830000 44px,#850000 56px,#800 62px,#8b0000 74px,#8f0000 83px,#9b0000 105px,#a70000 119px,#b00000 130px,#c80000 156px,#d40000 168px,#e40100 184px,#f61400 213px,#ff2e00 241px,#ff8000 303px,#fed601 365px,#f9f606 392px,#f6ff09 401px,#a3ff5c 458px,#7aff85 487px,#56fca9 513px,#31f3ce 546px,#0ce5f3 582px,#00deff 596px,#00a7ff 633px,#004ffe 698px,#0016f3 747px,#0000ea 769px,#0000cb 794px,#0000a0 828px,#000084 863px,#000084 865px)"></i><i style="left:1480px;top:232px;height:866px;background-image:linear-gradient(#8d0000,#8c0000 4px,#800 9px,#810000 38px,#830000 45px,#840000 56px,#800 64px,#8c0000 76px,#9c0000 106px,#a80000 119px,#b00000 130px,#cb0000 158px,#d70000 170px,#e30200 183px,#f21000 206px,#fc2100 227px,#ff2f00 241px,#ff8700 307px,#ffb800 342px,#fde102 372px,#f9fe06 397px,#e2ff1d 414px,#9bff64 463px,#72ff8d 492px,#41f7be 530px,#0ee7f1 578px,#00deff 595px,#009dff 639px,#0050fe 697px,#001af4 743px,#0000ea 768px,#0000c7 797px,#0000a1 826px,#000084 863px,#000084 865px)"></i><i style="left:1482px;top:232px;height:865px;background-image:linear-gradient(#8c0000,#8c0000 4px,#800 8px,#810000 38px,#830000 45px,#840000 56px,#800 63px,#8c0000 76px,#9d0000 107px,#a90000 120px,#b10000 131px,#cd0000 160px,#da0000 172px,#e30200 182px,#f41200 208px,#ff2800 235px,#ff8c00 310px,#ffbd00 345px,#fde702 376px,#f9ff06 396px,#c7ff38 432px,#92ff6d 469px,#5dfda2 507px,#38f5c7 537px,#08e5f7 583px,#00e0ff 593px,#008dff 650px,#0050fd 696px,#0017f4 744px,#0000ec 766px,#0000be 803px,#00009f 827px,#000084 862px,#000084 864px)"></i><i style="left:1484px;top:232px;height:864px;background-image:linear-gradient(#8c0000,#8b0000 4px,#800 9px,#810000 38px,#830000 45px,#850000 57px,#890000 65px,#8c0000 77px,#9f0000 109px,#ab0000 122px,#b40000 133px,#d10000 163px,#de0000 176px,#ef0d00 200px,#fc1f00 224px,#ff2d00 238px,#ff9300 315px,#ffc600 351px,#fdee02 381px,#faff05 395px,#bf4 440px,#8f7 475px,#56fca9 512px,#2ff3d0 544px,#00e2ff 590px,#007fff 659px,#004efd 697px,#002af7 727px,#0001ee 764px,#0000b7 808px,#00009e 827px,#000084 861px,#000084 863px)"></i><i style="left:1486px;top:232px;height:863px;background-image:linear-gradient(#8b0000,#8a0000 5px,#800000 38px,#830000 46px,#840000 57px,#890000 65px,#8c0000 78px,#970000 94px,#a10000 111px,#ad0000 124px,#b50000 134px,#c60000 151px,#d40000 165px,#e00000 177px,#f51300 209px,#ff2800 234px,#ff9d00 321px,#ffcf00 357px,#fdf602 386px,#fbfe04 393px,#b3ff4c 445px,#80ff7f 480px,#4bfbb4 520px,#27f2d8 550px,#00e3ff 589px,#07f 664px,#004cfd 698px,#0025f7 730px,#00e 764px,#0000d0 787px,#0000b1 812px,#00009e 826px,#000084 860px,#000084 862px)"></i><i style="left:1488px;top:232px;height:862px;background-image:linear-gradient(#8b0000,#8a0000 5px,#800000 38px,#830000 46px,#850000 58px,#890000 66px,#8d0000 79px,#920000 86px,#a30000 113px,#af0000 126px,#b60000 135px,#c70000 151px,#d60000 166px,#e00100 176px,#f21100 204px,#fe2300 228px,#ff5400 266px,#ffa900 329px,#ffdb00 365px,#fdfc02 390px,#dcff23 415px,#a0ff5f 457px,#74ff8b 488px,#41f9be 527px,#1ff0e0 556px,#00e3ff 588px,#0098ff 640px,#0067ff 675px,#0020f6 733px,#00e 763px,#0000c9 792px,#0000a9 817px,#00009d 827px,#000084 859px,#000084 861px)"></i><i style="left:1490px;top:232px;height:861px;background-image:linear-gradient(#8a0000,#800000 38px,#830000 47px,#850000 58px,#8a0000 67px,#8d0000 79px,#930000 87px,#a50000 115px,#b10000 128px,#b90000 137px,#ca0000 153px,#d90000 168px,#e10100 176px,#f31100 205px,#ff2500 230px,#ff5b00 271px,#ffb300 336px,#ffe600 372px,#fefc01 389px,#d3ff2c 420px,#97ff68 463px,#6fff90 491px,#3af8c5 532px,#16eee9 564px,#00e5ff 586px,#0090ff 645px,#0060ff 679px,#0019f5 738px,#00e 762px,#0000be 800px,#00009b 828px,#000084 858px,#000084 860px)"></i><i style="left:1492px;top:233px;height:859px;background-image:linear-gradient(#890000,#800000 38px,#830000 47px,#860000 59px,#8a0000 68px,#8f0000 80px,#940000 87px,#a80000 117px,#bd0000 139px,#ce0000 156px,#e10200 175px,#f41200 205px,#ff2400 228px,#ff6100 274px,#ffbe00 342px,#fff100 378px,#fefb01 386px,#ceff31 422px,#8fff70 467px,#69fe96 494px,#31f7ce 537px,#0cebf3 571px,#00e6ff 583px,#005dff 679px,#0012f4 742px,#0000ef 759px,#009 829px,#000084 856px,#000084 858px)"></i><i style="left:1494px;top:233px;height:858px;background-image:linear-gradient(#890000,#800000 38px,#830000 48px,#860000 60px,#8b0000 69px,#910000 82px,#980000 94px,#a00 119px,#c20000 143px,#d30000 160px,#e00200 174px,#f51200 205px,#ff2400 227px,#f60 277px,#ffca00 350px,#fff900 383px,#e7fd18 403px,#bcff43 434px,#62fe9d 498px,#2af6d5 542px,#02e9fd 579px,#00e1ff 586px,#0058fe 682px,#000ff4 744px,#0000ef 758px,#000098 829px,#000084 855px,#000084 857px)"></i><i style="left:1496px;top:233px;height:858px;background-image:linear-gradient(#800,#800000 37px,#830000 49px,#870000 61px,#8b0000 70px,#930000 84px,#980000 94px,#ac0000 121px,#c50000 146px,#d60000 163px,#e30300 177px,#f71400 208px,#ff2300 226px,#ff6c00 281px,#ffd600 358px,#fff800 382px,#dbfd24 411px,#af5 446px,#6eff91 488px,#3af9c5 529px,#1ff4e0 550px,#00e9ff 579px,#0073ff 662px,#004ffe 689px,#0007f3 750px,#0000f0 757px,#0000a4 818px,#000092 836px,#000084 855px,#000084 857px)"></i><i style="left:1498px;top:233px;height:857px;background-image:linear-gradient(#800,#800000 36px,#850000 58px,#8b0000 71px,#900 95px,#a60000 112px,#b10000 125px,#cd0000 152px,#de0100 171px,#ec0a00 189px,#fb1a00 215px,#ff2300 225px,#ff7100 284px,#ffe300 366px,#fef701 381px,#d6fd29 414px,#af5 445px,#6bfe94 490px,#4cfcb3 513px,#1af5e5 553px,#00e9ff 578px,#0054fe 684px,#002df9 717px,#0000f2 755px,#0000d3 779px,#0000a2 819px,#00008f 839px,#000084 854px,#000084 856px)"></i><i style="left:1500px;top:233px;height:856px;background-image:linear-gradient(#870000,#800000 36px,#810000 44px,#870000 63px,#900 95px,#a30000 107px,#b00000 125px,#da0000 165px,#ed0a00 190px,#fe1c00 218px,#ff3000 234px,#f70 288px,#ff9e00 316px,#fff000 375px,#fdf602 380px,#d2fd2d 416px,#af5 445px,#4dfdb2 511px,#15f5ea 556px,#00ebff 576px,#0056fe 682px,#0027f9 721px,#0000f3 754px,#0000d0 780px,#0000a1 819px,#00008c 842px,#000084 853px,#000084 855px)"></i><i style="left:1502px;top:233px;height:855px;background-image:linear-gradient(#870000,#800000 35px,#810000 44px,#850000 55px,#890000 65px,#900 95px,#a50000 108px,#b20000 126px,#c30000 142px,#dd0100 167px,#f10d00 194px,#ff1d00 219px,#ff7c00 291px,#ffa000 317px,#fef301 377px,#e7f918 397px,#c2fd3d 427px,#8bff74 466px,#44fcbb 517px,#0ef4f1 561px,#0ef 574px,#0057fe 680px,#002efb 713px,#0000f2 753px,#0000c8 786px,#0000a0 819px,#008 846px,#000084 853px,#000084 854px)"></i><i style="left:1504px;top:233px;height:854px;background-image:linear-gradient(#870000,#800000 34px,#810000 45px,#850000 54px,#800 65px,#9b0000 97px,#a70000 110px,#b30000 127px,#c60000 144px,#de0100 168px,#f20d00 195px,#ff1d00 219px,#ff8000 294px,#ffa500 320px,#fef001 375px,#e2f91d 400px,#b9fe46 433px,#69ff96 490px,#3cfcc3 522px,#05f3fa 567px,#00efff 573px,#00bcff 608px,#0052fe 683px,#0025fa 720px,#0000f2 752px,#0000b9 797px,#0000a0 818px,#000084 850px,#000084 853px)"></i><i style="left:1506px;top:233px;height:853px;background-image:linear-gradient(#870000,#800000 33px,#810000 45px,#850000 53px,#890000 66px,#8e0000 73px,#9c0000 98px,#a80000 111px,#b50000 128px,#c90000 146px,#de0100 167px,#f20c00 194px,#ff1c00 217px,#ff8700 298px,#ffac00 324px,#feef01 373px,#dafa25 405px,#adfe52 441px,#5cffa3 498px,#32fccd 528px,#00f3ff 570px,#00b4ff 613px,#004ffe 685px,#001cf9 726px,#0000f2 751px,#0000a3 814px,#000084 849px,#000084 852px)"></i><i style="left:1508px;top:234px;height:851px;background-image:linear-gradient(#860000,#800000 31px,#800000 44px,#850000 53px,#800 65px,#8e0000 72px,#9e0000 99px,#a00 112px,#b70000 129px,#cd0000 148px,#de0200 166px,#ee0a00 187px,#fb1500 207px,#ff1c00 216px,#ff8e00 302px,#ffb200 327px,#ffed00 370px,#d1fa2e 410px,#a0ff5f 449px,#5effa1 495px,#29fbd6 533px,#00f3ff 568px,#00a6ff 621px,#004ffe 683px,#0017f9 728px,#0000f3 748px,#0000a3 812px,#000084 847px,#000084 850px)"></i><i style="left:1510px;top:234px;height:851px;background-image:linear-gradient(#860000,#800000 30px,#810000 45px,#860000 54px,#890000 66px,#940000 82px,#a20000 102px,#ad0000 115px,#b00 132px,#d00000 151px,#df0200 166px,#ed0800 185px,#ff1800 212px,#ff9500 306px,#ffba00 332px,#ffec00 368px,#e6f319 391px,#cafb35 415px,#94ff6b 457px,#5affa5 497px,#20fbdf 539px,#00f5ff 566px,#0069ff 663px,#0035fc 703px,#0003f6 744px,#0000f3 748px,#0000a4 810px,#000084 847px,#000084 850px)"></i><i style="left:1512px;top:234px;height:850px;background-image:linear-gradient(#860000,#800000 30px,#810000 46px,#860000 55px,#8a0000 67px,#8f0000 74px,#a40000 104px,#af0000 117px,#be0000 134px,#d30000 153px,#eb0700 180px,#fb1300 204px,#ff1a00 213px,#ff9d00 311px,#ffc300 338px,#feeb01 367px,#e0f41f 395px,#c1fc3e 421px,#89ff76 464px,#51ffae 502px,#17fbe8 545px,#00f6ff 564px,#0058fe 675px,#002dfb 708px,#0000f6 745px,#0000ac 803px,#00009e 816px,#000084 847px,#000084 849px)"></i><i style="left:1514px;top:234px;height:849px;background-image:linear-gradient(#850000,#800000 29px,#810000 46px,#870000 56px,#8a0000 67px,#900000 74px,#940000 81px,#a60000 106px,#c10000 136px,#d70000 156px,#ee0800 184px,#ff1600 209px,#ff9b00 309px,#fee901 365px,#dcf523 398px,#b7fc48 428px,#7fff80 470px,#46ffb9 509px,#0dfaf2 551px,#00f7ff 563px,#0051fe 679px,#0026fb 713px,#0000f6 745px,#0000c9 779px,#0000a1 811px,#000084 846px,#000084 848px)"></i><i style="left:1516px;top:234px;height:848px;background-image:linear-gradient(#850000,#800000 28px,#810000 47px,#870000 56px,#8b0000 68px,#a70000 107px,#c30000 138px,#d90000 157px,#f20a00 188px,#ff1600 209px,#ff9c00 309px,#fee601 363px,#e9f016 384px,#d1f62e 406px,#aefd51 434px,#76ff89 476px,#3cffc3 516px,#04fafb 557px,#00f7ff 562px,#00a5ff 619px,#0042fe 690px,#001dfa 719px,#0000f7 743px,#0000a5 806px,#000084 845px,#000084 847px)"></i><i style="left:1518px;top:234px;height:847px;background-image:linear-gradient(#850000,#800000 27px,#820000 48px,#870000 57px,#8c0000 69px,#910000 76px,#a80000 108px,#c60000 140px,#db0100 159px,#f50b00 191px,#ff1600 208px,#f90 306px,#ffe300 360px,#e4f11b 387px,#c8f837 412px,#a4fe5b 441px,#69ff96 484px,#2fffd0 524px,#00faff 559px,#004afe 683px,#0018fb 722px,#0000f7 742px,#0000d4 769px,#0000a3 807px,#000084 844px,#000084 846px)"></i><i style="left:1520px;top:235px;height:845px;background-image:linear-gradient(#840000,#800000 26px,#820000 48px,#800 58px,#8d0000 69px,#920000 76px,#970000 83px,#ad0000 112px,#bc0000 128px,#c90000 141px,#df0200 161px,#f80d00 194px,#ff1400 205px,#ff9d00 307px,#ffe200 358px,#dcf223 392px,#c1f93e 416px,#98fe67 448px,#4affb5 503px,#11fdee 544px,#01fbfe 556px,#0090ff 631px,#0041fd 688px,#0010fa 726px,#0000f6 740px,#0000d1 770px,#0000a7 802px,#000084 842px,#000084 844px)"></i><i style="left:1522px;top:235px;height:844px;background-image:linear-gradient(#840000,#800000 25px,#820000 48px,#890000 60px,#8e0000 70px,#970000 83px,#ae0000 113px,#be0000 129px,#cb0000 143px,#e10300 163px,#fc0f00 198px,#ff1400 205px,#ffa500 312px,#ffe100 356px,#d4f42b 398px,#b9fa46 422px,#8eff71 455px,#0bfef4 547px,#01fbfe 555px,#00a1ff 619px,#0044fe 685px,#0009fa 731px,#0000f7 739px,#0000c8 776px,#0000a3 804px,#000084 841px,#000084 843px)"></i><i style="left:1524px;top:235px;height:843px;background-image:linear-gradient(#840000,#800000 25px,#820000 47px,#8a0000 63px,#940000 80px,#9e0000 91px,#b00000 114px,#c10000 131px,#ce0000 145px,#e40400 166px,#ff1000 201px,#ffab00 316px,#fee001 355px,#cef531 403px,#b1fb4e 428px,#87ff78 459px,#03fefc 552px,#00d7ff 580px,#003dfe 689px,#0001f9 736px,#0000c2 780px,#0000a3 803px,#000084 840px,#000084 842px)"></i><i style="left:1526px;top:235px;height:843px;background-image:linear-gradient(#840000,#800000 24px,#810000 41px,#850000 53px,#8b0000 63px,#8f0000 71px,#900 85px,#b30000 117px,#c30000 133px,#d00000 146px,#e70400 168px,#ff1000 200px,#ffb100 320px,#fedf01 353px,#caf635 405px,#a8fd57 434px,#80ff7f 463px,#04fefb 551px,#0cf 587px,#0036ff 693px,#0000fa 736px,#0000d9 761px,#0000b6 788px,#0000a2 804px,#000084 840px,#000084 842px)"></i><i style="left:1528px;top:235px;height:842px;background-image:linear-gradient(#830000,#800000 23px,#810000 39px,#850000 53px,#8b0000 63px,#900000 72px,#9b0000 87px,#ae0000 110px,#c80000 137px,#d50000 150px,#eb0500 172px,#f10 199px,#ff3000 223px,#ffb900 325px,#ffde00 351px,#d4f02b 394px,#bff840 414px,#a0fe5f 440px,#05fffa 549px,#00c7ff 590px,#0030ff 697px,#0000fa 735px,#0000d3 765px,#0000b0 792px,#0000a2 803px,#000084 839px,#000084 841px)"></i><i style="left:1530px;top:235px;height:841px;background-image:linear-gradient(#830000,#800000 23px,#800000 38px,#850000 54px,#8c0000 64px,#900000 72px,#a20000 96px,#bc0000 124px,#d50000 150px,#ee0600 174px,#f10 198px,#ff2e00 221px,#ffc100 330px,#ffdc00 349px,#e9e716 372px,#baf945 418px,#9f6 445px,#65ff9a 480px,#06fef9 548px,#01d7fe 578px,#0061ff 661px,#0020fe 708px,#0000fa 734px,#0000c8 773px,#00009f 805px,#000084 838px,#000084 840px)"></i><i style="left:1532px;top:235px;height:840px;background-image:linear-gradient(#830000,#800000 22px,#810000 39px,#870000 56px,#8d0000 66px,#910000 74px,#a30000 97px,#bf0000 127px,#da0100 154px,#f10700 177px,#ff1000 196px,#ff3400 225px,#ffc700 334px,#fedb01 348px,#e5e81a 375px,#aefc51 427px,#95ff6a 447px,#60ff9f 483px,#07fef8 546px,#02d7fd 577px,#0af 609px,#002fff 696px,#0000fb 732px,#0000da 758px,#00009c 808px,#000084 837px,#000084 839px)"></i><i style="left:1534px;top:236px;height:838px;background-image:linear-gradient(#820000,#800000 22px,#800000 38px,#870000 56px,#8d0000 66px,#910000 73px,#a00000 90px,#a90000 103px,#c80000 134px,#de0100 156px,#f40800 179px,#ff0f00 194px,#ff3e00 231px,#ffcf00 338px,#feda01 346px,#e0eb1f 379px,#a8fd57 431px,#90ff6f 449px,#58ffa7 487px,#09fff6 543px,#02d0fd 580px,#009fff 615px,#0028ff 699px,#0004fc 727px,#0000fa 731px,#00009b 807px,#000084 835px,#000084 837px)"></i><i style="left:1536px;top:236px;height:837px;background-image:linear-gradient(#820000,#800000 22px,#800000 38px,#890000 58px,#8e0000 68px,#930000 74px,#a10000 91px,#ab0000 104px,#d30000 144px,#eb0400 168px,#fe0c00 190px,#ff1c00 203px,#ff4300 234px,#fed701 344px,#ede312 363px,#d9ed26 385px,#a2fe5d 435px,#7fff80 460px,#4affb5 496px,#0afef5 542px,#02c8fd 585px,#0090ff 625px,#0020ff 704px,#0001fc 728px,#0000a6 797px,#000095 813px,#000084 834px,#000084 836px)"></i><i style="left:1538px;top:236px;height:836px;background-image:linear-gradient(#820000,#800000 22px,#810000 39px,#890000 59px,#8f0000 69px,#9b0000 84px,#a60000 98px,#ae0000 107px,#e50200 161px,#fc0a00 186px,#ff0e00 192px,#ff3400 222px,#fed501 342px,#e9e516 367px,#d2f02d 391px,#9fff60 437px,#70ff8f 469px,#39ffc6 507px,#0bfef4 540px,#02c2fd 589px,#007bff 639px,#0017ff 710px,#0000fd 728px,#0000dc 753px,#0000a6 796px,#000091 817px,#000084 833px,#000084 835px)"></i><i style="left:1540px;top:236px;height:836px;background-image:linear-gradient(#820000,#800000 24px,#800000 39px,#870000 54px,#940000 75px,#9c0000 84px,#af0000 107px,#c00000 124px,#cf0000 139px,#f10400 172px,#ff0c00 190px,#ff7000 266px,#fed301 340px,#e3e71c 372px,#ccf233 396px,#9dff62 437px,#6aff95 473px,#3fc 510px,#0cfff3 538px,#02c2fd 588px,#0070ff 646px,#0010ff 714px,#0000fe 727px,#0000db 753px,#0000a5 796px,#00008e 820px,#000084 833px,#000084 835px)"></i><i style="left:1542px;top:236px;height:835px;background-image:linear-gradient(#810000,#800000 26px,#810000 40px,#8b0000 62px,#960000 77px,#b00000 108px,#c30000 126px,#cf0000 139px,#e00100 154px,#f40400 175px,#ff0b00 189px,#ff8200 278px,#fed201 338px,#dcea23 378px,#c5f53a 402px,#9cff63 437px,#62ff9d 478px,#2bffd4 515px,#0dfef2 537px,#05ccfa 578px,#01a5fe 608px,#0008ff 719px,#0000fe 726px,#0000d3 758px,#0000a4 796px,#000089 825px,#000084 832px,#000084 834px)"></i><i style="left:1544px;top:237px;height:833px;background-image:linear-gradient(#810000,#800000 38px,#860000 48px,#8c0000 62px,#9e0000 86px,#b50000 111px,#c60000 128px,#d10000 139px,#e20200 154px,#f80500 177px,#ff0900 186px,#ffa200 300px,#fed101 336px,#d6ed29 383px,#bef741 407px,#9eff61 434px,#58ffa7 483px,#21ffde 520px,#0efef1 534px,#04c5fb 582px,#0196fe 617px,#0001ff 722px,#0000ed 737px,#0000ca 763px,#0000a5 794px,#000084 828px,#000084 832px)"></i><i style="left:1546px;top:237px;height:832px;background-image:linear-gradient(#810000,#800000 39px,#860000 49px,#8d0000 63px,#9b0000 80px,#a50000 94px,#b80000 114px,#ca0000 131px,#d90000 145px,#fa0500 178px,#ff0800 185px,#fed001 334px,#d3ef2c 385px,#b7fa48 413px,#9eff61 433px,#50ffaf 488px,#1cffe3 523px,#10ffef 532px,#04c4fb 582px,#0084ff 629px,#0000fe 722px,#0000e5 742px,#0000bf 771px,#0000a5 793px,#000084 828px,#000084 831px)"></i><i style="left:1548px;top:237px;height:831px;background-image:linear-gradient(#800000,#810000 40px,#870000 49px,#8c0000 63px,#940000 72px,#a10000 88px,#ba0000 115px,#cf0000 136px,#e60100 156px,#ff0600 182px,#ff9800 291px,#fece01 332px,#dce723 374px,#caf335 394px,#b0fc4f 419px,#9bff64 434px,#46ffb9 494px,#12ffed 529px,#08d7f7 565px,#02a9fd 601px,#0068ff 648px,#0008ff 715px,#0000fe 721px,#0000e0 745px,#0000bd 772px,#0000a4 793px,#000084 827px,#000084 830px)"></i><i style="left:1550px;top:237px;height:830px;background-image:linear-gradient(#800000,#800000 40px,#870000 50px,#8d0000 64px,#950000 73px,#a20000 89px,#bc0000 117px,#de0000 148px,#ee0300 163px,#ff0500 181px,#fecd01 331px,#d7e928 378px,#c2f63d 401px,#a9ff56 425px,#73ff8c 462px,#3bffc4 501px,#13ffec 528px,#07caf8 574px,#029dfd 609px,#0030ff 687px,#0001fe 720px,#0000dc 748px,#0000b8 775px,#0000a4 792px,#000084 827px,#000084 829px)"></i><i style="left:1552px;top:237px;height:829px;background-image:linear-gradient(#800000,#800000 40px,#800 51px,#8e0000 64px,#970000 74px,#a00 97px,#b40000 108px,#db0000 145px,#ed0100 161px,#ff0500 181px,#fecc01 329px,#d6eb29 379px,#bafa45 409px,#a7ff58 426px,#72ff8d 462px,#3fc 506px,#13ffec 527px,#06c6f9 577px,#0089ff 623px,#0003ff 718px,#0000e5 740px,#0000ac 783px,#000084 825px,#000084 828px)"></i><i style="left:1554px;top:238px;height:827px;background-image:linear-gradient(#800000,#810000 39px,#890000 52px,#900000 65px,#980000 74px,#ac0000 98px,#b60000 109px,#e00000 148px,#f20200 163px,#ff0500 178px,#ff4600 228px,#fecb01 326px,#d6eb29 377px,#b2fd4d 415px,#a4ff5b 427px,#68ff97 467px,#29ffd6 511px,#14feeb 525px,#0ad3f5 563px,#04b1fb 591px,#007fff 629px,#0030ff 685px,#0004fe 716px,#0000e1 741px,#0000c9 759px,#0000a6 786px,#000084 824px,#000084 826px)"></i><i style="left:1556px;top:238px;height:827px;background-image:linear-gradient(#800000,#810000 38px,#8a0000 54px,#910000 66px,#900 75px,#ae0000 99px,#b80000 110px,#ca0000 127px,#f40100 164px,#ff0500 177px,#ff1f00 198px,#feca01 325px,#dde522 367px,#b4fd4b 413px,#a5ff5a 425px,#59ffa6 477px,#1effe1 518px,#17fde8 524px,#0bd9f4 557px,#03a6fc 599px,#006eff 640px,#0029ff 689px,#0005fe 715px,#0000dc 744px,#0000c5 762px,#0000a6 785px,#000084 824px,#000084 826px)"></i><i style="left:1558px;top:238px;height:826px;background-image:linear-gradient(#800000,#810000 37px,#860000 47px,#920000 67px,#9a0000 76px,#ae0000 99px,#b90000 110px,#c40000 122px,#f70100 166px,#ff0500 176px,#ff2100 199px,#ff8a00 276px,#fec901 323px,#edd912 347px,#c7f338 392px,#abff54 420px,#47ffb8 489px,#1affe5 521px,#0fe5f0 545px,#07c2f8 575px,#0299fd 608px,#05f 657px,#0020ff 695px,#0006fe 714px,#0000d6 748px,#0000be 766px,#0000a6 784px,#000084 823px,#000084 825px)"></i><i style="left:1560px;top:238px;height:825px;background-image:linear-gradient(#800000,#810000 36px,#860000 47px,#950000 69px,#a30000 86px,#bc0000 113px,#c80000 125px,#fa0100 168px,#ff0400 174px,#ff2a00 205px,#ff8400 271px,#fec801 322px,#e8dd17 352px,#c0f73f 399px,#abff54 419px,#32ffcd 503px,#1bfee4 520px,#0eddf1 550px,#06bbf9 580px,#0087ff 621px,#0019ff 699px,#0007fe 713px,#0000d1 751px,#0000b8 770px,#0000a6 784px,#000084 822px,#000084 824px)"></i><i style="left:1562px;top:239px;height:823px;background-image:linear-gradient(#800000,#810000 34px,#870000 47px,#960000 69px,#a40000 86px,#be0000 113px,#c70000 123px,#fe0100 170px,#ff2f00 207px,#ff8a00 274px,#fec701 319px,#e4e01b 356px,#bafb45 404px,#abff54 417px,#1fffe0 515px,#18f1e7 529px,#0cd5f3 555px,#05b2fa 586px,#0082ff 623px,#01f 703px,#0008ff 710px,#00c 753px,#0000b2 773px,#0000a5 783px,#000084 820px,#000084 822px)"></i><i style="left:1564px;top:239px;height:822px;background-image:linear-gradient(#800000,#810000 33px,#870000 48px,#970000 70px,#a50000 87px,#c00000 115px,#c80000 123px,#ff0100 170px,#ff4000 219px,#ff9000 278px,#fec501 317px,#dfe420 361px,#b3fe4c 410px,#1effe1 515px,#0bccf4 562px,#04a9fb 592px,#007dff 626px,#0008ff 708px,#0000c6 757px,#0000ac 777px,#00009f 788px,#000084 819px,#000084 821px)"></i><i style="left:1566px;top:239px;height:821px;background-image:linear-gradient(#800000,#810000 32px,#800 49px,#920000 62px,#980000 71px,#a90000 90px,#c20000 116px,#cf0000 128px,#fe0100 169px,#ff4300 221px,#ff9800 283px,#fec401 316px,#dde622 364px,#b3ff4c 410px,#20ffdf 513px,#09c4f6 568px,#03a0fc 599px,#0079ff 628px,#0008ff 707px,#0000be 763px,#00009e 788px,#000084 818px,#000084 820px)"></i><i style="left:1568px;top:239px;height:820px;background-image:linear-gradient(#800000,#800000 32px,#890000 50px,#920000 61px,#900 72px,#ac0000 93px,#d00000 128px,#fd0000 167px,#ff1b00 189px,#ff4d00 228px,#ff9e00 287px,#fec301 314px,#e3e01c 355px,#d5ec2a 373px,#b3ff4c 409px,#20fedf 512px,#11d3ee 552px,#08bbf7 574px,#0197fe 605px,#005fff 645px,#0008ff 706px,#0000b9 766px,#00009b 791px,#000084 817px,#000084 819px)"></i><i style="left:1570px;top:240px;height:819px;background-image:linear-gradient(#800000,#810000 31px,#8a0000 50px,#940000 62px,#9b0000 72px,#b00000 96px,#d40000 130px,#fc0100 165px,#ff1800 185px,#ff5e00 239px,#ffa500 291px,#fec201 311px,#e0e31f 357px,#cff030 378px,#b3ff4c 407px,#2fd 509px,#0fcef0 555px,#06b1f9 581px,#008eff 611px,#002dff 679px,#0009ff 704px,#0000b8 765px,#000097 793px,#000084 816px,#000084 818px)"></i><i style="left:1572px;top:240px;height:818px;background-image:linear-gradient(#800000,#810000 32px,#8b0000 51px,#950000 63px,#9c0000 73px,#b90000 105px,#da0000 134px,#fb0100 164px,#ff1b00 187px,#ff6d00 249px,#ffac00 295px,#fec101 310px,#dee521 359px,#caf435 384px,#b5ff4a 405px,#23fedc 508px,#0ec8f1 559px,#04a7fb 589px,#008bff 612px,#0024ff 684px,#000afe 703px,#0005e3 727px,#0000ae 772px,#000093 797px,#000084 815px,#000084 817px)"></i><i style="left:1574px;top:240px;height:817px;background-image:linear-gradient(#800000,#810000 32px,#8d0000 53px,#960000 65px,#9d0000 74px,#ab0000 89px,#c50000 115px,#eb0000 149px,#fa0100 162px,#ff1f00 189px,#ff8200 264px,#ffb300 300px,#fdc102 310px,#e6dc19 346px,#cbf534 384px,#b5ff4a 404px,#24fedb 506px,#0ec8f1 559px,#029cfd 597px,#0089ff 613px,#001cff 689px,#000cfe 702px,#0005e0 728px,#0000a8 776px,#00008e 802px,#000084 814px,#000084 816px)"></i><i style="left:1576px;top:240px;height:816px;background-image:linear-gradient(#800000,#810000 31px,#8f0000 55px,#980000 67px,#9f0000 76px,#ad0000 91px,#c40000 114px,#ed0000 150px,#f90100 161px,#ff2300 192px,#ffaf00 297px,#fdbe02 308px,#f0d10f 330px,#d0f12f 376px,#befd41 397px,#adff52 409px,#25feda 505px,#12d2ed 548px,#0197fe 600px,#007fff 619px,#0012ff 695px,#000cfe 701px,#0004d8 734px,#0000a6 778px,#000089 806px,#000084 813px,#000084 815px)"></i><i style="left:1578px;top:241px;height:814px;background-image:linear-gradient(#800000,#810000 30px,#900000 56px,#9a0000 68px,#a30000 78px,#bd0000 106px,#f10000 151px,#f70100 159px,#ff2400 191px,#feba01 304px,#f1cf0e 326px,#d3f02c 371px,#bcff43 398px,#8f7 433px,#26fed9 502px,#10caef 553px,#0090ff 604px,#006dff 630px,#000dff 697px,#0004d2 737px,#0000a6 776px,#000084 810px,#000084 813px)"></i><i style="left:1580px;top:241px;height:813px;background-image:linear-gradient(#800000,#810000 29px,#850000 36px,#920000 58px,#9c0000 70px,#b10000 93px,#bf0000 108px,#f40000 153px,#f70200 158px,#ff2700 193px,#feb901 303px,#eed411 331px,#cef531 378px,#beff41 397px,#81ff7e 437px,#28ffd7 500px,#10caef 553px,#008eff 604px,#0067ff 633px,#000cfe 697px,#0003c7 746px,#0000a6 775px,#000084 809px,#000084 812px)"></i><i style="left:1582px;top:241px;height:812px;background-image:linear-gradient(#800000,#810000 28px,#840000 36px,#940000 60px,#a50000 80px,#b40000 95px,#c00000 108px,#f60000 154px,#fd1b00 181px,#ff3f00 211px,#feb701 301px,#e9d916 337px,#c9f936 383px,#beff41 396px,#72ff8d 447px,#28fed7 499px,#15d6ea 540px,#0ab4f5 571px,#008cff 605px,#005fff 638px,#000cfe 696px,#0002c0 751px,#0000a5 775px,#000084 808px,#000084 811px)"></i><i style="left:1584px;top:241px;height:811px;background-image:linear-gradient(#800000,#810000 27px,#840000 36px,#960000 62px,#a80000 82px,#b60000 97px,#c00000 108px,#f70100 154px,#fd2400 188px,#ff4d00 221px,#feb601 299px,#e5de1a 343px,#c4fe3b 390px,#b2ff4d 403px,#65ff9a 455px,#2afed5 497px,#13d0ec 545px,#03a0fc 588px,#08f 607px,#0054ff 645px,#000dfe 695px,#0002bd 752px,#0000a4 775px,#000084 808px,#000084 810px)"></i><i style="left:1586px;top:242px;height:810px;background-image:linear-gradient(#800000,#810000 26px,#850000 36px,#910000 54px,#9b0000 66px,#a90000 82px,#b80000 98px,#c30000 109px,#f70100 152px,#fd2500 187px,#ff5400 224px,#feb501 297px,#e2e21d 347px,#c3ff3c 390px,#4fffb0 469px,#2bfed4 495px,#12cced 547px,#0196fe 595px,#004aff 650px,#000fff 692px,#0008e4 716px,#0000ab 765px,#000084 806px,#000084 809px)"></i><i style="left:1588px;top:242px;height:809px;background-image:linear-gradient(#800000,#810000 25px,#840000 36px,#8b0000 44px,#900 64px,#a20000 74px,#c60000 111px,#f60100 151px,#fd2600 187px,#ff5300 223px,#feb501 296px,#e1e41e 348px,#c3ff3c 389px,#3bffc4 482px,#2cfed3 493px,#18d7e7 534px,#0cb9f3 563px,#0091ff 598px,#005bff 637px,#01f 690px,#0008e4 715px,#0000a9 767px,#000084 806px,#000084 808px)"></i><i style="left:1590px;top:243px;height:807px;background-image:linear-gradient(#800000,#820000 24px,#840000 35px,#8b0000 43px,#9b0000 64px,#a40000 75px,#ca0000 113px,#f40100 148px,#fa1400 168px,#fe3900 201px,#feb301 293px,#e6da19 337px,#d8ed27 359px,#c3ff3c 387px,#2effd1 489px,#17d5e8 535px,#08aff7 571px,#008fff 598px,#0034ff 663px,#0010fe 689px,#0007df 718px,#0000a7 767px,#000084 804px,#000084 806px)"></i><i style="left:1592px;top:243px;height:806px;background-image:linear-gradient(#800000,#820000 24px,#850000 36px,#8c0000 44px,#9c0000 65px,#a50000 75px,#b00000 87px,#d00000 117px,#f30100 147px,#fa1600 169px,#fe3700 199px,#feb101 291px,#e5dd1a 339px,#d3f32c 366px,#c5ff3a 385px,#2fffd0 488px,#15d0ea 539px,#029dfd 587px,#0081ff 607px,#0049ff 647px,#0024ff 673px,#0010fe 688px,#0006d9 722px,#0000a6 767px,#000084 803px,#000084 805px)"></i><i style="left:1594px;top:243px;height:805px;background-image:linear-gradient(#800000,#820000 24px,#860000 36px,#8d0000 45px,#9d0000 66px,#a70000 76px,#b10000 88px,#d50000 121px,#f20100 145px,#fa1900 171px,#ff3a00 201px,#feb101 290px,#e4df1b 340px,#cdfa32 375px,#c5ff3a 384px,#30fecf 487px,#13cdec 541px,#0097ff 591px,#0042ff 651px,#001fff 676px,#0010ff 686px,#0006d4 726px,#0000a7 765px,#000084 802px,#000084 804px)"></i><i style="left:1596px;top:244px;height:803px;background-image:linear-gradient(#800000,#820000 25px,#870000 36px,#9e0000 66px,#a90000 77px,#b50000 90px,#db0000 124px,#f10100 143px,#fb1d00 173px,#ff4100 205px,#feaf01 287px,#e9d716 329px,#cff930 371px,#c7ff38 381px,#31ffce 484px,#19d7e6 528px,#0bb6f4 561px,#0095ff 591px,#003aff 655px,#0015ff 681px,#0010fd 686px,#0005cd 730px,#0000a7 763px,#000084 800px,#000084 802px)"></i><i style="left:1598px;top:244px;height:802px;background-image:linear-gradient(#800000,#830000 27px,#8c0000 41px,#950000 54px,#b40000 89px,#e10000 129px,#f00100 142px,#fb1f00 174px,#ff4300 206px,#feaf01 286px,#e6dc19 334px,#cbfe34 377px,#32fecd 483px,#17d2e8 533px,#03a4fc 578px,#0091ff 593px,#0032ff 660px,#0012fe 683px,#000ae1 711px,#0003c5 736px,#0000a7 762px,#000084 799px,#000084 801px)"></i><i style="left:1600px;top:244px;height:802px;background-image:linear-gradient(#800000,#830000 28px,#950000 54px,#ad0000 81px,#b90000 93px,#e90000 135px,#f00200 142px,#fc2000 175px,#f40 206px,#fead01 284px,#e7dc18 333px,#cbff34 376px,#3fc 481px,#14cceb 538px,#009cff 585px,#0028ff 666px,#0013fe 682px,#000be4 707px,#0003c1 739px,#0000a9 759px,#000084 799px,#000084 801px)"></i><i style="left:1602px;top:245px;height:800px;background-image:linear-gradient(#800000,#840000 28px,#960000 54px,#ae0000 81px,#b80000 91px,#ee0100 138px,#f91a00 166px,#fe3300 190px,#ff4f00 212px,#fead01 282px,#ebd414 322px,#d4f62b 362px,#caff35 375px,#34fecb 479px,#13caec 539px,#009bff 584px,#0021ff 669px,#0014fe 680px,#0009df 710px,#0002bb 742px,#0000a8 758px,#000084 797px,#000084 799px)"></i><i style="left:1604px;top:245px;height:799px;background-image:linear-gradient(#800000,#850000 29px,#960000 54px,#a00000 64px,#b10000 83px,#b90000 91px,#ec0100 136px,#f91c00 168px,#ff3c00 198px,#feab01 280px,#ead715 325px,#d0fc2f 368px,#c9ff36 375px,#36fec9 477px,#18d2e7 529px,#0ab5f5 559px,#09f 585px,#0018ff 675px,#0013fd 680px,#0008d6 717px,#0001b5 747px,#0000a4 761px,#000084 796px,#000084 798px)"></i><i style="left:1606px;top:245px;height:798px;background-image:linear-gradient(#800000,#850000 28px,#980000 55px,#a10000 65px,#b90000 91px,#eb0100 135px,#fa1d00 168px,#ff3e00 199px,#feab01 279px,#e9da16 327px,#cfff30 370px,#36fec9 476px,#15ccea 534px,#06aef9 565px,#009bff 583px,#0015ff 676px,#0006d0 722px,#0000ae 752px,#00009f 766px,#000084 795px,#000084 797px)"></i><i style="left:1608px;top:246px;height:796px;background-image:linear-gradient(#800000,#860000 27px,#900 55px,#a30000 65px,#b00 91px,#c00 106px,#ea0100 133px,#f61800 160px,#fe3100 186px,#ff4c00 207px,#feaa01 277px,#e8dd17 327px,#d0ff2f 368px,#38fec7 473px,#15ccea 532px,#05acfa 566px,#009aff 582px,#0046ff 640px,#0014fe 675px,#0004c4 731px,#0000a5 758px,#000084 793px,#000084 795px)"></i><i style="left:1610px;top:246px;height:795px;background-image:linear-gradient(#800000,#860000 26px,#8c0000 36px,#9c0000 57px,#a50000 67px,#bd0000 92px,#cf0000 108px,#e90100 131px,#f71a00 162px,#ff3700 191px,#feaa01 276px,#ecd413 318px,#d6f929 359px,#ceff31 368px,#39fec6 472px,#1dd8e2 517px,#04abfb 567px,#009cff 580px,#003cff 646px,#0015fe 674px,#0003c1 733px,#0000a6 757px,#000094 774px,#000084 792px,#000084 794px)"></i><i style="left:1612px;top:247px;height:793px;background-image:linear-gradient(#800000,#860000 24px,#8c0000 35px,#9e0000 58px,#a70000 68px,#c10000 94px,#d20000 109px,#e80100 129px,#f81a00 161px,#ff3a00 192px,#fea801 273px,#f6be09 294px,#e1ea1e 339px,#d2ff2d 364px,#3afec5 469px,#1ad1e5 522px,#00a2ff 574px,#0034ff 650px,#0016fe 672px,#000de2 699px,#0001b4 743px,#000094 772px,#000084 790px,#000084 792px)"></i><i style="left:1614px;top:247px;height:792px;background-image:linear-gradient(#800000,#860000 23px,#8d0000 36px,#9f0000 59px,#a90000 69px,#b30000 80px,#d70000 113px,#e70100 128px,#f81b00 161px,#ff3a00 191px,#fea701 272px,#f4c50b 299px,#def121 345px,#d2ff2d 363px,#3bffc4 467px,#19d1e6 522px,#00a3ff 573px,#002cff 655px,#0017fe 671px,#000de3 697px,#0000af 747px,#000090 776px,#000084 789px,#000084 791px)"></i><i style="left:1616px;top:248px;height:791px;background-image:linear-gradient(#810000,#860000 21px,#8e0000 36px,#a20000 60px,#ab0000 70px,#b50000 80px,#d90000 113px,#e60100 126px,#f51700 154px,#fe3100 182px,#fea701 270px,#f2cb0d 303px,#daf725 350px,#d2ff2d 361px,#3cfec3 465px,#20dadf 509px,#05adfa 559px,#00a0ff 573px,#02f 660px,#0017fe 669px,#000bdd 701px,#0000ad 747px,#00008a 780px,#000084 788px,#000084 790px)"></i><i style="left:1618px;top:248px;height:790px;background-image:linear-gradient(#810000,#860000 20px,#8f0000 37px,#a40000 62px,#b40000 79px,#dc0000 115px,#e50100 124px,#f61800 155px,#ff3500 185px,#fea501 268px,#f1d10e 308px,#d7fe28 356px,#c1ff3e 372px,#3efec1 463px,#1dd5e2 514px,#01a6fe 566px,#008bff 587px,#0018ff 666px,#0009d5 708px,#0000ac 747px,#000084 785px,#000084 789px)"></i><i style="left:1620px;top:249px;height:788px;background-image:linear-gradient(#810000,#860000 18px,#900000 37px,#9c0000 51px,#a60000 62px,#b80000 81px,#e00000 116px,#e50300 124px,#f61900 155px,#ff3600 184px,#fea501 266px,#efd610 311px,#d7ff28 355px,#3efec1 461px,#1bd3e4 515px,#00a3ff 567px,#0079ff 597px,#0018ff 664px,#0007cb 715px,#0000ab 746px,#000084 784px,#000084 787px)"></i><i style="left:1622px;top:249px;height:787px;background-image:linear-gradient(#810000,#850000 17px,#900000 37px,#9c0000 50px,#a70000 63px,#bc0000 84px,#e30000 118px,#f21400 147px,#fd2b00 174px,#ff3b00 187px,#fea501 265px,#efda10 314px,#d7ff28 354px,#40febf 459px,#23dddc 502px,#0ab8f5 545px,#00a1ff 567px,#0071ff 602px,#0018fe 664px,#0005c3 722px,#00a 746px,#000084 783px,#000084 786px)"></i><i style="left:1624px;top:250px;height:785px;background-image:linear-gradient(#820000,#860000 16px,#910000 37px,#9f0000 51px,#a90000 64px,#c00000 86px,#e40100 117px,#f41700 149px,#ff3000 177px,#fea301 262px,#f1d10e 304px,#e9e616 324px,#d8ff27 352px,#41febe 457px,#20d9df 505px,#07b2f8 549px,#00a1ff 565px,#06f 608px,#0019fe 662px,#0004bf 723px,#00a 744px,#000084 781px,#000084 784px)"></i><i style="left:1626px;top:250px;height:784px;background-image:linear-gradient(#820000,#860000 15px,#920000 38px,#a10000 53px,#ab0000 65px,#c40000 89px,#e40100 116px,#f41700 149px,#ff3200 178px,#fea201 261px,#f0d80f 309px,#e7ed18 330px,#daff25 350px,#42febd 455px,#1dd5e2 509px,#02aafd 557px,#009cff 568px,#005aff 615px,#001aff 660px,#0010e4 686px,#0000b0 737px,#000084 781px,#000084 783px)"></i><i style="left:1628px;top:251px;height:782px;background-image:linear-gradient(#820000,#860000 13px,#940000 38px,#a30000 54px,#ad0000 66px,#bc0000 81px,#e30100 114px,#f51700 148px,#ff3100 176px,#fea201 259px,#f0d90f 308px,#e4f41b 335px,#daff25 348px,#43febc 453px,#1cd4e3 509px,#00a7ff 559px,#006eff 599px,#04f 628px,#001bfe 658px,#000fe2 686px,#0000af 736px,#000084 779px,#000084 781px)"></i><i style="left:1630px;top:251px;height:782px;background-image:linear-gradient(#820000,#860000 13px,#940000 38px,#a50000 56px,#ae0000 66px,#bc0000 79px,#d00000 97px,#e20100 113px,#ed0c00 132px,#fb2500 163px,#ff3200 176px,#fea301 259px,#f0dd0f 310px,#e2fa1d 340px,#dcff23 347px,#89ff76 403px,#44febb 451px,#24dddb 497px,#09b8f6 541px,#00a5ff 560px,#06f 604px,#0041ff 630px,#001cfe 657px,#000edf 688px,#0000ad 737px,#000083 779px,#000083 781px)"></i><i style="left:1632px;top:252px;height:780px;background-image:linear-gradient(#830000,#860000 11px,#940000 36px,#a90000 59px,#b20000 68px,#c00000 81px,#e00100 110px,#ed0d00 130px,#fb2200 159px,#ff3000 173px,#fea101 256px,#f3d40c 300px,#e3fc1c 339px,#dfff20 344px,#af5 379px,#45feba 449px,#20d8df 501px,#04b0fb 548px,#00a5ff 558px,#005eff 608px,#0038ff 634px,#001cff 654px,#000ddc 690px,#0000ad 735px,#000084 777px,#000084 779px)"></i><i style="left:1634px;top:252px;height:779px;background-image:linear-gradient(#830000,#870000 11px,#940000 35px,#a10000 49px,#b30000 69px,#c20000 82px,#d50000 100px,#e00200 110px,#ef0f00 133px,#fc2300 160px,#ff3000 172px,#fea001 254px,#f3d60c 301px,#e3ff1c 341px,#a3ff5c 383px,#47feb8 447px,#1cd4e3 506px,#00abff 553px,#0054ff 614px,#002dff 641px,#001cff 653px,#000cd7 694px,#0000ac 735px,#000084 776px,#000084 778px)"></i><i style="left:1636px;top:253px;height:777px;background-image:linear-gradient(#830000,#870000 10px,#940000 33px,#a20000 49px,#b80000 71px,#c50000 84px,#df0100 107px,#f11100 134px,#fa2000 154px,#ff2c00 168px,#fea201 254px,#f2db0d 303px,#e3ff1c 339px,#93ff6c 392px,#47feb8 445px,#1bd3e4 506px,#00abff 552px,#004cff 618px,#0025ff 645px,#001cfe 652px,#000ad1 698px,#0000ac 733px,#000084 774px,#000084 776px)"></i><i style="left:1638px;top:253px;height:776px;background-image:linear-gradient(#840000,#870000 10px,#940000 32px,#a40000 51px,#bc0000 74px,#ca0000 88px,#de0100 106px,#f21300 136px,#fb2100 156px,#ff2c00 167px,#fea201 253px,#f5d10a 293px,#e7fc18 334px,#e2ff1d 339px,#84ff7b 402px,#49feb6 443px,#22d9dd 496px,#0dc0f2 528px,#00abff 551px,#0042ff 624px,#001dfe 650px,#0008cc 702px,#0000ab 733px,#000084 773px,#000084 775px)"></i><i style="left:1640px;top:254px;height:774px;background-image:linear-gradient(#840000,#870000 9px,#970000 33px,#a60000 52px,#dc0100 103px,#f21400 134px,#fc2200 156px,#ff2c00 165px,#fea101 251px,#f4d80b 297px,#e7ff18 334px,#6bff94 417px,#4afeb5 441px,#1ed5e1 500px,#09bcf6 532px,#00acff 549px,#003aff 628px,#001efe 648px,#0012e5 675px,#0006c5 707px,#0000ab 731px,#000084 771px,#000084 773px)"></i><i style="left:1642px;top:255px;height:772px;background-image:linear-gradient(#850000,#800 9px,#980000 33px,#a80000 53px,#b70000 67px,#cd0000 87px,#dc0200 102px,#ee1000 126px,#f91d00 147px,#ff2800 161px,#fe9f01 248px,#f5d80a 295px,#e7ff18 332px,#5fffa0 424px,#4afeb5 439px,#1dd4e2 499px,#06b9f9 534px,#00acff 547px,#0030ff 633px,#001ffe 646px,#0011e2 676px,#0004bf 711px,#00a 730px,#000084 769px,#000084 771px)"></i><i style="left:1644px;top:255px;height:771px;background-image:linear-gradient(#850000,#890000 10px,#980000 32px,#a00 54px,#b80000 67px,#d10000 90px,#db0200 101px,#f01200 129px,#fd2200 154px,#ff2c00 163px,#fea501 251px,#f4df0b 300px,#e8ff17 331px,#4effb1 435px,#28ded7 483px,#04b7fb 536px,#00adff 546px,#0026ff 639px,#001ffe 645px,#000ed9 684px,#0002b9 716px,#0000a7 732px,#000084 768px,#000084 770px)"></i><i style="left:1646px;top:256px;height:770px;background-image:linear-gradient(#860000,#8a0000 10px,#900 31px,#a00 53px,#ba0000 67px,#d40000 91px,#de0400 103px,#f21500 131px,#ff2500 156px,#fea601 250px,#f4e20b 300px,#e9ff16 328px,#4effb1 433px,#23d9dc 488px,#00b2ff 541px,#0021ff 641px,#000cd3 689px,#0000b3 720px,#0000a1 736px,#000084 767px,#000084 769px)"></i><i style="left:1648px;top:257px;height:768px;background-image:linear-gradient(#870000,#8a0000 9px,#a90000 50px,#bd0000 68px,#d70000 92px,#ea0d00 118px,#fa1e00 143px,#ff2600 155px,#fea501 248px,#f5dc0a 293px,#ebff14 325px,#4ffeb0 431px,#22d9dd 488px,#00b3ff 539px,#0058ff 601px,#0020fe 640px,#0008c8 698px,#0000af 722px,#00009e 737px,#000084 765px,#000084 767px)"></i><i style="left:1650px;top:258px;height:766px;background-image:linear-gradient(#870000,#8a0000 9px,#a00 49px,#c10000 70px,#d80000 91px,#ed0f00 120px,#fd2100 146px,#ff2800 154px,#ff6b00 203px,#fcb503 258px,#f3e80c 301px,#ecff13 323px,#50feaf 429px,#2be0d4 475px,#06baf9 526px,#00b1ff 538px,#0020fe 638px,#0006c3 701px,#0000af 721px,#00009c 737px,#000084 763px,#000084 765px)"></i><i style="left:1652px;top:258px;height:765px;background-image:linear-gradient(#800,#8b0000 10px,#960000 24px,#b30000 57px,#c30000 71px,#d90100 92px,#f01100 123px,#ff2400 149px,#ff4500 175px,#fdaa02 249px,#f6e209 294px,#edff12 321px,#51feae 427px,#26dcd9 480px,#00b4ff 534px,#0085ff 568px,#0043ff 613px,#0021fe 637px,#0008c8 695px,#0000b0 720px,#009 740px,#000084 762px,#000084 764px)"></i><i style="left:1654px;top:259px;height:763px;background-image:linear-gradient(#800,#8c0000 10px,#950000 20px,#9f0000 33px,#b70000 59px,#c60000 72px,#da0200 91px,#f11100 122px,#ff2400 147px,#ff4e00 180px,#fdb202 253px,#f5eb0a 300px,#ef1 319px,#52fead 425px,#25dcda 480px,#00b2ff 533px,#0074ff 578px,#0039ff 618px,#0022fe 635px,#0015e4 663px,#0000b3 715px,#000092 745px,#000084 760px,#000084 762px)"></i><i style="left:1656px;top:260px;height:761px;background-image:linear-gradient(#890000,#8c0000 9px,#950000 18px,#a00000 33px,#b00 61px,#ca0000 74px,#da0200 90px,#f21200 122px,#ff2300 145px,#ff5a00 187px,#fdb802 256px,#f3f40c 305px,#efff10 316px,#53feac 423px,#2ee3d1 467px,#0dc4f2 511px,#00b1ff 532px,#0065ff 586px,#002fff 623px,#0023fe 633px,#0013e0 665px,#0000b2 714px,#00008d 748px,#000084 758px,#000084 760px)"></i><i style="left:1658px;top:260px;height:760px;background-image:linear-gradient(#890000,#8d0000 10px,#960000 19px,#a10000 34px,#c00000 64px,#ce0000 77px,#dc0300 92px,#f51400 125px,#ff2300 144px,#ff6500 194px,#fdbf02 260px,#f2fc0d 311px,#ef1 316px,#54feab 421px,#2ae0d5 471px,#08bff7 517px,#00b3ff 530px,#0056ff 596px,#0024ff 630px,#0010d9 672px,#0000b1 714px,#000085 755px,#000084 759px)"></i><i style="left:1660px;top:261px;height:759px;background-image:linear-gradient(#8a0000,#8d0000 9px,#980000 19px,#a30000 34px,#c40000 66px,#d20000 80px,#e70900 104px,#fa1900 131px,#f20 142px,#ff7200 202px,#fdc402 262px,#f3ff0c 311px,#56fea9 418px,#25dbda 476px,#01b7fe 525px,#004aff 602px,#0024ff 628px,#000ccf 680px,#0000b1 712px,#000083 755px,#000083 758px)"></i><i style="left:1662px;top:262px;height:757px;background-image:linear-gradient(#8b0000,#8d0000 8px,#900 20px,#a40000 34px,#b10000 47px,#d40000 79px,#e90b00 105px,#fc1a00 132px,#f20 140px,#ff8300 212px,#fdbd02 255px,#f7ef08 295px,#f3ff0c 309px,#57fea8 416px,#22dadd 477px,#00b7ff 524px,#006cff 577px,#002bff 621px,#0023fe 627px,#0007c5 689px,#0000b0 711px,#000084 753px,#000084 756px)"></i><i style="left:1664px;top:263px;height:755px;background-image:linear-gradient(#8b0000,#8e0000 7px,#9b0000 20px,#a50000 34px,#b20000 46px,#d50000 78px,#ec0c00 106px,#ff1d00 135px,#ff8c00 217px,#fec301 257px,#f7f708 299px,#f4ff0b 307px,#57fea8 414px,#20d9df 478px,#00b8ff 522px,#0062ff 582px,#0024fe 625px,#0007c3 689px,#0000b0 709px,#000084 751px,#000084 754px)"></i><i style="left:1666px;top:264px;height:753px;background-image:linear-gradient(#8d0000,#8f0000 7px,#9d0000 21px,#a60000 34px,#b50000 47px,#c00 68px,#d60100 78px,#ef0d00 108px,#ff1c00 133px,#ff9700 223px,#fdcc02 262px,#f6ff09 303px,#59fea6 411px,#27ddd8 468px,#0dc7f2 501px,#00b8ff 520px,#0054ff 590px,#0025fe 623px,#0017e3 652px,#0001b6 701px,#000084 749px,#000084 752px)"></i><i style="left:1668px;top:265px;height:751px;background-image:linear-gradient(#8e0000,#910000 7px,#9e0000 21px,#a90000 35px,#b70000 47px,#c90000 65px,#d90200 79px,#f00d00 108px,#ff1c00 131px,#ffa000 228px,#fdd402 266px,#f7ff08 301px,#5afea5 409px,#24dbdb 470px,#09c4f6 504px,#00b9ff 518px,#0045ff 598px,#0027fe 620px,#0017e4 649px,#0000b3 702px,#000084 748px,#000084 750px)"></i><i style="left:1670px;top:266px;height:749px;background-image:linear-gradient(#8f0000,#920000 7px,#9f0000 21px,#ac0000 36px,#b90000 48px,#c90000 63px,#dd0400 82px,#f20e00 109px,#ff1b00 129px,#ffa800 232px,#fddc02 270px,#f7ff08 299px,#5bfea4 406px,#32e4cd 452px,#08c4f7 504px,#00baff 516px,#0037ff 606px,#0027fe 618px,#0016e1 650px,#0000b2 701px,#000084 746px,#000084 748px)"></i><i style="left:1672px;top:267px;height:747px;background-image:linear-gradient(#910000,#930000 6px,#b00000 38px,#bd0000 50px,#ce0000 66px,#e10500 85px,#f51000 111px,#ff1b00 127px,#ffaf00 235px,#fee401 274px,#f9ff06 296px,#5cfea3 404px,#2de0d2 456px,#01bffe 510px,#00a0ff 532px,#0028ff 615px,#0014de 652px,#0000b1 700px,#000084 744px,#000084 746px)"></i><i style="left:1674px;top:268px;height:745px;background-image:linear-gradient(#920000,#940000 6px,#b30000 39px,#c00000 51px,#d50200 71px,#e50600 88px,#f81100 113px,#ff1a00 125px,#ffb400 237px,#fdee02 279px,#faff05 294px,#5efea1 401px,#2adfd5 457px,#00beff 510px,#0065ff 571px,#0028ff 613px,#0012da 655px,#0000b1 698px,#000084 742px,#000084 744px)"></i><i style="left:1676px;top:269px;height:744px;background-image:linear-gradient(#930000,#950000 6px,#b50000 40px,#c20000 52px,#d60200 71px,#e80800 90px,#fb1200 114px,#ff1800 122px,#ffb700 237px,#fef501 282px,#fbff04 291px,#5efea1 399px,#27ded8 458px,#00beff 508px,#0028ff 611px,#000fd5 659px,#0000b1 696px,#000084 741px,#000084 743px)"></i><i style="left:1678px;top:271px;height:741px;background-image:linear-gradient(#950000,#980000 7px,#b90000 41px,#c60000 53px,#db0400 73px,#ec0900 92px,#fe1400 116px,#ffa700 223px,#fefd01 285px,#faff05 289px,#60fe9f 395px,#32e4cd 444px,#04c2fb 499px,#00bcff 506px,#0029ff 608px,#000dcf 662px,#0000b1 693px,#000084 738px,#000084 740px)"></i><i style="left:1680px;top:272px;height:739px;background-image:linear-gradient(#970000,#900 7px,#bc0000 42px,#c90000 54px,#e10600 78px,#f00b00 95px,#ff1400 115px,#ffbc00 236px,#feff01 284px,#60fe9f 393px,#2be0d4 450px,#00bfff 501px,#0097ff 530px,#0042ff 589px,#002afe 606px,#001ae7 634px,#000ac9 667px,#0000b1 691px,#000084 736px,#000084 738px)"></i><i style="left:1682px;top:273px;height:737px;background-image:linear-gradient(#980000,#9b0000 7px,#b40000 32px,#c40000 47px,#dd0400 72px,#f40c00 97px,#ff1400 113px,#ffc000 237px,#fffe00 282px,#62fe9d 390px,#2be1d4 448px,#00bfff 499px,#008dff 535px,#003eff 590px,#002bfe 604px,#0019e5 634px,#0007c4 671px,#0000b0 690px,#000084 734px,#000084 736px)"></i><i style="left:1684px;top:274px;height:735px;background-image:linear-gradient(#900,#9c0000 6px,#a40000 15px,#b50000 32px,#c40000 46px,#df0400 72px,#f60d00 98px,#ff1200 110px,#ffc100 236px,#fefd01 280px,#c5ff3a 320px,#63fe9c 388px,#35e7ca 435px,#0dcbf2 481px,#00beff 498px,#0080ff 542px,#0032ff 596px,#002bfd 603px,#0016de 640px,#0004bf 675px,#0000b0 688px,#000084 732px,#000084 734px)"></i><i style="left:1686px;top:275px;height:733px;background-image:linear-gradient(#9b0000,#9d0000 6px,#a60000 15px,#b70000 31px,#c50000 45px,#dd0400 69px,#f30c00 92px,#f10 108px,#ffcd00 243px,#fefc01 277px,#d1ff2e 310px,#64fe9b 385px,#30e4cf 439px,#05c6fa 488px,#00bfff 496px,#0073ff 549px,#002dff 598px,#0012d7 646px,#0002b9 679px,#0000a9 693px,#000084 730px,#000084 732px)"></i><i style="left:1688px;top:276px;height:731px;background-image:linear-gradient(#9c0000,#9e0000 6px,#ad0000 20px,#c70000 46px,#db0200 65px,#f70d00 95px,#f10 106px,#ffb200 222px,#fffb00 274px,#cf3 312px,#65fe9a 383px,#29e0d6 444px,#00c3ff 492px,#002eff 595px,#0011d5 646px,#0000b6 681px,#0000a3 697px,#000084 728px,#000084 730px)"></i><i style="left:1690px;top:277px;height:730px;background-image:linear-gradient(#9d0000,#a00000 6px,#be0000 35px,#cb0000 48px,#e00300 68px,#fb0e00 97px,#ff1200 104px,#ff4200 140px,#fefa01 272px,#c2ff3d 317px,#66fe99 381px,#27e0d8 445px,#00c3ff 490px,#0080ff 536px,#0056ff 565px,#002bfe 595px,#0006c2 666px,#0000b3 682px,#0000a0 698px,#000083 727px,#000083 729px)"></i><i style="left:1692px;top:279px;height:727px;background-image:linear-gradient(#a00000,#a20000 5px,#b30000 22px,#cd0000 47px,#de0300 63px,#f90d00 92px,#ff1200 101px,#ff3200 126px,#fff800 268px,#baff45 320px,#67fe98 377px,#30e4cf 433px,#08ccf7 476px,#00c4ff 487px,#0078ff 539px,#004fff 567px,#002bfe 592px,#0000b8 675px,#00009a 701px,#000084 724px,#000084 726px)"></i><i style="left:1694px;top:280px;height:725px;background-image:linear-gradient(#a10000,#a20000 4px,#b50000 22px,#d20100 50px,#e40400 67px,#fe0f00 96px,#f30 125px,#fef701 266px,#b7ff48 320px,#68fe97 375px,#2be2d4 436px,#0ccff3 470px,#00c5ff 485px,#006eff 544px,#0045ff 572px,#002bfe 590px,#0000b7 674px,#000095 704px,#000084 722px,#000084 724px)"></i><i style="left:1696px;top:282px;height:722px;background-image:linear-gradient(#a40000,#a50000 4px,#b80000 23px,#d90100 53px,#f20800 79px,#ff0f00 94px,#ff4200 133px,#fef601 262px,#c5fd3a 306px,#97ff68 339px,#69fe96 371px,#2ae1d5 434px,#09cef6 470px,#00c7ff 481px,#0064ff 548px,#0039ff 577px,#002bfe 587px,#0000b6 672px,#00008e 708px,#000084 719px,#000084 721px)"></i><i style="left:1698px;top:284px;height:719px;background-image:linear-gradient(#a70000,#a90000 5px,#bc0000 24px,#e50300 62px,#ff0d00 90px,#ff4b00 137px,#fff500 258px,#c0fd3f 307px,#8f7 347px,#6afe95 368px,#39e8c6 416px,#05ccfa 471px,#00c6ff 479px,#005aff 552px,#002cfe 584px,#0000b6 669px,#008 711px,#000084 716px,#000084 718px)"></i><i style="left:1700px;top:285px;height:717px;background-image:linear-gradient(#a90000,#a00 4px,#bf0000 25px,#e90400 64px,#ff0c00 88px,#ff5b00 147px,#fef401 256px,#b9fd46 310px,#72ff8d 360px,#45eeba 402px,#0dd2f2 460px,#00c9ff 475px,#0050ff 557px,#002eff 581px,#001de7 610px,#0000b5 668px,#000084 713px,#000084 716px)"></i><i style="left:1702px;top:287px;height:714px;background-image:linear-gradient(#ac0000,#ad0000 4px,#c20000 26px,#eb0300 63px,#ff0c00 85px,#ff6e00 158px,#fff200 252px,#b8fd47 308px,#6fff90 360px,#31e5ce 419px,#00caff 472px,#0046ff 561px,#002ffe 578px,#001ce5 609px,#0000b5 665px,#000084 710px,#000084 713px)"></i><i style="left:1704px;top:289px;height:711px;background-image:linear-gradient(#af0000,#b00000 4px,#c50000 26px,#d80100 42px,#f20500 67px,#ff0b00 82px,#ff7400 160px,#fef201 249px,#c3fb3c 296px,#86ff79 341px,#6cfd93 360px,#3ae9c5 407px,#04cdfb 463px,#00c8ff 470px,#003aff 567px,#002ffd 576px,#0018df 613px,#0000b5 662px,#000084 707px,#000084 710px)"></i><i style="left:1706px;top:291px;height:709px;background-image:linear-gradient(#b20000,#b30000 5px,#c70000 25px,#da0100 41px,#f50500 67px,#ff0a00 79px,#ff7a00 161px,#fff000 245px,#bbfb44 299px,#79ff86 347px,#62fa9d 366px,#31e5ce 413px,#00cbff 464px,#00a5ff 491px,#0031ff 570px,#0014d8 618px,#0000b5 659px,#000084 705px,#000084 708px)"></i><i style="left:1708px;top:292px;height:707px;background-image:linear-gradient(#b30000,#b40000 4px,#ca0000 26px,#de0100 42px,#f90500 69px,#ff0800 76px,#ff7f00 163px,#feef01 243px,#b9fb46 299px,#73ff8c 350px,#34e8cb 408px,#00cbff 462px,#009dff 495px,#0030ff 569px,#000dcd 629px,#0000b5 657px,#000084 703px,#000084 706px)"></i><i style="left:1710px;top:294px;height:704px;background-image:linear-gradient(#b60000,#b70000 4px,#cd0000 26px,#e20200 43px,#fd0500 70px,#ff0a00 75px,#ff8100 162px,#feee01 239px,#c6f839 285px,#8cfe73 329px,#71fe8e 349px,#31e7ce 408px,#00cbff 459px,#0090ff 501px,#002ffe 567px,#0010d2 620px,#0000b5 654px,#000084 700px,#000084 703px)"></i><i style="left:1712px;top:296px;height:701px;background-image:linear-gradient(#b90000,#ba0000 4px,#cf0000 25px,#e60200 44px,#ff0500 69px,#ff8400 161px,#ffec00 235px,#c0f93f 287px,#81ff7e 334px,#70fd8f 347px,#3bebc4 396px,#0bd4f4 444px,#0cf 456px,#0083ff 507px,#0031fe 563px,#001be1 600px,#0007c3 635px,#0000b5 651px,#000084 698px,#000084 700px)"></i><i style="left:1714px;top:298px;height:698px;background-image:linear-gradient(#bc0000,#bd0000 4px,#da0000 31px,#ed0200 47px,#ff0500 66px,#ff8300 158px,#feec01 232px,#bcf943 287px,#7f8 339px,#34e8cb 400px,#01cffe 451px,#0079ff 511px,#0032fe 560px,#001fe7 590px,#0000b7 646px,#000084 695px,#000084 697px)"></i><i style="left:1716px;top:299px;height:696px;background-image:linear-gradient(#be0000,#bf0000 4px,#e20000 36px,#fb0400 59px,#ff0500 64px,#ff7d00 152px,#ffea00 229px,#bcf943 285px,#7f8 337px,#30e8cf 401px,#00cfff 450px,#008fff 494px,#0034ff 557px,#001ee6 590px,#0000b6 645px,#000084 693px,#000084 695px)"></i><i style="left:1718px;top:301px;height:693px;background-image:linear-gradient(#c00000,#c20000 4px,#f10100 46px,#ff0600 61px,#ff3200 95px,#ff8600 156px,#fee901 226px,#c4f63b 275px,#89fe76 321px,#74fe8b 337px,#2be6d4 403px,#00cfff 447px,#0086ff 497px,#005cff 526px,#0033fe 555px,#0018de 597px,#0000b6 642px,#000084 690px,#000084 692px)"></i><i style="left:1720px;top:303px;height:690px;background-image:linear-gradient(#c30000,#c50000 4px,#f40100 46px,#ff0500 57px,#ff3000 91px,#ff8600 153px,#ffe800 222px,#bef741 277px,#7cff83 328px,#37eac8 389px,#13dbec 424px,#00d0ff 444px,#007cff 501px,#0052ff 530px,#0034ff 551px,#0013d6 604px,#0000b5 640px,#000084 687px,#000084 689px)"></i><i style="left:1722px;top:305px;height:688px;background-image:linear-gradient(#c60000,#c80000 4px,#f90100 47px,#ff0400 54px,#ff3e00 99px,#ff8f00 157px,#fee701 219px,#bcf843 276px,#7aff85 327px,#32e8cd 391px,#0ddaf2 426px,#00d2ff 440px,#0072ff 505px,#0048ff 534px,#03f 548px,#000dcd 612px,#0000b5 637px,#000084 684px,#000084 687px)"></i><i style="left:1724px;top:308px;height:684px;background-image:linear-gradient(#cb0000,#c00 4px,#fd0100 47px,#ff0600 52px,#ff4d00 106px,#ffe600 214px,#c9f436 261px,#91fd6e 306px,#78fe87 325px,#2ee7d1 390px,#07d8f8 428px,#00d3ff 436px,#0069ff 508px,#003dff 538px,#0033fe 545px,#0009c8 615px,#0000b5 633px,#000084 680px,#000084 683px)"></i><i style="left:1726px;top:311px;height:680px;background-image:linear-gradient(#cf0000,#d00000 4px,#fe0000 44px,#ff5b00 113px,#fee501 210px,#c2f53d 263px,#85fe7a 311px,#75fd8a 324px,#3cebc3 374px,#02d6fd 429px,#00cdff 436px,#005dff 512px,#0035fe 540px,#000aca 609px,#0000b6 629px,#000084 676px,#000084 679px)"></i><i style="left:1728px;top:313px;height:677px;background-image:linear-gradient(#d20000,#d30000 4px,#f00 41px,#ff3500 81px,#ff6400 117px,#ffe300 206px,#c0f63f 262px,#7fff80 313px,#3aecc5 372px,#00d7ff 427px,#0053ff 516px,#0036fe 537px,#0022e8 567px,#0000ba 624px,#0000a6 641px,#000084 674px,#000084 676px)"></i><i style="left:1730px;top:316px;height:673px;background-image:linear-gradient(#d60000,#d70000 4px,#f00 37px,#ff2300 63px,#ff5f00 110px,#fee201 202px,#bdf642 260px,#7eff81 310px,#37ebc8 371px,#00d7ff 423px,#0047ff 521px,#0037fe 533px,#001fe4 568px,#0000ba 621px,#0000a4 639px,#000084 670px,#000084 672px)"></i><i style="left:1732px;top:319px;height:669px;background-image:linear-gradient(#da0000,#dc0000 4px,#f00 33px,#ff1f00 57px,#ff4500 86px,#ff6800 112px,#fee101 197px,#c6f339 248px,#8dfe72 295px,#7bfe84 309px,#42eebd 358px,#04d8fb 415px,#00d5ff 420px,#003aff 526px,#001ce0 569px,#0000ba 617px,#00009f 640px,#000084 666px,#000084 668px)"></i><i style="left:1734px;top:321px;height:666px;background-image:linear-gradient(#d00,#df0000 4px,#ff0100 30px,#ff2300 57px,#ff4c00 88px,#ff6700 109px,#fee001 194px,#c2f43d 249px,#82ff7d 301px,#3cedc3 360px,#00d7ff 415px,#00abff 446px,#0038ff 524px,#0014d5 580px,#0000b9 615px,#000098 643px,#000084 663px,#000084 665px)"></i><i style="left:1736px;top:324px;height:663px;background-image:linear-gradient(#e10000,#e30000 4px,#fe0100 26px,#ff2600 56px,#ff5200 89px,#ff7100 112px,#fedf01 189px,#c1f43e 246px,#83ff7c 297px,#39eec6 358px,#00d7ff 411px,#00a1ff 449px,#0037fe 521px,#000ccb 589px,#0000b9 611px,#000092 645px,#000084 660px,#000084 662px)"></i><i style="left:1738px;top:327px;height:659px;background-image:linear-gradient(#e60000,#e70000 4px,#fd0100 22px,#ff1d00 45px,#ff5a00 91px,#ff8100 120px,#fede01 185px,#cbf034 233px,#95fd6a 279px,#81fe7e 295px,#45f1ba 344px,#0fdff0 392px,#00d7ff 407px,#0094ff 454px,#0038fe 517px,#000ac9 588px,#0000b9 607px,#00008a 649px,#000084 656px,#000084 658px)"></i><i style="left:1740px;top:329px;height:656px;background-image:linear-gradient(#e90000,#ea0000 4px,#fb0000 18px,#ff1d00 42px,#ff4500 72px,#ff8500 120px,#fedc01 181px,#c4f23b 236px,#89ff76 286px,#41f0be 345px,#05dcfa 398px,#00d8ff 404px,#0086ff 461px,#0039fe 514px,#0022e5 548px,#0003bf 598px,#0000b7 606px,#000085 651px,#000084 655px)"></i><i style="left:1742px;top:332px;height:652px;background-image:linear-gradient(#ed0000,#e00 4px,#fa0100 14px,#ff2100 41px,#ff4600 69px,#ff9200 125px,#fedb01 177px,#c2f23d 234px,#87ff78 284px,#38eec7 348px,#01dbfe 398px,#007cff 464px,#003afe 510px,#0024e7 541px,#00b 599px,#000084 648px,#000084 651px)"></i><i style="left:1744px;top:334px;height:649px;background-image:linear-gradient(#f00000,#f10000 4px,#f90100 11px,#ff2600 42px,#ff5400 77px,#ff9d00 130px,#feda01 173px,#cdee32 221px,#9bfc64 265px,#85fe7a 283px,#34eecb 349px,#00dcff 395px,#0094ff 445px,#003cff 505px,#0021e3 543px,#00b 596px,#000084 645px,#000084 648px)"></i><i style="left:1746px;top:337px;height:645px;background-image:linear-gradient(#f40000,#f50000 4px,#f90400 9px,#ff2c00 43px,#ff6400 85px,#ffa800 134px,#fed901 169px,#c7ef38 222px,#a1fa5e 256px,#86fe79 278px,#3ff0c0 336px,#08e0f7 383px,#00dbff 392px,#008bff 447px,#0060ff 476px,#003bff 502px,#0019da 551px,#0000ba 593px,#000084 641px,#000084 644px)"></i><i style="left:1748px;top:340px;height:641px;background-image:linear-gradient(#f70100,#f80200 4px,#ff2e00 41px,#ff7100 90px,#ffb300 138px,#fed801 164px,#c4f03b 220px,#9efb61 255px,#87fe78 274px,#39efc6 337px,#0ee3f1 374px,#00deff 387px,#0081ff 450px,#05f 480px,#003bfe 498px,#0012d1 559px,#0000ba 589px,#000084 638px,#000084 640px)"></i><i style="left:1750px;top:344px;height:636px;background-image:linear-gradient(#f80700,#f80900 4px,#ff3200 40px,#ff8600 101px,#ffbc00 140px,#fed701 159px,#c1f13e 218px,#97fd68 256px,#87fe78 269px,#36efc9 334px,#0be3f4 371px,#00deff 382px,#0076ff 453px,#0048ff 484px,#003bfe 493px,#000bc9 565px,#0000ba 584px,#000084 633px,#000084 635px)"></i><i style="left:1752px;top:347px;height:633px;background-image:linear-gradient(#f80c00,#f80d00 4px,#ff3800 41px,#ffc900 145px,#fed501 154px,#cbec34 204px,#97fd68 253px,#88fe77 265px,#47f2b8 316px,#06e3f9 371px,#00dfff 378px,#006cff 456px,#003cfe 489px,#0023e3 526px,#000ac7 563px,#0000ba 580px,#000084 629px,#000084 632px)"></i><i style="left:1754px;top:351px;height:628px;background-image:linear-gradient(#f91100,#f91300 4px,#ff3e00 41px,#fed401 149px,#c5ee3a 205px,#8fff70 255px,#45f2ba 313px,#00e2ff 371px,#0060ff 459px,#003dfe 484px,#0026e8 516px,#0000bc 573px,#000084 624px,#000084 627px)"></i><i style="left:1756px;top:355px;height:623px;background-image:linear-gradient(#f91700,#fa1900 4px,#f40 41px,#fed301 143px,#c4ef3b 201px,#8eff71 251px,#3ff2c0 312px,#00e3ff 366px,#0056ff 461px,#003efe 479px,#0025e7 512px,#00b 569px,#000084 619px,#000084 622px)"></i><i style="left:1758px;top:359px;height:618px;background-image:linear-gradient(#fa1d00,#fa1e00 4px,#ff4a00 41px,#fed201 138px,#cee931 186px,#9bfc64 233px,#8bff74 248px,#3cf2c3 310px,#00e2ff 361px,#004aff 465px,#003ffe 474px,#0020e2 515px,#00b 564px,#000084 615px,#000084 617px)"></i><i style="left:1760px;top:362px;height:614px;background-image:linear-gradient(#fb2200,#fb2300 4px,#fe4600 33px,#ff5e00 51px,#ffd100 133px,#c8ec37 188px,#92fe6d 238px,#5af8a5 282px,#0be5f4 347px,#00e2ff 357px,#0061ff 445px,#003ffe 469px,#0019da 522px,#0000ba 561px,#000084 611px,#000084 613px)"></i><i style="left:1762px;top:366px;height:609px;background-image:linear-gradient(#fb2700,#fb2900 4px,#ff4a00 32px,#ff6400 51px,#fed001 128px,#c8ec37 184px,#8fff70 235px,#42f4bd 296px,#00e3ff 351px,#0072ff 429px,#0040ff 463px,#0011d1 529px,#0000ba 556px,#000084 606px,#000084 608px)"></i><i style="left:1764px;top:370px;height:604px;background-image:linear-gradient(#fc2d00,#fc2e00 4px,#ff6100 44px,#ffce00 122px,#d1e72e 169px,#a1fa5e 215px,#8cff73 232px,#3ef4c1 294px,#00e4ff 345px,#0061ff 436px,#003ffe 459px,#000ac9 534px,#0000ba 551px,#000084 601px,#000084 603px)"></i><i style="left:1766px;top:374px;height:600px;background-image:linear-gradient(#fc3300,#fc3400 4px,#ff6900 45px,#ff9200 74px,#fecd01 117px,#cce933 169px,#9afc65 216px,#8dff72 227px,#4cf6b3 279px,#0ce8f3 330px,#00e4ff 341px,#0040fe 454px,#000aca 529px,#00b 546px,#000084 596px,#000084 599px)"></i><i style="left:1768px;top:378px;height:595px;background-image:linear-gradient(#fd3900,#fd3a00 4px,#ff7900 51px,#fc0 111px,#caea35 167px,#93ff6c 218px,#5cf9a3 260px,#15ecea 317px,#00e6ff 335px,#009aff 387px,#0041fe 449px,#0029e8 481px,#0001bf 538px,#0000a1 564px,#000084 591px,#000084 594px)"></i><i style="left:1770px;top:381px;height:591px;background-image:linear-gradient(#fd3d00,#fe3f00 4px,#ff8500 56px,#fecb01 107px,#c8eb37 165px,#92ff6d 215px,#56f9a9 261px,#16ede9 312px,#00e6ff 331px,#0092ff 388px,#0043fe 444px,#0027e7 479px,#0000be 536px,#0000a8 554px,#000084 587px,#000084 590px)"></i><i style="left:1772px;top:385px;height:586px;background-image:linear-gradient(#fe4300,#fe4400 4px,#ff9500 62px,#feca01 102px,#d1e62e 151px,#a2fb5d 197px,#91ff6e 211px,#4bf7b4 264px,#10edef 312px,#00e7ff 326px,#0085ff 392px,#0043fe 439px,#0020e0 484px,#0000be 532px,#0000a2 554px,#000084 583px,#000084 585px)"></i><i style="left:1774px;top:389px;height:581px;background-image:linear-gradient(#ff4900,#ff4a00 4px,#ffb400 80px,#fec901 96px,#cbe834 152px,#97ff68 202px,#42f6bd 266px,#13eeec 304px,#00e9ff 320px,#07f 397px,#0043fe 434px,#0019d8 490px,#0000be 527px,#00009c 555px,#000084 578px,#000084 580px)"></i><i style="left:1776px;top:393px;height:576px;background-image:linear-gradient(#ff4f00,#ff5000 4px,#fb0 80px,#fec801 91px,#cbe934 148px,#96ff69 198px,#3ff6c0 263px,#12efed 300px,#00eaff 315px,#0065ff 404px,#0043fe 429px,#0010cf 498px,#0000be 522px,#000095 557px,#000084 573px,#000084 575px)"></i><i style="left:1778px;top:398px;height:570px;background-image:linear-gradient(#ff5700,#ff5800 4px,#ffc300 80px,#fdc902 86px,#d3e32c 133px,#a5fa5a 179px,#94ff6b 194px,#3af5c5 261px,#0aeef5 300px,#00eaff 309px,#05f 409px,#0043fe 423px,#0005c4 508px,#0000bd 517px,#00008c 559px,#000084 567px,#000084 569px)"></i><i style="left:1780px;top:403px;height:564px;background-image:linear-gradient(#ff5f00,#ff6000 4px,#ffc700 77px,#cfe530 131px,#9efe61 181px,#88fe77 197px,#2ef4d1 264px,#01edfe 301px,#04f 415px,#0001c0 508px,#00009d 538px,#000084 561px,#000084 563px)"></i><i style="left:1782px;top:408px;height:559px;background-image:linear-gradient(#ff6700,#ff6800 4px,#ffc700 71px,#cee631 127px,#9bff64 178px,#47f8b8 239px,#0ef 295px,#04f 409px,#0000bf 503px,#000084 555px,#000084 558px)"></i><i style="left:1784px;top:413px;height:553px;background-image:linear-gradient(#ff6f00,#ff7000 4px,#fec701 65px,#cde732 123px,#9bff64 172px,#44f8bb 235px,#00efff 289px,#04f 403px,#0000bf 497px,#000084 549px,#000084 552px)"></i><i style="left:1786px;top:419px;height:546px;background-image:linear-gradient(#ff7800,#ff7a00 4px,#fec601 58px,#e0db1f 94px,#acf953 150px,#9bff64 166px,#51faae 219px,#05f0fa 277px,#0ef 282px,#00a2ff 333px,#0044fe 397px,#0000bf 490px,#000084 542px,#000084 545px)"></i><i style="left:1788px;top:424px;height:540px;background-image:linear-gradient(#ff8000,#ff8200 4px,#fec401 51px,#e1da1e 87px,#b1f64e 139px,#9bff64 160px,#47f9b8 220px,#00efff 275px,#00aeff 320px,#0067ff 367px,#0045fe 391px,#002be8 424px,#0000be 485px,#000084 536px,#000084 539px)"></i><i style="left:1790px;top:429px;height:534px;background-image:linear-gradient(#f80,#ff8a00 4px,#fec301 45px,#dcdd23 86px,#b3f64c 132px,#9dff62 153px,#40f9bf 219px,#00efff 269px,#009eff 325px,#005cff 369px,#0046fe 385px,#002be7 419px,#0000be 479px,#000084 531px,#000084 533px)"></i><i style="left:1792px;top:434px;height:528px;background-image:linear-gradient(#ff9000,#ff9200 4px,#fec201 38px,#d7e128 86px,#b9f246 120px,#9eff61 147px,#3cfac3 216px,#00efff 263px,#008bff 332px,#004fff 372px,#0046fd 380px,#0028e5 417px,#0000be 473px,#000084 525px,#000084 527px)"></i><i style="left:1794px;top:439px;height:522px;background-image:linear-gradient(#ff9800,#ff9a00 4px,#fec101 32px,#d1e42e 87px,#b3f64c 121px,#a0ff5f 140px,#49fbb6 201px,#11f4ee 243px,#00f0ff 257px,#07f 339px,#0048ff 371px,#0025e2 415px,#0000be 467px,#000084 519px,#000084 521px)"></i><i style="left:1796px;top:444px;height:517px;background-image:linear-gradient(#ffa000,#ffa200 4px,#fec001 26px,#cfe630 83px,#b0f84f 119px,#a0ff5f 134px,#43fabc 199px,#12f6ed 236px,#00f2ff 250px,#00a1ff 305px,#0047fe 366px,#0020de 416px,#0000be 461px,#000084 513px,#000084 516px)"></i><i style="left:1798px;top:449px;height:511px;background-image:linear-gradient(#ffa800,#fa0 4px,#febf01 19px,#d8de27 66px,#b9f446 104px,#a2ff5d 127px,#40fabf 195px,#0bf6f4 235px,#00f3ff 244px,#0096ff 307px,#0047fe 360px,#001bda 416px,#0000be 455px,#000084 507px,#000084 510px)"></i><i style="left:1800px;top:454px;height:505px;background-image:linear-gradient(#ffb000,#ffb200 4px,#febe01 13px,#d4e12b 65px,#aefa51 110px,#a1ff5e 122px,#53fcac 176px,#03f5fc 235px,#00f2ff 239px,#0087ff 311px,#0048fe 354px,#0016d6 417px,#0000be 449px,#000084 501px,#000084 504px)"></i><i style="left:1802px;top:459px;height:499px;background-image:linear-gradient(#ffb800,#ffba00 4px,#e4d41b 40px,#bbf244 88px,#a5ff5a 114px,#4afcb5 176px,#00f6ff 231px,#07f 316px,#0049fe 348px,#002eea 381px,#0010d0 420px,#0000be 443px,#000084 496px,#000084 498px)"></i><i style="left:1804px;top:465px;height:492px;background-image:linear-gradient(#fbbe04,#fac005 5px,#cee631 60px,#a6ff59 106px,#48fdb7 170px,#00f7ff 223px,#0060ff 325px,#004afe 341px,#002ce8 377px,#000ccc 419px,#0000bd 437px,#000084 489px,#000084 491px)"></i><i style="left:1806px;top:472px;height:484px;background-image:linear-gradient(#f5c40a,#f4c50b 5px,#c9e936 58px,#a5ff5a 98px,#59fda6 151px,#08f7f7 209px,#00f6ff 216px,#004dff 330px,#0026e3 377px,#0007c8 418px,#0000be 429px,#000084 481px,#000084 483px)"></i><i style="left:1808px;top:478px;height:477px;background-image:linear-gradient(#f0c80f,#efca10 5px,#c2ef3d 60px,#a5ff5a 91px,#4efeb1 151px,#01f7fe 207px,#00ceff 236px,#004bff 324px,#001bd9 385px,#0001c2 419px,#00009e 450px,#000084 474px,#000084 476px)"></i><i style="left:1810px;top:484px;height:470px;background-image:linear-gradient(#ebcd14,#e9ce16 5px,#bbf344 61px,#a4ff5b 84px,#43febc 152px,#00f7ff 200px,#00c1ff 238px,#004bfe 318px,#0010d1 392px,#0000c1 414px,#0000ab 432px,#000084 467px,#000084 469px)"></i><i style="left:1812px;top:491px;height:463px;background-image:linear-gradient(#e5d21a,#e3d41c 5px,#b5f84a 60px,#a6ff59 75px,#37fec8 152px,#00f8ff 192px,#00b1ff 241px,#004bfe 310px,#000ccd 389px,#0000c2 406px,#0000a6 428px,#000084 459px,#000084 462px)"></i><i style="left:1814px;top:497px;height:456px;background-image:linear-gradient(#e0d71f,#ded821 5px,#affc50 61px,#a4ff5b 70px,#2cfed3 153px,#00f9ff 185px,#009fff 246px,#004cfe 303px,#000dce 381px,#0000c2 399px,#00009f 428px,#000084 452px,#000084 455px)"></i><i style="left:1816px;top:503px;height:449px;background-image:linear-gradient(#dbdc24,#d9dd26 5px,#acff53 58px,#54ffab 118px,#19fde6 159px,#00f9ff 178px,#004efe 295px,#0031ea 329px,#0000c3 391px,#000097 428px,#000084 445px,#000084 448px)"></i><i style="left:1818px;top:510px;height:441px;background-image:linear-gradient(#d5e12a,#d3e22c 5px,#abff54 51px,#4cffb3 115px,#0ffdf0 158px,#00fbff 169px,#00b0ff 220px,#0051ff 285px,#002ee7 325px,#0000c2 384px,#00008f 427px,#000084 438px,#000084 440px)"></i><i style="left:1820px;top:516px;height:434px;background-image:linear-gradient(#d0e62f,#cee731 5px,#acff53 44px,#3effc1 118px,#02fdfd 160px,#00f9ff 164px,#00a6ff 220px,#07f 252px,#004ffe 280px,#0023df 332px,#0000c2 377px,#000085 429px,#000084 433px)"></i><i style="left:1822px;top:523px;height:426px;background-image:linear-gradient(#c9eb36,#c8ec37 5px,#acff53 36px,#2effd1 121px,#00feff 153px,#009bff 220px,#006aff 253px,#004ffe 272px,#0019d7 336px,#0000c2 369px,#000084 422px,#000084 425px)"></i><i style="left:1824px;top:529px;height:419px;background-image:linear-gradient(#c4f03b,#c3f13c 5px,#aeff51 28px,#1effe1 125px,#0ff 146px,#008fff 221px,#005eff 254px,#004efe 265px,#000ece 344px,#0000c2 362px,#000084 415px,#000084 418px)"></i><i style="left:1826px;top:535px;height:413px;background-image:linear-gradient(#bff440,#bdf642 5px,#afff50 21px,#0efff1 129px,#00feff 139px,#0080ff 225px,#004ffe 258px,#000dcd 338px,#0000c2 355px,#000084 409px,#000084 412px)"></i><i style="left:1828px;top:542px;height:405px;background-image:linear-gradient(#b9fa46,#b7fb48 5px,#afff50 13px,#0ff 130px,#00d2ff 161px,#0071ff 227px,#0050fe 250px,#0017d5 317px,#0000c2 347px,#000084 401px,#000084 404px)"></i><i style="left:1830px;top:548px;height:398px;background-image:linear-gradient(#b4fe4b,#b3ff4c 4px,#0ff 123px,#00c8ff 161px,#006eff 222px,#0051fe 243px,#0032e9 278px,#0000c2 340px,#000084 394px,#000084 397px)"></i><i style="left:1832px;top:555px;height:390px;background-image:linear-gradient(#a9ff56,#a7ff58 4px,#01fefe 115px,#00bdff 161px,#0068ff 218px,#0052fe 235px,#002ce4 277px,#0000c2 332px,#000084 387px,#000084 389px)"></i><i style="left:1834px;top:563px;height:381px;background-image:linear-gradient(#9cff63,#9aff65 4px,#03fffc 105px,#00d3ff 137px,#005eff 216px,#0052fe 226px,#002ce5 268px,#0000c3 323px,#000084 378px,#000084 380px)"></i><i style="left:1836px;top:570px;height:373px;background-image:linear-gradient(#90ff6f,#8fff70 4px,#4dffb2 48px,#04fffb 97px,#00caff 135px,#0056ff 214px,#0027e2 266px,#0000c3 315px,#000084 370px,#000084 372px)"></i><i style="left:1838px;top:577px;height:365px;background-image:linear-gradient(#85ff7a,#83ff7c 4px,#41ffbe 48px,#04fffb 89px,#00beff 135px,#0054ff 207px,#0021dd 266px,#0000c3 307px,#000084 362px,#000084 364px)"></i><i style="left:1840px;top:585px;height:356px;background-image:linear-gradient(#7f8,#76ff89 4px,#35ffca 47px,#06fef9 80px,#00b4ff 133px,#0083ff 166px,#0053fe 199px,#001bd9 264px,#0000c3 298px,#000084 353px,#000084 355px)"></i><i style="left:1842px;top:592px;height:349px;background-image:linear-gradient(#6cff93,#6aff95 4px,#2affd5 47px,#07fff8 71px,#00abff 131px,#0079ff 165px,#0053fe 191px,#0016d5 263px,#0000c1 291px,#000084 345px,#000084 348px)"></i><i style="left:1844px;top:600px;height:340px;background-image:linear-gradient(#5fffa0,#5dffa2 4px,#1effe1 46px,#08fff7 62px,#00a2ff 128px,#006eff 164px,#0053fe 182px,#0010d1 261px,#0000c2 282px,#000084 336px,#000084 339px)"></i><i style="left:1846px;top:607px;height:332px;background-image:linear-gradient(#53ffac,#51ffae 4px,#12ffed 46px,#08fef7 54px,#02bcfd 102px,#007dff 146px,#0053fe 174px,#000acd 260px,#0000c2 274px,#000084 328px,#000084 331px)"></i><i style="left:1848px;top:614px;height:324px;background-image:linear-gradient(#47ffb8,#46ffb9 4px,#09fff6 44px,#07eef8 58px,#02affd 103px,#0068ff 153px,#0053fe 167px,#002ae3 215px,#0004c8 260px,#0000c2 267px,#000084 321px,#000084 323px)"></i><i style="left:1850px;top:622px;height:315px;background-image:linear-gradient(#3affc5,#39ffc6 4px,#08fff7 36px,#02a5fd 101px,#0057ff 155px,#0037ec 190px,#0000c6 256px,#0000ad 275px,#000084 312px,#000084 314px)"></i><i style="left:1852px;top:629px;height:307px;background-image:linear-gradient(#2fffd0,#2dffd2 4px,#09fef6 28px,#029afd 101px,#0057fe 148px,#0030e7 191px,#0000c5 249px,#00a 270px,#000084 304px,#000084 306px)"></i><i style="left:1854px;top:636px;height:299px;background-image:linear-gradient(#23ffdc,#21ffde 4px,#0afef5 20px,#05c2fa 64px,#0189fe 105px,#0056fe 141px,#0026e0 195px,#0000c6 241px,#0000a3 268px,#000084 296px,#000084 298px)"></i><i style="left:1856px;top:644px;height:291px;background-image:linear-gradient(#16ffe9,#14ffeb 4px,#0bfff4 10px,#05cafa 49px,#0181fe 102px,#0057fe 131px,#001bd9 199px,#0000c6 232px,#00009b 266px,#000084 287px,#000084 290px)"></i><i style="left:1858px;top:651px;height:283px;background-image:linear-gradient(#0cfdf3,#0cfcf3 4px,#05befa 50px,#0174fe 103px,#0057fe 123px,#000ed1 206px,#0000c6 224px,#000092 266px,#000084 279px,#000084 282px)"></i><i style="left:1860px;top:659px;height:274px;background-image:linear-gradient(#0bf1f4,#0bf0f4 4px,#04b1fb 50px,#0067ff 103px,#0056fe 115px,#000ccf 199px,#0000c6 215px,#008 266px,#000084 271px,#000084 273px)"></i><i style="left:1862px;top:666px;height:266px;background-image:linear-gradient(#0ae6f5,#0ae5f5 4px,#04aafb 47px,#0058fe 106px,#0038eb 142px,#0001c8 205px,#000084 262px,#000084 265px)"></i><i style="left:1864px;top:674px;height:257px;background-image:linear-gradient(#09daf6,#09d9f6 4px,#039efc 47px,#0059fe 97px,#0037ea 133px,#0000c7 197px,#000084 253px,#000084 256px)"></i><i style="left:1866px;top:681px;height:249px;background-image:linear-gradient(#08cff7,#08cef7 4px,#0392fc 48px,#005afe 89px,#0030e6 134px,#0000c7 189px,#000084 245px,#000084 248px)"></i><i style="left:1868px;top:689px;height:240px;background-image:linear-gradient(#07c3f8,#07c2f8 4px,#0285fd 48px,#005afe 80px,#0024de 138px,#0000c6 181px,#000084 236px,#000084 239px)"></i><i style="left:1870px;top:697px;height:231px;background-image:linear-gradient(#07b7f8,#06b6f9 4px,#0179fe 48px,#005afe 71px,#0019d7 142px,#0000c6 172px,#000084 227px,#000084 230px)"></i><i style="left:1872px;top:704px;height:224px;background-image:linear-gradient(#06acf9,#06abf9 4px,#016dfe 49px,#005afe 63px,#000ccf 149px,#0000c6 164px,#000084 220px,#000084 223px)"></i><i style="left:1874px;top:712px;height:215px;background-image:linear-gradient(#05a0fa,#059ffa 4px,#005cfe 53px,#0034e7 96px,#000ccf 140px,#0000c6 155px,#000084 211px,#000084 214px)"></i><i style="left:1876px;top:719px;height:207px;background-image:linear-gradient(#0495fb,#0494fb 4px,#005dfe 45px,#003aec 81px,#0000c7 146px,#000084 203px,#000084 206px)"></i><i style="left:1878px;top:727px;height:198px;background-image:linear-gradient(#0389fc,#0388fc 4px,#005efe 36px,#0038eb 74px,#0000c7 137px,#000084 195px,#000084 197px)"></i><i style="left:1880px;top:734px;height:190px;background-image:linear-gradient(#027efd,#027dfd 4px,#005efe 28px,#002fe6 77px,#0000c6 130px,#000084 187px,#000084 189px)"></i><i style="left:1882px;top:742px;height:181px;background-image:linear-gradient(#0172fe,#0171fe 4px,#005efe 19px,#0024e0 80px,#0000c6 121px,#000084 178px,#000084 180px)"></i><i style="left:1884px;top:750px;height:172px;background-image:linear-gradient(#06f,#0065ff 4px,#005bfc 13px,#0017d7 86px,#0000c6 112px,#000084 169px,#000084 171px)"></i><i style="left:1886px;top:757px;height:165px;background-image:linear-gradient(#005dfd,#005bfc 5px,#000ed2 88px,#0000c6 104px,#000084 161px,#000084 164px)"></i><i style="left:1888px;top:763px;height:158px;background-image:linear-gradient(#0056fa,#0054f9 5px,#0006ce 89px,#0000c7 97px,#000084 154px,#000084 157px)"></i><i style="left:1890px;top:770px;height:150px;background-image:linear-gradient(#004ff6,#004df5 5px,#0000ca 88px,#0000b0 108px,#000084 146px,#000084 149px)"></i><i style="left:1892px;top:777px;height:142px;background-image:linear-gradient(#0047f2,#0046f1 5px,#0000cb 80px,#0000ad 103px,#000084 139px,#000084 141px)"></i><i style="left:1894px;top:783px;height:135px;background-image:linear-gradient(#0041ee,#003fed 5px,#0000ca 74px,#0000a6 102px,#000084 132px,#000084 134px)"></i><i style="left:1896px;top:790px;height:127px;background-image:linear-gradient(#003aea,#0038e9 5px,#0000ca 66px,#00009f 100px,#000084 124px,#000084 126px)"></i><i style="left:1898px;top:796px;height:120px;background-image:linear-gradient(#0033e7,#0031e6 5px,#0000ca 59px,#000096 101px,#000084 117px,#000084 119px)"></i><i style="left:1900px;top:803px;height:112px;background-image:linear-gradient(#002ce3,#002ae2 5px,#0000ca 51px,#00008a 103px,#000084 109px,#000084 111px)"></i><i style="left:1902px;top:809px;height:106px;background-image:linear-gradient(#0025df,#0024de 5px,#0000ca 44px,#000085 101px,#000084 105px)"></i><i style="left:1904px;top:816px;height:98px;background-image:linear-gradient(#001edb,#001cda 5px,#0000ca 36px,#000084 94px,#000084 97px)"></i><i style="left:1906px;top:822px;height:91px;background-image:linear-gradient(#0018d8,#0016d7 5px,#0000ca 29px,#000084 87px,#000084 90px)"></i><i style="left:1908px;top:829px;height:83px;background-image:linear-gradient(#0010d4,#000ed3 5px,#0000ca 21px,#000084 79px,#000084 82px)"></i><i style="left:1910px;top:836px;height:75px;background-image:linear-gradient(#0009d0,#0007cf 5px,#0000ca 13px,#000084 71px,#000084 74px)"></i><i style="left:1912px;top:842px;height:68px;background-image:linear-gradient(#0002cd,#0001cc 5px,#000084 65px,#000084 67px)"></i><i style="left:1914px;top:847px;height:62px;background-image:linear-gradient(#0000c7,#0000c6 4px,#000084 59px,#000084 61px)"></i><i style="left:1916px;top:850px;height:59px;background-image:linear-gradient(#0000c3,#0000c1 4px,#000084 55px,#000084 58px)"></i><i style="left:1918px;top:854px;height:54px;background-image:linear-gradient(#0000bd,#00b 4px,#000084 50px,#000084 53px)"></i><i style="left:1920px;top:857px;height:50px;background-image:linear-gradient(#0000b8,#0000b7 4px,#000084 46px,#000084 49px)"></i><i style="left:1922px;top:861px;height:45px;background-image:linear-gradient(#0000b2,#0000b1 4px,#000084 41px,#000084 44px)"></i><i style="left:1924px;top:864px;height:41px;background-image:linear-gradient(#0000ad,#0000ac 4px,#000084 38px,#000084 40px)"></i><i style="left:1926px;top:867px;height:37px;background-image:linear-gradient(#0000a9,#0000a7 4px,#000084 34px,#000084 36px)"></i><i style="left:1928px;top:871px;height:32px;background-image:linear-gradient(#0000a3,#0000a2 4px,#000084 29px,#000084 31px)"></i><i style="left:1930px;top:874px;height:28px;background-image:linear-gradient(#00009e,#00009d 4px,#000084 25px,#000084 27px)"></i><i style="left:1932px;top:878px;height:24px;background-image:linear-gradient(#000098,#000097 4px,#000084 20px,#000084 23px)"></i><i style="left:1934px;top:881px;height:20px;background-image:linear-gradient(#000094,#000092 4px,#000084 16px,#000084 19px)"></i><i style="left:1936px;top:885px;height:15px;background-image:linear-gradient(#00008e,#00008c 4px,#000084 12px,#000084 14px)"></i><i style="left:1938px;top:888px;height:11px;background-image:linear-gradient(#000089,#008 4px,#000084 8px,#000084 10px)"></i><i style="left:1940px;top:891px;height:7px;background-image:linear-gradient(#000084,#000084 6px)"></i></div>
<svg width="2437" height="1320" viewBox="0 0 2437 1320">
<path d="M736.3,1095 743.1,994.1 749.9,928.3 756.6,877.1 763.4,835.5 770.1,801.6 776.9,773.8 783.6,751 790.4,732 797.1,715.4 803.9,700 810.6,685 817.4,669.6 824.1,653.6 830.9,637 837.6,619.9 844.4,602.6 851.1,585.3 857.9,568.4 864.6,552 871.4,536.4 878.1,521.6 884.9,507.9 891.6,495.1 898.4,483.4 905.1,472.8 911.9,463.1 918.6,454.5 925.4,446.9 932.1,440.3 938.9,434.7 945.6,430 952.4,426.2 959.1,423.1 965.9,420.6 972.6,418.6 979.4,417 986.1,415.7 992.9,414.5 999.6,413.3 1006.4,412.1 1013.1,410.7 1019.9,409.1 1026.6,407.1 1033.4,404.8 1040.1,402.1 1046.9,399.1 1053.6,395.7 1060.4,392 1067.1,388 1073.9,383.8 1080.6,379.4 1087.4,374.9 1094.1,370.4 1100.9,365.9 1107.6,361.4 1114.4,357.1 1121.1,353 1127.9,349 1134.6,345.3 1141.4,341.8 1148.1,338.5 1154.9,335.5 1161.6,332.7 1168.4,330 1175.1,327.6 1181.9,325.2 1188.6,323 1195.4,320.8 1202.1,318.6 1208.9,316.4 1215.6,314.2 1222.4,311.9 1229.1,309.5 1235.9,307 1242.6,304.4 1249.4,301.7 1256.1,298.8 1262.9,295.9 1269.6,292.8 1276.4,289.6 1283.1,286.4 1289.9,283.1 1296.6,279.7 1303.4,276.4 1310.1,273 1316.9,269.6 1323.6,266.3 1330.4,263 1337.1,259.8 1343.9,256.6 1350.6,253.5 1357.4,250.5 1364.1,247.6 1370.9,244.7 1377.6,241.8 1384.4,239.1 1391.1,236.3 1397.9,233.6 1404.6,230.9" fill="none" stroke="#f00" stroke-width="6" stroke-linejoin="round"/><polygon points="1384.8,236.5 1384.8,228.7 1386.3,224.6 1389.2,219.6 1392,216.6 1394.6,215 1401.7,220.4 1409.2,225.4 1418.3,232.1 1404,234" fill="#f00"/>
<defs><linearGradient id="cb" x1="0" y1="0" x2="0" y2="1"><stop offset="0%" stop-color="#800000"/><stop offset="12.5%" stop-color="#ff0000"/><stop offset="37.5%" stop-color="#ffff00"/><stop offset="62.5%" stop-color="#00ffff"/><stop offset="87.5%" stop-color="#0000ff"/><stop offset="100%" stop-color="#000080"/></linearGradient></defs>
<rect x="2158.5" y="94.5" width="130.5" height="1090.0" fill="url(#cb)" stroke="#333" stroke-width="1"/>
<g><line x1="2158.5" y1="1025.4" x2="2169.5" y2="1025.4" class="a"/><line x1="2278" y1="1025.4" x2="2289" y2="1025.4" class="a"/><line x1="2158.5" y1="866.4" x2="2169.5" y2="866.4" class="a"/><line x1="2278" y1="866.4" x2="2289" y2="866.4" class="a"/><line x1="2158.5" y1="707.3" x2="2169.5" y2="707.3" class="a"/><line x1="2278" y1="707.3" x2="2289" y2="707.3" class="a"/><line x1="2158.5" y1="548.2" x2="2169.5" y2="548.2" class="a"/><line x1="2278" y1="548.2" x2="2289" y2="548.2" class="a"/><line x1="2158.5" y1="389.2" x2="2169.5" y2="389.2" class="a"/><line x1="2278" y1="389.2" x2="2289" y2="389.2" class="a"/><line x1="2158.5" y1="230.1" x2="2169.5" y2="230.1" class="a"/><line x1="2278" y1="230.1" x2="2289" y2="230.1" class="a"/></g>
<g><text class="ti" font-size="45.7" transform="matrix(1.001 0 0 1.05 461.1 60.2)">Entropy</text>
<text class="ti" font-size="45.7" transform="matrix(1.007 0 0 1.05 649 60.2)">Evolution</text>
<text class="ti" font-size="45.7" transform="matrix(1.003 0 0 1.05 871.2 60.2)">for</text>
<text class="ti" font-size="45.7" transform="matrix(1.012 0 0 1.05 1022.4 60.2)">with</text>
<text class="ti" font-size="45.7" transform="matrix(1.036 0 0 1.05 1126.9 60.2)">Parametrized</text>
<text class="ti" font-size="45.7" transform="matrix(0.942 0 0 1.05 1436.8 60.2)">γ</text>
<text class="ti" font-size="45.7" transform="matrix(1.03 0 0 1.05 1475.6 60.2)">=</text>
<text class="ti" font-size="45.7" transform="matrix(1.028 0 0 1.05 1514.3 60.2)">cos</text>
<text class="ti" font-size="45.7" transform="matrix(1.11 0 0 1.05 1609.7 60.2)">(φ)</text>
<text class="ti" font-size="45.7" transform="matrix(1.132 0 0 1.05 943.5 60.2)">Φ</text>
<text class="ti" font-size="40" transform="matrix(0.972 0 0 1 985.5 65.2)">+</text>
<text class="ti" font-size="26.5" transform="matrix(1.121 0 0 1 1595 42)">2</text>
<text class="t" font-size="41.5" transform="matrix(1 0 0 1.08 124 995.7)">0</text>
<text class="t" font-size="41.5" transform="matrix(1 0 0 1.08 89.4 909.3)">0.2</text>
<text class="t" font-size="41.5" transform="matrix(1 0 0 1.08 87.9 823)">0.4</text>
<text class="t" font-size="41.5" transform="matrix(1 0 0 1.08 89.2 736.6)">0.6</text>
<text class="t" font-size="41.5" transform="matrix(1 0 0 1.08 89 650.3)">0.8</text>
<text class="t" font-size="41.5" transform="matrix(1 0 0 1.08 123.5 563.9)">1</text>
<text class="t" font-size="41.5" transform="matrix(1 0 0 1.08 89.4 477.6)">1.2</text>
<text class="t" font-size="41.5" transform="matrix(1 0 0 1.08 87.9 391.2)">1.4</text>
<text class="t" font-size="45.7" transform="translate(67 684.4) rotate(-90) scale(1.013 1.06) translate(-87.7 0)">Entropy</text>
<text class="t" font-size="41.5" transform="matrix(1 0 0 1.08 15.6 1058.6)">φ=0.00</text>
<text class="t" font-size="41.5" transform="matrix(1 0 0 1.08 22.2 1115)">γ=1.00</text>
<text class="t" font-size="41.5" transform="matrix(1 0 0 1.08 373.5 1118.7)">φ=0.52</text>
<text class="t" font-size="41.5" transform="matrix(1 0 0 1.08 379.6 1175.1)">γ=0.75</text>
<text class="t" font-size="41.5" transform="matrix(1 0 0 1.08 553.1 1147.7)">φ=0.79</text>
<text class="t" font-size="41.5" transform="matrix(1 0 0 1.08 559.9 1204.1)">γ=0.50</text>
<text class="t" font-size="41.5" transform="matrix(1 0 0 1.08 732 1178.3)">φ=1.05</text>
<text class="t" font-size="41.5" transform="matrix(1 0 0 1.08 738.6 1234.7)">γ=0.25</text>
<text class="t" font-size="41.5" transform="matrix(1 0 0 1.08 1090.2 1238.3)">φ=1.57</text>
<text class="t" font-size="41.5" transform="matrix(1 0 0 1.08 1096.7 1294.7)">γ=0.00</text>
<text class="t" font-size="45.7" transform="matrix(1.08 0 0 1.06 499.6 1255.3)">φ</text>
<text class="t" font-size="41.5" transform="matrix(1 0 0 1.08 1327.2 1225)">0</text>
<text class="t" font-size="41.5" transform="matrix(1 0 0 1.08 1461.1 1167.6)">2</text>
<text class="t" font-size="41.5" transform="matrix(1 0 0 1.08 1594.9 1109.8)">4</text>
<text class="t" font-size="41.5" transform="matrix(1 0 0 1.08 1727.4 1051.9)">6</text>
<text class="t" font-size="41.5" transform="matrix(1 0 0 1.08 1860.1 994)">8</text>
<text class="t" font-size="41.5" transform="matrix(1 0 0 1.08 1991.9 936.3)">10</text>
<text class="t" font-size="45.7" transform="matrix(1.051 0 0 1.06 1720.4 1127.6)">Time</text>
<text class="t" font-size="41.5" transform="matrix(1 0 0 1.08 2309.2 1200.1)">0</text>
<text class="t" font-size="41.5" transform="matrix(1 0 0 1.08 2309.2 1041)">0.2</text>
<text class="t" font-size="41.5" transform="matrix(1 0 0 1.08 2309.2 882)">0.4</text>
<text class="t" font-size="41.5" transform="matrix(1 0 0 1.08 2309.2 722.9)">0.6</text>
<text class="t" font-size="41.5" transform="matrix(1 0 0 1.08 2309.2 563.8)">0.8</text>
<text class="t" font-size="41.5" transform="matrix(1 0 0 1.08 2308.2 404.8)">1</text>
<text class="t" font-size="41.5" transform="matrix(1 0 0 1.08 2308.2 245.7)">1.2</text>
<text class="t" font-size="45.7" transform="translate(2414.5 638.5) rotate(-90) scale(1.027 1.06) translate(-87.7 0)">Entropy</text></g>
</svg>
</body></html>
